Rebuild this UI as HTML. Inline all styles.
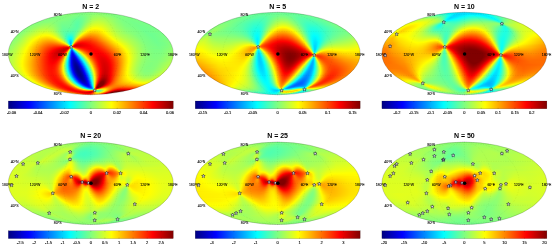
<!DOCTYPE html><html><head><meta charset="utf-8"><title>maps</title><style>
html,body{margin:0;padding:0;background:#fff}body{width:553px;height:244px;position:relative;overflow:hidden;font-family:"Liberation Sans", sans-serif}
.m{position:absolute;overflow:hidden}.m i{display:block;height:1px}
svg{position:absolute;left:0;top:0}
text{font-family:"Liberation Sans", sans-serif;fill:#000}
.t{font-size:7px;font-weight:bold;text-anchor:middle}.k{font-size:4px;text-anchor:middle}.g{font-size:3.5px;stroke:#000;stroke-width:0.07px}.k{stroke:#000;stroke-width:0.1px}
</style></head><body>
<div class="m" style="left:8px;top:12px;width:166px;height:83px;clip-path:ellipse(82.50px 41.25px at 82.80px 41.50px)">
<i style="background:linear-gradient(90deg,#82ff7d 68.8px,#81ff7e 76.8px,#8cff73 87.2px,#86ff79 96.8px)"></i>
<i style="background:linear-gradient(90deg,#86ff79 59.8px,#7eff81 74.8px,#8fff70 88.8px,#80ff7f 106.2px)"></i>
<i style="background:linear-gradient(90deg,#82ff7d 53.2px,#86ff79 61.8px,#7aff85 73.8px,#94ff6b 89.8px,#81ff7e 104.2px,#7dff82 112.2px)"></i>
<i style="background:linear-gradient(90deg,#81ff7e 48.2px,#85ff7a 61.2px,#76ff89 73.2px,#95ff6a 85.2px,#9aff65 90.2px,#80ff7f 107.2px,#7cff83 117.2px)"></i>
<i style="background:linear-gradient(90deg,#81ff7e 44.2px,#83ff7c 60.8px,#72ff8d 72.2px,#7bff84 76.8px,#9f6 85.2px,#a0ff5f 90.8px,#7fff80 108.8px,#7cff83 121.8px)"></i>
<i style="background:linear-gradient(90deg,#81ff7e 40.2px,#81ff7e 60.2px,#6eff91 71.8px,#78ff87 76.2px,#9eff61 85.2px,#a6ff59 90.8px,#a1ff5e 95.8px,#7eff81 110.8px,#7cff83 125.2px)"></i>
<i style="background:linear-gradient(90deg,#82ff7d 37.2px,#7fff80 60.2px,#69ff96 71.2px,#75ff8a 75.8px,#a2ff5d 84.8px,#adff52 90.8px,#a6ff59 96.2px,#7eff81 112.2px,#7bff84 128.8px)"></i>
<i style="background:linear-gradient(90deg,#81ff7e 34.2px,#86ff79 45.2px,#7dff82 60.2px,#68ff97 68.2px,#6f9 71.2px,#73ff8c 75.2px,#a8ff57 84.8px,#b3ff4c 90.8px,#acff53 96.2px,#7dff82 113.2px,#78ff87 120.2px,#7bff84 131.2px)"></i>
<i style="background:linear-gradient(90deg,#81ff7e 31.2px,#87ff78 46.2px,#79ff86 61.2px,#64ff9b 68.2px,#63ff9c 70.8px,#70ff8f 74.8px,#acff53 84.2px,#baff45 90.8px,#b2ff4d 96.2px,#7dff82 114.2px,#7f8 122.2px,#7bff84 134.2px)"></i>
<i style="background:linear-gradient(90deg,#81ff7e 28.8px,#8bff74 44.8px,#7bff84 54.2px,#76ff89 61.8px,#61ff9e 68.2px,#60ff9f 70.8px,#70ff8f 74.8px,#b4ff4b 84.2px,#beff41 87.2px,#c2ff3d 90.8px,#b8ff47 96.2px,#8cff73 108.8px,#7dff82 115.2px,#76ff89 123.8px,#7aff85 136.8px)"></i>
<i style="background:linear-gradient(90deg,#81ff7e 26.8px,#8fff70 43.2px,#78ff87 54.2px,#74ff8b 61.8px,#60ff9f 67.8px,#5dffa2 70.2px,#6eff91 74.2px,#b9ff46 83.8px,#c5ff3a 86.8px,#c9ff36 90.2px,#c0ff3f 95.8px,#8fff70 108.8px,#7dff82 115.8px,#75ff8a 125.8px,#7aff85 139.2px)"></i>
<i style="background:linear-gradient(90deg,#80ff7f 24.2px,#93ff6c 36.8px,#94ff6b 42.2px,#7f8 53.8px,#73ff8c 61.8px,#5effa1 67.8px,#5cffa3 70.2px,#70ff8f 74.2px,#a9ff56 80.2px,#bfff40 83.2px,#cf3 86.2px,#d1ff2e 89.8px,#c8ff37 95.2px,#92ff6d 108.8px,#7eff81 116.2px,#74ff8b 127.2px,#7aff85 141.2px)"></i>
<i style="background:linear-gradient(90deg,#80ff7f 22.2px,#97ff68 35.2px,#9aff65 41.2px,#91ff6e 45.8px,#74ff8b 53.8px,#71ff8e 61.8px,#5cffa3 67.8px,#5affa5 69.8px,#6fff90 73.8px,#adff52 79.8px,#c5ff3a 82.8px,#d6ff29 86.2px,#daff25 89.8px,#cfff30 95.2px,#97ff68 108.2px,#80ff7f 116.2px,#74ff8b 128.8px,#7aff85 143.2px)"></i>
<i style="background:linear-gradient(90deg,#81ff7e 20.8px,#9dff62 34.8px,#a0ff5f 40.8px,#96ff69 45.2px,#71ff8e 54.2px,#6fff90 61.8px,#5cffa3 67.2px,#5affa5 69.8px,#73ff8c 73.8px,#b1ff4e 79.2px,#cf3 82.2px,#deff21 85.8px,#e3ff1c 89.2px,#d8ff27 94.8px,#9aff65 108.2px,#7fff80 117.2px,#73ff8c 129.8px,#7f8 145.2px)"></i>
<i style="background:linear-gradient(90deg,#80ff7f 18.8px,#a3ff5c 33.8px,#a7ff58 39.8px,#9aff65 45.2px,#6fff90 54.2px,#6dff92 61.8px,#5affa5 69.2px,#62ff9d 71.2px,#73ff8c 73.2px,#b7ff48 78.8px,#d4ff2b 81.8px,#e8ff17 85.2px,#edff12 88.8px,#e3ff1c 93.8px,#9bff64 108.8px,#7fff80 118.2px,#72ff8d 132.2px,#7aff85 146.8px)"></i>
<i style="background:linear-gradient(90deg,#80ff7f 17.2px,#a8ff57 32.8px,#aeff51 39.2px,#a1ff5e 44.8px,#6cff93 54.8px,#6aff95 61.8px,#5affa5 68.8px,#62ff9d 70.8px,#74ff8b 72.8px,#c3ff3c 78.8px,#e1ff1e 81.8px,#f2ff0d 84.8px,#f8ff07 88.2px,#ebff14 93.8px,#a0ff5f 108.2px,#83ff7c 117.8px,#72ff8d 132.8px,#7f8 148.8px)"></i>
<i style="background:linear-gradient(90deg,#80ff7f 15.8px,#87ff78 19.8px,#afff50 32.2px,#b6ff49 38.8px,#a7ff58 44.8px,#6aff95 54.8px,#6f9 61.8px,#5affa5 68.2px,#63ff9c 70.2px,#75ff8a 72.2px,#cbff34 78.2px,#ef1 81.8px,#ff0 84.8px,#fffe00 90.2px,#efff10 94.8px,#a4ff5b 108.2px,#86ff79 117.2px,#71ff8e 133.8px,#7f8 150.2px)"></i>
<i style="background:linear-gradient(90deg,#80ff7f 14.2px,#89ff76 18.8px,#b8ff47 32.2px,#bfff40 38.8px,#adff52 44.8px,#76ff89 52.2px,#67ff98 55.2px,#5affa5 67.8px,#64ff9b 69.8px,#7f8 71.8px,#d4ff2b 77.8px,#fdff02 81.8px,#ffef00 86.8px,#fffd00 92.8px,#af5 107.8px,#8f7 117.8px,#71ff8e 135.2px,#78ff87 151.8px)"></i>
<i style="background:linear-gradient(90deg,#86ff79 12.8px,#80ff7f 13.2px,#84ff7b 15.8px,#bfff40 31.2px,#c8ff37 38.8px,#b5ff4a 44.8px,#78ff87 52.2px,#65ff9a 55.2px,#58ffa7 66.8px,#61ff9e 68.8px,#7bff84 71.2px,#d6ff29 76.8px,#fdff02 79.8px,#ffe800 83.2px,#ffe200 86.8px,#ffe800 90.2px,#fffe00 94.8px,#aeff51 107.8px,#8aff75 118.2px,#70ff8f 136.8px,#7aff85 152.8px)"></i>
<i style="background:linear-gradient(90deg,#86ff79 11.2px,#80ff7f 11.8px,#85ff7a 14.8px,#c8ff37 31.2px,#d3ff2c 38.8px,#caff35 42.2px,#baff45 45.2px,#7aff85 52.2px,#62ff9d 55.8px,#59ffa6 58.8px,#53ffac 65.2px,#5dffa2 67.8px,#7f8 70.2px,#d9ff26 75.8px,#feff01 78.2px,#ffdf00 81.8px,#ffd400 85.8px,#fd0 90.2px,#fffc00 95.8px,#b0ff4f 108.2px,#8cff73 118.8px,#70ff8f 137.2px,#78ff87 154.2px)"></i>
<i style="background:linear-gradient(90deg,#87ff78 10.2px,#81ff7e 10.8px,#8aff75 14.8px,#d5ff2a 32.2px,#deff21 38.8px,#d5ff2a 42.2px,#c4ff3b 45.2px,#79ff86 52.8px,#5effa1 56.2px,#50ffaf 60.2px,#4cffb3 64.2px,#57ffa8 66.8px,#73ff8c 69.2px,#feff01 76.8px,#ffd400 80.8px,#ffc500 85.2px,#ffd100 90.2px,#fffe00 97.2px,#b2ff4d 108.8px,#8dff72 119.8px,#70ff8f 138.2px,#79ff86 155.2px)"></i>
<i style="background:linear-gradient(90deg,#8f7 9.2px,#82ff7d 9.8px,#8bff74 13.8px,#e0ff1f 32.2px,#e9ff16 35.8px,#e9ff16 39.2px,#dfff20 42.8px,#cf3 45.8px,#afff50 48.8px,#79ff86 53.2px,#5affa5 56.8px,#47ffb8 60.2px,#42ffbd 63.2px,#4dffb2 65.8px,#6cff93 68.2px,#fdff02 75.2px,#ffdb00 77.8px,#ffc700 79.8px,#ffb900 82.2px,#ffb500 84.8px,#ffc500 90.2px,#fffd00 98.2px,#b3ff4c 109.8px,#9dff62 115.2px,#8aff75 122.8px,#6fff90 140.2px,#70ff8f 146.8px,#7cff83 156.2px)"></i>
<i style="background:linear-gradient(90deg,#8f7 8.2px,#83ff7c 9.2px,#8eff71 13.2px,#edff12 32.8px,#f5ff0a 36.2px,#f5ff0a 39.8px,#ecff13 42.8px,#d8ff27 45.8px,#baff45 48.8px,#7eff81 53.2px,#59ffa6 56.8px,#3effc1 60.2px,#36ffc9 62.8px,#3fffc0 64.8px,#59ffa6 66.8px,#80ff7f 68.8px,#efff10 73.2px,#fffa00 74.2px,#ffd800 76.2px,#ffba00 78.8px,#fa0 81.2px,#ffa400 84.2px,#fa0 87.2px,#ffb800 90.2px,#fffc00 99.2px,#cdff32 106.2px,#afff50 111.8px,#80ff7f 128.2px,#6eff91 142.8px,#7bff84 157.8px)"></i>
<i style="background:linear-gradient(90deg,#89ff76 7.2px,#83ff7c 7.8px,#85ff7a 9.2px,#93ff6c 13.2px,#faff05 33.2px,#fffb00 38.2px,#ff0 41.2px,#f1ff0e 44.2px,#df2 46.8px,#c1ff3e 49.2px,#80ff7f 53.8px,#48ffb7 58.2px,#30ffcf 60.8px,#29ffd6 62.8px,#31ffce 64.2px,#51ffae 66.2px,#81ff7e 68.2px,#cdff32 70.8px,#fffd00 72.8px,#fc0 75.2px,#ffac00 77.8px,#ff9a00 80.2px,#ff9300 83.2px,#ff9a00 86.8px,#ffab00 90.2px,#fffb00 100.2px,#ceff31 107.2px,#b3ff4c 112.2px,#80ff7f 129.8px,#6eff91 143.2px,#7dff82 157.8px,#79ff86 158.8px)"></i>
<i style="background:linear-gradient(90deg,#8aff75 6.2px,#83ff7c 6.8px,#85ff7a 8.2px,#98ff67 13.2px,#feff01 31.2px,#ffed00 38.2px,#fff000 41.2px,#fffd00 44.2px,#edff12 46.8px,#d0ff2f 49.2px,#29ffd6 60.2px,#1cffe3 61.8px,#1bffe4 62.8px,#27ffd8 64.2px,#46ffb9 65.8px,#81ff7e 67.8px,#caff35 69.8px,#f9ff06 71.2px,#fff700 71.8px,#ffbf00 74.2px,#ff9c00 76.8px,#ff8600 79.8px,#ff8100 82.8px,#f80 86.2px,#ff9e00 90.2px,#ff0 101.8px,#d2ff2d 107.8px,#b5ff4a 113.2px,#80ff7f 130.8px,#6fff90 144.2px,#7cff83 159.2px)"></i>
<i style="background:linear-gradient(90deg,#8aff75 5.2px,#84ff7b 5.8px,#87ff78 7.8px,#9bff64 12.8px,#feff01 29.2px,#ffe600 34.8px,#ffde00 38.8px,#ffe600 42.8px,#fffc00 46.2px,#ef1 48.2px,#c4ff3b 51.2px,#18ffe7 60.8px,#0dfff2 61.8px,#0bfff4 62.8px,#14ffeb 63.8px,#37ffc8 65.2px,#7fff80 67.2px,#c2ff3d 68.8px,#fcff03 70.2px,#ffbc00 72.8px,#ff9100 75.2px,#ff7600 78.2px,#ff6e00 81.8px,#ff7500 85.2px,#ff8a00 89.2px,#fcff03 103.2px,#d4ff2b 108.8px,#b7ff48 114.2px,#7fff80 132.2px,#6fff90 145.2px,#7dff82 160.2px)"></i>
<i style="background:linear-gradient(90deg,#8cff73 4.8px,#85ff7a 5.2px,#87ff78 6.8px,#9eff61 12.2px,#ff0 27.8px,#ffdb00 34.2px,#ffcf00 39.2px,#ffd900 43.8px,#fffc00 48.2px,#e8ff17 50.2px,#b5ff4a 53.2px,#0dfff2 60.8px,#00fdff 61.8px,#00feff 63.2px,#14ffeb 64.2px,#37ffc8 65.2px,#7bff84 66.8px,#cdff32 68.2px,#fcff03 69.2px,#ffca00 70.8px,#ffad00 71.8px,#ff7f00 74.2px,#ff6300 77.2px,#ff5a00 80.8px,#ff6300 84.8px,#ff7d00 89.2px,#feff01 104.2px,#d6ff29 109.8px,#baff45 115.2px,#7fff80 133.2px,#6fff90 145.8px,#7cff83 161.2px)"></i>
<i style="background:linear-gradient(90deg,#8cff73 3.8px,#86ff79 4.2px,#89ff76 6.2px,#a0ff5f 11.8px,#c3ff3c 17.8px,#ff0 26.2px,#ffce00 34.2px,#ffbf00 40.2px,#ffce00 45.2px,#ffe200 47.8px,#feff01 50.2px,#d6ff29 52.8px,#acff53 54.8px,#5cffa3 57.8px,#03fffc 60.8px,#00e9ff 62.2px,#00efff 63.2px,#00faff 63.8px,#0cfff3 64.2px,#2fd 64.8px,#75ff8a 66.2px,#f5ff0a 68.2px,#fe0 68.8px,#ffc100 69.8px,#ff9f00 70.8px,#ff8500 71.8px,#ff6a00 73.2px,#ff4f00 76.2px,#ff4700 79.8px,#ff4f00 83.8px,#ff6c00 88.8px,#fffe00 105.2px,#d9ff26 110.8px,#bdff42 116.2px,#7fff80 134.2px,#70ff8f 147.2px,#7fff80 161.8px)"></i>
<i style="background:linear-gradient(90deg,#8eff71 3.2px,#87ff78 3.8px,#8aff75 5.8px,#a3ff5c 11.2px,#fffe00 25.2px,#ffc100 34.2px,#ffb300 37.8px,#ffaf00 40.8px,#ffb400 43.8px,#ffc300 46.8px,#ffda00 49.2px,#fffc00 51.8px,#df2 53.8px,#adff52 55.8px,#5cffa3 58.2px,#00fcff 60.8px,#00e0ff 61.8px,#00d9ff 62.2px,#00e0ff 63.2px,#00f0ff 63.8px,#08fff7 64.2px,#25ffda 64.8px,#6bff94 65.8px,#e4ff1b 67.2px,#fff700 67.8px,#ffbc00 68.8px,#ff9000 69.8px,#ff7200 70.8px,#ff5c00 71.8px,#ff3f00 74.2px,#f30 78.2px,#ff3c00 82.8px,#ff5b00 88.2px,#ff0 106.8px,#dcff23 111.8px,#bdff42 117.8px,#7fff80 135.2px,#70ff8f 147.8px,#83ff7c 161.8px,#7fff80 162.8px)"></i>
<i style="background:linear-gradient(90deg,#95ff6a 2.2px,#8f7 2.8px,#89ff76 3.2px,#9bff64 8.8px,#c3ff3c 15.8px,#fdff02 23.8px,#ffb200 34.8px,#ffa300 38.2px,#ff9e00 41.8px,#ffa500 45.2px,#ffb700 48.2px,#ffd700 51.2px,#feff01 53.8px,#dcff23 55.2px,#aeff51 56.8px,#5effa1 58.8px,#00fcff 60.8px,#00d5ff 61.8px,#00caff 62.2px,#00c9ff 62.8px,#00d3ff 63.2px,#00e9ff 63.8px,#0afff5 64.2px,#32ffcd 64.8px,#f3ff0c 66.8px,#ffe000 67.2px,#ffbc00 67.8px,#ff8300 68.8px,#ff5d00 69.8px,#f40 70.8px,#ff3500 71.8px,#ff2700 73.2px,#ff1f00 76.8px,#ff2b00 82.2px,#ff4e00 88.2px,#feff01 108.2px,#dcff23 113.2px,#bdff42 119.2px,#7fff80 135.8px,#71ff8e 148.2px,#84ff7b 162.8px,#80ff7f 163.2px)"></i>
<i style="background:linear-gradient(90deg,#97ff68 1.8px,#8aff75 2.2px,#8bff74 3.2px,#9dff62 8.2px,#c5ff3a 15.2px,#fdff02 22.8px,#ffa300 35.2px,#ff9100 39.2px,#ff8c00 42.8px,#ff9300 46.2px,#ffa800 49.8px,#ffca00 52.8px,#fff900 55.2px,#eaff15 56.2px,#b2ff4d 57.8px,#65ff9a 59.2px,#09fff6 60.8px,#00eaff 61.2px,#00d0ff 61.8px,#00bfff 62.2px,#00bcff 62.8px,#00c9ff 63.2px,#00e8ff 63.8px,#16ffe9 64.2px,#8f7 65.2px,#caff35 65.8px,#fff800 66.2px,#ffc500 66.8px,#ff9a00 67.2px,#ff7800 67.8px,#ff5d00 68.2px,#ff3700 69.2px,#f20 70.2px,#ff1500 71.2px,#ff0b00 74.8px,#ff1a00 81.2px,#ff3e00 87.8px,#ff6a00 93.2px,#ffdc00 105.2px,#fdff02 109.8px,#d9ff26 115.2px,#b7ff48 121.8px,#7fff80 136.8px,#71ff8e 148.8px,#7f8 155.2px,#86ff79 163.2px,#82ff7d 163.8px)"></i>
<i style="background:linear-gradient(90deg,#98ff67 1.2px,#8cff73 1.8px,#8cff73 2.8px,#9fff60 7.8px,#c7ff38 14.8px,#fffe00 22.2px,#ff9700 35.2px,#ff8000 39.8px,#ff7900 43.8px,#ff8200 48.2px,#ff9f00 52.2px,#ffca00 55.2px,#feff01 57.2px,#b9ff46 58.8px,#52ffad 60.2px,#0ff 61.2px,#00d9ff 61.8px,#00bdff 62.2px,#00b5ff 62.8px,#00c7ff 63.2px,#00f3ff 63.8px,#36ffc9 64.2px,#80ff7f 64.8px,#d5ff2a 65.2px,#ffde00 65.8px,#ffa000 66.2px,#ff7100 66.8px,#ff4c00 67.2px,#ff3200 67.8px,#ff1000 68.8px,#f00 69.8px,#fb0000 70.2px,#f60000 72.8px,#ff0100 77.2px,#ff2900 86.2px,#ff5a00 92.8px,#fc0 104.8px,#fffe00 110.8px,#b5ff4a 123.2px,#7fff80 137.2px,#72ff8d 149.2px,#78ff87 155.8px,#8f7 163.8px,#83ff7c 164.2px)"></i>
<i style="background:linear-gradient(90deg,#9aff65 0.8px,#8dff72 1.2px,#8eff71 2.2px,#a1ff5e 7.2px,#c9ff36 14.2px,#feff01 21.2px,#ff8400 36.2px,#ff6d00 40.8px,#ff6400 45.2px,#ff6e00 50.2px,#ff8900 54.2px,#ffb000 56.8px,#fc0 57.8px,#fff600 58.8px,#ecff13 59.2px,#c9ff36 59.8px,#6cff93 60.8px,#02fffd 61.8px,#00d3ff 62.2px,#00c0ff 62.8px,#00d7ff 63.2px,#1bffe4 63.8px,#7f8 64.2px,#e6ff19 64.8px,#ffb900 65.2px,#ff7100 65.8px,#ff3e00 66.2px,#ff1b00 66.8px,#ff0500 67.2px,#f50000 67.8px,#e60000 68.8px,#e20000 70.2px,#ff0100 79.8px,#ff1c00 85.8px,#ff5200 93.2px,#ffcd00 106.2px,#ff0 112.2px,#d6ff29 118.2px,#b0ff4f 125.2px,#7fff80 138.2px,#73ff8c 149.8px,#79ff86 156.2px,#8aff75 164.2px,#85ff7a 164.8px)"></i>
<i style="background:linear-gradient(90deg,#95ff6a 0.8px,#8fff70 1.2px,#91ff6e 2.8px,#af5 8.2px,#ceff31 14.2px,#fffe00 20.8px,#ff9800 32.2px,#ff7200 37.2px,#ff5800 42.2px,#ff4d00 47.2px,#f50 53.2px,#ff6c00 56.8px,#ff7c00 57.8px,#ff9600 58.8px,#ffc200 59.8px,#ffe300 60.2px,#ef1 60.8px,#b1ff4e 61.2px,#28ffd7 62.2px,#02fffd 62.8px,#1bffe4 63.2px,#75ff8a 63.8px,#fcff03 64.2px,#ff8c00 64.8px,#ff3c00 65.2px,#ff0b00 65.8px,#ef0000 66.2px,#d90000 67.2px,#d50000 68.2px,#f00 81.2px,#ff1600 86.2px,#ff4b00 93.8px,#ffcf00 107.8px,#fdff02 113.8px,#afff50 126.2px,#7fff80 138.8px,#74ff8b 150.2px,#7aff85 156.8px,#8bff74 164.2px,#87ff78 165.2px)"></i>
<i style="background:linear-gradient(90deg,#9dff62 0.2px,#91ff6e 0.8px,#92ff6d 1.2px,#a4ff5b 6.2px,#c9ff36 12.8px,#fdff02 19.8px,#ff7e00 34.2px,#ff5300 40.2px,#ff3600 47.2px,#ff2a00 55.8px,#ff3400 58.8px,#ff4300 59.8px,#ff5100 60.2px,#ff6700 60.8px,#ff8b00 61.2px,#ffc700 61.8px,#e3ff1c 62.2px,#96ff69 62.8px,#90ff6f 63.2px,#e7ff18 63.8px,#ff9c00 64.2px,#ff3e00 64.8px,#ff0c00 65.2px,#f40000 65.8px,#e60000 66.8px,#e40000 67.8px,#f00 82.2px,#ff1300 87.2px,#ff4700 94.8px,#ffcd00 108.8px,#feff01 114.8px,#d4ff2b 120.8px,#aeff51 127.2px,#93ff6c 133.2px,#80ff7f 139.2px,#76ff89 151.2px,#8bff74 165.2px)"></i>
<i style="background:linear-gradient(90deg,#93ff6c 0.2px,#9f6 3.2px,#b5ff4a 8.8px,#feff01 19.2px,#ff7500 34.2px,#ff4d00 39.2px,#ff2b00 44.8px,#f00 54.8px,#e70000 59.2px,#ea0000 60.2px,#f40000 60.8px,#ff0f00 61.2px,#ff4800 61.8px,#ffaf00 62.2px,#ceff31 62.8px,#7cff83 63.2px,#8dff72 63.8px,#e3ff1c 64.2px,#ffc400 64.8px,#f80 65.2px,#ff6200 65.8px,#ff4a00 66.2px,#ff2f00 67.2px,#ff1b00 68.8px,#ff1000 70.2px,#f00 75.8px,#ff0100 83.8px,#ff1f00 90.8px,#ff5200 97.2px,#ffcb00 109.8px,#ff0 115.8px,#d3ff2c 121.8px,#afff50 127.8px,#93ff6c 133.8px,#80ff7f 139.8px,#7f8 151.2px,#7eff81 157.8px,#8fff70 164.8px,#8aff75 165.8px)"></i>
<i style="background:linear-gradient(90deg,#95ff6a 0.2px,#9bff64 2.8px,#b8ff47 8.8px,#ff0 18.8px,#ff4a00 38.2px,#f20 43.8px,#fd0000 49.8px,#c90000 58.2px,#c00 59.2px,#d40000 59.8px,#e40000 60.2px,#ff0500 60.8px,#ff3d00 61.2px,#ff9c00 61.8px,#daff25 62.2px,#4affb5 62.8px,#00ecff 63.2px,#00d9ff 63.8px,#08fff7 64.2px,#9dff62 65.2px,#e0ff1f 65.8px,#ffea00 66.2px,#ffc300 66.8px,#ffa400 67.2px,#ff7900 68.2px,#ff5100 69.8px,#ff3900 71.2px,#ff1f00 73.8px,#ff0d00 76.8px,#ff0100 80.2px,#f00 83.8px,#ff0f00 89.2px,#ff3100 94.8px,#feff01 116.8px,#d1ff2e 122.8px,#acff53 128.8px,#91ff6e 134.8px,#80ff7f 140.2px,#78ff87 146.2px,#78ff87 152.8px,#92ff6d 165.8px)"></i>
<i style="background:linear-gradient(90deg,#97ff68 0.2px,#a0ff5f 3.2px,#bcff43 8.8px,#ff0 18.2px,#ff4500 37.8px,#fe0000 46.8px,#cd0000 54.2px,#c30000 56.8px,#c00 58.2px,#e70000 59.2px,#ff0300 59.8px,#ff2c00 60.2px,#ff6900 60.8px,#ffbf00 61.2px,#cf3 61.8px,#4effb1 62.2px,#00deff 62.8px,#008eff 63.2px,#0073ff 63.8px,#0089ff 64.2px,#00bdff 64.8px,#00fdff 65.2px,#73ff8c 66.2px,#d5ff2a 67.2px,#fbff04 67.8px,#ffe400 68.2px,#ffb200 69.2px,#ff7f00 70.8px,#ff5c00 72.2px,#ff3b00 74.2px,#ff2000 76.8px,#ff0f00 79.2px,#ff0300 82.2px,#f00 85.2px,#ff0c00 90.2px,#ff2e00 95.8px,#ff5f00 101.2px,#fd0 113.8px,#fdff02 117.8px,#ceff31 123.8px,#acff53 129.2px,#92ff6d 134.8px,#80ff7f 140.8px,#7aff85 152.8px,#93ff6c 165.8px)"></i>
<i style="background:linear-gradient(90deg,#9f6 0.2px,#bdff42 8.2px,#ff0 17.8px,#ffc400 24.2px,#ff3900 38.2px,#fc0000 45.2px,#cf0000 51.8px,#c20000 55.2px,#c60000 56.2px,#d30000 57.2px,#e00 58.2px,#ff0700 58.8px,#ff2700 59.2px,#ff5300 59.8px,#ff8e00 60.2px,#ffdb00 60.8px,#c4ff3b 61.2px,#5dffa2 61.8px,#00faff 62.2px,#00a3ff 62.8px,#0063ff 63.2px,#0046ff 63.8px,#004aff 64.2px,#0069ff 64.8px,#01fffe 66.2px,#5effa1 67.2px,#aeff51 68.2px,#f0ff0f 69.2px,#fff300 69.8px,#ffb300 71.2px,#ff8400 72.8px,#ff6200 74.2px,#ff4000 76.2px,#f20 78.8px,#ff0f00 81.2px,#ff0400 83.8px,#f00 86.8px,#ff0c00 91.8px,#ff2f00 97.2px,#feff01 118.2px,#d2ff2d 123.8px,#aeff51 129.2px,#94ff6b 134.8px,#81ff7e 140.8px,#7aff85 146.8px,#7bff84 152.8px,#95ff6a 165.8px)"></i>
<i style="background:linear-gradient(90deg,#9cff63 0.2px,#c0ff3f 8.2px,#ff0 17.2px,#ffc500 23.8px,#ff3c00 37.2px,#f00 43.8px,#d20000 49.8px,#c30000 53.2px,#c70000 54.8px,#d00000 55.8px,#f30000 57.2px,#ff0900 57.8px,#ff4600 58.8px,#ff7200 59.2px,#ffa900 59.8px,#ffed00 60.2px,#c1ff3e 60.8px,#18ffe7 61.8px,#00c6ff 62.2px,#0080ff 62.8px,#004bff 63.2px,#002dff 63.8px,#0028ff 64.2px,#0037ff 64.8px,#05f 65.2px,#02fffd 67.2px,#50ffaf 68.2px,#b6ff49 69.8px,#ef1 70.8px,#fff800 71.2px,#fb0 72.8px,#ff8000 74.8px,#ff5600 76.8px,#ff3600 78.8px,#ff1b00 81.2px,#ff0900 83.8px,#f00 86.2px,#f00 89.8px,#f10 94.2px,#ff3600 99.2px,#ff0 118.8px,#d1ff2e 124.2px,#adff52 129.8px,#93ff6c 135.2px,#82ff7d 140.8px,#7bff84 146.8px,#7cff83 153.2px,#98ff67 165.8px)"></i>
<i style="background:linear-gradient(90deg,#9fff60 0.2px,#c0ff3f 7.8px,#feff01 16.8px,#ffc600 23.2px,#ff2700 38.8px,#fc0000 43.2px,#d50000 48.2px,#c60000 51.8px,#cf0000 54.2px,#d00 55.2px,#f60000 56.2px,#ff0900 56.8px,#ff1f00 57.2px,#ff5e00 58.2px,#f80 58.8px,#fb0 59.2px,#fff700 59.8px,#c1ff3e 60.2px,#2fffd0 61.2px,#00e7ff 61.8px,#00a3ff 62.2px,#0068ff 62.8px,#003aff 63.2px,#001dff 63.8px,#0012ff 64.2px,#0017ff 64.8px,#002aff 65.2px,#0046ff 65.8px,#04fffb 68.2px,#49ffb6 69.2px,#c0ff3f 71.2px,#f2ff0d 72.2px,#fff600 72.8px,#ffbd00 74.2px,#ff8200 76.2px,#ff5700 78.2px,#ff2f00 80.8px,#ff1500 83.2px,#ff0400 85.8px,#fe0000 91.8px,#f10 95.8px,#ff3900 100.8px,#ff0 119.2px,#d0ff2f 124.8px,#afff50 129.8px,#94ff6b 135.2px,#83ff7c 140.8px,#7cff83 146.8px,#7eff81 153.2px,#9bff64 165.8px)"></i>
<i style="background:linear-gradient(90deg,#a1ff5e 0.2px,#c1ff3e 7.2px,#fffc00 16.8px,#ffbe00 23.8px,#ff1d00 39.2px,#fb0000 42.8px,#d70000 47.2px,#ca0000 50.8px,#d40000 53.2px,#e10000 54.2px,#f80000 55.2px,#ff0800 55.8px,#ff1b00 56.2px,#ff4f00 57.2px,#ff9800 58.2px,#fffd00 59.2px,#04fffb 61.2px,#00c4ff 61.8px,#0056ff 62.8px,#002eff 63.2px,#0012ff 63.8px,#0003ff 64.2px,#0002ff 64.8px,#000bff 65.2px,#0039ff 66.2px,#00e4ff 68.8px,#06fff9 69.2px,#61ff9e 70.8px,#cdff32 72.8px,#fbff04 73.8px,#fe0 74.2px,#ffa800 76.2px,#ff7300 78.2px,#ff4a00 80.2px,#ff2500 82.8px,#ff1000 84.8px,#f00 87.2px,#f80000 90.2px,#f00 93.8px,#ff1200 97.2px,#ff3800 101.8px,#ff0 119.8px,#cfff30 125.2px,#adff52 130.2px,#95ff6a 135.2px,#84ff7b 140.8px,#7dff82 146.8px,#7fff80 153.2px,#9dff62 165.8px)"></i>
<i style="background:linear-gradient(90deg,#a4ff5b 0.2px,#c3ff3c 7.2px,#fffd00 16.2px,#fb0 23.8px,#ff1e00 38.8px,#fb0000 42.2px,#d90000 46.8px,#ce0000 50.2px,#d00 52.8px,#f80000 54.2px,#ff0700 54.8px,#ff2b00 55.8px,#ff5e00 56.8px,#ffa300 57.8px,#ff0 58.8px,#1cffe3 60.8px,#00e2ff 61.2px,#0076ff 62.2px,#0049ff 62.8px,#0024ff 63.2px,#0008ff 63.8px,#0000f7 64.2px,#0000f1 64.8px,#0002ff 65.8px,#0015ff 66.2px,#004aff 67.2px,#00eaff 69.8px,#0afff5 70.2px,#c5ff3a 73.8px,#f3ff0c 74.8px,#fff600 75.2px,#ffaf00 77.2px,#f70 79.2px,#ff4300 81.8px,#ff1f00 84.2px,#f00 87.8px,#f50000 91.2px,#fe0000 95.2px,#ff1400 98.8px,#ff3900 102.8px,#ffd600 116.2px,#fdff02 120.2px,#d0ff2f 125.2px,#aeff51 130.2px,#95ff6a 135.2px,#84ff7b 140.8px,#7eff81 146.2px,#80ff7f 152.8px,#9fff60 165.8px)"></i>
<i style="background:linear-gradient(90deg,#a6ff59 0.2px,#c6ff39 7.2px,#fffe00 15.8px,#ffb300 24.2px,#fd0000 41.8px,#dc0000 46.2px,#d30000 49.2px,#e10000 51.8px,#ff0500 53.8px,#ff3700 55.2px,#ff6900 56.2px,#fa0 57.2px,#fffe00 58.2px,#00fcff 60.8px,#0067ff 62.2px,#001bff 63.2px,#0001ff 63.8px,#00e 64.2px,#0000e5 64.8px,#0000e4 65.2px,#0000f8 66.2px,#000cff 66.8px,#005aff 68.2px,#00f1ff 70.8px,#0efff1 71.2px,#a9ff56 74.2px,#efff10 75.8px,#fffa00 76.2px,#ffb200 78.2px,#ff6d00 80.8px,#ff4300 82.8px,#ff1c00 85.2px,#f00 88.2px,#f20000 92.2px,#fe0000 96.8px,#ff1400 99.8px,#ff3b00 103.8px,#fffe00 120.2px,#d1ff2e 125.2px,#aeff51 130.2px,#95ff6a 135.2px,#85ff7a 140.8px,#7eff81 146.2px,#80ff7f 152.2px,#a1ff5e 165.8px)"></i>
<i style="background:linear-gradient(90deg,#a8ff57 0.2px,#c5ff3a 6.8px,#feff01 15.2px,#ffba00 23.2px,#ff1e00 38.2px,#fc0000 41.8px,#e20000 45.2px,#d90000 48.2px,#e40000 50.8px,#ff0300 52.8px,#ff2e00 54.2px,#ff5700 55.2px,#ffae00 56.8px,#fffc00 57.8px,#d6ff29 58.2px,#16ffe9 60.2px,#00e4ff 60.8px,#0086ff 61.8px,#0035ff 62.8px,#0015ff 63.2px,#0000fa 63.8px,#0000e7 64.2px,#0000d7 65.2px,#0000e2 66.2px,#0004ff 67.2px,#004dff 68.8px,#00f8ff 71.8px,#15ffea 72.2px,#c2ff3d 75.8px,#efff10 76.8px,#fffb00 77.2px,#ffb200 79.2px,#ff6b00 81.8px,#ff3700 84.2px,#ff1200 86.8px,#fe0000 88.8px,#f30000 90.8px,#e00 93.2px,#fd0000 97.8px,#ff1000 100.2px,#f30 103.8px,#ffd400 116.8px,#fdff02 120.8px,#ceff31 125.8px,#aeff51 130.2px,#95ff6a 135.2px,#85ff7a 140.8px,#7fff80 146.2px,#82ff7d 152.2px,#a3ff5c 165.8px)"></i>
<i style="background:linear-gradient(90deg,#af5 0.2px,#c4ff3b 6.2px,#fffd00 15.2px,#ffb800 23.2px,#ff1d00 38.2px,#fb0000 41.8px,#e40000 45.2px,#df0000 47.8px,#e70000 49.8px,#ff0100 51.8px,#ff2500 53.2px,#ff5d00 54.8px,#ffaf00 56.2px,#fff700 57.2px,#deff21 57.8px,#00feff 60.2px,#0052ff 62.2px,#000fff 63.2px,#0000f5 63.8px,#0000d4 64.8px,#00c 65.8px,#0000db 66.8px,#0000fb 67.8px,#01f 68.2px,#0042ff 69.2px,#02fffd 72.8px,#c6ff39 76.8px,#f2ff0d 77.8px,#fff700 78.2px,#ffaf00 80.2px,#ff6700 82.8px,#ff3200 85.2px,#ff0d00 87.8px,#fd0000 89.2px,#f00000 91.2px,#eb0000 93.8px,#ef0000 96.2px,#fd0000 98.8px,#ff1200 101.2px,#ff3700 104.8px,#ffcb00 116.2px,#feff01 120.8px,#ceff31 125.8px,#aeff51 130.2px,#95ff6a 135.2px,#85ff7a 140.8px,#80ff7f 146.2px,#83ff7c 151.8px,#a6ff59 165.8px)"></i>
<i style="background:linear-gradient(90deg,#acff53 0.2px,#c6ff39 6.2px,#ff0 14.8px,#fb0 22.8px,#ff2100 37.8px,#fc0000 41.8px,#ec0000 44.2px,#e50000 46.8px,#ea0000 48.8px,#f00 50.8px,#ff1e00 52.2px,#ff4d00 53.8px,#ff9200 55.2px,#fff100 56.8px,#e8ff17 57.2px,#18ffe7 59.8px,#00ecff 60.2px,#0071ff 61.8px,#0029ff 62.8px,#000bff 63.2px,#0000f1 63.8px,#0000cf 64.8px,#0000c2 65.8px,#0000ca 66.8px,#0000f4 68.2px,#0009ff 68.8px,#0051ff 70.2px,#00f1ff 73.2px,#0cfff3 73.8px,#e3ff1c 78.2px,#f8ff07 78.8px,#fff100 79.2px,#ffa900 81.2px,#ff6100 83.8px,#ff2b00 86.2px,#ff0700 88.8px,#fc0000 89.8px,#e00 91.8px,#e70000 94.2px,#ec0000 96.8px,#fd0000 99.8px,#ff3700 105.2px,#ffc300 115.8px,#ff0 120.8px,#ceff31 125.8px,#adff52 130.2px,#94ff6b 135.2px,#86ff79 140.2px,#80ff7f 145.8px,#83ff7c 151.2px,#a9ff56 165.8px)"></i>
<i style="background:linear-gradient(90deg,#aeff51 0.2px,#c5ff3a 5.8px,#fffd00 14.8px,#ffbd00 22.2px,#ff2500 37.2px,#fd0000 41.8px,#eb0000 46.2px,#f10000 48.2px,#fe0000 49.8px,#ff0600 50.2px,#ff2400 51.8px,#ff5100 53.2px,#ff9100 54.8px,#ffe900 56.2px,#f3ff0c 56.8px,#08fff7 59.8px,#00deff 60.2px,#0069ff 61.8px,#0026ff 62.8px,#0009ff 63.2px,#0000ef 63.8px,#0000ca 64.8px,#0000c0 65.2px,#0000b8 66.2px,#0000bc 66.8px,#0000ce 67.8px,#0002ff 69.2px,#0048ff 70.8px,#00fdff 74.2px,#18ffe7 74.8px,#bfff40 78.2px,#fffd00 79.8px,#ffb100 81.8px,#ff6500 84.2px,#ff2d00 86.8px,#ff0600 89.2px,#f00 89.8px,#eb0000 92.2px,#e40000 94.8px,#e90000 97.2px,#fc0000 100.2px,#ff0a00 101.8px,#ff3100 105.2px,#ffc100 115.8px,#ff0 120.8px,#d2ff2d 125.2px,#afff50 129.8px,#97ff68 134.2px,#87ff78 139.2px,#82ff7d 148.8px,#8eff71 155.8px,#af5 164.2px,#abff54 165.2px,#9fff60 165.8px)"></i>
<i style="background:linear-gradient(90deg,#bf4 0.2px,#b1ff4e 0.8px,#b9ff46 3.2px,#feff01 14.2px,#ffc100 21.8px,#ff2900 36.8px,#fe0000 41.8px,#f00000 45.8px,#fe0000 48.8px,#ff1300 50.2px,#ff3400 51.8px,#ff6400 53.2px,#ffa700 54.8px,#feff01 56.2px,#21ffde 59.2px,#00faff 59.8px,#0064ff 61.8px,#0023ff 62.8px,#0007ff 63.2px,#0000ed 63.8px,#0000c8 64.8px,#0000bc 65.2px,#0000b4 65.8px,#0000b1 66.8px,#0000c9 68.2px,#0000fb 69.8px,#0040ff 71.2px,#00f2ff 74.8px,#0cfff3 75.2px,#e2ff1d 79.8px,#f8ff07 80.2px,#fff100 80.8px,#ffa600 82.8px,#ff5b00 85.2px,#ff2d00 87.2px,#ff0400 89.8px,#e80000 92.8px,#e10000 95.2px,#e70000 97.8px,#fb0000 100.8px,#ff0500 101.8px,#ff2d00 105.2px,#ffc000 115.8px,#ff0 120.8px,#d1ff2e 125.2px,#aeff51 129.8px,#96ff69 134.2px,#87ff78 139.2px,#81ff7e 144.2px,#83ff7c 149.2px,#90ff6f 155.8px,#abff54 163.2px,#adff52 164.8px,#a7ff58 165.2px)"></i>
<i style="background:linear-gradient(90deg,#b8ff47 0.8px,#b4ff4b 1.2px,#beff41 4.2px,#ff0 14.2px,#ffb100 23.2px,#ff2000 37.8px,#fe0000 42.2px,#f50000 45.2px,#fe0000 47.8px,#ff2000 50.2px,#ff4300 51.8px,#ff7600 53.2px,#fb0 54.8px,#fff300 55.8px,#ebff14 56.2px,#16ffe9 59.2px,#00f0ff 59.8px,#0061ff 61.8px,#0023ff 62.8px,#0007ff 63.2px,#0000ed 63.8px,#0000b9 65.2px,#0000a8 66.8px,#0000b8 68.2px,#0000d2 69.2px,#0000f6 70.2px,#000bff 70.8px,#0038ff 71.8px,#02fffd 75.8px,#d9ff26 80.2px,#fff800 81.2px,#fa0 83.2px,#ff5c00 85.8px,#ff2c00 87.8px,#ff0200 90.2px,#e80000 92.8px,#df0000 95.2px,#e50000 98.2px,#fb0000 101.2px,#ff0600 102.2px,#ff2900 105.2px,#ffc600 116.2px,#ff0 120.8px,#d0ff2f 125.2px,#b0ff4f 129.2px,#97ff68 133.8px,#87ff78 138.8px,#83ff7c 148.2px,#91ff6e 155.2px,#aeff51 163.2px,#afff50 164.8px,#a3ff5c 165.2px)"></i>
<i style="background:linear-gradient(90deg,#bfff40 0.8px,#b5ff4a 1.2px,#bcff43 3.8px,#fffe00 14.2px,#ffb500 22.8px,#ff2500 37.2px,#ff0d00 40.2px,#fe0000 42.8px,#fa0000 44.8px,#f00 46.8px,#ff1200 48.8px,#ff2b00 50.2px,#ff5000 51.8px,#ff7200 52.8px,#ffb100 54.2px,#faff05 55.8px,#0efff1 59.2px,#00eaff 59.8px,#0060ff 61.8px,#0023ff 62.8px,#0008ff 63.2px,#00e 63.8px,#0000c7 64.8px,#0000ad 65.8px,#0000a1 67.2px,#0000b4 68.8px,#0000ce 69.8px,#0000f1 70.8px,#0006ff 71.2px,#0062ff 73.2px,#00f9ff 76.2px,#12ffed 76.8px,#fffe00 81.8px,#ffad00 83.8px,#ff5c00 86.2px,#ff2100 88.8px,#fe0000 90.8px,#e50000 93.2px,#d00 95.8px,#e40000 98.8px,#fc0000 101.8px,#ff2c00 105.8px,#ffc600 116.2px,#fdff02 120.8px,#ceff31 125.2px,#aeff51 129.2px,#95ff6a 133.8px,#86ff79 138.8px,#81ff7e 144.2px,#86ff79 149.8px,#b1ff4e 163.2px,#b1ff4e 164.2px,#a4ff5b 164.8px)"></i>
<i style="background:linear-gradient(90deg,#c2ff3d 1.2px,#b7ff48 1.8px,#bfff40 4.2px,#fffd00 14.2px,#ffb900 22.2px,#ff2100 37.8px,#ff0800 41.2px,#f00 43.8px,#ff0100 45.8px,#ff0a00 47.2px,#ff1a00 48.8px,#ff3500 50.2px,#ff5c00 51.8px,#ff7e00 52.8px,#ffbf00 54.2px,#fff300 55.2px,#edff12 55.8px,#09fff6 59.2px,#00e6ff 59.8px,#0061ff 61.8px,#0025ff 62.8px,#000aff 63.2px,#0000f1 63.8px,#0000c8 64.8px,#0000ac 65.8px,#00009d 66.8px,#00009b 67.8px,#0000a6 68.8px,#0000bc 69.8px,#0002ff 71.8px,#005cff 73.8px,#00f2ff 76.8px,#0cfff3 77.2px,#fdff02 82.2px,#ff9c00 84.8px,#ff5b00 86.8px,#ff2900 88.8px,#ff0300 90.8px,#e20000 93.8px,#da0000 96.2px,#e40000 99.2px,#fe0000 102.2px,#ff3100 106.2px,#ffd500 117.2px,#fcff03 120.8px,#cf3 125.2px,#adff52 129.2px,#94ff6b 133.8px,#86ff79 138.2px,#81ff7e 143.8px,#87ff78 149.2px,#b3ff4c 162.8px,#b3ff4c 163.8px,#a6ff59 164.2px)"></i>
<i style="background:linear-gradient(90deg,#c4ff3b 1.8px,#baff45 2.2px,#c1ff3e 4.8px,#fffd00 14.2px,#ffb900 22.2px,#f20 37.8px,#ff0a00 41.2px,#ff0300 44.2px,#ff1000 47.2px,#f20 48.8px,#ff3e00 50.2px,#f60 51.8px,#ff8900 52.8px,#ffc900 54.2px,#fffe00 55.2px,#c5ff3a 56.2px,#06fff9 59.2px,#00e4ff 59.8px,#0029ff 62.8px,#000eff 63.2px,#0000f5 63.8px,#0000cb 64.8px,#0000ad 65.8px,#00009b 66.8px,#000095 67.8px,#00009b 68.8px,#0000ad 69.8px,#0000c7 70.8px,#0000fd 72.2px,#0058ff 74.2px,#00edff 77.2px,#07fff8 77.8px,#fbff04 82.8px,#ffed00 83.2px,#ff9c00 85.2px,#ff5900 87.2px,#ff2500 89.2px,#f00 91.2px,#e30000 93.8px,#d90000 96.2px,#e10000 99.2px,#fb0000 102.2px,#ff0200 102.8px,#ff2900 105.8px,#ffba00 115.2px,#fffe00 120.2px,#cfff30 124.8px,#aeff51 128.8px,#94ff6b 133.2px,#86ff79 137.8px,#81ff7e 143.2px,#87ff78 148.8px,#b5ff4a 162.2px,#b5ff4a 163.2px,#a7ff58 163.8px)"></i>
<i style="background:linear-gradient(90deg,#c7ff38 2.2px,#bcff43 2.8px,#c3ff3c 5.2px,#fffe00 14.2px,#ffb900 22.2px,#ff2700 37.2px,#ff0f00 40.8px,#ff0600 43.8px,#f10 46.8px,#ff2100 48.2px,#ff3a00 49.8px,#ff5f00 51.2px,#ff7f00 52.2px,#ffa500 53.2px,#ffea00 54.8px,#f9ff06 55.2px,#06fff9 59.2px,#00e5ff 59.8px,#004aff 62.2px,#0014ff 63.2px,#0000fa 63.8px,#0000be 65.2px,#0000a3 66.2px,#000094 67.2px,#000090 68.2px,#000098 69.2px,#00a 70.2px,#0000c5 71.2px,#0000fa 72.8px,#0010ff 73.2px,#003dff 74.2px,#04fffb 78.2px,#fbff04 83.2px,#ffed00 83.8px,#ff9a00 85.8px,#ff5600 87.8px,#ff2d00 89.2px,#ff0400 91.2px,#df0000 94.2px,#d70000 96.8px,#e30000 99.8px,#f00 102.8px,#ff3600 106.8px,#ffc300 115.8px,#feff01 120.2px,#cdff32 124.8px,#acff53 128.8px,#93ff6c 133.2px,#85ff7a 137.8px,#81ff7e 142.8px,#87ff78 148.2px,#b7ff48 161.8px,#b8ff47 162.8px,#a8ff57 163.2px)"></i>
<i style="background:linear-gradient(90deg,#c4ff3b 3.2px,#bfff40 3.8px,#c8ff37 6.2px,#ff0 14.2px,#ffbe00 21.8px,#ff2c00 36.8px,#ff1000 40.8px,#ff0900 43.8px,#ff1500 46.8px,#ff2500 48.2px,#ff4000 49.8px,#ff6500 51.2px,#ff8400 52.2px,#ffbf00 53.8px,#ffef00 54.8px,#f5ff0a 55.2px,#08fff7 59.2px,#00e8ff 59.8px,#006eff 61.8px,#001bff 63.2px,#0002ff 63.8px,#0000ea 64.2px,#0000b3 65.8px,#00009b 66.8px,#00008e 67.8px,#00008c 68.8px,#000095 69.8px,#0000a8 70.8px,#0000c3 71.8px,#0000f8 73.2px,#000eff 73.8px,#003aff 74.8px,#01fffe 78.8px,#fcff03 83.8px,#ffeb00 84.2px,#ff9600 86.2px,#ff5100 88.2px,#ff1c00 90.2px,#fe0000 91.8px,#e00000 94.2px,#d60000 96.8px,#e10000 99.8px,#fe0000 102.8px,#ff2f00 106.2px,#fc0 116.2px,#fdff02 120.2px,#cbff34 124.8px,#abff54 128.8px,#94ff6b 132.8px,#85ff7a 137.2px,#80ff7f 142.2px,#87ff78 147.8px,#b9ff46 161.2px,#baff45 162.2px,#af5 162.8px)"></i>
<i style="background:linear-gradient(90deg,#c6ff39 3.8px,#c0ff3f 4.2px,#c9ff36 6.8px,#fffc00 14.8px,#fb0 22.2px,#ff2d00 36.8px,#ff1200 40.8px,#ff0b00 43.8px,#ff1800 46.8px,#ff2900 48.2px,#ff4300 49.8px,#ff6900 51.2px,#f80 52.2px,#ffc200 53.8px,#fff100 54.8px,#f4ff0b 55.2px,#0dfff2 59.2px,#0ef 59.8px,#0076ff 61.8px,#0023ff 63.2px,#000aff 63.8px,#0000f2 64.2px,#0000b9 65.8px,#00009e 66.8px,#00008e 67.8px,#008 68.8px,#00008d 69.8px,#0000a6 71.2px,#0000c1 72.2px,#0000f6 73.8px,#000cff 74.2px,#0038ff 75.2px,#01fffe 79.2px,#ff0 84.2px,#ffa500 86.2px,#ff5b00 88.2px,#ff2f00 89.8px,#ff0200 91.8px,#e00000 94.2px,#d50000 96.8px,#df0000 99.8px,#fd0000 102.8px,#ff2000 105.2px,#ffb800 114.8px,#fffd00 119.8px,#caff35 124.8px,#a9ff56 128.8px,#90ff6f 133.2px,#83ff7c 137.8px,#86ff79 146.2px,#98ff67 152.2px,#b9ff46 159.8px,#bf4 161.2px,#b3ff4c 161.8px)"></i>
<i style="background:linear-gradient(90deg,#caff35 4.8px,#c4ff3b 5.2px,#caff35 7.2px,#fffe00 14.8px,#ffc100 21.8px,#ff2e00 36.8px,#ff1600 40.2px,#ff0d00 43.2px,#ff1000 45.2px,#ff1a00 46.8px,#ff2b00 48.2px,#ff4600 49.8px,#ff8a00 52.2px,#ffc300 53.8px,#fff000 54.8px,#f5ff0a 55.2px,#13ffec 59.2px,#00f5ff 59.8px,#0048ff 62.8px,#0000fc 64.2px,#0000c0 65.8px,#0000a3 66.8px,#00008a 68.2px,#000086 69.2px,#00008b 70.2px,#0000a5 71.8px,#0000c0 72.8px,#0000f6 74.2px,#000bff 74.8px,#0038ff 75.8px,#01fffe 79.8px,#7fff80 82.2px,#ebff14 84.2px,#fffa00 84.8px,#ff9f00 86.8px,#ff6500 88.2px,#ff3600 89.8px,#ff0600 91.8px,#fb0000 92.2px,#e00000 94.2px,#d30000 96.8px,#de0000 99.8px,#fc0000 102.8px,#ff2800 105.8px,#ffc100 115.2px,#ff0 119.8px,#cdff32 124.2px,#acff53 128.2px,#94ff6b 132.2px,#85ff7a 136.8px,#81ff7e 141.8px,#8f7 146.8px,#bdff42 159.8px,#bdff42 160.8px,#acff53 161.2px)"></i>
<i style="background:linear-gradient(90deg,#cf3 5.2px,#c5ff3a 5.8px,#ceff31 8.2px,#fffd00 15.2px,#ffbe00 22.2px,#ff3400 36.2px,#ff1700 40.2px,#ff0e00 43.2px,#ff1c00 46.8px,#ff2d00 48.2px,#ff4600 49.8px,#ff8900 52.2px,#ffc100 53.8px,#ffed00 54.8px,#f9ff06 55.2px,#0ff 59.8px,#003aff 63.2px,#0008ff 64.2px,#0000f1 64.8px,#0000b9 66.2px,#00009e 67.2px,#000087 68.8px,#000084 69.8px,#00008a 70.8px,#0000a4 72.2px,#0000c0 73.2px,#0000f6 74.8px,#000bff 75.2px,#0038ff 76.2px,#03fffc 80.2px,#83ff7c 82.8px,#f2ff0d 84.8px,#fff300 85.2px,#ff9700 87.2px,#ff5d00 88.8px,#ff2000 90.8px,#fd0000 92.2px,#db0000 94.8px,#d20000 97.2px,#d00 99.8px,#fc0000 102.8px,#ff2100 105.2px,#ffbc00 114.8px,#fdff02 119.8px,#cf3 124.2px,#a8ff57 128.8px,#91ff6e 132.8px,#84ff7b 137.2px,#87ff78 145.2px,#9f6 150.8px,#bf4 157.8px,#bfff40 159.8px,#b6ff49 160.2px)"></i>
<i style="background:linear-gradient(90deg,#ceff31 6.2px,#c7ff38 6.8px,#ceff31 8.8px,#fffc00 15.8px,#ff3100 36.8px,#ff1600 40.8px,#ff0f00 43.8px,#ff1c00 46.8px,#ff2d00 48.2px,#ff4600 49.8px,#ff6900 51.2px,#ff9700 52.8px,#ffbd00 53.8px,#ff0 55.2px,#0bfff4 59.8px,#0ef 60.2px,#0062ff 62.8px,#0000fe 64.8px,#0000c3 66.2px,#0000a5 67.2px,#000089 68.8px,#000083 69.8px,#000085 70.8px,#009 72.2px,#0000c0 73.8px,#0000f6 75.2px,#000cff 75.8px,#0039ff 76.8px,#00ebff 80.2px,#07fff8 80.8px,#faff05 85.2px,#ffea00 85.8px,#ff8d00 87.8px,#ff5300 89.2px,#ff2400 90.8px,#f00 92.2px,#db0000 94.8px,#d00000 97.2px,#db0000 99.8px,#fc0000 102.8px,#ff1b00 104.8px,#ffb700 114.2px,#fcff03 119.8px,#cf3 124.2px,#abff54 128.2px,#91ff6e 132.8px,#85ff7a 136.8px,#87ff78 144.2px,#98ff67 149.8px,#beff41 157.2px,#c0ff3f 158.8px,#b7ff48 159.2px)"></i>
<i style="background:linear-gradient(90deg,#d1ff2e 7.2px,#caff35 7.8px,#d0ff2f 9.8px,#fffc00 16.2px,#f30 36.8px,#ff1700 40.8px,#ff1000 43.8px,#ff1c00 46.8px,#ff2b00 48.2px,#f40 49.8px,#ff6500 51.2px,#ff9200 52.8px,#fff600 55.2px,#efff10 55.8px,#d6ff29 56.2px,#00fdff 60.2px,#003fff 63.8px,#000eff 64.8px,#0000f7 65.2px,#0000bf 66.8px,#0000a2 67.8px,#008 69.2px,#000082 70.2px,#000085 71.2px,#00009a 72.8px,#0000c1 74.2px,#0000f7 75.8px,#000dff 76.2px,#003aff 77.2px,#00efff 80.8px,#0bfff4 81.2px,#76ff89 83.2px,#e9ff16 85.2px,#fffa00 85.8px,#ff9700 87.8px,#ff5a00 89.2px,#ff2800 90.8px,#ff0100 92.2px,#d90000 94.8px,#ce0000 97.2px,#da0000 99.8px,#fd0000 102.8px,#ff1c00 104.8px,#ffab00 113.2px,#fffd00 119.2px,#cf3 124.2px,#acff53 128.2px,#95ff6a 132.2px,#87ff78 136.2px,#84ff7b 140.8px,#8cff73 145.2px,#c2ff3d 157.2px,#c3ff3c 158.2px,#aeff51 158.8px)"></i>
<i style="background:linear-gradient(90deg,#d4ff2b 8.2px,#cf3 8.8px,#d2ff2d 10.8px,#fffc00 16.8px,#ff3500 36.8px,#ff1900 40.8px,#ff1000 43.8px,#ff1f00 47.2px,#ff3000 48.8px,#ff4a00 50.2px,#ff8b00 52.8px,#fbff04 55.8px,#0ffff0 60.2px,#00f3ff 60.8px,#0038ff 64.2px,#0009ff 65.2px,#0000f3 65.8px,#0000bc 67.2px,#0000a1 68.2px,#008 69.8px,#000082 70.8px,#000085 71.8px,#00009b 73.2px,#0000c2 74.8px,#0000f9 76.2px,#000fff 76.8px,#0056ff 78.2px,#00f5ff 81.2px,#12ffed 81.8px,#7eff81 83.8px,#f5ff0a 85.8px,#ffed00 86.2px,#ffa100 87.8px,#ff5f00 89.2px,#ff2a00 90.8px,#ff0100 92.2px,#d00 94.2px,#c00 96.8px,#d50000 99.2px,#fd0000 102.8px,#ffa600 112.8px,#fffd00 119.2px,#cdff32 124.2px,#aeff51 128.2px,#94ff6b 132.8px,#8f7 136.8px,#8cff73 143.8px,#9bff64 148.2px,#c3ff3c 155.8px,#c5ff3a 157.2px,#baff45 157.8px)"></i>
<i style="background:linear-gradient(90deg,#d7ff28 9.2px,#cdff32 9.8px,#d4ff2b 11.8px,#fffe00 17.2px,#ff3400 37.2px,#ff1800 41.2px,#f10 44.2px,#ff1d00 47.2px,#ff2c00 48.8px,#ff4500 50.2px,#f60 51.8px,#ff9200 53.2px,#fff400 55.8px,#f2ff0d 56.2px,#daff25 56.8px,#07fff8 60.8px,#00ebff 61.2px,#06f 63.8px,#001cff 65.2px,#0006ff 65.8px,#0000f0 66.2px,#00b 67.8px,#0000a0 68.8px,#008 70.2px,#000083 71.2px,#000087 72.2px,#00009c 73.8px,#0000c4 75.2px,#0000fc 76.8px,#0012ff 77.2px,#0059ff 78.8px,#00fcff 81.8px,#6dff92 83.8px,#e7ff18 85.8px,#fffa00 86.2px,#ffa900 87.8px,#ff6400 89.2px,#ff2b00 90.8px,#f00 92.2px,#da0000 94.2px,#c90000 96.8px,#d30000 99.2px,#fe0000 102.8px,#ffa100 112.2px,#fffd00 119.2px,#cfff30 124.2px,#adff52 128.8px,#97ff68 132.8px,#8bff74 136.8px,#8aff75 140.2px,#91ff6e 144.2px,#beff41 153.2px,#c6ff39 156.2px)"></i>
<i style="background:linear-gradient(90deg,#d9ff26 10.2px,#ceff31 10.8px,#d5ff2a 12.8px,#fffc00 18.2px,#ff3700 37.2px,#ff1a00 41.2px,#ff1000 44.2px,#ff1e00 47.8px,#ff2f00 49.2px,#ff4800 50.8px,#ff6a00 52.2px,#ff9700 53.8px,#fffb00 56.2px,#d3ff2c 57.2px,#03fffc 61.2px,#03f 65.2px,#0006ff 66.2px,#0000f0 66.8px,#0000bc 68.2px,#0000a2 69.2px,#00008a 70.8px,#000085 71.8px,#008 72.8px,#00009e 74.2px,#0000c7 75.8px,#00f 77.2px,#005eff 79.2px,#00e9ff 81.8px,#06fff9 82.2px,#79ff86 84.2px,#f8ff07 86.2px,#ffe900 86.8px,#ff9700 88.2px,#ff5200 89.8px,#ff1a00 91.2px,#fc0000 92.2px,#d50000 94.2px,#c40000 96.8px,#d00000 99.2px,#f70000 102.2px,#f00 102.8px,#ffa400 112.2px,#fffd00 119.2px,#b1ff4e 128.8px,#9bff64 132.8px,#90ff6f 136.2px,#8eff71 139.8px,#95ff6a 143.8px,#c4ff3b 153.2px,#c6ff39 154.8px,#bf4 155.2px)"></i>
<i style="background:linear-gradient(90deg,#daff25 11.2px,#cfff30 11.8px,#d6ff29 13.8px,#ff0 18.8px,#ff3700 37.8px,#ff1900 41.8px,#ff1000 44.8px,#ff1e00 48.2px,#ff3000 49.8px,#ff4900 51.2px,#ff6c00 52.8px,#ff9a00 54.2px,#fffd00 56.8px,#d0ff2f 57.8px,#02fffd 61.8px,#0034ff 65.8px,#0008ff 66.8px,#0000f2 67.2px,#0000be 68.8px,#0000a4 69.8px,#00008c 71.2px,#000087 72.2px,#00008b 73.2px,#0000a1 74.8px,#0000ca 76.2px,#0004ff 77.8px,#0065ff 79.8px,#00f3ff 82.2px,#1fe 82.8px,#89ff76 84.8px,#edff12 86.2px,#fff200 86.8px,#ff9c00 88.2px,#ff6900 89.2px,#ff2900 90.8px,#ff0700 91.8px,#f80000 92.2px,#cf0000 94.2px,#c40000 95.2px,#bf0000 96.8px,#cd0000 99.2px,#f80000 102.2px,#ff0100 102.8px,#ff7000 108.8px,#ffa800 112.2px,#ffdb00 116.2px,#feff01 119.8px,#b5ff4a 128.8px,#a0ff5f 132.8px,#96ff69 136.2px,#94ff6b 139.8px,#9bff64 143.2px,#c8ff37 152.8px,#c9ff36 153.8px,#bcff43 154.2px)"></i>
<i style="background:linear-gradient(90deg,#deff21 12.8px,#d1ff2e 13.2px,#d6ff29 14.8px,#ff0 19.8px,#ff3700 38.2px,#ff1800 42.2px,#ff0f00 45.2px,#ff1400 47.2px,#ff1e00 48.8px,#ff2f00 50.2px,#ff4900 51.8px,#ff6c00 53.2px,#ff9a00 54.8px,#fffd00 57.2px,#d1ff2e 58.2px,#04fffb 62.2px,#0038ff 66.2px,#000cff 67.2px,#0000f7 67.8px,#0000c3 69.2px,#0000a9 70.2px,#000090 71.8px,#00008b 72.8px,#00008e 73.8px,#0000a4 75.2px,#0000be 76.2px,#0000f2 77.8px,#0008ff 78.2px,#006cff 80.2px,#0ff 82.8px,#7bff84 84.8px,#e3ff1c 86.2px,#fffa00 86.8px,#ff9e00 88.2px,#ff6900 89.2px,#ff2500 90.8px,#ff0100 91.8px,#cf0000 93.8px,#c10000 94.8px,#b80000 96.2px,#c40000 98.8px,#f90000 102.2px,#ff0300 102.8px,#ff6b00 108.2px,#ffa400 111.8px,#ffd100 115.2px,#fffe00 119.8px,#b8ff47 129.2px,#9cff63 136.2px,#a0ff5f 142.2px,#c7ff38 150.2px,#cbff34 152.8px)"></i>
<i style="background:linear-gradient(90deg,#d2ff2d 14.2px,#deff21 17.2px,#ff0 20.8px,#ff3700 38.8px,#ff1800 42.8px,#ff0f00 45.8px,#ff1300 47.8px,#ff1d00 49.2px,#ff2e00 50.8px,#ff4700 52.2px,#ff6a00 53.8px,#ff9700 55.2px,#fffa00 57.8px,#d5ff2a 58.8px,#0afff5 62.8px,#00efff 63.2px,#0057ff 66.2px,#0000fe 68.2px,#0000c9 69.8px,#0000af 70.8px,#000096 72.2px,#000090 73.2px,#000093 74.2px,#0000a8 75.8px,#0000c1 76.8px,#0000f7 78.2px,#000eff 78.8px,#003eff 79.8px,#0091ff 81.2px,#00edff 82.8px,#0efff1 83.2px,#6fff90 84.8px,#fdff02 86.8px,#ffdf00 87.2px,#ff8200 88.8px,#ff4c00 89.8px,#ff0a00 91.2px,#f70000 91.8px,#da0000 92.8px,#c40000 93.8px,#b70000 94.8px,#b00000 96.2px,#c00000 98.8px,#fa0000 102.2px,#ff0500 102.8px,#ff7000 108.2px,#ffa000 111.2px,#ffd100 115.2px,#fffe00 120.2px,#c0ff3f 129.2px,#a5ff5a 135.8px,#a8ff57 141.8px,#cdff32 150.2px,#cdff32 151.2px,#bfff40 151.8px)"></i>
<i style="background:linear-gradient(90deg,#d4ff2b 15.8px,#e0ff1f 18.8px,#fffc00 22.2px,#ff3900 39.2px,#ff1800 43.2px,#ff0e00 46.8px,#ff1a00 49.8px,#ff2b00 51.2px,#f40 52.8px,#f60 54.2px,#ff9200 55.8px,#fff200 58.2px,#f5ff0a 58.8px,#13ffec 63.2px,#00f8ff 63.8px,#03f 67.8px,#0009ff 68.8px,#0000f4 69.2px,#0000c4 70.8px,#0000ac 71.8px,#000098 73.2px,#000095 74.2px,#00009c 75.2px,#0000ad 76.2px,#0000c6 77.2px,#0000fd 78.8px,#002cff 79.8px,#0062ff 80.8px,#00fdff 83.2px,#85ff7a 85.2px,#f8ff07 86.8px,#ffe200 87.2px,#ff6000 89.2px,#ff2b00 90.2px,#fe0000 91.2px,#db0000 92.2px,#c10000 93.2px,#b00000 94.2px,#a60000 95.8px,#ab0000 97.2px,#bc0000 98.8px,#fc0000 102.2px,#ff6400 107.2px,#ffa300 111.2px,#ffd000 115.2px,#fffd00 120.8px,#c6ff39 129.8px,#b0ff4f 135.2px,#b1ff4e 140.8px,#d0ff2f 148.8px,#d0ff2f 149.8px,#c1ff3e 150.2px)"></i>
<i style="background:linear-gradient(90deg,#d5ff2a 17.2px,#deff21 19.8px,#ff0 23.2px,#ff3700 40.2px,#ff1600 44.2px,#ff0d00 47.2px,#f10 49.2px,#ff1c00 50.8px,#ff2e00 52.2px,#ff4800 53.8px,#ff6c00 55.2px,#ff9a00 56.8px,#fffe00 59.2px,#07fff8 64.2px,#00ecff 64.8px,#006fff 67.2px,#002aff 68.8px,#0002ff 69.8px,#0000ef 70.2px,#0000c1 71.8px,#0000ac 72.8px,#0000a0 73.8px,#00009c 74.8px,#0000a2 75.8px,#0000b2 76.8px,#0000cb 77.8px,#0004ff 79.2px,#006cff 81.2px,#00edff 83.2px,#1fe 83.8px,#7bff84 85.2px,#f5ff0a 86.8px,#ffe200 87.2px,#ff5800 89.2px,#ff0600 90.8px,#ef0000 91.2px,#cb0000 92.2px,#b20000 93.2px,#a20000 94.2px,#9b0000 95.2px,#9c0000 96.2px,#a90000 97.8px,#c10000 99.2px,#f50000 101.8px,#ff0100 102.2px,#ff6900 107.2px,#ffa600 111.2px,#ffd300 115.8px,#fffd00 121.8px,#ceff31 130.2px,#bdff42 134.8px,#bdff42 139.8px,#d5ff2a 147.2px,#d4ff2b 148.2px,#c3ff3c 148.8px)"></i>
<i style="background:linear-gradient(90deg,#d5ff2a 18.8px,#e3ff1c 21.8px,#fffe00 24.8px,#ff3500 41.2px,#ff1400 45.2px,#ff0b00 48.2px,#ff1700 51.2px,#ff2800 52.8px,#ff4100 54.2px,#ff6300 55.8px,#ff8f00 57.2px,#ffef00 59.8px,#f9ff06 60.2px,#00feff 65.2px,#0052ff 68.8px,#0000fe 70.8px,#0000ce 72.2px,#0000b8 73.2px,#0000a9 74.2px,#0000a4 75.2px,#0000a9 76.2px,#0000b8 77.2px,#0000d1 78.2px,#0000f5 79.2px,#000bff 79.8px,#003eff 80.8px,#0098ff 82.2px,#02fffd 83.8px,#73ff8c 85.2px,#f4ff0b 86.8px,#ffe000 87.2px,#ff9100 88.2px,#ff4b00 89.2px,#ff0f00 90.2px,#f40000 90.8px,#c90000 91.8px,#a00 92.8px,#970000 93.8px,#8d0000 95.2px,#910000 96.2px,#a40000 97.8px,#fa0000 101.8px,#ff0700 102.2px,#ff6700 106.8px,#ffa200 110.8px,#fc0 115.2px,#fffd00 123.2px,#d9ff26 130.8px,#cbff34 135.2px,#caff35 138.2px,#d9ff26 143.8px,#d9ff26 146.8px)"></i>
<i style="background:linear-gradient(90deg,#d9ff26 20.8px,#e2ff1d 23.2px,#fffe00 26.2px,#ff3500 42.2px,#ff1300 46.2px,#ff0a00 49.2px,#ff1700 52.2px,#ff2700 53.8px,#ff4100 55.2px,#ff6400 56.8px,#ff9000 58.2px,#fff100 60.8px,#f6ff09 61.2px,#16ffe9 65.8px,#00fcff 66.2px,#003bff 70.2px,#00f 71.8px,#00e 72.2px,#0000bd 74.2px,#0000b1 75.2px,#0000ae 76.2px,#0000b7 77.2px,#0000ca 78.2px,#0000fc 79.8px,#002cff 80.8px,#06f 81.8px,#00f2ff 83.8px,#1affe5 84.2px,#6bff94 85.2px,#f5ff0a 86.8px,#ffdc00 87.2px,#ff8600 88.2px,#ff3a00 89.2px,#ff1900 89.8px,#f90000 90.2px,#c70000 91.2px,#a20000 92.2px,#8b0000 93.2px,#800000 94.8px,#840000 95.8px,#900 97.2px,#ff0300 101.8px,#ff5200 105.2px,#ff8500 108.2px,#ffad00 111.8px,#ffca00 115.8px,#fffe00 125.8px,#e6ff19 131.2px,#dcff23 134.8px,#e2ff1d 144.2px,#e0ff1f 144.8px,#cf3 145.2px)"></i>
<i style="background:linear-gradient(90deg,#d7ff28 22.2px,#e5ff1a 25.2px,#feff01 27.8px,#ff3600 43.2px,#ff1300 47.2px,#ff0900 50.2px,#ff1500 53.2px,#ff2500 54.8px,#ff3f00 56.2px,#ff7e00 58.8px,#ffb200 60.2px,#ffef00 61.8px,#f8ff07 62.2px,#0ff 67.2px,#0040ff 71.2px,#0006ff 72.8px,#0000f4 73.2px,#0000d9 74.2px,#0000c5 75.2px,#0000ba 76.8px,#0000c7 78.2px,#0005ff 80.2px,#0053ff 81.8px,#0096ff 82.8px,#00e3ff 83.8px,#0dfff2 84.2px,#91ff6e 85.8px,#f8ff07 86.8px,#ffd400 87.2px,#f70 88.2px,#ff2400 89.2px,#ff0100 89.8px,#e00000 90.2px,#c40000 90.8px,#900 91.8px,#800000 92.8px,#800000 95.8px,#9b0000 97.2px,#ff0400 101.2px,#ff4900 104.2px,#ff7500 106.8px,#f90 109.8px,#ffb400 113.2px,#fffe00 129.2px,#f1ff0e 134.2px,#f3ff0c 139.8px,#ebff14 143.2px)"></i>
<i style="background:linear-gradient(90deg,#d9ff26 24.2px,#e3ff1c 26.8px,#fffd00 29.8px,#ff3800 44.2px,#ff1300 48.2px,#ff0700 51.2px,#ff0b00 53.2px,#ff1600 54.8px,#ff2900 56.2px,#f40 57.8px,#f80 60.2px,#ffbe00 61.8px,#fffe00 63.2px,#09fff6 68.2px,#00efff 68.8px,#004aff 72.2px,#00f 74.2px,#0000d9 75.8px,#0000c8 77.2px,#0000d1 78.8px,#0000f8 80.2px,#000dff 80.8px,#0025ff 81.2px,#0060ff 82.2px,#00a8ff 83.2px,#00fcff 84.2px,#2bffd4 84.8px,#8cff73 85.8px,#fdff02 86.8px,#ff9400 87.8px,#ff3400 88.8px,#ff0900 89.2px,#e20000 89.8px,#a60000 90.8px,#800000 91.8px,#800000 95.2px,#800000 95.8px,#fc0000 100.2px,#ff0a00 100.8px,#f40 103.2px,#ff6e00 105.8px,#ff8c00 108.2px,#ffa200 111.2px,#ffed00 130.2px,#fffe00 139.8px,#f8ff07 141.2px)"></i>
<i style="background:linear-gradient(90deg,#dcff23 26.8px,#fffc00 31.8px,#ff3700 45.8px,#f10 49.8px,#ff0600 52.8px,#ff1200 55.8px,#ff2300 57.2px,#ff3d00 58.8px,#ff7d00 61.2px,#ffb100 62.8px,#ffef00 64.2px,#f8ff07 64.8px,#01fffe 69.8px,#0047ff 73.8px,#0002ff 75.8px,#0000f4 76.2px,#0000dc 77.8px,#0000da 78.8px,#0000e6 79.8px,#0002ff 80.8px,#002eff 81.8px,#004bff 82.2px,#0092ff 83.2px,#00e9ff 84.2px,#1bffe4 84.8px,#85ff7a 85.8px,#fffa00 86.8px,#ff8000 87.8px,#ff1500 88.8px,#e60000 89.2px,#9f0000 90.2px,#850000 90.8px,#800000 91.2px,#800000 94.8px,#830000 95.2px,#fd0000 99.2px,#ff0c00 99.8px,#ff3b00 101.8px,#ff5e00 103.8px,#f70 105.8px,#ff8b00 108.2px,#ff9c00 112.2px,#ffde00 135.2px,#fff300 139.2px)"></i>
<i style="background:linear-gradient(90deg,#deff21 28.8px,#e3ff1c 30.2px,#fffc00 33.8px,#ff3700 47.2px,#ff1000 51.2px,#ff0400 54.2px,#ff1000 57.2px,#f20 58.8px,#ff3c00 60.2px,#ff7d00 62.8px,#ffb200 64.2px,#fff000 65.8px,#f8ff07 66.2px,#03fffc 71.2px,#00eaff 71.8px,#0076ff 74.2px,#003aff 75.8px,#000cff 77.2px,#00f 77.8px,#0000f7 78.2px,#0000ef 79.8px,#0000fd 80.8px,#001fff 81.8px,#05f 82.8px,#0079ff 83.2px,#00d1ff 84.2px,#07fff8 84.8px,#7bff84 85.8px,#c4ff3b 86.2px,#fff100 86.8px,#ff6400 87.8px,#ff2500 88.2px,#ed0000 88.8px,#be0000 89.2px,#980000 89.8px,#800000 90.2px,#800000 93.8px,#860000 94.2px,#fd0000 97.8px,#ff0d00 98.2px,#f30 99.8px,#ff5800 101.8px,#ff7000 103.8px,#ff7d00 105.8px,#ff9700 119.2px,#ffb800 131.2px,#ffc100 133.2px,#ffdc00 136.8px)"></i>
<i style="background:linear-gradient(90deg,#e1ff1e 31.2px,#e6ff19 32.8px,#fffd00 35.8px,#ff3400 49.2px,#ff1000 52.8px,#ff0300 55.8px,#ff0d00 58.8px,#ff1e00 60.2px,#ff3700 61.8px,#ff5a00 63.2px,#ff8700 64.8px,#ffbd00 66.2px,#fffd00 67.8px,#eaff15 68.2px,#6fff90 70.8px,#1fe 72.8px,#00f8ff 73.2px,#0087ff 75.8px,#003cff 77.8px,#0016ff 79.2px,#000cff 80.8px,#001aff 81.8px,#0041ff 82.8px,#0084ff 83.8px,#00b2ff 84.2px,#00e8ff 84.8px,#27ffd8 85.2px,#6cff93 85.8px,#bfff40 86.2px,#ffe600 86.8px,#ff3f00 87.8px,#f80000 88.2px,#bf0000 88.8px,#930000 89.2px,#800000 89.8px,#800000 92.2px,#870000 92.8px,#f00 95.8px,#ff3000 97.2px,#ff5200 98.8px,#ff6900 100.2px,#ff7900 102.2px,#ff7e00 105.2px,#ff7300 114.2px,#ff7c00 120.8px,#ff9000 128.8px,#ffa800 132.2px,#ffbe00 134.2px)"></i>
<i style="background:linear-gradient(90deg,#e6ff19 34.2px,#fffa00 38.2px,#ffda00 40.8px,#f60 47.8px,#f30 51.2px,#ff0e00 54.8px,#ff0100 57.8px,#ff0d00 60.8px,#ff1e00 62.2px,#ff3800 63.8px,#ff5b00 65.2px,#f80 66.8px,#ffbe00 68.2px,#fffc00 69.8px,#03fffc 75.2px,#0071ff 78.8px,#0045ff 80.2px,#0034ff 81.2px,#0035ff 82.2px,#004eff 83.2px,#0068ff 83.8px,#008dff 84.2px,#00bfff 84.8px,#0ff 85.2px,#4fffb0 85.8px,#b2ff4d 86.2px,#ffda00 86.8px,#ff6d00 87.2px,#ff0f00 87.8px,#c70000 88.2px,#970000 88.8px,#800000 89.2px,#800000 90.2px,#8c0000 90.8px,#a10000 91.2px,#ec0000 92.8px,#ff0500 93.2px,#ff4300 94.8px,#ff6d00 96.2px,#ff8500 97.8px,#ff9000 99.2px,#ff8b00 102.2px,#ff5900 110.2px,#ff4f00 115.8px,#ff5900 122.8px,#ff6700 126.8px,#ff7600 128.8px,#ff9500 131.2px)"></i>
<i style="background:linear-gradient(90deg,#ecff13 37.2px,#ff0 40.2px,#fff600 41.2px,#ffcb00 44.2px,#ff6400 50.2px,#ff3000 53.8px,#ff0f00 56.8px,#f00 59.8px,#ff0400 61.8px,#ff0e00 63.2px,#ff2100 64.8px,#ff3d00 66.2px,#ff6100 67.8px,#ff8e00 69.2px,#fffe00 72.2px,#7aff85 75.2px,#02fffd 78.2px,#0098ff 81.2px,#007bff 82.8px,#007fff 83.8px,#008eff 84.2px,#00acff 84.8px,#00dfff 85.2px,#2effd1 85.8px,#9cff63 86.2px,#ffd700 86.8px,#ff5b00 87.2px,#ff0600 87.8px,#d90000 88.2px,#cf0000 88.8px,#db0000 89.2px,#f20000 89.8px,#ff1000 90.2px,#ff6500 91.8px,#ffa000 93.2px,#ffc000 94.8px,#ffca00 96.2px,#ffc600 97.8px,#ffb800 99.2px,#ff6200 105.2px,#ff4500 107.8px,#ff3100 110.2px,#ff2500 112.8px,#ff2100 117.2px,#ff2a00 121.8px,#ff3800 124.2px,#ff6800 128.8px)"></i>
<i style="background:linear-gradient(90deg,#ef1 40.2px,#ff0 42.8px,#fff000 44.2px,#ffbf00 47.8px,#ff3100 56.2px,#ff0f00 59.2px,#f00 61.8px,#f00 63.8px,#ff0800 65.2px,#ff2f00 68.2px,#ff4d00 69.8px,#ff8000 71.8px,#fdff02 75.8px,#84ff7b 79.2px,#69ff96 80.2px,#3effc1 82.2px,#31ffce 83.8px,#41ffbe 84.8px,#5affa5 85.2px,#86ff79 85.8px,#cfff30 86.2px,#ffe600 86.8px,#ffbc00 87.2px,#ffb600 87.8px,#ffc400 88.2px,#fff100 89.2px,#f8ff07 89.8px,#d1ff2e 91.2px,#c8ff37 92.8px,#d9ff26 94.8px,#feff01 96.8px,#ff7b00 102.2px,#ff4500 104.8px,#ff1b00 107.2px,#fd0000 109.8px,#ec0000 112.2px,#e50000 115.2px,#e00 119.2px,#fe0000 121.2px,#ff1b00 123.8px,#f30 125.2px)"></i>
<i style="background:linear-gradient(90deg,#f9ff06 44.2px,#fffa00 45.8px,#ffe300 48.2px,#ffc900 50.2px,#ff3200 59.2px,#ff0f00 62.2px,#f00 64.8px,#ff0100 67.2px,#ff1900 70.2px,#ff3d00 72.8px,#ff9600 77.8px,#ffad00 79.8px,#ffb000 81.2px,#ffa700 82.2px,#ff6d00 84.8px,#ff6a00 85.2px,#ff7800 85.8px,#ff9d00 86.2px,#ffdc00 86.8px,#d3ff2c 87.2px,#8cff73 87.8px,#62ff9d 88.2px,#4effb1 88.8px,#45ffba 89.8px,#58ffa7 91.2px,#79ff86 92.8px,#fbff04 96.8px,#fff200 97.2px,#ff5b00 101.8px,#ff2300 103.8px,#fe0000 105.2px,#d70000 107.2px,#bc0000 109.2px,#a50000 112.8px,#a70000 115.2px,#b60000 117.2px,#d60000 120.2px,#f20000 121.8px)"></i>
<i style="background:linear-gradient(90deg,#fffb00 48.2px,#fff300 49.8px,#ffd300 52.8px,#ffb000 55.2px,#ff5a00 60.2px,#ff2600 63.8px,#ff0c00 66.2px,#f00 68.2px,#f00 71.8px,#ff1800 77.8px,#ff1300 79.2px,#ff0500 80.8px,#d70000 83.8px,#da0000 84.2px,#e70000 84.8px,#ff0300 85.2px,#ff3200 85.8px,#ff7300 86.2px,#ffc100 86.8px,#f1ff0e 87.2px,#b2ff4d 87.8px,#86ff79 88.2px,#6eff91 88.8px,#5fffa0 89.8px,#6f9 90.8px,#87ff78 92.2px,#f3ff0c 95.2px,#fff700 95.8px,#ff5800 99.8px,#fe0000 102.2px,#b60000 104.8px,#8b0000 106.8px,#800000 107.8px,#800000 115.2px,#9f0000 117.2px)"></i>
<i style="background:linear-gradient(90deg,#ffe900 53.2px,#fd0 55.2px,#ffc500 56.8px,#fb0 58.2px,#ff9700 60.2px,#ff8700 61.8px,#ff6400 63.8px,#ff2d00 67.8px,#ff0b00 71.2px,#fd0000 73.2px,#d20000 81.8px,#df0000 83.2px,#fe0000 84.2px,#ff3800 85.2px,#ffd800 87.2px,#fff900 87.8px,#daff25 88.8px,#c9ff36 89.8px,#d4ff2b 91.2px,#f9ff06 92.8px,#fff400 93.2px,#ff9800 95.8px,#ff0600 99.2px,#f10000 99.8px,#800000 103.2px,#800000 112.2px)"></i>
<i style="background:linear-gradient(90deg,#ffc300 59.8px,#ffbe00 61.8px,#ff9e00 63.8px,#ff9b00 65.2px,#ff5b00 68.8px,#ff5100 70.8px,#ff0d00 76.2px,#fd0000 78.2px,#f80000 79.8px,#fc0000 81.2px,#ff0900 82.2px,#ff2d00 83.8px,#ffa300 86.8px,#ffc100 87.8px,#ffd100 88.8px,#ffd100 89.8px,#ffc500 90.8px,#ffae00 91.8px,#ff4800 94.8px,#f20 96.2px,#fa0000 97.2px,#a30000 99.2px,#800000 100.2px,#800000 106.2px)"></i>
<i style="background:linear-gradient(90deg,#ff8500 68.8px,#ff9500 70.8px,#ff3a00 76.2px,#ff2700 78.2px,#f20 79.8px,#ff2900 81.2px,#ff3500 82.2px,#ff9a00 86.8px,#ffa400 87.8px,#ffa300 88.8px,#ff9700 89.8px,#ff7400 91.2px,#ff4000 92.8px,#ff0300 94.2px,#e80000 95.2px,#e70000 96.2px,#df0000 96.8px)"></i>
</div>
<div class="m" style="left:195px;top:12px;width:166px;height:83px;clip-path:ellipse(82.50px 41.25px at 82.70px 41.50px)">
<i style="background:linear-gradient(90deg,#67ff98 68.8px,#6cff93 85.2px,#68ff97 96.8px)"></i>
<i style="background:linear-gradient(90deg,#6aff95 59.2px,#65ff9a 73.2px,#6eff91 85.8px,#68ff97 105.8px)"></i>
<i style="background:linear-gradient(90deg,#6cff93 53.2px,#62ff9d 70.2px,#72ff8d 85.2px,#6f9 99.2px,#6aff95 112.2px)"></i>
<i style="background:linear-gradient(90deg,#6eff91 48.2px,#5effa1 68.8px,#78ff87 85.8px,#63ff9c 101.8px,#6bff94 117.2px)"></i>
<i style="background:linear-gradient(90deg,#70ff8f 43.8px,#59ffa6 67.8px,#5effa1 72.8px,#7eff81 85.8px,#7bff84 90.2px,#5fffa0 104.2px,#6dff92 121.2px)"></i>
<i style="background:linear-gradient(90deg,#73ff8c 40.2px,#6eff91 49.2px,#5fa 66.2px,#5bffa4 71.8px,#7eff81 81.8px,#86ff79 86.2px,#82ff7d 90.8px,#63ff9c 100.8px,#5bffa4 105.8px,#5cffa3 110.8px,#70ff8f 125.2px)"></i>
<i style="background:linear-gradient(90deg,#75ff8a 36.8px,#71ff8e 46.2px,#50ffaf 65.8px,#58ffa7 71.2px,#84ff7b 81.8px,#8eff71 86.2px,#89ff76 91.2px,#60ff9f 102.2px,#56ffa9 107.8px,#59ffa6 113.2px,#71ff8e 128.2px)"></i>
<i style="background:linear-gradient(90deg,#78ff87 34.2px,#73ff8c 43.8px,#51ffae 59.2px,#4bffb4 64.8px,#5fa 70.8px,#8cff73 81.8px,#98ff67 86.8px,#91ff6e 91.8px,#5effa1 103.2px,#52ffad 108.8px,#5fa 115.2px,#74ff8b 131.2px)"></i>
<i style="background:linear-gradient(90deg,#7bff84 31.2px,#76ff89 41.2px,#4dffb2 58.8px,#46ffb9 64.2px,#52ffad 70.2px,#92ff6d 81.2px,#a2ff5d 86.8px,#9f6 92.2px,#5cffa3 104.2px,#4dffb2 110.2px,#50ffaf 116.8px,#76ff89 134.2px)"></i>
<i style="background:linear-gradient(90deg,#7dff82 28.8px,#79ff86 38.8px,#48ffb7 58.2px,#41ffbe 63.8px,#4effb1 69.8px,#9cff63 81.2px,#aeff51 86.8px,#a3ff5c 92.8px,#5bffa4 104.8px,#48ffb7 111.2px,#4cffb3 118.2px,#78ff87 136.8px)"></i>
<i style="background:linear-gradient(90deg,#7fff80 26.2px,#7cff83 36.2px,#43ffbc 58.2px,#3cffc3 63.2px,#3fffc0 66.2px,#4bffb4 69.2px,#a3ff5c 80.8px,#b2ff4d 83.8px,#baff45 86.8px,#b8ff47 89.8px,#afff50 92.8px,#58ffa7 105.8px,#42ffbd 112.2px,#48ffb7 119.8px,#7bff84 138.8px)"></i>
<i style="background:linear-gradient(90deg,#82ff7d 24.2px,#80ff7f 33.8px,#3effc1 58.2px,#37ffc8 63.2px,#3cffc3 66.2px,#4affb5 69.2px,#aeff51 80.8px,#bfff40 83.8px,#c7ff38 86.8px,#c6ff39 89.8px,#b9ff46 93.2px,#58ffa7 106.2px,#46ffb9 109.8px,#3effc1 112.8px,#43ffbc 120.2px,#7dff82 141.2px)"></i>
<i style="background:linear-gradient(90deg,#83ff7c 22.2px,#85ff7a 31.2px,#37ffc8 59.2px,#3fc 64.2px,#3affc5 66.8px,#4dffb2 69.8px,#a4ff5b 78.2px,#c1ff3e 81.8px,#d0ff2f 84.8px,#d6ff29 87.8px,#d1ff2e 90.8px,#c1ff3e 94.2px,#54ffab 107.2px,#40ffbf 110.8px,#38ffc7 113.8px,#3fffc0 121.2px,#7f8 139.2px,#7eff81 143.2px)"></i>
<i style="background:linear-gradient(90deg,#89ff76 20.2px,#8f7 29.2px,#57ffa8 47.8px,#32ffcd 59.2px,#2effd1 63.8px,#38ffc7 66.8px,#4affb5 69.2px,#af5 77.8px,#cbff34 81.2px,#dfff20 84.8px,#e5ff1a 88.2px,#dfff20 91.2px,#cf3 94.8px,#53ffac 107.8px,#3dffc2 111.2px,#3fc 114.2px,#38ffc7 121.2px,#78ff87 141.2px,#7eff81 144.8px)"></i>
<i style="background:linear-gradient(90deg,#86ff79 18.8px,#8dff72 26.8px,#56ffa9 47.8px,#2cffd3 59.8px,#29ffd6 63.8px,#32ffcd 66.2px,#4bffb4 69.2px,#b0ff4f 77.2px,#d5ff2a 80.8px,#ecff13 84.2px,#f5ff0a 87.8px,#ef1 91.2px,#dbff24 94.8px,#b7ff48 98.8px,#52ffad 108.2px,#39ffc6 111.8px,#2effd1 114.8px,#32ffcd 121.2px,#7f8 142.8px,#7fff80 146.8px)"></i>
<i style="background:linear-gradient(90deg,#8aff75 16.8px,#85ff7a 17.2px,#91ff6e 22.2px,#91ff6e 24.8px,#79ff86 32.2px,#5fa 47.8px,#28ffd7 59.8px,#24ffdb 63.2px,#2dffd2 65.8px,#41ffbe 68.2px,#beff41 77.2px,#edff12 81.8px,#ff0 84.8px,#fff900 87.8px,#fffe00 90.8px,#f2ff0d 93.8px,#d5ff2a 97.2px,#48ffb7 109.8px,#3fc 112.8px,#2affd5 115.2px,#27ffd8 118.2px,#2effd1 121.8px,#79ff86 144.8px,#7fff80 148.2px)"></i>
<i style="background:linear-gradient(90deg,#8aff75 15.2px,#85ff7a 15.8px,#95ff6a 20.8px,#94ff6b 23.2px,#7cff83 30.2px,#58ffa7 46.8px,#25ffda 59.2px,#20ffdf 63.2px,#2affd5 65.8px,#43ffbc 68.2px,#cf3 77.2px,#feff01 81.8px,#fe0 84.8px,#ffe800 87.8px,#ffed00 90.8px,#fffc00 93.8px,#f3ff0c 95.8px,#d4ff2b 98.8px,#4affb5 109.8px,#31ffce 112.8px,#24ffdb 115.8px,#27ffd8 121.2px,#59ffa6 135.8px,#7eff81 149.8px)"></i>
<i style="background:linear-gradient(90deg,#89ff76 13.8px,#83ff7c 14.8px,#97ff68 19.2px,#9f6 21.2px,#7eff81 28.2px,#59ffa6 46.8px,#21ffde 59.2px,#1affe5 62.8px,#24ffdb 65.2px,#3effc1 67.8px,#cdff32 76.2px,#fcff03 79.8px,#ffe100 83.8px,#ffd600 87.8px,#ffdf00 91.8px,#ff0 96.2px,#d1ff2e 100.2px,#49ffb6 110.2px,#2dffd2 113.2px,#1fffe0 116.2px,#21ffde 121.2px,#58ffa7 136.2px,#7dff82 151.2px)"></i>
<i style="background:linear-gradient(90deg,#7fff80 12.8px,#87ff78 15.2px,#9bff64 18.2px,#9cff63 19.8px,#81ff7e 26.2px,#5bffa4 46.8px,#47ffb8 51.8px,#1bffe4 59.8px,#16ffe9 62.8px,#2fd 65.2px,#39ffc6 67.2px,#59ffa6 69.2px,#d5ff2a 75.8px,#fffc00 78.8px,#ffd200 83.2px,#ffc400 87.8px,#ffd200 92.8px,#fffd00 97.8px,#d4ff2b 101.2px,#46ffb9 110.8px,#29ffd6 113.8px,#1affe5 116.8px,#1bffe4 121.2px,#59ffa6 136.8px,#7dff82 152.8px)"></i>
<i style="background:linear-gradient(90deg,#8aff75 11.2px,#7eff81 11.8px,#81ff7e 13.2px,#9dff62 17.2px,#9eff61 18.2px,#83ff7c 24.2px,#6f9 43.8px,#50ffaf 50.2px,#18ffe7 59.8px,#12ffed 62.8px,#1bffe4 64.8px,#3bffc4 67.2px,#cbff34 74.2px,#fffe00 77.2px,#fd0 79.8px,#ffc600 82.2px,#ffb800 84.8px,#ffb100 87.8px,#ffb500 90.2px,#ffc300 93.2px,#ffdb00 96.2px,#fffe00 99.2px,#d5ff2a 102.2px,#4fb 111.2px,#24ffdb 114.2px,#15ffea 117.2px,#19ffe6 122.2px,#49ffb6 132.8px,#5effa1 138.8px,#80ff7f 154.2px)"></i>
<i style="background:linear-gradient(90deg,#8eff71 10.2px,#7fff80 10.8px,#80ff7f 12.8px,#9eff61 16.8px,#84ff7b 22.2px,#67ff98 44.8px,#4fffb0 51.2px,#15ffea 59.8px,#0dfff2 62.2px,#19ffe6 64.8px,#35ffca 66.8px,#5effa1 68.8px,#d3ff2c 73.8px,#faff05 75.8px,#fffb00 76.2px,#ffd500 78.8px,#ffb600 81.8px,#ffa400 84.8px,#ff9f00 87.8px,#ffa400 90.8px,#ffb700 94.2px,#ffd300 97.2px,#fdff02 100.8px,#61ff9e 109.8px,#3bffc4 112.2px,#1cffe3 115.2px,#0efff1 118.2px,#16ffe9 122.8px,#46ffb9 132.2px,#5dffa2 138.2px,#70ff8f 145.8px,#7dff82 154.8px,#83ff7c 155.2px)"></i>
<i style="background:linear-gradient(90deg,#83ff7c 9.2px,#82ff7d 12.8px,#97ff68 16.2px,#85ff7a 20.2px,#6dff92 44.2px,#53ffac 51.2px,#12ffed 59.8px,#09fff6 62.8px,#12ffed 64.2px,#2effd1 66.2px,#5bffa4 68.2px,#dbff24 73.2px,#fcff03 74.8px,#fff800 75.2px,#ffc700 78.2px,#ffa600 81.2px,#ff9300 84.2px,#ff8c00 87.8px,#ff9300 91.2px,#ffa800 94.8px,#fc0 98.2px,#ff0 101.8px,#60ff9f 110.2px,#38ffc7 112.8px,#16ffe9 115.8px,#09fff6 119.2px,#1fe 122.8px,#4fb 131.8px,#5dffa2 137.8px,#71ff8e 145.2px,#81ff7e 155.8px,#8f7 156.2px)"></i>
<i style="background:linear-gradient(90deg,#9bff64 7.8px,#89ff76 8.2px,#87ff78 9.2px,#89ff76 11.8px,#96ff69 14.2px,#87ff78 18.2px,#7cff83 36.8px,#6dff92 46.2px,#53ffac 52.2px,#10ffef 59.8px,#05fffa 62.2px,#10ffef 64.2px,#27ffd8 65.8px,#57ffa8 67.8px,#e4ff1b 72.8px,#fcff03 73.8px,#fff700 74.2px,#ffc000 77.2px,#ff9600 80.8px,#ff7f00 84.2px,#ff7800 87.8px,#ff8200 91.8px,#f90 95.2px,#ffbf00 98.8px,#fffd00 102.8px,#d2ff2d 105.2px,#60ff9f 110.8px,#34ffcb 113.2px,#1fe 116.2px,#05fffa 118.8px,#0dfff2 122.8px,#4fb 131.8px,#5fffa0 137.8px,#74ff8b 145.2px,#85ff7a 155.8px,#8f7 156.8px,#8fff70 157.2px)"></i>
<i style="background:linear-gradient(90deg,#b2ff4d 6.8px,#93ff6c 7.2px,#90ff6f 8.2px,#92ff6d 10.2px,#a8ff57 13.8px,#91ff6e 16.2px,#8cff73 17.8px,#7eff81 39.8px,#70ff8f 47.8px,#52ffad 53.2px,#0afff5 60.2px,#01fffe 62.2px,#0efff1 64.2px,#2affd5 65.8px,#53ffac 67.2px,#e0ff1f 71.8px,#fbff04 72.8px,#fff600 73.2px,#ffb900 76.2px,#ff8b00 79.8px,#ff6e00 83.8px,#f60 87.8px,#ff6f00 91.8px,#ff8a00 95.8px,#ffb900 99.8px,#fffc00 103.8px,#d9ff26 105.8px,#5fffa0 111.2px,#30ffcf 113.8px,#0ffff0 116.2px,#0ff 118.8px,#08fff7 122.8px,#45ffba 131.8px,#62ff9d 137.8px,#7f8 144.8px,#89ff76 155.8px,#90ff6f 157.8px,#98ff67 158.2px)"></i>
<i style="background:linear-gradient(90deg,#adff52 6.2px,#9fff60 6.8px,#9bff64 8.2px,#b5ff4a 12.8px,#b1ff4e 13.8px,#98ff67 16.2px,#91ff6e 18.2px,#83ff7c 41.2px,#78ff87 47.8px,#5bffa4 53.2px,#42ffbd 55.8px,#04fffb 60.8px,#00fdff 62.8px,#0dfff2 64.2px,#2fffd0 65.8px,#daff25 70.8px,#f9ff06 71.8px,#fff700 72.2px,#ffd100 73.8px,#fa0 75.8px,#ff7a00 79.2px,#ff5d00 83.2px,#ff5300 87.8px,#ff5e00 92.2px,#ff8000 96.8px,#ffb400 100.8px,#fffd00 104.8px,#34ffcb 113.8px,#0efff1 116.2px,#00fdff 118.2px,#00faff 119.8px,#02fffd 122.2px,#48ffb7 131.8px,#6f9 137.8px,#7bff84 144.8px,#91ff6e 156.2px,#a1ff5e 159.2px)"></i>
<i style="background:linear-gradient(90deg,#b6ff49 5.2px,#af5 5.8px,#a8ff57 7.8px,#bdff42 12.2px,#9eff61 16.2px,#95ff6a 19.2px,#89ff76 42.8px,#7fff80 48.8px,#71ff8e 51.8px,#5cffa3 54.2px,#45ffba 56.2px,#03fffc 60.8px,#00f8ff 62.2px,#00fdff 63.2px,#0dfff2 64.2px,#26ffd9 65.2px,#5bffa4 66.8px,#d2ff2d 69.8px,#f5ff0a 70.8px,#fff900 71.2px,#ffcf00 72.8px,#ffac00 74.2px,#ff8900 76.2px,#ff6f00 78.2px,#ff4c00 82.8px,#ff4000 87.8px,#ff4e00 92.8px,#ff7200 97.2px,#ffaf00 101.8px,#fffe00 105.8px,#3affc5 113.8px,#15ffea 115.8px,#00fdff 117.8px,#00f5ff 120.2px,#01fffe 122.8px,#47ffb8 131.2px,#6bff94 137.8px,#7fff80 144.2px,#97ff68 156.2px,#af5 160.2px)"></i>
<i style="background:linear-gradient(90deg,#c7ff38 4.2px,#b3ff4c 4.8px,#b1ff4e 6.8px,#c3ff3c 11.2px,#a4ff5b 16.2px,#9aff65 20.2px,#91ff6e 44.2px,#8f7 49.2px,#7aff85 52.2px,#64ff9b 54.8px,#49ffb6 56.8px,#03fffc 60.8px,#00f5ff 62.2px,#00faff 63.2px,#03fffc 63.8px,#0efff1 64.2px,#2dffd2 65.2px,#c7ff38 68.8px,#fffc00 70.2px,#fc0 71.8px,#ffa700 73.2px,#ff8000 75.2px,#ff6500 77.2px,#ff3e00 81.8px,#ff2f00 87.2px,#ff3c00 92.8px,#ff6300 97.8px,#ffa200 102.2px,#fdff02 106.8px,#36ffc9 114.2px,#0ffff0 116.2px,#00fbff 117.8px,#00f1ff 120.2px,#01fffe 123.2px,#4cffb3 131.2px,#71ff8e 137.8px,#84ff7b 143.8px,#9fff60 156.8px,#b2ff4d 160.8px)"></i>
<i style="background:linear-gradient(90deg,#c6ff39 3.8px,#bdff42 4.2px,#baff45 5.8px,#c9ff36 10.8px,#a8ff57 16.8px,#9dff62 21.8px,#9aff65 45.2px,#92ff6d 50.2px,#82ff7d 53.2px,#67ff98 55.8px,#45ffba 57.8px,#05fffa 60.8px,#00f3ff 62.2px,#00f8ff 63.2px,#03fffc 63.8px,#23ffdc 64.8px,#fdff02 69.2px,#ffcb00 70.8px,#ffa100 72.2px,#ff7800 74.2px,#ff5a00 76.2px,#ff4000 78.8px,#ff2f00 81.2px,#f20 84.2px,#ff1d00 87.2px,#ff2a00 92.8px,#ff3d00 95.8px,#f50 98.2px,#ff9500 102.8px,#ffc700 105.2px,#fff700 107.2px,#faff05 107.8px,#ecff13 108.2px,#31ffce 114.8px,#08fff7 116.8px,#00f9ff 117.8px,#00edff 120.2px,#00fdff 123.2px,#51ffae 131.2px,#76ff89 137.2px,#8aff75 143.2px,#a7ff58 156.8px,#bcff43 161.8px)"></i>
<i style="background:linear-gradient(90deg,#d5ff2a 2.8px,#c4ff3b 3.2px,#ceff31 10.2px,#adff52 16.8px,#a2ff5d 22.2px,#9eff61 32.2px,#a5ff5a 46.8px,#9eff61 51.2px,#90ff6f 53.8px,#73ff8c 56.2px,#4bffb4 58.2px,#00feff 61.2px,#00f1ff 62.2px,#00f7ff 63.2px,#05fffa 63.8px,#2effd1 64.8px,#dbff24 67.8px,#f5ff0a 68.2px,#fff200 68.8px,#ffb800 70.2px,#ff8e00 71.8px,#f60 73.8px,#ff4a00 75.8px,#ff3100 78.2px,#ff1d00 81.2px,#f10 84.2px,#ff0d00 87.8px,#f10 90.8px,#ff1d00 93.8px,#f30 96.8px,#ff4c00 99.2px,#ff6e00 101.8px,#ff9100 103.8px,#ffc700 106.2px,#fffb00 108.2px,#e6ff19 109.2px,#2cffd3 115.2px,#01fffe 117.2px,#00f8ff 117.8px,#0ef 118.8px,#00e8ff 120.2px,#02fffd 123.8px,#54ffab 130.8px,#6bff94 133.8px,#7eff81 137.2px,#90ff6f 142.8px,#aeff51 156.8px,#c4ff3b 162.2px)"></i>
<i style="background:linear-gradient(90deg,#daff25 2.2px,#cdff32 2.8px,#d4ff2b 9.2px,#b1ff4e 17.2px,#a6ff59 23.8px,#a4ff5b 33.8px,#b3ff4c 48.2px,#adff52 52.2px,#a2ff5d 54.2px,#8bff74 56.2px,#62ff9d 58.2px,#05fffa 61.2px,#00f1ff 62.2px,#00f0ff 62.8px,#00f8ff 63.2px,#09fff6 63.8px,#21ffde 64.2px,#caff35 66.8px,#e9ff16 67.2px,#fff800 67.8px,#ffc900 68.8px,#ff9400 70.2px,#ff7000 71.8px,#ff4e00 73.8px,#ff3000 76.2px,#ff1c00 78.8px,#ff0900 82.2px,#f00 85.2px,#ff0500 92.2px,#ff1800 95.8px,#f30 98.8px,#ff5900 101.8px,#ff8300 104.2px,#fb0 106.8px,#feff01 109.2px,#34ffcb 115.2px,#01fffe 117.2px,#00f8ff 117.8px,#00ebff 118.8px,#00e4ff 120.2px,#00ebff 121.8px,#02fffd 123.8px,#57ffa8 130.2px,#71ff8e 133.2px,#85ff7a 136.8px,#98ff67 142.2px,#b5ff4a 156.8px,#cdff32 163.2px)"></i>
<i style="background:linear-gradient(90deg,#e0ff1f 1.8px,#d5ff2a 2.2px,#d9ff26 8.8px,#b7ff48 17.2px,#af5 24.8px,#acff53 35.2px,#c3ff3c 49.2px,#bfff40 53.2px,#b3ff4c 55.2px,#98ff67 57.2px,#81ff7e 58.2px,#62ff9d 59.2px,#0ff 61.8px,#00f3ff 62.2px,#00f1ff 62.8px,#00fbff 63.2px,#12ffed 63.8px,#32ffcd 64.2px,#b0ff4f 65.8px,#fbff04 66.8px,#ffc900 67.8px,#ff9e00 68.8px,#ff7100 70.2px,#ff5400 71.8px,#ff2300 75.8px,#fe0000 81.2px,#f20000 84.8px,#e00 88.2px,#f20000 91.2px,#ff0100 94.8px,#ff1600 97.8px,#ff3c00 101.2px,#ff6c00 104.2px,#ffae00 107.2px,#fff600 109.8px,#f7ff08 110.2px,#e6ff19 110.8px,#2effd1 115.8px,#03fffc 117.2px,#00f8ff 117.8px,#00e8ff 118.8px,#00e1ff 120.2px,#00e8ff 121.8px,#03fffc 123.8px,#42ffbd 127.8px,#61ff9e 130.2px,#7cff83 133.2px,#8eff71 136.2px,#a0ff5f 141.8px,#bdff42 156.8px,#d5ff2a 163.8px)"></i>
<i style="background:linear-gradient(90deg,#e6ff19 1.2px,#dcff23 1.8px,#deff21 8.2px,#bf4 17.8px,#afff50 26.2px,#b3ff4c 35.2px,#d5ff2a 50.2px,#d5ff2a 54.2px,#c9ff36 56.2px,#a8ff57 58.2px,#7f8 59.8px,#10ffef 61.8px,#00fcff 62.2px,#00f6ff 62.8px,#04fffb 63.2px,#23ffdc 63.8px,#eaff15 65.8px,#ffeb00 66.2px,#ffc900 66.8px,#ff9700 67.8px,#ff7500 68.8px,#ff5300 70.2px,#ff2600 73.8px,#fe0000 78.8px,#e80000 83.8px,#e00000 88.2px,#e70000 92.8px,#ff0400 97.8px,#ff2700 101.2px,#ff5d00 104.8px,#ffa000 107.8px,#fffd00 110.8px,#c8ff37 112.2px,#38ffc7 115.8px,#07fff8 117.2px,#00f9ff 117.8px,#00e7ff 118.8px,#0df 120.2px,#00e6ff 121.8px,#00fcff 123.2px,#4fb 127.2px,#68ff97 129.8px,#85ff7a 132.8px,#98ff67 135.8px,#af5 141.2px,#c3ff3c 156.2px,#dcff23 164.2px)"></i>
<i style="background:linear-gradient(90deg,#ebff14 0.8px,#e3ff1c 1.2px,#e2ff1d 2.2px,#e1ff1e 8.8px,#bdff42 19.2px,#b5ff4a 27.8px,#beff41 37.2px,#ef1 52.2px,#efff10 55.8px,#e0ff1f 57.8px,#c0ff3f 59.2px,#97ff68 60.2px,#15ffea 62.2px,#09fff6 62.8px,#19ffe6 63.2px,#48ffb7 63.8px,#caff35 64.8px,#fffb00 65.2px,#fc0 65.8px,#ffa900 66.2px,#ff8e00 66.8px,#ff7a00 67.2px,#ff5e00 68.2px,#ff4300 69.8px,#ff2b00 71.8px,#fd0000 77.2px,#de0000 83.2px,#d30000 89.2px,#de0000 94.2px,#ff0300 99.8px,#ff2d00 103.2px,#ff6200 106.2px,#ff9f00 108.8px,#fff200 111.2px,#f8ff07 111.8px,#31ffce 116.2px,#0cfff3 117.2px,#00fcff 117.8px,#00e5ff 118.8px,#00daff 120.2px,#00e5ff 121.8px,#0ff 123.2px,#48ffb7 126.8px,#70ff8f 129.2px,#90ff6f 132.2px,#a3ff5c 135.2px,#b4ff4b 140.2px,#caff35 155.2px,#e3ff1c 164.8px)"></i>
<i style="background:linear-gradient(90deg,#f0ff0f 0.2px,#e9ff16 0.8px,#e7ff18 8.2px,#c1ff3e 19.8px,#bf4 28.2px,#cbff34 39.2px,#ff0 51.2px,#ffed00 56.8px,#fff200 58.2px,#fffe00 59.2px,#e4ff1b 60.2px,#cdff32 60.8px,#acff53 61.2px,#56ffa9 62.2px,#40ffbf 62.8px,#54ffab 63.2px,#92ff6d 63.8px,#e0ff1f 64.2px,#ffd900 64.8px,#ffa800 65.2px,#ff8700 65.8px,#ff7100 66.2px,#ff5600 67.2px,#ff2f00 70.2px,#fd0000 76.2px,#d50000 83.2px,#c80000 89.8px,#d60000 95.8px,#f00 101.2px,#ff2500 104.2px,#ff5d00 107.2px,#ff9f00 109.8px,#fffb00 112.2px,#d5ff2a 113.2px,#28ffd7 116.8px,#01fffe 117.8px,#00f0ff 118.2px,#00dcff 119.2px,#00d6ff 120.2px,#00deff 121.2px,#00f9ff 122.8px,#05fffa 123.2px,#4cffb3 126.2px,#7aff85 128.8px,#9dff62 131.8px,#b0ff4f 134.8px,#c0ff3f 139.8px,#d0ff2f 154.2px,#e8ff17 164.8px)"></i>
<i style="background:linear-gradient(90deg,#f3ff0c 0.2px,#edff12 7.8px,#c7ff38 19.8px,#c0ff3f 27.8px,#d1ff2e 38.2px,#feff01 48.2px,#ffc800 56.8px,#ffc000 59.2px,#ffc700 60.2px,#ffd000 60.8px,#ffe300 61.2px,#fbff04 61.8px,#ceff31 62.2px,#acff53 62.8px,#b4ff4b 63.2px,#e9ff16 63.8px,#ffd000 64.2px,#ff9b00 64.8px,#ff7c00 65.2px,#ff5e00 66.2px,#ff3900 69.2px,#fe0000 75.8px,#ce0000 83.2px,#bd0000 90.2px,#c10000 93.8px,#c00 96.8px,#df0000 99.8px,#ff0200 103.2px,#ff2e00 106.2px,#ff6400 108.8px,#ff9f00 110.8px,#ffef00 112.8px,#f7ff08 113.2px,#1effe1 117.2px,#07fff8 117.8px,#00f3ff 118.2px,#00daff 119.2px,#00d4ff 120.2px,#0df 121.2px,#0ff 122.8px,#53ffac 125.8px,#86ff79 128.2px,#a7ff58 130.8px,#bdff42 133.8px,#cf3 138.8px,#d9ff26 153.8px,#f0ff0f 165.2px)"></i>
<i style="background:linear-gradient(90deg,#f6ff09 0.2px,#f3ff0c 6.8px,#cfff30 18.2px,#c6ff39 27.2px,#d5ff2a 37.2px,#feff01 46.2px,#ffd900 51.8px,#ff9b00 58.8px,#ff9400 60.2px,#f90 60.8px,#ffa800 61.2px,#ffc900 61.8px,#feff01 62.2px,#c3ff3c 62.8px,#a9ff56 63.2px,#c4ff3b 63.8px,#fbff04 64.2px,#ffd000 64.8px,#ffac00 65.2px,#ff8300 66.2px,#ff6a00 67.2px,#ff3000 71.2px,#ff0500 75.2px,#fb0000 76.2px,#da0000 80.2px,#c30000 84.2px,#b70000 87.8px,#b30000 91.2px,#b80000 94.8px,#c60000 98.2px,#df0000 101.8px,#f00 104.8px,#ff2700 107.2px,#ff5f00 109.8px,#ff9f00 111.8px,#fffb00 113.8px,#caff35 114.8px,#2cffd3 117.2px,#1fe 117.8px,#00f8ff 118.2px,#00d9ff 119.2px,#00d2ff 120.2px,#00dfff 121.2px,#00faff 122.2px,#0bfff4 122.8px,#6aff95 125.8px,#96ff69 127.8px,#b8ff47 130.2px,#ceff31 133.2px,#dbff24 137.8px,#e2ff1d 153.2px,#f6ff09 165.8px)"></i>
<i style="background:linear-gradient(90deg,#fcff03 0.2px,#f9ff06 6.2px,#d5ff2a 18.2px,#cf3 26.8px,#d9ff26 36.2px,#ff0 44.8px,#ffdc00 49.8px,#ff8f00 58.8px,#ff9300 59.8px,#ff9c00 60.2px,#ffaf00 60.8px,#ffd000 61.2px,#f7ff08 61.8px,#67ff98 62.8px,#41ffbe 63.2px,#4dffb2 63.8px,#7cff83 64.2px,#e8ff17 65.2px,#ffed00 65.8px,#ffce00 66.2px,#ffa000 67.2px,#ff6800 69.2px,#ff2c00 72.8px,#ff0100 76.2px,#fa0000 76.8px,#d60000 80.8px,#bc0000 84.8px,#ad0000 88.8px,#a90000 92.2px,#b10000 96.2px,#c10000 99.8px,#dc0000 103.2px,#fe0000 106.2px,#ff2900 108.8px,#ff5900 110.8px,#ffa000 112.8px,#ffec00 114.2px,#f3ff0c 114.8px,#40ffbf 117.2px,#01fffe 118.2px,#00e9ff 118.8px,#00d9ff 119.2px,#00d1ff 120.2px,#00d8ff 120.8px,#00f4ff 121.8px,#08fff7 122.2px,#68ff97 124.8px,#9fff60 126.8px,#c8ff37 129.2px,#e0ff1f 132.2px,#ebff14 136.8px,#ebff14 152.8px,#fdff02 165.8px)"></i>
<i style="background:linear-gradient(90deg,#fffc00 0.2px,#ff0 5.8px,#daff25 18.2px,#d1ff2e 26.2px,#df2 35.2px,#ff0 43.2px,#ffde00 48.2px,#ff9f00 55.8px,#ff9800 57.8px,#ffa700 59.2px,#ffb500 59.8px,#fc0 60.2px,#fe0 60.8px,#e0ff1f 61.2px,#5fffa0 62.2px,#25ffda 62.8px,#06fff9 63.2px,#09fff6 63.8px,#29ffd6 64.2px,#b7ff48 65.8px,#fffe00 66.8px,#ffb300 68.2px,#ff7400 70.2px,#ff3600 73.2px,#ff0300 76.8px,#d20000 81.2px,#b80000 84.8px,#a60000 88.8px,#a10000 92.8px,#a70000 96.8px,#b90000 100.8px,#d90000 104.8px,#fd0000 107.8px,#ff2b00 110.2px,#ff6300 112.2px,#ffa200 113.8px,#fffd00 115.2px,#dcff23 115.8px,#0dfff2 118.2px,#0ef 118.8px,#00daff 119.2px,#00d1ff 119.8px,#00d2ff 120.2px,#0df 120.8px,#05fffa 121.8px,#79ff86 124.2px,#b6ff49 126.2px,#daff25 128.2px,#f4ff0b 131.2px,#feff01 135.8px,#f5ff0a 151.2px,#fffc00 165.8px)"></i>
<i style="background:linear-gradient(90deg,#fff600 0.2px,#ff0 7.8px,#dfff20 18.2px,#d7ff28 25.8px,#e1ff1e 34.2px,#feff01 41.8px,#ffe500 46.2px,#ffac00 53.8px,#ffa200 56.2px,#ffa500 57.2px,#ffb100 58.2px,#ffce00 59.2px,#ffe500 59.8px,#f9ff06 60.2px,#d0ff2f 60.8px,#3fc 62.2px,#08fff7 62.8px,#0ef 63.2px,#00ecff 63.8px,#00feff 64.2px,#20ffdf 64.8px,#9f6 66.2px,#deff21 67.2px,#fbff04 67.8px,#ffe900 68.2px,#ffbd00 69.2px,#f90 70.2px,#ff6100 72.2px,#ff2e00 74.8px,#fe0000 77.8px,#d40000 81.2px,#b30000 85.2px,#a00000 89.2px,#900 93.2px,#9f0000 97.2px,#b30000 101.8px,#d10000 105.8px,#fb0000 109.2px,#ff0400 109.8px,#ff2100 111.2px,#ff5c00 113.2px,#ffa500 114.8px,#ffeb00 115.8px,#e8ff17 116.2px,#21ffde 118.2px,#00f8ff 118.8px,#00deff 119.2px,#00d3ff 119.8px,#00d7ff 120.2px,#03fffc 121.2px,#78ff87 123.2px,#b7ff48 124.8px,#dfff20 126.2px,#fdff02 128.2px,#fff100 130.8px,#ffeb00 133.8px,#fffe00 150.8px,#fff700 165.8px)"></i>
<i style="background:linear-gradient(90deg,#ffef00 0.2px,#ff0 9.2px,#e5ff1a 18.2px,#dcff23 25.8px,#e4ff1b 33.2px,#ff0 40.8px,#ffb500 52.2px,#ffab00 55.2px,#ffb400 56.8px,#ffc400 57.8px,#ffe200 58.8px,#fff900 59.2px,#e9ff16 59.8px,#c7ff38 60.2px,#1affe5 62.2px,#00f8ff 62.8px,#00e4ff 63.2px,#00dfff 63.8px,#00e9ff 64.2px,#0ff 64.8px,#a7ff58 67.2px,#fcff03 68.8px,#ffae00 70.8px,#ff6300 73.2px,#ff2300 76.2px,#ff0200 78.2px,#f90000 78.8px,#ce0000 82.2px,#ab0000 86.2px,#980000 90.2px,#920000 94.2px,#9a0000 98.8px,#b00000 103.2px,#d40000 107.8px,#ff0300 111.2px,#f20 112.8px,#ff5300 114.2px,#ff8700 115.2px,#ffd300 116.2px,#f9ff06 116.8px,#41ffbe 118.2px,#0bfff4 118.8px,#00e6ff 119.2px,#00dbff 119.8px,#00e6ff 120.2px,#03fffc 120.8px,#74ff8b 122.2px,#b1ff4e 123.2px,#ecff13 124.8px,#fffa00 125.8px,#ffdc00 128.2px,#ffd300 131.8px,#fff200 149.8px,#fff000 165.8px)"></i>
<i style="background:linear-gradient(90deg,#ffe900 0.2px,#ffef00 5.2px,#ff0 10.8px,#e9ff16 18.8px,#e1ff1e 25.8px,#e8ff17 32.8px,#fdff02 39.2px,#ffbe00 50.8px,#ffb400 53.8px,#ffb800 55.2px,#ffc200 56.2px,#ffd400 57.2px,#fff200 58.2px,#f7ff08 58.8px,#deff21 59.2px,#9fff60 60.2px,#0bfff4 62.2px,#00efff 62.8px,#00deff 63.2px,#00d8ff 63.8px,#0df 64.2px,#02fffd 65.2px,#b4ff4b 68.2px,#fffe00 69.8px,#ffae00 71.8px,#ff7000 73.8px,#ff2a00 76.8px,#fc0000 79.2px,#c00 82.8px,#a70000 86.8px,#920000 90.8px,#8c0000 94.8px,#940000 99.2px,#ad0000 104.2px,#d40000 109.2px,#ff0100 112.8px,#ff2300 114.2px,#ff4800 115.2px,#ff6200 115.8px,#ff8500 116.2px,#ffb200 116.8px,#ffed00 117.2px,#c9ff36 117.8px,#2fffd0 118.8px,#00fdff 119.2px,#00f2ff 119.8px,#0bfff4 120.2px,#9aff65 121.8px,#c1ff3e 122.2px,#faff05 123.2px,#fff100 123.8px,#ffd600 124.8px,#ffc700 125.8px,#fb0 127.2px,#ffb600 129.2px,#ffe600 148.8px,#ffea00 165.8px)"></i>
<i style="background:linear-gradient(90deg,#ffe400 0.2px,#ffeb00 5.8px,#fffe00 12.2px,#ecff13 19.8px,#e7ff18 25.8px,#ecff13 32.2px,#feff01 38.2px,#ffc400 49.8px,#ffbc00 52.8px,#ffc000 54.2px,#ffce00 55.8px,#ffe100 56.8px,#fffe00 57.8px,#bdff42 59.2px,#01fffe 62.2px,#00eaff 62.8px,#00dbff 63.2px,#00d4ff 63.8px,#00d6ff 64.2px,#00dfff 64.8px,#05fffa 65.8px,#c1ff3e 69.2px,#f1ff0e 70.2px,#fff700 70.8px,#fa0 72.8px,#ff6d00 74.8px,#ff3000 77.2px,#fe0000 79.8px,#cb0000 83.2px,#a40000 87.2px,#8d0000 91.2px,#870000 95.2px,#8f0000 99.8px,#a80000 104.8px,#d50000 110.8px,#fe0000 114.2px,#ff1500 115.2px,#ff3a00 116.2px,#ff5900 116.8px,#f80 117.2px,#fc0 117.8px,#d9ff26 118.2px,#7aff85 118.8px,#3cffc3 119.2px,#37ffc8 119.8px,#63ff9c 120.2px,#dbff24 121.2px,#fff800 121.8px,#ffd800 122.2px,#ffc200 122.8px,#ffa800 123.8px,#ff9700 125.2px,#ff9300 126.8px,#f90 129.8px,#ffc500 140.8px,#ffd800 147.8px,#ffe100 154.8px,#ffe300 165.8px)"></i>
<i style="background:linear-gradient(90deg,#ffdf00 0.2px,#ffe600 5.8px,#feff01 14.2px,#f0ff0f 20.2px,#ebff14 26.2px,#f0ff0f 31.8px,#ff0 37.2px,#ffc900 48.8px,#ffc300 51.8px,#ffc600 53.2px,#ffd300 54.8px,#fff900 56.8px,#f6ff09 57.2px,#baff45 58.8px,#13ffec 61.8px,#00faff 62.2px,#00d9ff 63.2px,#00d1ff 64.2px,#00d7ff 64.8px,#00f3ff 65.8px,#08fff7 66.2px,#b7ff48 69.8px,#fbff04 71.2px,#ffa400 73.8px,#ff5a00 76.2px,#ff1500 79.2px,#ff0200 80.2px,#f80000 80.8px,#c40000 84.2px,#a00000 87.8px,#890000 91.8px,#830000 95.8px,#8d0000 100.2px,#a40000 104.8px,#d50000 111.2px,#fe0000 115.2px,#ff1200 116.2px,#f20 116.8px,#ff3e00 117.2px,#ff6e00 117.8px,#fb0 118.2px,#e8ff17 118.8px,#b1ff4e 119.2px,#c0ff3f 119.8px,#feff01 120.2px,#ffc300 120.8px,#ff9a00 121.2px,#ff8200 121.8px,#ff6d00 122.8px,#ff6700 124.2px,#ff7100 127.2px,#ffae00 138.8px,#ffc700 145.8px,#ffd700 153.8px,#fd0 165.8px)"></i>
<i style="background:linear-gradient(90deg,#ffd900 0.2px,#ffe100 5.8px,#ff0 15.8px,#f0ff0f 26.2px,#feff01 35.8px,#ffcf00 47.8px,#ffc900 50.8px,#ffd600 53.8px,#fdff02 56.2px,#dfff20 57.2px,#b9ff46 58.2px,#0bfff4 61.8px,#00f5ff 62.2px,#00d8ff 63.2px,#00cfff 64.2px,#00daff 65.2px,#00f7ff 66.2px,#0bfff4 66.8px,#f1ff0e 71.8px,#fff800 72.2px,#ff9d00 74.8px,#ff5300 77.2px,#ff1800 79.8px,#ff0400 80.8px,#f90000 81.2px,#c30000 84.8px,#9e0000 88.2px,#800 91.8px,#810000 95.8px,#890000 99.8px,#a00000 104.2px,#cd0000 109.8px,#ff0300 114.2px,#ff2100 115.8px,#ff4500 116.8px,#f60 117.2px,#f90 117.8px,#ffe000 118.2px,#dcff23 118.8px,#cf3 119.2px,#fffe00 119.8px,#ffad00 120.2px,#ff7000 120.8px,#ff4f00 121.2px,#ff4100 121.8px,#ff3b00 122.8px,#ff8f00 135.8px,#ffb600 144.2px,#fc0 152.8px,#ffd700 165.8px)"></i>
<i style="background:linear-gradient(90deg,#ffd200 0.2px,#ffdc00 5.8px,#ff0 17.8px,#f5ff0a 26.2px,#feff01 34.2px,#ffd400 46.8px,#ffcf00 50.2px,#ffda00 52.8px,#fffc00 55.2px,#eaff15 56.2px,#b9ff46 57.8px,#06fff9 61.8px,#00f2ff 62.2px,#00d7ff 63.2px,#00cdff 64.2px,#00d4ff 65.2px,#00fbff 66.8px,#23ffdc 67.8px,#ff0 72.8px,#ffa400 75.2px,#f60 77.2px,#ff2600 79.8px,#fb0000 81.8px,#c80000 84.8px,#a00000 88.2px,#800 91.8px,#800000 95.8px,#800 99.8px,#a30000 104.2px,#cf0000 108.8px,#ff0200 112.2px,#f20 113.8px,#ff5400 115.2px,#ff8e00 116.2px,#ffba00 116.8px,#fff300 117.2px,#c4ff3b 117.8px,#7bff84 118.2px,#4effb1 118.8px,#5cffa3 119.2px,#a6ff59 119.8px,#fff900 120.2px,#ffa900 120.8px,#ff7400 121.2px,#f50 121.8px,#f40 122.2px,#ff3b00 122.8px,#ff3500 123.8px,#ff3c00 125.8px,#ff8900 137.2px,#ffac00 144.8px,#ffc300 153.2px,#ffd100 165.8px)"></i>
<i style="background:linear-gradient(90deg,#ffcd00 0.2px,#ff0 20.2px,#f9ff06 26.8px,#ff0 33.2px,#ffd400 48.8px,#fd0 51.8px,#fff900 54.2px,#f2ff0d 55.2px,#caff35 56.8px,#95ff6a 58.2px,#02fffd 61.8px,#00f0ff 62.2px,#00d0ff 63.8px,#0cf 64.8px,#00d8ff 65.8px,#0ff 67.2px,#39ffc6 68.8px,#f9ff06 73.2px,#fff200 73.8px,#ffa900 75.8px,#ff5c00 78.2px,#ff1d00 80.8px,#fc0000 82.2px,#c80000 85.2px,#9e0000 88.8px,#890000 91.8px,#800000 95.2px,#800 99.2px,#a10000 103.2px,#cb0000 107.2px,#fa0000 110.2px,#ff0400 110.8px,#ff1b00 111.8px,#ff4800 113.2px,#ff8c00 114.8px,#ffd300 115.8px,#fbff04 116.2px,#c3ff3c 116.8px,#41ffbe 117.8px,#0bfff4 118.2px,#00f5ff 118.8px,#0efff1 119.2px,#50ffaf 119.8px,#f6ff09 120.8px,#ffc700 121.2px,#ff9700 121.8px,#ff7600 122.2px,#ff5f00 122.8px,#ff5000 123.2px,#ff4100 124.2px,#ff3c00 125.8px,#ff4500 128.2px,#ff8a00 139.8px,#ffa600 146.2px,#fb0 153.8px,#fc0 165.8px)"></i>
<i style="background:linear-gradient(90deg,#ffc800 0.2px,#ff0 23.8px,#fffc00 32.8px,#ffdc00 44.8px,#ffd800 48.2px,#ffe300 51.2px,#fffe00 53.8px,#e3ff1c 55.2px,#bf4 56.8px,#87ff78 58.2px,#0ff 61.8px,#00d8ff 63.2px,#00cbff 64.8px,#00dbff 66.2px,#04fffb 67.8px,#3bffc4 69.2px,#f5ff0a 73.8px,#fff600 74.2px,#ff9d00 76.8px,#ff5f00 78.8px,#ff1e00 81.2px,#fc0000 82.8px,#c70000 85.8px,#a10000 88.8px,#8b0000 91.8px,#810000 95.2px,#890000 98.8px,#a00000 102.2px,#c70000 105.8px,#ff0300 109.2px,#ff2800 110.8px,#ff5900 112.2px,#ff9f00 113.8px,#ffe000 114.8px,#f6ff09 115.2px,#95ff6a 116.2px,#27ffd8 117.2px,#00f7ff 117.8px,#00d9ff 118.2px,#00d5ff 118.8px,#00f0ff 119.2px,#26ffd9 119.8px,#ef1 121.2px,#ffdb00 121.8px,#ffb200 122.2px,#ff9200 122.8px,#ff6800 123.8px,#ff4b00 125.2px,#ff4200 127.2px,#ff4a00 130.2px,#ff8400 140.8px,#ffa100 147.8px,#ffb300 154.2px,#ffc800 165.8px)"></i>
<i style="background:linear-gradient(90deg,#ffc300 0.2px,#ffc500 3.2px,#ffed00 16.8px,#fffb00 23.8px,#fffa00 32.2px,#ffdc00 46.8px,#ffe500 50.2px,#fffb00 52.8px,#ebff14 54.2px,#bcff43 56.2px,#8dff72 57.8px,#00fdff 61.8px,#00d9ff 63.2px,#00cbff 64.8px,#00d6ff 66.2px,#00f8ff 67.8px,#08fff7 68.2px,#51ffae 70.2px,#f2ff0d 74.2px,#fff900 74.8px,#ff9f00 77.2px,#ff5300 79.8px,#ff1f00 81.8px,#fc0000 83.2px,#c60000 86.2px,#a00000 89.2px,#8b0000 92.2px,#840000 95.2px,#8b0000 98.2px,#a40000 101.8px,#c80000 104.8px,#fe0000 107.8px,#ff3200 109.8px,#ff6500 111.2px,#fa0 112.8px,#ffe600 113.8px,#f5ff0a 114.2px,#a4ff5b 115.2px,#19ffe6 116.8px,#00efff 117.2px,#00d1ff 117.8px,#00c4ff 118.2px,#00c9ff 118.8px,#00e4ff 119.2px,#10ffef 119.8px,#b8ff47 121.2px,#ebff14 121.8px,#ffe800 122.2px,#ffa600 123.2px,#ff8f00 123.8px,#ff6e00 124.8px,#ff5300 126.2px,#ff4700 128.8px,#ff4f00 132.2px,#ff9d00 149.2px,#ffc200 165.8px)"></i>
<i style="background:linear-gradient(90deg,#ffc400 0.2px,#ffbd00 0.8px,#ffbe00 2.8px,#ffeb00 17.8px,#fff800 25.8px,#fff600 32.8px,#ffe000 46.8px,#ffe900 49.8px,#ff0 52.2px,#e0ff1f 54.2px,#b1ff4e 56.2px,#00fdff 61.8px,#00daff 63.2px,#00cbff 64.8px,#00d3ff 66.2px,#00fdff 68.2px,#40ffbf 70.2px,#f1ff0e 74.8px,#fffa00 75.2px,#ffa100 77.8px,#ff6200 79.8px,#ff1f00 82.2px,#fc0000 83.8px,#cd0000 86.2px,#a50000 89.2px,#910000 91.8px,#800 94.8px,#8f0000 97.8px,#a50000 100.8px,#ca0000 103.8px,#f80000 106.2px,#ff0400 106.8px,#ff1d00 107.8px,#ff5a00 109.8px,#ff9800 111.2px,#ffe700 112.8px,#f7ff08 113.2px,#b0ff4f 114.2px,#10ffef 116.2px,#00ebff 116.8px,#00cfff 117.2px,#00beff 117.8px,#00baff 118.2px,#00c5ff 118.8px,#04fffb 119.8px,#c1ff3e 121.8px,#ebff14 122.2px,#fe0 122.8px,#ffcf00 123.2px,#ff9e00 124.2px,#ff7000 125.8px,#ff5400 127.8px,#ff4b00 129.8px,#ff5300 134.2px,#f90 150.8px,#ffbd00 165.2px)"></i>
<i style="background:linear-gradient(90deg,#ffc500 0.2px,#ffb900 0.8px,#ffb900 2.8px,#ffe500 17.2px,#fff400 24.8px,#fff400 32.2px,#ffe200 45.2px,#ffea00 48.8px,#fffc00 51.2px,#e8ff17 53.2px,#b4ff4b 55.8px,#00fdff 61.8px,#00d4ff 63.8px,#00cbff 65.2px,#00d6ff 66.8px,#02fffd 68.8px,#43ffbc 70.8px,#f0ff0f 75.2px,#fffb00 75.8px,#ffa200 78.2px,#ff6200 80.2px,#ff1e00 82.8px,#fb0000 84.2px,#c00 86.8px,#a00 89.2px,#950000 91.8px,#8d0000 94.8px,#960000 97.8px,#ab0000 100.2px,#c00 102.8px,#fb0000 105.2px,#ff2100 106.8px,#ff5f00 108.8px,#ff9b00 110.2px,#ffe600 111.8px,#fbff04 112.2px,#bf4 113.2px,#08fff7 115.8px,#00e8ff 116.2px,#00bcff 117.2px,#00b4ff 117.8px,#00b7ff 118.2px,#00c4ff 118.8px,#00dcff 119.2px,#00fdff 119.8px,#caff35 122.2px,#edff12 122.8px,#fff100 123.2px,#ffa800 124.8px,#f80 125.8px,#ff7100 126.8px,#ff5700 128.8px,#ff4c00 131.2px,#ff5200 135.2px,#ff9100 150.8px,#ffb700 164.8px)"></i>
<i style="background:linear-gradient(90deg,#ffc200 0.8px,#ffb400 1.2px,#ffb400 3.2px,#ffe200 17.8px,#fff100 26.2px,#ffe600 45.8px,#ffed00 48.2px,#ff0 50.8px,#dfff20 53.2px,#b8ff47 55.2px,#84ff7b 57.2px,#00fdff 61.8px,#00d6ff 63.8px,#00cbff 65.2px,#00d3ff 66.8px,#00f9ff 68.8px,#07fff8 69.2px,#47ffb8 71.2px,#f1ff0e 75.8px,#fffa00 76.2px,#ffa100 78.8px,#ff6100 80.8px,#ff1d00 83.2px,#ff0500 84.2px,#f90000 84.8px,#cb0000 87.2px,#b00000 89.2px,#9b0000 91.8px,#930000 94.2px,#900 96.8px,#ac0000 99.2px,#cd0000 101.8px,#fd0000 104.2px,#ff2300 105.8px,#ff6200 107.8px,#ffb300 109.8px,#ff0 111.2px,#a5ff5a 112.8px,#02fffd 115.2px,#00e5ff 115.8px,#00bcff 116.8px,#00b2ff 117.2px,#00afff 117.8px,#00b6ff 118.2px,#00c5ff 118.8px,#00f9ff 119.8px,#1dffe2 120.2px,#d2ff2d 122.8px,#f1ff0e 123.2px,#fff100 123.8px,#ffaf00 125.2px,#ff9000 126.2px,#ff7900 127.2px,#ff5d00 129.2px,#ff4d00 132.2px,#ff5300 137.2px,#ff8e00 152.2px,#ffb300 164.8px)"></i>
<i style="background:linear-gradient(90deg,#ffbe00 1.2px,#ffaf00 1.8px,#ffb000 3.8px,#ffd900 16.2px,#ffea00 23.2px,#fff000 30.8px,#ffe700 44.2px,#fe0 47.2px,#feff01 50.2px,#e0ff1f 52.8px,#b0ff4f 55.2px,#00feff 61.8px,#00d8ff 63.8px,#0cf 65.8px,#00d7ff 67.2px,#00feff 69.2px,#4bffb4 71.8px,#f3ff0c 76.2px,#fff900 76.8px,#ff8f00 79.8px,#ff4300 82.2px,#ff0400 84.8px,#f80000 85.2px,#ca0000 87.8px,#b10000 89.8px,#a10000 91.8px,#9a0000 94.2px,#a20000 96.8px,#b30000 98.8px,#d60000 101.2px,#fe0000 103.2px,#ff2500 104.8px,#ff6300 106.8px,#ffb200 108.8px,#fffa00 110.2px,#ceff31 111.2px,#19ffe6 114.2px,#00fcff 114.8px,#00cdff 115.8px,#00bcff 116.2px,#00acff 117.2px,#00b7ff 118.2px,#00c7ff 118.8px,#00f8ff 119.8px,#18ffe7 120.2px,#9eff61 122.2px,#dbff24 123.2px,#f6ff09 123.8px,#ffef00 124.2px,#ffc400 125.2px,#ffa300 126.2px,#ff7500 128.2px,#ff5800 130.8px,#ff4d00 133.2px,#ff5200 138.8px,#ff8d00 153.8px,#ffae00 164.2px)"></i>
<i style="background:linear-gradient(90deg,#ffba00 1.8px,#ffab00 2.2px,#fa0 3.8px,#ffe600 23.2px,#ffed00 30.8px,#ffe900 43.8px,#fff000 46.8px,#fffe00 49.2px,#e7ff18 51.8px,#bfff40 54.2px,#87ff78 56.8px,#01fffe 61.8px,#00f5ff 62.2px,#00d5ff 64.2px,#00cdff 65.8px,#00dbff 67.8px,#04fffb 69.8px,#4fffb0 72.2px,#f5ff0a 76.8px,#fff600 77.2px,#ff8d00 80.2px,#ff4100 82.8px,#ff0200 85.2px,#f60000 85.8px,#ca0000 88.2px,#b20000 90.2px,#a50000 92.2px,#a20000 94.2px,#a90000 96.2px,#b00 98.2px,#d70000 100.2px,#f00 102.2px,#f30 104.2px,#ff6300 105.8px,#ffaf00 107.8px,#fff400 109.2px,#f1ff0e 109.8px,#12ffed 113.8px,#00f7ff 114.2px,#0bf 115.8px,#0af 116.8px,#00a9ff 117.2px,#00b9ff 118.2px,#00caff 118.8px,#00f8ff 119.8px,#15ffea 120.2px,#aeff51 122.8px,#fdff02 124.2px,#ffb300 126.2px,#ff9700 127.2px,#ff7800 128.8px,#ff5900 131.2px,#ff4b00 134.2px,#ff5200 140.2px,#ff8f00 155.8px,#ffa800 163.8px)"></i>
<i style="background:linear-gradient(90deg,#ffb700 2.2px,#ffa600 2.8px,#ffa600 4.2px,#ffe200 23.2px,#ffeb00 30.2px,#ffeb00 43.2px,#fff200 46.2px,#ff0 48.8px,#e2ff1d 51.8px,#baff45 54.2px,#83ff7c 56.8px,#0ffff0 61.2px,#03fffc 61.8px,#00f8ff 62.2px,#00d8ff 64.2px,#00cfff 66.2px,#00d9ff 67.8px,#00fcff 69.8px,#16ffe9 70.8px,#43ffbc 72.2px,#f9ff06 77.2px,#fff300 77.8px,#ff5b00 82.2px,#f00 85.8px,#d90000 87.8px,#be0000 89.8px,#ae0000 91.8px,#a00 93.8px,#b10000 95.8px,#c30000 97.8px,#e10000 99.8px,#f00 101.2px,#f30 103.2px,#ff6100 104.8px,#ffac00 106.8px,#fe0 108.2px,#f8ff07 108.8px,#0bfff4 113.2px,#00f2ff 113.8px,#0bf 115.2px,#00a8ff 116.2px,#00a6ff 116.8px,#00a9ff 117.2px,#00bdff 118.2px,#00faff 119.8px,#15ffea 120.2px,#bdff42 123.2px,#ef1 124.2px,#fffa00 124.8px,#ffb200 126.8px,#ff7900 129.2px,#ff5900 131.8px,#ff4900 134.8px,#ff4700 137.8px,#ff4f00 141.2px,#f90 159.2px,#ffa400 163.2px)"></i>
<i style="background:linear-gradient(90deg,#ffb300 2.8px,#ffa200 3.2px,#ffa200 5.2px,#ffdf00 23.2px,#ffe900 30.2px,#ffec00 42.8px,#ff0 48.2px,#e3ff1c 51.2px,#b5ff4a 54.2px,#80ff7f 56.8px,#1fe 61.2px,#00fbff 62.2px,#00dbff 64.2px,#00d0ff 66.2px,#0df 68.2px,#02fffd 70.2px,#59ffa6 73.2px,#fdff02 77.8px,#ff5700 82.8px,#ff2000 84.8px,#fd0000 86.2px,#d90000 88.2px,#c50000 89.8px,#b60000 91.8px,#b30000 93.2px,#b60000 94.8px,#c60000 96.8px,#e20000 98.8px,#f00 100.2px,#ff3200 102.2px,#ff7100 104.2px,#ffa900 105.8px,#ff0 107.8px,#05fffa 112.8px,#0ef 113.2px,#00c8ff 114.2px,#00aeff 115.2px,#00a4ff 116.2px,#00a5ff 116.8px,#0af 117.2px,#00c1ff 118.2px,#00fcff 119.8px,#cf3 123.8px,#f9ff06 124.8px,#fff100 125.2px,#ffae00 127.2px,#f70 129.8px,#ff5300 132.8px,#ff4500 135.8px,#f40 138.8px,#ff4d00 142.2px,#ff9400 158.8px,#ff9f00 162.2px)"></i>
<i style="background:linear-gradient(90deg,#ffa700 3.8px,#ff9e00 4.2px,#ff9f00 6.2px,#ffca00 17.2px,#ffdf00 24.8px,#ffed00 42.2px,#feff01 47.8px,#e5ff1a 50.8px,#bf4 53.8px,#8aff75 56.2px,#00feff 62.2px,#00dfff 64.2px,#00d2ff 66.2px,#00dcff 68.2px,#00fcff 70.2px,#14ffeb 71.2px,#4effb1 73.2px,#fffc00 78.2px,#ffa300 80.8px,#ff5300 83.2px,#ff1d00 85.2px,#fb0000 86.8px,#d90000 88.8px,#c80000 90.2px,#bc0000 93.2px,#cf0000 96.2px,#f00 99.2px,#ff2300 100.8px,#ff5d00 102.8px,#ffa500 104.8px,#fff900 106.8px,#efff10 107.2px,#00feff 112.2px,#00d6ff 113.2px,#00b8ff 114.2px,#00a6ff 115.2px,#00a2ff 116.2px,#00b7ff 117.8px,#00d6ff 118.8px,#01fffe 119.8px,#c5ff3a 123.8px,#f0ff0f 124.8px,#fffa00 125.2px,#ffa900 127.8px,#ff7400 130.2px,#ff5000 133.2px,#ff4200 136.2px,#ff4100 139.2px,#ff4a00 142.8px,#ff9100 158.2px,#ff9a00 161.8px)"></i>
<i style="background:linear-gradient(90deg,#ffad00 4.2px,#ff9a00 4.8px,#ff9c00 6.8px,#ffd900 23.8px,#fe0 41.8px,#feff01 47.2px,#e1ff1e 50.8px,#b8ff47 53.8px,#89ff76 56.2px,#0dfff2 61.8px,#00f9ff 62.8px,#0df 64.8px,#00d4ff 66.8px,#00e0ff 68.8px,#02fffd 70.8px,#28ffd7 72.2px,#5fa 73.8px,#f5ff0a 78.2px,#fff700 78.8px,#ff9d00 81.2px,#ff4e00 83.8px,#ff0f00 86.2px,#f90000 87.2px,#d00000 90.2px,#c60000 92.8px,#d30000 95.2px,#f00 98.2px,#f20 99.8px,#ff5a00 101.8px,#ffa000 103.8px,#fff200 105.8px,#f6ff09 106.2px,#23ffdc 110.8px,#0dfff2 111.2px,#00f7ff 111.8px,#00d2ff 112.8px,#00b6ff 113.8px,#00a4ff 114.8px,#009fff 115.8px,#00a7ff 116.8px,#00bcff 117.8px,#05fffa 119.8px,#af5 123.2px,#feff01 125.2px,#ffae00 127.8px,#f70 130.2px,#ff5000 133.2px,#ff3f00 136.2px,#ff3d00 139.2px,#ff4500 142.8px,#ff8d00 157.8px,#ff9500 160.8px)"></i>
<i style="background:linear-gradient(90deg,#ffa100 5.2px,#ff9700 5.8px,#f90 7.8px,#ffd600 23.8px,#ffef00 41.8px,#feff01 46.8px,#e4ff1b 50.2px,#b6ff49 53.8px,#8f7 56.2px,#1bffe4 61.2px,#00fdff 62.8px,#00e1ff 64.8px,#00d6ff 66.8px,#00dfff 68.8px,#00fdff 70.8px,#20ffdf 72.2px,#4bffb4 73.8px,#fbff04 78.8px,#ff8700 82.2px,#ff4a00 84.2px,#ff0c00 86.8px,#f80000 87.8px,#d90000 90.2px,#d10000 92.8px,#dc0000 94.8px,#f00 97.2px,#ff2d00 99.2px,#ff6700 101.2px,#ff9c00 102.8px,#fdff02 105.2px,#1affe5 110.2px,#05fffa 110.8px,#00f1ff 111.2px,#00b4ff 113.2px,#00a3ff 114.2px,#009dff 115.2px,#00a3ff 116.2px,#00b5ff 117.2px,#00d0ff 118.2px,#00f5ff 119.2px,#0afff5 119.8px,#e7ff18 124.8px,#fbff04 125.2px,#fff100 125.8px,#ffa400 128.2px,#ff7000 130.8px,#ff4b00 133.8px,#ff3b00 136.8px,#ff3900 139.8px,#ff4100 142.8px,#ff8900 156.8px,#ff9100 160.2px)"></i>
<i style="background:linear-gradient(90deg,#ff9f00 6.2px,#ff9500 6.8px,#ff9600 8.2px,#ffd300 23.8px,#ffef00 41.2px,#ff0 46.2px,#e6ff19 49.8px,#bcff43 53.2px,#89ff76 56.2px,#0cfff3 62.2px,#00faff 63.2px,#00e1ff 65.2px,#00d8ff 67.2px,#00e4ff 69.2px,#04fffb 71.2px,#27ffd8 72.8px,#52ffad 74.2px,#fffc00 79.2px,#ff9100 82.2px,#ff4500 84.8px,#ff0a00 87.2px,#f80000 88.2px,#e10000 90.2px,#db0000 92.2px,#e50000 94.2px,#ff0100 96.2px,#ff2b00 98.2px,#ff6400 100.2px,#fa0 102.2px,#fffb00 104.2px,#ef1 104.8px,#26ffd9 109.2px,#00fdff 110.2px,#00caff 111.8px,#00b1ff 112.8px,#00a0ff 113.8px,#009aff 114.8px,#009fff 115.8px,#00afff 116.8px,#00c8ff 117.8px,#00fbff 119.2px,#10ffef 119.8px,#e7ff18 124.8px,#faff05 125.2px,#fff200 125.8px,#ffa500 128.2px,#ff6f00 130.8px,#ff4800 133.8px,#ff3700 136.8px,#ff3600 139.8px,#ff3e00 142.8px,#ff8400 155.8px,#ff8d00 159.2px)"></i>
<i style="background:linear-gradient(90deg,#ffa600 6.8px,#ff9100 7.2px,#ff9200 8.8px,#ffd100 24.2px,#fff100 41.2px,#ff0 45.8px,#e4ff1b 49.8px,#bf4 53.2px,#8aff75 56.2px,#1fe 62.2px,#0ff 63.2px,#00f7ff 63.8px,#00e1ff 65.8px,#00dbff 67.8px,#00e3ff 69.2px,#0ff 71.2px,#21ffde 72.8px,#59ffa6 74.8px,#f8ff07 79.2px,#fff400 79.8px,#ff8a00 82.8px,#ff3f00 85.2px,#ff1200 87.2px,#ff0100 88.2px,#f90000 88.8px,#ea0000 90.2px,#e60000 91.8px,#eb0000 93.2px,#fa0000 94.8px,#ff0b00 95.8px,#ff2a00 97.2px,#ff6100 99.2px,#ffa500 101.2px,#fff400 103.2px,#f4ff0b 103.8px,#1cffe3 108.8px,#08fff7 109.2px,#00f4ff 109.8px,#00c5ff 111.2px,#00adff 112.2px,#009eff 113.2px,#0098ff 114.2px,#009cff 115.2px,#00b4ff 116.8px,#04fffb 119.2px,#e9ff16 124.8px,#fbff04 125.2px,#fff100 125.8px,#ffa400 128.2px,#ff6d00 130.8px,#ff4900 133.2px,#ff3500 136.2px,#ff3100 138.8px,#ff3800 141.8px,#ff8300 155.2px,#ff8900 158.2px)"></i>
<i style="background:linear-gradient(90deg,#f90 7.8px,#ff8e00 8.2px,#ff9000 9.8px,#ffd000 24.8px,#fdff02 45.8px,#e3ff1c 49.8px,#bf4 53.2px,#8bff74 56.2px,#20ffdf 61.8px,#00fdff 63.8px,#00e6ff 65.8px,#00deff 67.8px,#00e4ff 69.2px,#00fcff 71.2px,#06fff9 71.8px,#27ffd8 73.2px,#60ff9f 75.2px,#fffe00 79.8px,#ff9300 82.8px,#ff4700 85.2px,#f10 87.8px,#fc0000 89.2px,#f10000 91.8px,#fe0000 93.8px,#ff1500 95.2px,#ff3500 96.8px,#ff6e00 98.8px,#faff05 102.8px,#4effb1 106.8px,#00fdff 108.8px,#0cf 110.2px,#00b3ff 111.2px,#009bff 112.8px,#0095ff 113.8px,#09f 114.8px,#00afff 116.2px,#00c7ff 117.2px,#00f8ff 118.8px,#20ffdf 119.8px,#b2ff4d 123.2px,#fffe00 125.2px,#ffa000 128.2px,#ff6800 130.8px,#ff4500 133.2px,#ff3100 136.2px,#ff2e00 138.8px,#ff3600 141.8px,#ff8100 154.2px,#f80 156.8px,#ff8500 157.2px)"></i>
<i style="background:linear-gradient(90deg,#ff8d00 9.2px,#ff9400 12.2px,#ffb800 19.2px,#ffd100 25.8px,#fcff03 45.8px,#e1ff1e 49.8px,#bf4 53.2px,#84ff7b 56.8px,#14ffeb 62.8px,#00fcff 64.2px,#00e7ff 66.2px,#00e1ff 68.2px,#00e8ff 69.8px,#03fffc 71.8px,#2fd 73.2px,#58ffa7 75.2px,#f6ff09 79.8px,#fff600 80.2px,#ff8b00 83.2px,#ff4200 85.8px,#f10 88.2px,#fe0000 90.2px,#ff0400 92.8px,#ff1700 94.2px,#ff3400 95.8px,#ff5b00 97.2px,#ff8b00 98.8px,#fffe00 101.8px,#2cffd3 106.8px,#06fff9 107.8px,#00f3ff 108.2px,#00c5ff 109.8px,#00adff 110.8px,#0097ff 112.2px,#0092ff 113.2px,#0096ff 114.2px,#0af 115.8px,#00cfff 117.2px,#02fffd 118.8px,#e1ff1e 124.2px,#f4ff0b 124.8px,#fff800 125.2px,#ffa700 127.8px,#ff6b00 130.2px,#f40 132.8px,#ff2e00 135.8px,#ff2b00 138.2px,#ff3100 140.8px,#ff7f00 153.2px,#ff8600 155.8px,#ff8200 156.2px)"></i>
<i style="background:linear-gradient(90deg,#ff9800 10.2px,#ff8e00 10.8px,#ff9000 12.2px,#ffd000 26.2px,#fffd00 44.2px,#faff05 45.8px,#e1ff1e 49.8px,#b5ff4a 53.8px,#87ff78 56.8px,#1affe5 62.8px,#00fcff 64.8px,#00e9ff 66.8px,#00e4ff 68.2px,#00e9ff 69.8px,#0ff 71.8px,#1dffe2 73.2px,#51ffae 75.2px,#91ff6e 77.2px,#ff0 80.2px,#ff8300 83.8px,#ff3e00 86.2px,#ff1300 88.8px,#ff0800 90.8px,#ff1300 92.8px,#ff3f00 95.2px,#f80 97.8px,#fff900 100.8px,#f0ff0f 101.2px,#32ffcd 105.8px,#0cfff3 106.8px,#00f9ff 107.2px,#00caff 108.8px,#00a7ff 110.2px,#0093ff 111.8px,#008fff 112.8px,#0093ff 113.8px,#00a6ff 115.2px,#00caff 116.8px,#00faff 118.2px,#20ffdf 119.2px,#feff01 124.8px,#ffac00 127.2px,#ff6c00 129.8px,#ff4300 132.2px,#ff2b00 135.2px,#ff2800 137.8px,#ff2f00 140.2px,#ff7e00 152.2px,#ff8500 154.8px,#ff7f00 155.2px)"></i>
<i style="background:linear-gradient(90deg,#ff9700 11.2px,#ff8c00 11.8px,#ff8f00 13.2px,#ffd100 27.2px,#ff0 44.2px,#f9ff06 45.8px,#e0ff1f 49.8px,#b6ff49 53.8px,#82ff7d 57.2px,#19ffe6 63.2px,#00fcff 65.2px,#00ebff 67.2px,#00e7ff 68.8px,#00edff 70.2px,#00fdff 71.8px,#06fff9 72.2px,#23ffdc 73.8px,#58ffa7 75.8px,#9aff65 77.8px,#f6ff09 80.2px,#fff500 80.8px,#ff8b00 83.8px,#ff4500 86.2px,#ff2100 88.2px,#ff1400 90.2px,#ff1e00 92.2px,#ff2c00 93.2px,#ff4b00 94.8px,#ff9500 97.2px,#fff500 99.8px,#f4ff0b 100.2px,#4bffb4 104.2px,#00feff 106.2px,#00ceff 107.8px,#00a9ff 109.2px,#0092ff 110.8px,#008bff 112.2px,#008fff 113.2px,#00a3ff 114.8px,#00c5ff 116.2px,#00f3ff 117.8px,#06fff9 118.2px,#f8ff07 124.2px,#fff300 124.8px,#ff9f00 127.2px,#ff6100 129.8px,#ff3a00 132.2px,#ff2800 134.8px,#ff2500 136.8px,#ff2c00 139.2px,#ff7c00 150.8px,#ff8500 153.8px,#ff7e00 154.2px)"></i>
<i style="background:linear-gradient(90deg,#ff8c00 12.8px,#ff9200 15.2px,#ffbc00 22.8px,#ffd400 28.8px,#fffe00 43.8px,#f5ff0a 46.2px,#dbff24 50.2px,#b2ff4d 54.2px,#86ff79 57.2px,#18ffe7 63.8px,#00fdff 65.8px,#00ebff 68.8px,#0ef 70.2px,#00fcff 71.8px,#0cfff3 72.8px,#2affd5 74.2px,#60ff9f 76.2px,#fffe00 80.8px,#ff9200 83.8px,#ff5800 85.8px,#ff3000 87.8px,#ff1f00 89.8px,#ff2900 91.8px,#ff4a00 93.8px,#ff8200 95.8px,#fff200 98.8px,#f7ff08 99.2px,#26ffd9 104.2px,#01fffe 105.2px,#00efff 105.8px,#00c2ff 107.2px,#00a1ff 108.8px,#008cff 110.2px,#0087ff 111.8px,#0090ff 113.2px,#00a9ff 114.8px,#00cfff 116.2px,#01fffe 117.8px,#f4ff0b 123.8px,#fff600 124.2px,#ff9f00 126.8px,#ff5e00 129.2px,#ff3c00 131.2px,#ff2700 133.8px,#ff2300 135.8px,#ff2900 138.2px,#ff7a00 149.2px,#ff8400 152.2px,#ff7b00 152.8px)"></i>
<i style="background:linear-gradient(90deg,#ff9800 13.8px,#ff8d00 14.2px,#ff8f00 15.2px,#ffbf00 24.2px,#ffd600 29.8px,#fffe00 43.2px,#f4ff0b 46.2px,#dbff24 50.2px,#b3ff4c 54.2px,#83ff7c 57.8px,#1fffe0 63.8px,#00feff 66.2px,#0ef 69.2px,#02fffd 72.2px,#1fe 73.2px,#30ffcf 74.8px,#59ffa6 76.2px,#9aff65 78.2px,#f7ff08 80.8px,#fff400 81.2px,#f90 83.8px,#ff5e00 85.8px,#ff3800 87.8px,#ff2b00 89.8px,#f30 91.2px,#ff5600 93.2px,#ff9000 95.2px,#ffef00 97.8px,#faff05 98.2px,#27ffd8 103.2px,#02fffd 104.2px,#00f0ff 104.8px,#00b6ff 106.8px,#0097ff 108.2px,#0086ff 109.8px,#0082ff 111.2px,#008dff 112.8px,#00a6ff 114.2px,#00cbff 115.8px,#00fcff 117.2px,#36ffc9 118.8px,#f4ff0b 123.2px,#fff600 123.8px,#ff9b00 126.2px,#ff5900 128.8px,#ff3700 130.8px,#ff2300 133.2px,#ff2100 135.2px,#ff2b00 137.8px,#f70 147.2px,#ff8500 151.2px)"></i>
<i style="background:linear-gradient(90deg,#ff9a00 15.2px,#ff8f00 15.8px,#ff9400 17.2px,#ffc400 25.8px,#ffe200 33.2px,#fffe00 42.8px,#f0ff0f 46.8px,#d7ff28 50.8px,#b0ff4f 54.8px,#87ff78 57.8px,#19ffe6 64.8px,#00fcff 67.2px,#00f1ff 69.8px,#01fffe 72.2px,#16ffe9 73.8px,#36ffc9 75.2px,#60ff9f 76.8px,#fffc00 81.2px,#ffa000 83.8px,#ff6500 85.8px,#ff4000 87.8px,#ff3700 89.2px,#ff3e00 90.8px,#ff6300 92.8px,#ff9f00 94.8px,#fbff04 97.2px,#25ffda 102.2px,#0ff 103.2px,#0ef 103.8px,#00b4ff 105.8px,#0095ff 107.2px,#0082ff 108.8px,#007cff 110.2px,#0084ff 111.8px,#09f 113.2px,#00baff 114.8px,#00f9ff 116.8px,#0cfff3 117.2px,#3fc 118.2px,#f8ff07 122.8px,#fff100 123.2px,#ff9400 125.8px,#ff5c00 127.8px,#ff3700 129.8px,#f20 132.2px,#ff2000 134.2px,#ff2800 136.2px,#ff7800 145.8px,#ff8600 149.8px)"></i>
<i style="background:linear-gradient(90deg,#ff9c00 16.8px,#ff9200 17.2px,#ff9700 18.8px,#ffcb00 27.8px,#ffe900 35.2px,#feff01 42.8px,#ecff13 47.2px,#d3ff2c 51.2px,#acff53 55.2px,#85ff7a 58.2px,#21ffde 64.8px,#00feff 67.8px,#00f5ff 70.2px,#0ff 72.2px,#1bffe4 74.2px,#58ffa7 76.8px,#9aff65 78.8px,#f9ff06 81.2px,#fff100 81.8px,#ffa700 83.8px,#ff6b00 85.8px,#ff4e00 87.2px,#ff4300 88.8px,#ff4a00 90.2px,#ff6f00 92.2px,#ff9e00 93.8px,#fbff04 96.2px,#4affb5 100.2px,#0efff1 101.8px,#00fbff 102.2px,#00bcff 104.2px,#09f 105.8px,#007dff 107.8px,#0076ff 109.2px,#007bff 110.8px,#0096ff 112.8px,#00b8ff 114.2px,#00f7ff 116.2px,#0bfff4 116.8px,#3fc 117.8px,#fffe00 122.2px,#f90 124.8px,#ff5d00 126.8px,#ff3600 128.8px,#ff2100 131.2px,#ff2800 134.8px,#ff7b00 144.2px,#ff8600 146.2px,#f80 148.2px)"></i>
<i style="background:linear-gradient(90deg,#ff9600 18.8px,#ffce00 28.8px,#ffe800 34.8px,#ff0 41.8px,#e8ff17 47.8px,#cfff30 51.8px,#afff50 55.2px,#83ff7c 58.8px,#1bffe4 65.8px,#00fdff 68.8px,#00f8ff 70.8px,#00feff 72.2px,#09fff6 73.2px,#20ffdf 74.8px,#42ffbd 76.2px,#6eff91 77.8px,#f0ff0f 81.2px,#fffa00 81.8px,#ff9d00 84.2px,#ff7200 85.8px,#ff5600 87.2px,#ff4f00 88.8px,#ff5c00 90.2px,#ff7d00 91.8px,#ffaf00 93.2px,#faff05 95.2px,#2effd1 99.8px,#07fff8 100.8px,#00f3ff 101.2px,#00b5ff 103.2px,#008aff 105.2px,#0073ff 107.2px,#006fff 108.8px,#007cff 110.8px,#0093ff 112.2px,#00b6ff 113.8px,#00f7ff 115.8px,#0bfff4 116.2px,#35ffca 117.2px,#f6ff09 121.2px,#fff100 121.8px,#ff8900 124.2px,#ff5b00 125.8px,#f30 127.8px,#ff2000 130.2px,#ff2300 132.2px,#ff3000 134.2px,#ff8100 142.8px,#ff8c00 146.8px)"></i>
<i style="background:linear-gradient(90deg,#ffa700 20.2px,#ff9e00 20.8px,#ffa200 21.8px,#ffd900 31.2px,#fffe00 40.8px,#e1ff1e 48.8px,#cbff34 52.2px,#abff54 55.8px,#81ff7e 59.2px,#1dffe2 66.2px,#08fff7 68.2px,#00fdff 69.8px,#02fffd 72.8px,#24ffdb 75.2px,#64ff9b 77.8px,#97ff68 79.2px,#faff05 81.8px,#fff000 82.2px,#ffa400 84.2px,#ff7800 85.8px,#ff5f00 87.2px,#ff5a00 88.2px,#ff6100 89.2px,#ff7d00 90.8px,#ffaf00 92.2px,#fe0 93.8px,#f8ff07 94.2px,#50ffaf 97.8px,#10ffef 99.2px,#00fbff 99.8px,#00b9ff 101.8px,#008aff 103.8px,#0070ff 105.8px,#0068ff 107.8px,#0073ff 109.8px,#0091ff 111.8px,#00c4ff 113.8px,#00f8ff 115.2px,#0efff1 115.8px,#3bffc4 116.8px,#efff10 120.2px,#fff500 120.8px,#f90 122.8px,#ff5600 124.8px,#ff2f00 126.8px,#f20 128.8px,#ff2300 130.2px,#ff3000 132.2px,#ff8900 141.2px,#ff8f00 144.8px)"></i>
<i style="background:linear-gradient(90deg,#ffa300 22.2px,#ffde00 32.2px,#ff0 40.2px,#dcff23 49.2px,#c7ff38 52.8px,#a8ff57 56.2px,#80ff7f 59.8px,#19ffe6 67.2px,#06fff9 69.2px,#00feff 70.8px,#01fffe 72.8px,#09fff6 73.8px,#31ffce 76.2px,#79ff86 78.8px,#efff10 81.8px,#fffa00 82.2px,#ffbe00 83.8px,#ff8c00 85.2px,#ff6d00 86.8px,#ff6700 87.8px,#ff6c00 88.8px,#ff8c00 90.2px,#ffae00 91.2px,#fff000 92.8px,#f5ff0a 93.2px,#5cffa3 96.2px,#16ffe9 97.8px,#01fffe 98.2px,#00edff 98.8px,#00acff 100.8px,#0080ff 102.8px,#0068ff 104.8px,#0062ff 106.8px,#0071ff 109.2px,#0090ff 111.2px,#00c4ff 113.2px,#00fcff 114.8px,#45ffba 116.2px,#efff10 119.2px,#fff300 119.8px,#ff9100 121.8px,#ff5b00 123.2px,#ff4200 124.2px,#ff3100 125.2px,#ff2400 127.2px,#ff3200 130.2px,#ff8d00 138.8px,#ff9700 140.8px,#ff9800 143.2px)"></i>
<i style="background:linear-gradient(90deg,#ffad00 24.2px,#ffe100 32.8px,#fffe00 39.2px,#d2ff2d 50.8px,#a0ff5f 57.2px,#78ff87 60.8px,#1bffe4 67.8px,#09fff6 69.8px,#0ff 71.8px,#0afff5 74.2px,#1effe1 75.8px,#32ffcd 76.8px,#4cffb3 77.8px,#7cff83 79.2px,#f8ff07 82.2px,#fff000 82.8px,#ffb400 84.2px,#ff9300 85.2px,#ff7c00 86.2px,#ff7300 87.2px,#ff7800 88.2px,#ff8c00 89.2px,#ffae00 90.2px,#fff300 91.8px,#f0ff0f 92.2px,#6f9 94.8px,#1bffe4 96.2px,#04fffb 96.8px,#0ef 97.2px,#00a9ff 99.2px,#007dff 101.2px,#0065ff 103.2px,#005fff 105.8px,#006cff 108.2px,#0086ff 110.2px,#00b6ff 112.2px,#05fffa 114.2px,#57ffa8 115.8px,#f6ff09 118.2px,#ffea00 118.8px,#ff9800 120.2px,#ff5d00 121.8px,#ff3a00 123.2px,#ff2900 125.2px,#ff2d00 126.8px,#ff3900 128.2px,#ff9300 136.2px,#ffa100 138.8px,#ffa100 141.2px)"></i>
<i style="background:linear-gradient(90deg,#ffb900 26.2px,#ffe500 33.2px,#fffe00 38.2px,#caff35 51.8px,#b3ff4c 55.2px,#94ff6b 58.8px,#13ffec 69.2px,#04fffb 71.2px,#01fffe 72.8px,#0efff1 75.2px,#26ffd9 76.8px,#3dffc2 77.8px,#7dff82 79.8px,#ff0 82.8px,#ffbd00 84.2px,#ff9b00 85.2px,#ff8500 86.2px,#ff8000 87.2px,#ff8400 87.8px,#ff9b00 88.8px,#ffc200 89.8px,#fff600 90.8px,#ebff14 91.2px,#71ff8e 93.2px,#1dffe2 94.8px,#05fffa 95.2px,#00edff 95.8px,#00b3ff 97.2px,#0080ff 99.2px,#0067ff 101.2px,#005fff 103.8px,#006eff 107.2px,#008aff 109.8px,#009dff 110.8px,#00b9ff 111.8px,#00f7ff 113.2px,#14ffeb 113.8px,#32ffcd 114.2px,#e5ff1a 116.8px,#fff600 117.2px,#ff9a00 118.8px,#ff5c00 120.2px,#ff3b00 121.8px,#ff3100 123.2px,#ff4000 125.8px,#ff8a00 131.8px,#ffa300 134.2px,#ffab00 135.8px,#ffac00 138.8px)"></i>
<i style="background:linear-gradient(90deg,#ffca00 28.8px,#fffe00 37.2px,#beff41 53.2px,#8cff73 59.8px,#15ffea 69.8px,#0ff 73.2px,#0bfff4 75.8px,#21ffde 77.2px,#38ffc7 78.2px,#79ff86 80.2px,#ecff13 82.8px,#fff900 83.2px,#ffca00 84.2px,#ffa400 85.2px,#ff8f00 86.2px,#ff8c00 86.8px,#ff9000 87.2px,#ffab00 88.2px,#ffc000 88.8px,#fff900 89.8px,#e4ff1b 90.2px,#5bffa4 92.2px,#1effe1 93.2px,#02fffd 93.8px,#00e8ff 94.2px,#00abff 95.8px,#0084ff 97.2px,#006aff 99.2px,#0065ff 101.2px,#0076ff 105.2px,#0092ff 109.2px,#00afff 110.8px,#00d5ff 111.8px,#00efff 112.2px,#0ffff0 112.8px,#3fc 113.2px,#dbff24 115.2px,#fffa00 115.8px,#ffb300 116.8px,#ff9500 117.2px,#ff6900 118.2px,#ff4e00 119.2px,#ff3f00 120.8px,#ff4100 121.8px,#ff4e00 123.2px,#ff9600 128.8px,#ffb400 131.8px,#ffbc00 133.8px,#ffb900 136.8px)"></i>
<i style="background:linear-gradient(90deg,#fd0 31.2px,#ff0 36.2px,#afff50 55.2px,#7fff80 61.2px,#12ffed 70.8px,#00feff 73.8px,#05fffa 76.2px,#19ffe6 77.8px,#2dffd2 78.8px,#4affb5 79.8px,#6fff90 80.8px,#9bff64 81.8px,#ebff14 83.2px,#fff800 83.8px,#ffb100 85.2px,#ff9b00 86.2px,#ff9d00 86.8px,#ffa800 87.2px,#ffbc00 87.8px,#fffa00 88.8px,#df2 89.2px,#3fffc0 91.2px,#00fcff 92.2px,#00c8ff 93.2px,#0094ff 94.8px,#0079ff 96.2px,#0070ff 97.8px,#0076ff 99.8px,#00a1ff 105.2px,#0af 109.2px,#00bdff 110.2px,#00d2ff 110.8px,#00efff 111.2px,#17ffe8 111.8px,#daff25 113.8px,#fff600 114.2px,#ffab00 115.2px,#ff7900 116.2px,#ff5f00 117.2px,#ff5700 118.2px,#ff6200 120.2px,#ffa600 125.2px,#ffc500 128.2px,#ffd100 131.2px,#ffcb00 134.2px)"></i>
<i style="background:linear-gradient(90deg,#fff500 34.2px,#fdff02 35.8px,#dfff20 40.8px,#b7ff48 52.2px,#9bff64 57.8px,#7f8 62.2px,#18ffe7 70.8px,#00feff 73.8px,#00f8ff 75.8px,#00feff 77.2px,#12ffed 78.8px,#27ffd8 79.8px,#45ffba 80.8px,#6dff92 81.8px,#a0ff5f 82.8px,#fdff02 84.2px,#ffc700 85.2px,#ffb400 85.8px,#ffae00 86.2px,#ffb700 86.8px,#ffd100 87.2px,#fff800 87.8px,#d7ff28 88.2px,#4fb 89.8px,#1bffe4 90.2px,#00f6ff 90.8px,#00bfff 91.8px,#009cff 92.8px,#08f 93.8px,#0080ff 95.2px,#008eff 97.2px,#00d5ff 102.2px,#00ebff 104.2px,#00f0ff 106.8px,#00daff 108.8px,#00daff 109.2px,#00e6ff 109.8px,#02fffd 110.2px,#2effd1 110.8px,#d6ff29 112.2px,#fff800 112.8px,#ffd100 113.2px,#ffb300 113.8px,#ff9e00 114.2px,#ff9000 114.8px,#ff8500 115.8px,#ff8d00 117.2px,#ffca00 122.2px,#ffe400 125.2px,#ffeb00 128.2px,#ffe300 131.2px)"></i>
<i style="background:linear-gradient(90deg,#f0ff0f 36.8px,#cf3 42.2px,#a7ff58 53.8px,#8aff75 59.8px,#60ff9f 64.8px,#0ff 73.8px,#00efff 76.8px,#00f9ff 79.2px,#0ff 79.8px,#12ffed 80.8px,#3fffc0 82.2px,#6eff91 83.2px,#8cff73 83.8px,#f6ff09 85.2px,#ffec00 85.8px,#ffe300 86.2px,#fff700 86.8px,#d8ff27 87.2px,#5effa1 88.2px,#28ffd7 88.8px,#00fcff 89.2px,#00dbff 89.8px,#00b4ff 90.8px,#00a9ff 91.2px,#00a1ff 92.2px,#00a5ff 93.2px,#00b8ff 94.8px,#00feff 98.2px,#5cffa3 102.8px,#73ff8c 104.2px,#81ff7e 105.8px,#7fff80 106.8px,#76ff89 107.2px,#65ff9a 107.8px,#35ffca 108.8px,#2fffd0 109.2px,#40ffbf 109.8px,#62ff9d 110.2px,#bcff43 111.2px,#e2ff1d 111.8px,#fdff02 112.2px,#ffe800 113.2px,#ffe300 114.2px,#ff0 118.8px,#edff12 123.8px,#ff0 128.2px)"></i>
<i style="background:linear-gradient(90deg,#cfff30 40.2px,#aeff51 45.2px,#94ff6b 55.8px,#7aff85 61.2px,#53ffac 66.2px,#00feff 74.2px,#00e6ff 77.2px,#00dfff 79.8px,#00e5ff 81.2px,#00f9ff 82.8px,#06fff9 83.2px,#2cffd3 84.2px,#49ffb6 84.8px,#96ff69 85.8px,#afff50 86.2px,#af5 86.8px,#8aff75 87.2px,#36ffc9 88.2px,#19ffe6 88.8px,#08fff7 89.2px,#00feff 89.8px,#0ff 91.2px,#15ffea 92.8px,#32ffcd 94.2px,#e1ff1e 101.8px,#fffd00 103.8px,#ff0 105.2px,#e6ff19 106.2px,#b2ff4d 107.2px,#3fffc0 108.8px,#2fffd0 109.2px,#37ffc8 109.8px,#85ff7a 111.8px,#9fff60 113.2px,#b0ff4f 115.8px,#c4ff3b 121.8px,#daff25 125.2px)"></i>
<i style="background:linear-gradient(90deg,#abff54 43.8px,#9eff61 45.2px,#8bff74 49.8px,#7dff82 57.8px,#6aff95 62.8px,#46ffb9 67.8px,#00feff 74.8px,#00d9ff 78.8px,#00cbff 81.2px,#00cbff 82.2px,#00d3ff 83.2px,#0ef 84.2px,#0afff5 84.8px,#34ffcb 85.2px,#a1ff5e 86.2px,#c8ff37 86.8px,#d6ff29 87.2px,#d2ff2d 87.8px,#b3ff4c 89.2px,#acff53 90.8px,#c2ff3d 93.2px,#fbff04 96.8px,#ffd600 99.8px,#ffcf00 101.2px,#ffde00 102.8px,#fff900 103.8px,#f1ff0e 104.2px,#d9ff26 104.8px,#60ff9f 106.8px,#2bffd4 107.8px,#19ffe6 108.2px,#0ffff0 108.8px,#0ffff0 109.2px,#18ffe7 109.8px,#48ffb7 111.8px,#68ff97 113.8px,#adff52 121.2px)"></i>
<i style="background:linear-gradient(90deg,#83ff7c 48.2px,#6dff92 52.8px,#62ff9d 60.2px,#54ffab 64.8px,#38ffc7 69.2px,#00fdff 75.8px,#00e3ff 78.8px,#00daff 80.8px,#00e2ff 82.2px,#00f6ff 83.2px,#08fff7 83.8px,#21ffde 84.2px,#41ffbe 84.8px,#6aff95 85.2px,#c9ff36 86.2px,#f0ff0f 86.8px,#fff300 87.2px,#ffe400 87.8px,#ffde00 88.2px,#fd0 91.8px,#ffce00 96.2px,#ffd800 98.2px,#ffe700 99.2px,#fffe00 100.2px,#cf3 101.8px,#35ffca 105.2px,#19ffe6 106.2px,#0dfff2 107.2px,#12ffed 108.8px,#43ffbc 112.2px,#79ff86 117.2px)"></i>
<i style="background:linear-gradient(90deg,#5cffa3 53.2px,#51ffae 55.2px,#45ffba 63.8px,#3affc5 67.8px,#01fffe 76.8px,#00f5ff 79.2px,#00fcff 81.2px,#0bfff4 82.2px,#37ffc8 83.8px,#65ff9a 84.8px,#cfff30 86.8px,#e2ff1d 87.2px,#fdff02 88.2px,#fff300 89.2px,#ffeb00 90.8px,#fff100 92.8px,#fffe00 94.2px,#ecff13 95.8px,#d8ff27 96.8px,#39ffc6 102.2px,#15ffea 104.2px,#0dfff2 105.2px,#10ffef 106.8px,#1dffe2 108.8px,#41ffbe 112.2px)"></i>
<i style="background:linear-gradient(90deg,#3bffc4 59.2px,#30ffcf 61.2px,#34ffcb 63.2px,#2cffd3 65.2px,#2bffd4 68.8px,#0afff5 77.2px,#09fff6 79.8px,#13ffec 81.2px,#2affd5 82.8px,#9fff60 87.2px,#aeff51 88.2px,#b5ff4a 89.8px,#afff50 91.2px,#9eff61 92.8px,#6cff93 96.2px,#38ffc7 98.8px,#23ffdc 100.2px,#10ffef 102.8px,#10ffef 105.8px)"></i>
<i style="background:linear-gradient(90deg,#23ffdc 68.8px,#1affe5 70.8px,#1fe 79.8px,#25ffda 82.2px,#63ff9c 86.2px,#70ff8f 88.2px,#67ff98 90.2px,#38ffc7 94.2px,#2cffd3 96.8px)"></i>
</div>
<div class="m" style="left:381px;top:12px;width:166px;height:83px;clip-path:ellipse(82.50px 41.25px at 83.40px 41.50px)">
<i style="background:linear-gradient(90deg,#04fffb 69.2px,#00dcff 80.8px,#00ebff 97.2px)"></i>
<i style="background:linear-gradient(90deg,#2affd5 60.2px,#0ff 70.2px,#00e3ff 75.8px,#00dbff 79.8px,#00e9ff 97.2px,#00feff 103.8px,#0cfff3 106.8px)"></i>
<i style="background:linear-gradient(90deg,#48ffb7 53.8px,#28ffd7 64.2px,#0ff 69.8px,#00e2ff 73.8px,#00daff 77.2px,#00f1ff 88.8px,#00edff 100.8px,#0ff 105.8px,#2cffd3 112.8px)"></i>
<i style="background:linear-gradient(90deg,#63ff9c 48.8px,#48ffb7 61.2px,#3fc 64.2px,#01fffe 68.8px,#00faff 69.2px,#00e0ff 72.2px,#00d9ff 75.2px,#0ff 87.8px,#04fffb 91.8px,#0ff 95.8px,#00f0ff 103.2px,#0ff 107.8px,#4cffb3 117.8px)"></i>
<i style="background:linear-gradient(90deg,#7dff82 44.8px,#73ff8c 48.8px,#71ff8e 55.8px,#65ff9a 59.2px,#48ffb7 62.8px,#01fffe 67.8px,#00f9ff 68.2px,#00e0ff 70.8px,#00daff 73.2px,#01fffe 83.2px,#14ffeb 88.8px,#19ffe6 93.2px,#12ffed 97.8px,#01fffe 102.2px,#00f4ff 106.8px,#0ff 109.8px,#4affb5 117.8px,#6bff94 122.2px)"></i>
<i style="background:linear-gradient(90deg,#95ff6a 40.8px,#8cff73 44.8px,#91ff6e 52.8px,#83ff7c 57.2px,#71ff8e 59.8px,#5bffa4 61.8px,#3cffc3 63.8px,#02fffd 66.8px,#00f8ff 67.2px,#00e2ff 69.2px,#00dcff 71.2px,#01fffe 79.8px,#24ffdb 87.8px,#2effd1 94.2px,#25ffda 100.2px,#00feff 107.2px,#00f8ff 109.8px,#01fffe 111.8px,#57ffa8 119.8px,#84ff7b 125.8px)"></i>
<i style="background:linear-gradient(90deg,#abff54 37.8px,#a2ff5d 42.2px,#adff52 50.2px,#9f6 56.2px,#87ff78 58.8px,#69ff96 61.2px,#43ffbc 63.2px,#05fffa 65.8px,#00faff 66.2px,#00e5ff 67.8px,#00e0ff 69.2px,#0ff 76.2px,#36ffc9 87.8px,#4fb 95.8px,#3affc5 102.2px,#2affd5 105.2px,#01fffe 110.8px,#01fffe 113.2px,#14ffeb 115.2px,#61ff9e 121.2px,#9dff62 129.2px)"></i>
<i style="background:linear-gradient(90deg,#bcff43 34.8px,#b7ff48 38.8px,#c3ff3c 44.8px,#c4ff3b 48.2px,#baff45 52.2px,#a9ff56 55.8px,#92ff6d 58.8px,#72ff8d 61.2px,#4effb1 62.8px,#0ff 65.2px,#0ef 66.2px,#00e8ff 67.2px,#0ff 72.2px,#49ffb6 87.8px,#5fa 92.2px,#59ffa6 96.8px,#5fa 101.8px,#49ffb6 105.8px,#34ffcb 108.8px,#0bfff4 112.8px,#04fffb 114.8px,#10ffef 116.2px,#4fffb0 120.2px,#6dff92 122.8px,#8eff71 126.8px,#b0ff4f 132.2px)"></i>
<i style="background:linear-gradient(90deg,#cbff34 31.8px,#c6ff39 35.2px,#d6ff29 41.8px,#d7ff28 45.8px,#cf3 50.2px,#b3ff4c 55.2px,#95ff6a 59.2px,#7aff85 61.2px,#5fffa0 62.2px,#0efff1 64.2px,#02fffd 64.8px,#00faff 65.2px,#0ff 67.2px,#0efff1 69.8px,#23ffdc 76.2px,#5fffa0 88.8px,#6cff93 96.8px,#68ff97 103.8px,#5cffa3 108.2px,#45ffba 111.2px,#1fe 115.2px,#0dfff2 116.8px,#1effe1 118.2px,#61ff9e 121.8px,#78ff87 123.8px,#98ff67 127.8px,#bfff40 134.8px)"></i>
<i style="background:linear-gradient(90deg,#d6ff29 29.2px,#d4ff2b 33.2px,#e4ff1b 38.2px,#e8ff17 41.8px,#e0ff1f 46.2px,#ceff31 50.8px,#af5 56.2px,#86ff79 60.2px,#6bff94 61.8px,#27ffd8 63.8px,#1effe1 64.8px,#29ffd6 67.8px,#2effd1 74.8px,#70ff8f 88.2px,#7bff84 92.8px,#7eff81 97.2px,#7f8 107.2px,#6dff92 111.2px,#5dffa2 113.2px,#24ffdb 116.8px,#19ffe6 118.2px,#24ffdb 119.2px,#6aff95 122.2px,#83ff7c 124.2px,#9fff60 128.2px,#cf3 137.2px)"></i>
<i style="background:linear-gradient(90deg,#e0ff1f 27.2px,#deff21 30.2px,#f1ff0e 35.8px,#f5ff0a 38.8px,#f1ff0e 42.2px,#e3ff1c 46.2px,#c6ff39 51.2px,#a4ff5b 55.2px,#87ff78 57.8px,#4affb5 61.2px,#41ffbe 62.2px,#51ffae 64.8px,#3bffc4 70.2px,#3bffc4 74.2px,#83ff7c 88.2px,#8eff71 92.2px,#91ff6e 96.8px,#7fff80 113.8px,#6fff90 115.8px,#32ffcd 119.2px,#3bffc4 120.2px,#68ff97 121.8px,#7dff82 122.8px,#93ff6c 124.8px,#d5ff2a 139.8px)"></i>
<i style="background:linear-gradient(90deg,#e6ff19 25.2px,#eaff15 28.8px,#ff0 34.2px,#ff0 38.2px,#e5ff1a 45.2px,#c6ff39 49.8px,#9eff61 53.8px,#71ff8e 56.8px,#25ffda 60.2px,#1dffe2 61.2px,#24ffdb 61.8px,#54ffab 63.2px,#63ff9c 64.2px,#47ffb8 70.2px,#46ffb9 73.8px,#56ffa9 77.2px,#91ff6e 86.8px,#a3ff5c 92.8px,#8dff72 115.8px,#81ff7e 117.8px,#5dffa2 119.8px,#59ffa6 120.8px,#90ff6f 123.2px,#9fff60 124.8px,#dcff23 141.8px)"></i>
<i style="background:linear-gradient(90deg,#fbff04 22.8px,#ebff14 23.2px,#eaff15 24.2px,#fffe00 29.8px,#fff400 33.8px,#fffe00 38.8px,#e7ff18 43.8px,#c6ff39 48.2px,#a0ff5f 51.8px,#68ff97 55.2px,#1fffe0 58.8px,#1fe 60.2px,#1dffe2 61.2px,#52ffad 63.2px,#5effa1 64.2px,#5fffa0 65.8px,#4dffb2 70.2px,#4fffb0 73.2px,#5effa1 76.2px,#a3ff5c 86.2px,#b7ff48 92.8px,#b4ff4b 97.8px,#98ff67 108.2px,#89ff76 117.2px,#7eff81 118.8px,#4affb5 121.2px,#4affb5 121.8px,#53ffac 122.2px,#8dff72 124.2px,#a8ff57 126.2px,#b4ff4b 128.8px,#e1ff1e 143.8px)"></i>
<i style="background:linear-gradient(90deg,#ef1 21.2px,#f4ff0b 24.2px,#ff0 26.2px,#ffef00 29.2px,#ffec00 31.8px,#ff0 38.2px,#f2ff0d 40.8px,#d3ff2c 45.2px,#af5 49.2px,#78ff87 52.8px,#25ffda 57.2px,#18ffe7 58.2px,#13ffec 59.2px,#1bffe4 60.2px,#49ffb6 62.8px,#58ffa7 64.2px,#51ffae 70.2px,#56ffa9 72.8px,#67ff98 75.8px,#b5ff4a 85.8px,#c5ff3a 89.2px,#cbff34 92.8px,#c1ff3e 99.2px,#7dff82 116.8px,#65ff9a 119.2px,#35ffca 121.2px,#28ffd7 122.2px,#37ffc8 123.2px,#76ff89 125.2px,#8fff70 126.2px,#a0ff5f 127.2px,#afff50 128.8px,#bdff42 131.8px,#e5ff1a 145.8px)"></i>
<i style="background:linear-gradient(90deg,#fdff02 19.2px,#f0ff0f 19.8px,#fffe00 23.8px,#ffeb00 26.8px,#ffe500 29.2px,#ffeb00 32.8px,#ff0 37.2px,#f7ff08 38.8px,#d8ff27 43.2px,#b1ff4e 47.2px,#8aff75 50.2px,#2affd5 56.2px,#1bffe4 58.2px,#23ffdc 59.8px,#4fb 62.2px,#51ffae 63.8px,#53ffac 69.8px,#5bffa4 72.2px,#70ff8f 75.2px,#c4ff3b 84.8px,#d8ff27 88.8px,#dfff20 92.8px,#dbff24 96.2px,#cdff32 100.2px,#7f8 115.8px,#5dffa2 118.8px,#20ffdf 122.2px,#1cffe3 123.2px,#29ffd6 124.2px,#8f7 127.8px,#a2ff5d 129.2px,#b1ff4e 130.8px,#c5ff3a 134.8px,#e6ff19 147.2px)"></i>
<i style="background:linear-gradient(90deg,#ef1 17.8px,#fffe00 21.8px,#ffe600 24.8px,#ffdf00 27.2px,#ffe500 30.2px,#fdff02 36.2px,#e1ff1e 40.8px,#beff41 44.8px,#96ff69 48.2px,#39ffc6 54.8px,#2affd5 56.2px,#25ffda 57.8px,#2cffd3 59.2px,#4cffb3 63.2px,#52ffad 68.8px,#5effa1 71.8px,#7f8 74.8px,#c2ff3d 81.8px,#e3ff1c 86.2px,#f3ff0c 90.8px,#f1ff0e 95.2px,#d2ff2d 102.2px,#72ff8d 115.2px,#52ffad 118.8px,#1dffe2 122.8px,#18ffe7 123.8px,#27ffd8 125.2px,#90ff6f 129.8px,#b5ff4a 132.8px,#cbff34 137.2px,#e5ff1a 149.2px)"></i>
<i style="background:linear-gradient(90deg,#edff12 16.2px,#fdff02 19.8px,#ffe100 23.2px,#ffda00 25.2px,#ffe100 28.2px,#feff01 34.8px,#c6ff39 42.8px,#9dff62 46.8px,#4fb 53.8px,#34ffcb 55.8px,#31ffce 57.2px,#4affb5 62.8px,#4fffb0 67.8px,#5dffa2 70.8px,#79ff86 73.8px,#d2ff2d 81.2px,#fcff03 86.8px,#fff500 92.2px,#feff01 97.2px,#d0ff2f 104.2px,#59ffa6 117.2px,#24ffdb 122.2px,#19ffe6 124.2px,#1dffe2 125.2px,#2affd5 126.2px,#75ff8a 129.8px,#9f6 131.8px,#baff45 134.8px,#cfff30 139.2px,#e8ff17 150.8px)"></i>
<i style="background:linear-gradient(90deg,#fbff04 14.8px,#edff12 15.2px,#fffd00 18.8px,#ffdc00 21.8px,#ffd700 23.8px,#ff0 33.2px,#e1ff1e 38.2px,#c2ff3d 42.2px,#4cffb3 53.2px,#3dffc2 56.8px,#49ffb6 61.8px,#4bffb4 66.8px,#59ffa6 69.8px,#7eff81 73.2px,#d7ff28 79.8px,#ff0 83.8px,#ffe700 87.8px,#ffe000 91.8px,#ffe600 95.8px,#fffe00 100.2px,#d8ff27 104.8px,#7bff84 113.2px,#35ffca 120.2px,#20ffdf 122.8px,#1affe5 124.2px,#1fffe0 125.8px,#29ffd6 126.8px,#96ff69 132.8px,#bcff43 136.2px,#d4ff2b 141.2px,#ebff14 152.2px)"></i>
<i style="background:linear-gradient(90deg,#fcff03 13.2px,#ecff13 13.8px,#f1ff0e 15.8px,#fdff02 17.2px,#ffda00 20.2px,#ffd400 21.8px,#fffe00 31.8px,#c8ff37 40.8px,#6cff93 50.2px,#5fa 53.2px,#4bffb4 56.2px,#48ffb7 65.2px,#4effb1 67.8px,#62ff9d 70.2px,#83ff7c 72.8px,#d9ff26 78.2px,#feff01 81.2px,#ffd800 86.2px,#ffca00 91.2px,#ffd700 96.8px,#fffe00 102.2px,#daff25 105.8px,#52ffad 116.8px,#29ffd6 121.2px,#1cffe3 124.2px,#1fffe0 125.8px,#2bffd4 127.2px,#97ff68 133.8px,#c1ff3e 137.8px,#d9ff26 143.2px,#e9ff16 153.2px)"></i>
<i style="background:linear-gradient(90deg,#edff12 12.2px,#efff10 14.8px,#fbff04 16.2px,#ffdb00 18.8px,#ffd400 20.2px,#feff01 30.8px,#ceff31 39.2px,#65ff9a 52.2px,#46ffb9 65.2px,#4effb1 67.8px,#68ff97 70.2px,#fdff02 79.2px,#ffd900 82.8px,#ffc600 85.2px,#ffb900 88.2px,#ffb400 91.2px,#ffb800 94.2px,#ffc800 97.8px,#ffdf00 100.8px,#fffe00 103.8px,#4effb1 116.8px,#2affd5 120.8px,#1dffe2 124.2px,#2fd 126.2px,#2fffd0 127.8px,#9aff65 134.8px,#c3ff3c 138.8px,#dbff24 143.8px,#ecff13 154.2px,#f4ff0b 154.8px)"></i>
<i style="background:linear-gradient(90deg,#fff800 10.8px,#f2ff0d 11.2px,#f0ff0f 13.2px,#f3ff0c 14.8px,#feff01 15.8px,#ffdb00 17.8px,#ffd700 18.8px,#ff0 29.2px,#d4ff2b 37.8px,#78ff87 50.8px,#4fb 65.2px,#4bffb4 67.2px,#68ff97 69.8px,#feff01 77.8px,#ffd100 81.2px,#ffb500 84.2px,#ffa500 87.2px,#ff9e00 90.8px,#ffa300 94.2px,#ffb400 97.8px,#ffd100 101.2px,#fffb00 104.8px,#ef1 106.2px,#7bff84 113.2px,#4bffb4 116.8px,#2affd5 120.2px,#1dffe2 123.8px,#24ffdb 126.2px,#35ffca 128.2px,#a0ff5f 135.8px,#caff35 140.2px,#e2ff1d 145.8px,#f3ff0c 155.8px)"></i>
<i style="background:linear-gradient(90deg,#fe0 9.8px,#fcff03 10.2px,#f7ff08 12.8px,#fffe00 15.2px,#ffe700 16.8px,#ffe300 17.8px,#fdff02 28.8px,#dbff24 36.2px,#8eff71 48.8px,#70ff8f 57.2px,#48ffb7 63.2px,#43ffbc 65.2px,#4dffb2 67.2px,#68ff97 69.2px,#e8ff17 75.2px,#fbff04 76.2px,#fff900 76.8px,#ffca00 79.8px,#ffa500 83.2px,#ff9000 86.8px,#f80 90.8px,#ff9000 94.8px,#ffa400 98.2px,#ffca00 102.2px,#fffa00 105.8px,#f4ff0b 106.8px,#7eff81 113.2px,#48ffb7 116.8px,#26ffd9 120.2px,#1cffe3 123.2px,#2fd 125.8px,#36ffc9 128.2px,#a8ff57 136.8px,#d0ff2f 141.2px,#e6ff19 146.2px,#fbff04 156.8px,#fffa00 157.2px)"></i>
<i style="background:linear-gradient(90deg,#ffe400 8.8px,#fff400 9.2px,#fff900 10.8px,#ffec00 14.2px,#fff400 16.2px,#fff600 22.8px,#ff0 27.2px,#faff05 28.8px,#e2ff1d 34.8px,#a0ff5f 47.2px,#83ff7c 56.2px,#73ff8c 58.8px,#48ffb7 63.2px,#42ffbd 64.8px,#4affb5 66.8px,#67ff98 68.8px,#fffe00 75.2px,#ffbf00 78.8px,#ff9600 82.2px,#ff7b00 86.2px,#ff7300 90.2px,#ff7b00 94.8px,#ff9300 98.8px,#ffbd00 102.8px,#fffb00 106.8px,#e7ff18 108.2px,#78ff87 113.8px,#47ffb8 116.8px,#27ffd8 119.8px,#1bffe4 122.8px,#21ffde 125.2px,#3fc 127.8px,#abff54 137.2px,#d3ff2c 141.8px,#ecff13 147.2px,#ff0 156.2px,#fff800 157.8px,#fff000 158.2px)"></i>
<i style="background:linear-gradient(90deg,#ffd900 7.8px,#ffe700 8.2px,#ffeb00 10.2px,#ffd300 13.8px,#ffd500 14.2px,#fe0 15.8px,#fff800 16.8px,#fff700 22.2px,#ff0 26.8px,#f8ff07 29.2px,#b2ff4d 45.2px,#97ff68 55.8px,#84ff7b 58.2px,#49ffb6 63.2px,#41ffbe 64.8px,#47ffb8 66.2px,#6f9 68.2px,#eaff15 73.2px,#fffb00 74.2px,#ffb400 77.8px,#ff8600 81.2px,#f60 85.8px,#ff5d00 90.2px,#ff6900 95.2px,#f80 99.8px,#ffb800 103.8px,#fffe00 107.8px,#7cff83 113.8px,#46ffb9 116.8px,#24ffdb 119.8px,#1affe5 122.8px,#2fd 125.2px,#36ffc9 127.8px,#abff54 137.2px,#daff25 142.8px,#f0ff0f 147.2px,#fffe00 153.2px,#fff600 156.8px,#ffe600 159.2px)"></i>
<i style="background:linear-gradient(90deg,#ffd000 6.8px,#ffdb00 7.2px,#ffde00 8.8px,#ffc700 13.2px,#ffea00 15.8px,#fff200 16.8px,#ff0 26.8px,#c1ff3e 43.8px,#b0ff4f 54.2px,#9f6 57.8px,#4fffb0 62.8px,#41ffbe 64.8px,#49ffb6 66.2px,#64ff9b 67.8px,#8cff73 69.2px,#f7ff08 72.8px,#fff900 73.2px,#fa0 76.8px,#ff7800 80.2px,#ff5400 84.8px,#ff4800 89.8px,#ff5200 94.8px,#ff7400 99.8px,#ffad00 104.2px,#fff800 108.2px,#fbff04 108.8px,#82ff7d 113.8px,#46ffb9 116.8px,#25ffda 119.2px,#18ffe7 122.2px,#1dffe2 124.2px,#30ffcf 126.8px,#adff52 137.2px,#e0ff1f 143.2px,#fffe00 150.8px,#ffec00 157.2px,#ffe100 159.8px,#ffda00 160.2px)"></i>
<i style="background:linear-gradient(90deg,#ffc700 5.8px,#ffd200 6.2px,#ffd300 7.8px,#ffbf00 12.2px,#ffeb00 16.8px,#ff0 27.2px,#cdff32 42.8px,#c4ff3b 54.2px,#baff45 56.2px,#abff54 57.8px,#94ff6b 59.2px,#52ffad 62.8px,#45ffba 63.8px,#40ffbf 64.8px,#46ffb9 65.8px,#62ff9d 67.2px,#7eff81 68.2px,#f6ff09 71.8px,#fff900 72.2px,#ffce00 73.8px,#ffa000 75.8px,#ff7d00 77.8px,#ff6300 79.8px,#ff4c00 82.2px,#ff3d00 84.8px,#f30 90.2px,#ff4300 95.8px,#ff6a00 100.8px,#fa0 105.2px,#ff0 109.2px,#7dff82 114.2px,#46ffb9 116.8px,#23ffdc 119.2px,#16ffe9 121.8px,#1bffe4 123.8px,#29ffd6 125.8px,#b1ff4e 137.2px,#e6ff19 143.8px,#fffe00 149.2px,#ffe500 157.2px,#ffd300 160.8px)"></i>
<i style="background:linear-gradient(90deg,#ffbf00 5.2px,#ffc800 5.8px,#ffca00 6.8px,#fb0 10.2px,#fb0 11.8px,#ffe300 16.8px,#ff0 27.8px,#d8ff27 41.8px,#daff25 54.2px,#cfff30 56.2px,#bfff40 57.8px,#a5ff5a 59.2px,#5fa 62.8px,#45ffba 63.8px,#41ffbe 64.8px,#4affb5 65.8px,#5fffa0 66.8px,#7fff80 67.8px,#f2ff0d 70.8px,#fffa00 71.2px,#ffca00 72.8px,#ff9700 74.8px,#ff7100 76.8px,#ff4f00 79.2px,#ff3800 81.8px,#ff2900 84.2px,#ff1f00 90.2px,#ff3200 96.2px,#ff5c00 101.2px,#ff7d00 103.8px,#ff9f00 105.8px,#fffa00 109.8px,#f7ff08 110.2px,#7f8 114.8px,#3effc1 117.2px,#21ffde 119.2px,#14ffeb 121.8px,#18ffe7 123.2px,#27ffd8 125.2px,#b2ff4d 136.8px,#eaff15 143.8px,#ff0 147.8px,#ffca00 161.8px)"></i>
<i style="background:linear-gradient(90deg,#ffb200 4.2px,#ffbf00 4.8px,#ffc100 5.8px,#ffb800 11.2px,#ffdf00 17.2px,#ff0 28.8px,#e1ff1e 41.8px,#f0ff0f 52.2px,#efff10 54.8px,#e2ff1d 56.8px,#ceff31 58.2px,#adff52 59.8px,#59ffa6 62.8px,#42ffbd 64.2px,#47ffb8 65.2px,#5cffa3 66.2px,#7fff80 67.2px,#edff12 69.8px,#fffd00 70.2px,#ffb600 72.2px,#ff8200 74.2px,#ff6400 75.8px,#ff4600 77.8px,#ff2c00 80.2px,#ff1800 83.2px,#ff0e00 86.2px,#ff0b00 89.8px,#ff1c00 95.8px,#ff3000 98.8px,#ff4800 101.2px,#ff6900 103.8px,#ff8a00 105.8px,#ffb400 107.8px,#fff500 110.2px,#fbff04 110.8px,#7fff80 114.8px,#40ffbf 117.2px,#1fffe0 119.2px,#12ffed 121.8px,#18ffe7 123.2px,#2affd5 125.2px,#93ff6c 133.2px,#baff45 136.8px,#f0ff0f 143.8px,#ff0 146.8px,#ffc200 162.2px)"></i>
<i style="background:linear-gradient(90deg,#ffb100 3.8px,#ffb900 5.2px,#ffb500 10.8px,#fd0 18.2px,#fffe00 29.8px,#ebff14 41.2px,#f0ff0f 45.2px,#ff0 50.2px,#fff700 53.8px,#fffe00 56.2px,#f0ff0f 57.8px,#d2ff2d 59.2px,#b6ff49 60.2px,#5effa1 62.8px,#47ffb8 63.8px,#43ffbc 64.2px,#4cffb3 65.2px,#6aff95 66.2px,#fcff03 69.2px,#ffb100 71.2px,#f70 73.2px,#ff4600 75.8px,#ff2600 78.2px,#f10 80.8px,#ff0100 83.8px,#f70000 88.8px,#f00 93.8px,#ff2000 99.2px,#ff5400 103.8px,#ff7500 105.8px,#ff9f00 107.8px,#ff0 111.2px,#7aff85 115.2px,#42ffbd 117.2px,#1dffe2 119.2px,#10ffef 121.2px,#14ffeb 122.8px,#27ffd8 124.8px,#90ff6f 132.2px,#b9ff46 135.8px,#d9ff26 139.2px,#f3ff0c 143.2px,#fffe00 145.8px,#ffb900 163.2px)"></i>
<i style="background:linear-gradient(90deg,#ffab00 3.2px,#ffb200 4.2px,#ffb400 11.2px,#ffdc00 19.2px,#ff0 31.8px,#f4ff0b 39.2px,#feff01 45.8px,#ffdf00 54.8px,#ffe600 56.8px,#fff900 58.2px,#fcff03 58.8px,#e2ff1d 59.8px,#beff41 60.8px,#67ff98 62.8px,#4affb5 63.8px,#45ffba 64.2px,#49ffb6 64.8px,#67ff98 65.8px,#7fff80 66.2px,#f4ff0b 68.2px,#ffef00 68.8px,#ffbf00 69.8px,#ff9800 70.8px,#ff5e00 72.8px,#ff3000 75.2px,#ff0d00 78.2px,#fd0000 80.2px,#eb0000 84.2px,#e50000 88.2px,#ea0000 92.8px,#fe0000 97.2px,#ff2000 101.2px,#ff5700 105.2px,#ffa100 108.8px,#fffb00 111.8px,#73ff8c 115.8px,#39ffc6 117.8px,#16ffe9 119.8px,#0efff1 121.2px,#14ffeb 122.8px,#24ffdb 124.2px,#8f7 130.8px,#b5ff4a 134.2px,#d6ff29 137.8px,#f5ff0a 142.2px,#fffe00 144.2px,#ffb200 163.8px)"></i>
<i style="background:linear-gradient(90deg,#ffa500 2.8px,#ffab00 4.2px,#ffb100 11.8px,#ffdc00 20.2px,#ff0 34.2px,#fffc00 43.2px,#fc0 53.2px,#ffc600 55.8px,#ffd100 57.8px,#ffe000 58.8px,#fff900 59.8px,#f4ff0b 60.2px,#dfff20 60.8px,#5dffa2 63.2px,#4effb1 63.8px,#4affb5 64.2px,#52ffad 64.8px,#65ff9a 65.2px,#80ff7f 65.8px,#e8ff17 67.2px,#fff500 67.8px,#ffa400 69.2px,#ff7c00 70.2px,#ff5d00 71.2px,#ff2900 73.8px,#ff0300 76.8px,#df0000 82.2px,#d40000 88.2px,#de0000 94.2px,#fe0000 99.8px,#ff2400 103.2px,#ff5c00 106.8px,#ffa500 109.8px,#fff700 112.2px,#f4ff0b 112.8px,#7eff81 115.8px,#3cffc3 117.8px,#15ffea 119.8px,#0cfff3 121.2px,#10ffef 122.2px,#20ffdf 123.8px,#8eff71 130.2px,#b7ff48 133.2px,#daff25 136.8px,#f8ff07 141.2px,#fffe00 142.8px,#ffab00 164.2px)"></i>
<i style="background:linear-gradient(90deg,#ff9b00 1.8px,#ffa200 2.2px,#ffab00 11.8px,#ffce00 17.8px,#ffe400 24.2px,#fffb00 36.8px,#ffed00 44.2px,#ffb200 54.2px,#ffac00 56.8px,#ffb400 58.2px,#ffc200 59.2px,#ffde00 60.2px,#fff300 60.8px,#f1ff0e 61.2px,#6aff95 63.2px,#56ffa9 63.8px,#54ffab 64.2px,#63ff9c 64.8px,#81ff7e 65.2px,#ff0 66.8px,#ffd900 67.2px,#ff9c00 68.2px,#ff5d00 69.8px,#ff2b00 71.8px,#fe0000 74.8px,#e40000 77.8px,#d30000 80.8px,#c80000 84.2px,#c40000 88.2px,#d20000 95.2px,#e50000 98.8px,#fe0000 101.8px,#ff2400 104.8px,#ff5a00 107.8px,#ff9b00 110.2px,#fff200 112.8px,#f7ff08 113.2px,#7f8 116.2px,#32ffcd 118.2px,#14ffeb 119.8px,#0bfff4 121.2px,#10ffef 122.2px,#24ffdb 123.8px,#8cff73 129.2px,#baff45 132.2px,#dfff20 135.8px,#faff05 139.8px,#fffe00 140.8px,#ffa400 164.8px)"></i>
<i style="background:linear-gradient(90deg,#f90 1.8px,#ffa800 8.8px,#ffa500 11.2px,#ffc500 16.8px,#ffd800 21.8px,#ffed00 30.2px,#fff400 36.8px,#ffef00 40.8px,#ffe100 44.8px,#ff9800 55.2px,#ff8f00 57.8px,#ff9700 59.2px,#fa0 60.2px,#ffd300 61.2px,#fff300 61.8px,#e1ff1e 62.2px,#84ff7b 63.2px,#6aff95 63.8px,#6bff94 64.2px,#89ff76 64.8px,#efff10 65.8px,#fd0 66.2px,#ff9000 67.2px,#ff5d00 68.2px,#ff2e00 69.8px,#ff0200 72.2px,#df0000 75.8px,#ca0000 79.2px,#b00 83.2px,#b50000 87.8px,#ba0000 92.2px,#c70000 96.2px,#db0000 99.8px,#fb0000 103.2px,#ff1e00 105.8px,#ff5800 108.8px,#ffa000 111.2px,#fbff04 113.8px,#6fff90 116.8px,#36ffc9 118.2px,#13ffec 119.8px,#0afff5 121.2px,#1fffe0 123.2px,#8aff75 128.2px,#beff41 131.2px,#e1ff1e 134.2px,#feff01 138.2px,#ffa900 160.8px,#ff9f00 165.2px)"></i>
<i style="background:linear-gradient(90deg,#ff9300 1.2px,#ffa100 10.8px,#ffc400 17.2px,#ffde00 25.2px,#ffeb00 32.2px,#ffed00 37.2px,#ffe600 41.2px,#ffd500 45.2px,#ffba00 49.2px,#ff7a00 56.8px,#ff7000 59.2px,#ff7600 60.2px,#ff8e00 61.2px,#ffa700 61.8px,#ffce00 62.2px,#fbff04 62.8px,#c2ff3d 63.2px,#a0ff5f 63.8px,#af5 64.2px,#dcff23 64.8px,#ffe300 65.2px,#fa0 65.8px,#ff7e00 66.2px,#ff5e00 66.8px,#ff4600 67.2px,#ff1a00 68.8px,#ff0100 70.2px,#dc0000 73.8px,#c00000 78.2px,#af0000 82.8px,#a80000 87.8px,#ad0000 92.8px,#bd0000 97.2px,#d60000 101.2px,#fa0000 104.8px,#ff0100 105.2px,#ff2000 107.2px,#ff5700 109.8px,#ffa800 112.2px,#ff0 114.2px,#7eff81 116.8px,#3cffc3 118.2px,#12ffed 119.8px,#08fff7 120.8px,#0cfff3 121.8px,#1bffe4 122.8px,#93ff6c 127.8px,#c3ff3c 130.2px,#e4ff1b 132.8px,#feff01 135.8px,#ffe500 141.2px,#ffa100 161.2px,#ff9600 165.2px,#f90 165.8px)"></i>
<i style="background:linear-gradient(90deg,#ff8d00 0.8px,#ff9300 7.2px,#ffc000 17.2px,#ffd900 25.2px,#ffe500 31.8px,#ffe700 37.2px,#fd0 41.8px,#ffc700 46.2px,#ffa400 50.8px,#ff5d00 58.2px,#ff5200 60.8px,#ff6200 61.8px,#ff7c00 62.2px,#ffab00 62.8px,#ffe500 63.2px,#f9ff06 63.8px,#fe0 64.2px,#ff7500 65.2px,#ff4a00 65.8px,#ff3000 66.2px,#ff1f00 66.8px,#ff0200 68.2px,#d80000 72.2px,#b60000 77.8px,#a20000 83.2px,#9c0000 88.2px,#a10000 93.2px,#b40000 98.2px,#d20000 102.8px,#fa0000 106.2px,#ff0200 106.8px,#ff1b00 108.2px,#ff5700 110.8px,#ff9c00 112.8px,#fffb00 114.8px,#e8ff17 115.2px,#75ff8a 117.2px,#4fb 118.2px,#1fffe0 119.2px,#12ffed 119.8px,#07fff8 120.8px,#0dfff2 121.8px,#20ffdf 122.8px,#91ff6e 126.8px,#bfff40 128.8px,#e1ff1e 130.8px,#fdff02 133.2px,#ffe000 139.2px,#ff8f00 165.8px)"></i>
<i style="background:linear-gradient(90deg,#ff8900 0.2px,#ff8a00 6.8px,#ffa400 10.2px,#ffd400 25.2px,#ffe000 31.8px,#ffe100 37.2px,#ffd700 41.8px,#ffc000 46.2px,#ff9e00 50.8px,#ff5900 58.2px,#ff4f00 60.2px,#ff5700 61.2px,#ff6500 61.8px,#ff8300 62.2px,#ffec00 63.2px,#f9ff06 63.8px,#ffe400 64.2px,#ff6500 65.2px,#ff3d00 65.8px,#ff2500 66.2px,#ff1500 66.8px,#ff0100 67.8px,#d50000 71.8px,#b00000 77.2px,#900 83.2px,#910000 88.8px,#980000 94.2px,#ae0000 99.8px,#cf0000 104.2px,#fa0000 107.8px,#ff0400 108.2px,#ff2100 109.8px,#ff5600 111.8px,#ffa500 113.8px,#fff500 115.2px,#ebff14 115.8px,#6aff95 117.8px,#36ffc9 118.8px,#13ffec 119.8px,#07fff8 120.8px,#09fff6 121.2px,#1bffe4 122.2px,#9cff63 126.2px,#c4ff3b 127.8px,#e3ff1c 129.2px,#ff0 131.2px,#ffe800 133.8px,#ffd700 137.2px,#ffb800 150.8px,#ff8a00 165.8px)"></i>
<i style="background:linear-gradient(90deg,#ff8500 0.2px,#ff8500 6.2px,#ffa300 10.2px,#ffc200 20.2px,#ffd900 29.8px,#fd0 36.2px,#ffd500 40.8px,#ffc500 44.8px,#ffab00 48.8px,#ff6f00 56.2px,#f60 58.8px,#ff6b00 59.8px,#ff7f00 60.8px,#ff9400 61.2px,#ffb400 61.8px,#ffe200 62.2px,#e3ff1c 62.8px,#b0ff4f 63.2px,#a1ff5e 63.8px,#c2ff3d 64.2px,#fffc00 64.8px,#ffb900 65.2px,#ff8300 65.8px,#ff5b00 66.2px,#ff2a00 67.2px,#ff0200 68.8px,#d20000 72.2px,#a90000 77.8px,#910000 83.2px,#800 89.2px,#900000 95.2px,#a70000 100.8px,#cd0000 105.8px,#fc0000 109.2px,#ff1c00 110.8px,#ff5600 112.8px,#ff9600 114.2px,#fe0 115.8px,#ef1 116.2px,#5dffa2 118.2px,#27ffd8 119.2px,#0afff5 120.2px,#07fff8 120.8px,#0bfff4 121.2px,#25ffda 122.2px,#9aff65 125.2px,#caff35 126.8px,#fffe00 129.2px,#fd0 132.2px,#ffcb00 135.8px,#ffb200 150.2px,#ff8500 165.8px)"></i>
<i style="background:linear-gradient(90deg,#ff7e00 0.2px,#ff8100 5.8px,#ffa000 10.2px,#ffc500 22.8px,#ffd400 29.8px,#ffd900 35.2px,#ffd500 39.2px,#ffc800 43.2px,#ff8400 54.2px,#ff7c00 57.2px,#ff8600 58.8px,#ff9a00 59.8px,#ffc300 60.8px,#ffe300 61.2px,#f2ff0d 61.8px,#93ff6c 62.8px,#72ff8d 63.2px,#6cff93 63.8px,#85ff7a 64.2px,#b7ff48 64.8px,#f2ff0d 65.2px,#ffd400 65.8px,#ffa500 66.2px,#ff5f00 67.2px,#ff4600 67.8px,#ff2100 68.8px,#ff0700 69.8px,#fb0000 70.2px,#c90000 73.8px,#a10000 78.8px,#800 84.2px,#800000 90.2px,#890000 96.2px,#a30000 102.2px,#c00 107.2px,#f00 110.8px,#ff2300 112.2px,#ff5600 113.8px,#ffa100 115.2px,#ffe500 116.2px,#f2ff0d 116.8px,#73ff8c 118.2px,#2effd1 119.2px,#17ffe8 119.8px,#0bfff4 120.2px,#09fff6 120.8px,#20ffdf 121.8px,#af5 124.8px,#d1ff2e 125.8px,#fbff04 127.2px,#fff800 127.8px,#ffd300 130.2px,#ffbe00 133.8px,#ffab00 149.8px,#ff8000 165.8px)"></i>
<i style="background:linear-gradient(90deg,#ff7b00 0.2px,#ff7e00 5.2px,#ff9e00 10.8px,#ffbe00 21.8px,#ffd500 34.2px,#ffca00 42.2px,#ff9500 52.8px,#ff8f00 55.8px,#ff9600 57.2px,#ffa300 58.2px,#ffbc00 59.2px,#ffe500 60.2px,#fcff03 60.8px,#6dff92 62.8px,#5affa5 63.2px,#58ffa7 63.8px,#6bff94 64.2px,#8eff71 64.8px,#ecff13 65.8px,#ffe400 66.2px,#ff9700 67.2px,#ff5f00 68.2px,#ff2500 69.8px,#fe0000 71.2px,#d30000 73.8px,#ad0000 77.2px,#910000 81.2px,#800000 85.8px,#800000 95.8px,#910000 100.8px,#bc0000 107.2px,#d70000 109.8px,#f80000 111.8px,#ff0300 112.2px,#ff1d00 113.2px,#ff5600 114.8px,#ff8e00 115.8px,#ffd900 116.8px,#f8ff07 117.2px,#63ff9c 118.8px,#3bffc4 119.2px,#1dffe2 119.8px,#0efff1 120.2px,#0efff1 120.8px,#1bffe4 121.2px,#32ffcd 121.8px,#c1ff3e 124.2px,#fdff02 125.8px,#ffdb00 127.2px,#ffc400 128.8px,#ffac00 132.2px,#ffa400 149.2px,#ff7c00 165.8px)"></i>
<i style="background:linear-gradient(90deg,#f70 0.2px,#ff7c00 5.2px,#ff9a00 10.8px,#ffb500 20.2px,#ffd100 33.8px,#ffcb00 41.2px,#ffa200 51.8px,#ffa000 54.8px,#ffa800 56.2px,#ffbd00 57.8px,#ffd700 58.8px,#fffe00 59.8px,#cbff34 60.8px,#71ff8e 62.2px,#5bffa4 62.8px,#4fffb0 63.2px,#50ffaf 63.8px,#5effa1 64.2px,#78ff87 64.8px,#ebff14 66.2px,#ffec00 66.8px,#ffa800 67.8px,#ff5b00 69.2px,#ff2600 70.8px,#f00 72.2px,#d20000 74.8px,#ae0000 77.8px,#910000 81.2px,#800000 84.8px,#800000 98.2px,#800 100.8px,#a00000 105.2px,#b00 108.8px,#d70000 111.2px,#fa0000 113.2px,#ff1600 114.2px,#ff3c00 115.2px,#f50 115.8px,#ff9a00 116.8px,#ffc800 117.2px,#fffe00 117.8px,#86ff79 118.8px,#50ffaf 119.2px,#28ffd7 119.8px,#16ffe9 120.2px,#1affe5 120.8px,#31ffce 121.2px,#c2ff3d 123.2px,#e1ff1e 123.8px,#faff05 124.2px,#fe0 124.8px,#ffce00 125.8px,#ffb000 127.2px,#ffa000 128.8px,#ff9600 130.8px,#ff9d00 148.8px,#ff7800 165.8px)"></i>
<i style="background:linear-gradient(90deg,#ff7300 0.2px,#ff7b00 5.2px,#ffa000 13.8px,#ffcd00 33.2px,#fc0 40.2px,#ffaf00 50.2px,#ffad00 53.2px,#ffb300 54.8px,#ffc200 56.2px,#ffde00 57.8px,#fffc00 58.8px,#d9ff26 59.8px,#61ff9e 62.2px,#4affb5 63.2px,#4cffb3 63.8px,#57ffa8 64.2px,#6bff94 64.8px,#85ff7a 65.2px,#ebff14 66.8px,#fff100 67.2px,#f90 68.8px,#ff5600 70.2px,#ff2500 71.8px,#fe0000 73.2px,#d00000 75.8px,#af0000 78.2px,#900000 81.8px,#800000 84.8px,#810000 100.8px,#9b0000 105.8px,#b00 110.2px,#d60000 112.8px,#fc0000 114.8px,#ff1e00 115.8px,#ff5300 116.8px,#ff7b00 117.2px,#ffaf00 117.8px,#fff100 118.2px,#c2ff3d 118.8px,#7f8 119.2px,#41ffbe 119.8px,#2bffd4 120.2px,#38ffc7 120.8px,#5fffa0 121.2px,#c1ff3e 122.2px,#ecff13 122.8px,#fff000 123.2px,#ffbf00 124.2px,#ffa200 125.2px,#ff8a00 126.8px,#ff7e00 128.8px,#ff7d00 131.8px,#ff9200 141.8px,#ff9600 147.8px,#ff8f00 153.8px,#ff7400 165.8px)"></i>
<i style="background:linear-gradient(90deg,#ff7100 0.2px,#ff7300 3.2px,#ff9a00 13.2px,#ffca00 32.8px,#ffcd00 39.2px,#ffba00 49.2px,#ffba00 52.2px,#ffcd00 55.2px,#ffe500 56.8px,#fffd00 57.8px,#cfff30 59.2px,#67ff98 61.8px,#4dffb2 62.8px,#48ffb7 63.2px,#4affb5 63.8px,#63ff9c 64.8px,#91ff6e 65.8px,#ecff13 67.2px,#fff400 67.8px,#ffa300 69.2px,#ff6300 70.8px,#f20 72.8px,#fc0000 74.2px,#d50000 76.2px,#b20000 78.8px,#970000 81.2px,#810000 84.2px,#800000 101.2px,#9b0000 106.8px,#c20000 112.2px,#de0000 114.8px,#fe0000 116.2px,#ff1200 116.8px,#ff2c00 117.2px,#ff5300 117.8px,#ff8c00 118.2px,#ffdb00 118.8px,#c8ff37 119.2px,#7fff80 119.8px,#69ff96 120.2px,#86ff79 120.8px,#fcff03 121.8px,#ffd100 122.2px,#ffae00 122.8px,#ff8400 123.8px,#ff6900 125.2px,#ff6000 126.8px,#ff6300 130.2px,#ff8700 141.2px,#ff8f00 146.8px,#ff8b00 153.2px,#ff7100 165.8px)"></i>
<i style="background:linear-gradient(90deg,#ff6f00 0.2px,#ff7100 3.2px,#ff9600 13.2px,#ffc800 33.2px,#ffcd00 39.2px,#ffc500 51.2px,#ffd700 54.2px,#fffe00 56.8px,#d8ff27 58.2px,#5effa1 61.8px,#4affb5 62.8px,#47ffb8 63.2px,#50ffaf 64.2px,#6eff91 65.2px,#9cff63 66.2px,#edff12 67.8px,#fff600 68.2px,#ff9500 70.2px,#ff5a00 71.8px,#ff1d00 73.8px,#ff0500 74.8px,#f80000 75.2px,#d20000 77.2px,#ae0000 79.8px,#800000 84.8px,#800000 101.8px,#960000 106.2px,#c60000 113.2px,#de0000 115.8px,#fb0000 117.2px,#ff1200 117.8px,#ff3700 118.2px,#ff7600 118.8px,#ffc700 119.2px,#f6ff09 119.8px,#ef1 120.2px,#ffe400 120.8px,#ffa800 121.2px,#ff7a00 121.8px,#ff5d00 122.2px,#ff4300 123.2px,#ff3c00 124.2px,#ff4100 127.2px,#ff7600 138.8px,#ff8600 145.2px,#ff8600 152.2px,#ff6f00 165.8px)"></i>
<i style="background:linear-gradient(90deg,#ff6d00 0.2px,#ff7500 5.8px,#ff9200 13.2px,#ffc600 33.2px,#ffce00 38.8px,#ffcf00 50.2px,#ffdf00 53.2px,#feff01 55.8px,#d0ff2f 57.8px,#64ff9b 61.2px,#4fffb0 62.2px,#46ffb9 63.2px,#4fffb0 64.2px,#67ff98 65.2px,#8dff72 66.2px,#efff10 68.2px,#fff700 68.8px,#ff9c00 70.8px,#ff6300 72.2px,#f30 73.8px,#f00 75.8px,#d70000 77.8px,#b10000 80.2px,#940000 82.8px,#800000 85.2px,#800000 102.2px,#be0000 111.2px,#db0000 114.2px,#fa0000 116.2px,#ff0700 116.8px,#ff1800 117.2px,#ff3200 117.8px,#ff5a00 118.2px,#ffda00 119.2px,#fffd00 119.8px,#ffe300 120.2px,#ff6100 121.2px,#ff3900 121.8px,#ff2600 122.2px,#ff1b00 123.2px,#ff2000 125.2px,#ff6200 136.2px,#ff7c00 143.8px,#ff8100 151.8px,#ff6e00 165.8px)"></i>
<i style="background:linear-gradient(90deg,#ff6c00 0.2px,#ff7400 6.2px,#ff8e00 13.2px,#ffc700 34.2px,#ffd800 49.2px,#ffe300 51.8px,#fffb00 54.2px,#f4ff0b 55.2px,#d6ff29 56.8px,#5effa1 61.2px,#4dffb2 62.2px,#46ffb9 63.2px,#4dffb2 64.2px,#71ff8e 65.8px,#96ff69 66.8px,#f0ff0f 68.8px,#fff700 69.2px,#ffa100 71.2px,#ff5900 73.2px,#ff1f00 75.2px,#fa0000 76.8px,#b30000 80.8px,#950000 83.2px,#800000 85.8px,#800000 101.8px,#940000 105.2px,#b70000 109.2px,#da0000 112.2px,#fd0000 114.2px,#ff2800 115.8px,#ff5700 116.8px,#ff7b00 117.2px,#fa0 117.8px,#ffe900 118.2px,#cdff32 118.8px,#90ff6f 119.2px,#80ff7f 119.8px,#aeff51 120.2px,#fffd00 120.8px,#ffab00 121.2px,#ff6f00 121.8px,#ff4a00 122.2px,#ff3400 122.8px,#ff2700 123.2px,#ff1e00 124.2px,#ff2300 126.8px,#ff6200 137.8px,#ff7800 144.8px,#ff7c00 151.8px,#ff6c00 165.8px)"></i>
<i style="background:linear-gradient(90deg,#ff6c00 0.2px,#ff7400 6.8px,#ffcb00 35.8px,#ffde00 47.8px,#ffea00 50.8px,#ff0 53.2px,#d0ff2f 56.2px,#5affa5 61.2px,#4cffb3 62.2px,#47ffb8 63.2px,#4dffb2 64.2px,#6bff94 65.8px,#9eff61 67.2px,#f2ff0d 69.2px,#fff600 69.8px,#ffa500 71.8px,#ff5f00 73.8px,#ff3200 75.2px,#f00 77.2px,#d70000 79.2px,#af0000 81.8px,#800000 86.2px,#810000 101.8px,#b50000 107.8px,#d50000 110.2px,#f90000 112.2px,#ff0500 112.8px,#ff2000 113.8px,#ff5900 115.2px,#ff9500 116.2px,#ffbe00 116.8px,#ffef00 117.2px,#d5ff2a 117.8px,#5bffa4 118.8px,#36ffc9 119.2px,#35ffca 119.8px,#5effa1 120.2px,#a3ff5c 120.8px,#f0ff0f 121.2px,#ffca00 121.8px,#ff9600 122.2px,#ff7100 122.8px,#ff5800 123.2px,#ff3a00 124.2px,#ff2b00 125.8px,#ff2c00 128.2px,#ff6000 138.8px,#ff7400 145.8px,#f70 152.2px,#ff6c00 165.8px)"></i>
<i style="background:linear-gradient(90deg,#ff7200 0.2px,#ff6c00 1.8px,#ff7500 7.8px,#ff9f00 22.8px,#ffcd00 36.2px,#ffe500 47.2px,#fffe00 51.8px,#f0ff0f 53.2px,#d4ff2b 55.2px,#58ffa7 61.2px,#47ffb8 63.2px,#53ffac 64.8px,#73ff8c 66.2px,#a5ff5a 67.8px,#f4ff0b 69.8px,#fff500 70.2px,#ff9600 72.8px,#ff5400 74.8px,#ff1000 77.2px,#f90000 78.2px,#b10000 82.2px,#800000 86.8px,#800000 100.8px,#b20000 106.2px,#d50000 108.8px,#fa0000 110.8px,#ff0600 111.2px,#ff2100 112.2px,#f50 113.8px,#ffa300 115.2px,#fe0 116.2px,#e2ff1d 116.8px,#4bffb4 118.2px,#25ffda 118.8px,#13ffec 119.2px,#1bffe4 119.8px,#3cffc3 120.2px,#70ff8f 120.8px,#ebff14 121.8px,#ffde00 122.2px,#ffb300 122.8px,#ff9200 123.2px,#ff6400 124.2px,#ff4300 125.8px,#ff3600 127.8px,#ff3800 130.2px,#ff6100 140.2px,#ff7000 146.2px,#ff7300 152.2px,#ff6b00 165.8px)"></i>
<i style="background:linear-gradient(90deg,#ff7100 0.2px,#ff6c00 0.8px,#ff7200 6.8px,#ff9700 21.2px,#ffce00 36.2px,#ffed00 46.8px,#ff0 50.2px,#d6ff29 54.2px,#b5ff4a 56.2px,#5dffa2 60.8px,#4bffb4 62.2px,#48ffb7 63.2px,#52ffad 64.8px,#6eff91 66.2px,#9aff65 67.8px,#f6ff09 70.2px,#fff400 70.8px,#f90 73.2px,#ff5800 75.2px,#ff2100 77.2px,#fc0000 78.8px,#d40000 80.8px,#ac0000 83.2px,#8e0000 85.8px,#800000 87.8px,#820000 100.2px,#b40000 105.2px,#d10000 107.2px,#f70000 109.2px,#ff0400 109.8px,#ff1d00 110.8px,#ff6100 112.8px,#ffab00 114.2px,#ffeb00 115.2px,#edff12 115.8px,#6bff94 117.2px,#2fd 118.2px,#0bfff4 118.8px,#05fffa 119.2px,#10ffef 119.8px,#2dffd2 120.2px,#56ffa9 120.8px,#e9ff16 122.2px,#ffeb00 122.8px,#ffa900 123.8px,#ff9100 124.2px,#ff6e00 125.2px,#ff5100 126.8px,#ff4200 128.8px,#ff4300 132.2px,#ff6200 141.8px,#ff6e00 147.8px,#ff6b00 165.8px)"></i>
<i style="background:linear-gradient(90deg,#ff7100 0.8px,#ff6c00 1.2px,#ff7200 7.2px,#ff9400 21.8px,#feff01 48.8px,#d7ff28 53.2px,#b3ff4c 55.8px,#5bffa4 60.8px,#4cffb3 62.2px,#48ffb7 63.2px,#51ffae 64.8px,#75ff8a 66.8px,#a0ff5f 68.2px,#f9ff06 70.8px,#fff300 71.2px,#ff9b00 73.8px,#ff5c00 75.8px,#ff0100 79.2px,#ce0000 81.8px,#ae0000 83.8px,#900000 86.2px,#800000 88.2px,#820000 99.2px,#980000 101.8px,#b60000 104.2px,#d50000 106.2px,#fd0000 108.2px,#ff3400 110.2px,#ff6800 111.8px,#ffae00 113.2px,#ffe700 114.2px,#f6ff09 114.8px,#61ff9e 116.8px,#21ffde 117.8px,#0bfff4 118.2px,#00feff 118.8px,#00feff 119.2px,#0cfff3 119.8px,#25ffda 120.2px,#6dff92 121.2px,#e8ff17 122.8px,#fff300 123.2px,#ffd400 123.8px,#ffa400 124.8px,#ff7500 126.2px,#ff5600 128.2px,#ff4b00 130.2px,#ff4b00 133.8px,#ff6b00 148.2px,#ff6b00 165.8px)"></i>
<i style="background:linear-gradient(90deg,#ff6e00 1.2px,#ff7200 8.2px,#ff9200 22.2px,#fffe00 46.8px,#ef1 49.8px,#d2ff2d 52.8px,#b1ff4e 55.2px,#60ff9f 60.2px,#50ffaf 61.8px,#49ffb6 63.2px,#51ffae 64.8px,#70ff8f 66.8px,#a6ff59 68.8px,#fbff04 71.2px,#ff5e00 76.2px,#ff0300 79.8px,#c70000 82.8px,#a90000 84.8px,#8d0000 87.2px,#800000 89.2px,#830000 98.2px,#b00000 102.8px,#cf0000 104.8px,#f60000 106.8px,#ff0300 107.2px,#ff0f00 107.8px,#ff5a00 110.2px,#ffae00 112.2px,#feff01 113.8px,#3cffc3 116.8px,#0cfff3 117.8px,#00fcff 118.2px,#00f7ff 118.8px,#00fbff 119.2px,#0afff5 119.8px,#20ffdf 120.2px,#5dffa2 121.2px,#e9ff16 123.2px,#fff800 123.8px,#ffb200 125.2px,#ff8500 126.8px,#ff6400 128.8px,#ff5300 131.2px,#ff5100 135.2px,#ff6900 149.2px,#ff6d00 165.8px)"></i>
<i style="background:linear-gradient(90deg,#ff6e00 1.8px,#ff7300 9.2px,#ff9100 22.8px,#ff0 45.2px,#ebff14 48.8px,#d3ff2c 51.8px,#afff50 54.8px,#5fffa0 60.2px,#50ffaf 61.8px,#4affb5 63.2px,#5fa 65.2px,#7f8 67.2px,#acff53 69.2px,#fdff02 71.8px,#ff5200 77.2px,#f10 79.8px,#fa0000 80.8px,#c90000 83.2px,#a50000 85.8px,#8b0000 88.2px,#800000 90.2px,#800000 96.2px,#8b0000 98.2px,#b80000 102.2px,#f90000 105.8px,#ff0500 106.2px,#ff1f00 107.2px,#ff5c00 109.2px,#ffad00 111.2px,#fff800 112.8px,#eaff15 113.2px,#39ffc6 116.2px,#0dfff2 117.2px,#00fdff 117.8px,#00f4ff 118.8px,#00fbff 119.2px,#09fff6 119.8px,#36ffc9 120.8px,#ceff31 123.2px,#fffa00 124.2px,#ffbc00 125.8px,#ff8700 127.8px,#ff6a00 129.8px,#ff5a00 132.2px,#f50 136.2px,#ff6800 149.2px,#ff6d00 165.2px)"></i>
<i style="background:linear-gradient(90deg,#ff7100 1.8px,#ff6d00 2.2px,#ff7300 9.2px,#ff8d00 22.8px,#ffa300 27.8px,#fffe00 43.8px,#e9ff16 47.8px,#ceff31 51.2px,#aeff51 54.2px,#5effa1 60.2px,#50ffaf 61.8px,#4bffb4 63.2px,#5fa 65.2px,#72ff8d 67.2px,#a3ff5c 69.2px,#ff0 72.2px,#ff6200 77.2px,#ff1f00 79.8px,#fb0000 81.2px,#cb0000 83.8px,#a10000 86.8px,#8a0000 89.2px,#800000 91.8px,#800000 94.8px,#960000 98.2px,#c10000 101.8px,#fa0000 104.8px,#ff2000 106.2px,#ff5d00 108.2px,#fa0 110.2px,#fff100 111.8px,#f4ff0b 112.2px,#36ffc9 115.8px,#0efff1 116.8px,#00feff 117.2px,#00f1ff 118.2px,#00fbff 119.2px,#0afff5 119.8px,#32ffcd 120.8px,#d4ff2b 123.8px,#fffb00 124.8px,#ffc300 126.2px,#ff9200 128.2px,#ff6f00 130.8px,#ff5f00 133.2px,#ff5900 137.8px,#ff6700 150.2px,#ff6c00 164.8px)"></i>
<i style="background:linear-gradient(90deg,#ff7000 2.8px,#ff7b00 15.2px,#ff8c00 23.2px,#ffa300 28.2px,#ff0 42.8px,#caff35 50.8px,#adff52 53.8px,#5dffa2 60.2px,#4cffb3 63.2px,#54ffab 65.2px,#6fff90 67.2px,#9aff65 69.2px,#f2ff0d 72.2px,#fffc00 72.8px,#ff6200 77.8px,#ff2000 80.2px,#fd0000 81.8px,#c50000 84.8px,#a30000 87.2px,#8e0000 89.8px,#850000 92.8px,#8d0000 95.8px,#a10000 98.2px,#ca0000 101.2px,#fb0000 103.8px,#ff2100 105.2px,#ff5d00 107.2px,#ffa700 109.2px,#ffe900 110.8px,#fdff02 111.2px,#4affb5 114.8px,#1fffe0 115.8px,#0ff 116.8px,#00efff 117.8px,#00efff 118.2px,#00fcff 119.2px,#0bfff4 119.8px,#30ffcf 120.8px,#d9ff26 124.2px,#fffb00 125.2px,#fb0 127.2px,#ff9100 129.2px,#ff7200 131.8px,#ff6300 134.2px,#ff5c00 139.2px,#ff6d00 164.2px)"></i>
<i style="background:linear-gradient(90deg,#ff7100 3.2px,#ff7c00 17.2px,#ff8a00 23.8px,#ffa400 28.8px,#feff01 41.8px,#c7ff38 50.2px,#a6ff59 53.8px,#5dffa2 60.2px,#4dffb2 63.2px,#58ffa7 65.8px,#74ff8b 67.8px,#a0ff5f 69.8px,#f5ff0a 72.8px,#fffa00 73.2px,#ff6300 78.2px,#fe0000 82.2px,#c60000 85.2px,#a60000 87.8px,#920000 90.2px,#8c0000 92.8px,#940000 95.2px,#a80000 97.8px,#ca0000 100.2px,#fb0000 102.8px,#ff2100 104.2px,#ff5c00 106.2px,#ffa300 108.2px,#fff900 110.2px,#ef1 110.8px,#73ff8c 113.2px,#31ffce 114.8px,#0ff 116.2px,#00f5ff 116.8px,#00edff 117.8px,#0ef 118.2px,#00feff 119.2px,#0cfff3 119.8px,#43ffbc 121.2px,#dfff20 124.8px,#fffa00 125.8px,#ffbf00 127.8px,#ff9700 129.8px,#ff7800 132.2px,#f60 135.2px,#ff5e00 140.8px,#ff6e00 163.8px)"></i>
<i style="background:linear-gradient(90deg,#ff7200 3.8px,#ff7d00 18.8px,#ff8900 24.2px,#ffa500 29.2px,#fffe00 40.8px,#c0ff3f 50.2px,#61ff9e 59.8px,#4fffb0 63.2px,#58ffa7 65.8px,#79ff86 68.2px,#a4ff5b 70.2px,#f7ff08 73.2px,#fff800 73.8px,#f50 79.2px,#f00 82.8px,#d00000 85.2px,#ae0000 87.8px,#9a0000 90.2px,#950000 92.2px,#9b0000 94.8px,#b00000 97.2px,#d30000 99.8px,#fa0000 101.8px,#ff2000 103.2px,#ff5a00 105.2px,#ff9f00 107.2px,#fff100 109.2px,#f7ff08 109.8px,#82ff7d 112.2px,#2effd1 114.2px,#0ff 115.8px,#00f5ff 116.2px,#00ebff 117.8px,#01fffe 119.2px,#41ffbe 121.2px,#e5ff1a 125.2px,#f6ff09 125.8px,#fff700 126.2px,#ffc100 128.2px,#ff9300 130.8px,#ff7800 133.2px,#ff6700 136.2px,#ff6000 141.8px,#ff7000 159.8px,#ff6f00 163.2px)"></i>
<i style="background:linear-gradient(90deg,#ff7500 4.2px,#ff7d00 19.8px,#f80 24.8px,#ffa600 29.8px,#feff01 40.2px,#b1ff4e 51.2px,#5effa1 60.2px,#50ffaf 63.8px,#5cffa3 66.2px,#7eff81 68.8px,#b5ff4a 71.2px,#faff05 73.8px,#fff500 74.2px,#f50 79.8px,#ff0100 83.2px,#d10000 85.8px,#b70000 87.8px,#a20000 90.2px,#9d0000 92.2px,#a30000 94.2px,#b70000 96.8px,#d30000 98.8px,#fa0000 100.8px,#ff1200 101.8px,#ff5700 104.2px,#ff9b00 106.2px,#ff0 108.8px,#79ff86 111.8px,#3dffc2 113.2px,#0ff 115.2px,#00f5ff 115.8px,#00e9ff 117.2px,#00f0ff 118.2px,#03fffc 119.2px,#41ffbe 121.2px,#ebff14 125.8px,#fbff04 126.2px,#fff400 126.8px,#ffc100 128.8px,#ff9600 131.2px,#ff7b00 133.8px,#ff6900 136.8px,#ff6200 142.8px,#ff7300 159.2px,#ff7100 162.2px)"></i>
<i style="background:linear-gradient(90deg,#ff7600 5.2px,#ff7d00 20.8px,#ff8700 25.2px,#ffa300 29.8px,#fffc00 39.2px,#abff54 51.2px,#5effa1 60.2px,#51ffae 63.8px,#5bffa4 66.2px,#7aff85 68.8px,#adff52 71.2px,#fdff02 74.2px,#ff5400 80.2px,#ff0100 83.8px,#db0000 85.8px,#bf0000 87.8px,#ae0000 89.8px,#a70000 91.8px,#ab0000 93.8px,#ba0000 95.8px,#d40000 97.8px,#f90000 99.8px,#ff1000 100.8px,#ff5400 103.2px,#ff9700 105.2px,#fff700 107.8px,#f2ff0d 108.2px,#4bffb4 112.2px,#19ffe6 113.8px,#00feff 114.8px,#0ef 115.8px,#00e7ff 116.8px,#00ebff 117.8px,#06fff9 119.2px,#30ffcf 120.8px,#c0ff3f 124.8px,#fffe00 126.8px,#ffcb00 128.8px,#ff9e00 131.2px,#ff7c00 134.2px,#ff6b00 137.2px,#ff6300 142.8px,#ff7600 158.2px,#ff7300 161.8px)"></i>
<i style="background:linear-gradient(90deg,#ff7900 5.8px,#ff7f00 11.8px,#ff7e00 21.8px,#ff8700 25.8px,#ffa500 30.2px,#feff01 39.2px,#62ff9d 59.8px,#52ffad 63.8px,#5bffa4 66.2px,#76ff89 68.8px,#a5ff5a 71.2px,#f2ff0d 74.2px,#fffe00 74.8px,#ff5400 80.8px,#ff0100 84.2px,#d00 86.2px,#c30000 88.2px,#b40000 90.2px,#b10000 91.8px,#b40000 93.2px,#c20000 95.2px,#d50000 96.8px,#f80000 98.8px,#ff0f00 99.8px,#ff5100 102.2px,#ff9200 104.2px,#fff000 106.8px,#faff05 107.2px,#7dff82 110.2px,#34ffcb 112.2px,#16ffe9 113.2px,#00fdff 114.2px,#00e8ff 115.8px,#00e6ff 116.8px,#00edff 117.8px,#00fdff 118.8px,#09fff6 119.2px,#42ffbd 121.2px,#dbff24 125.8px,#f9ff06 126.8px,#fff700 127.2px,#ffc800 129.2px,#ff9d00 131.8px,#ff8100 134.2px,#ff6e00 137.2px,#f60 142.8px,#ff7a00 157.8px,#ff7600 160.8px)"></i>
<i style="background:linear-gradient(90deg,#ff7c00 6.8px,#ff8400 12.8px,#ff7f00 22.8px,#ff8600 26.2px,#ffa600 30.8px,#ff0 38.8px,#d3ff2c 43.8px,#6f9 59.2px,#53ffac 63.8px,#5effa1 66.8px,#7aff85 69.2px,#a9ff56 71.8px,#f5ff0a 74.8px,#fffc00 75.2px,#ff5200 81.2px,#ff0200 84.8px,#c00 88.2px,#b00 91.2px,#c60000 94.2px,#d70000 95.8px,#f80000 97.8px,#ff0300 98.2px,#ff0d00 98.8px,#ff4e00 101.2px,#ff9f00 103.8px,#fffd00 106.2px,#75ff8a 109.8px,#3fffc0 111.2px,#13ffec 112.8px,#00fbff 113.8px,#00e7ff 115.2px,#00e4ff 116.2px,#00e9ff 117.2px,#01fffe 118.8px,#34ffcb 120.8px,#c7ff38 125.2px,#fffd00 127.2px,#ffcd00 129.2px,#ffa200 131.8px,#ff8500 134.2px,#ff7100 137.2px,#ff6800 142.2px,#ff7e00 156.8px,#ff7d00 159.8px,#ff7600 160.2px)"></i>
<i style="background:linear-gradient(90deg,#ff8000 7.8px,#ff8900 12.8px,#ff8100 23.2px,#ff8600 26.8px,#ffa200 30.8px,#fffd00 38.2px,#bfff40 45.8px,#64ff9b 59.8px,#5fa 63.8px,#5dffa2 66.8px,#76ff89 69.2px,#adff52 72.2px,#f7ff08 75.2px,#fff900 75.8px,#f40 82.2px,#ff0200 85.2px,#d50000 88.2px,#c50000 91.2px,#cf0000 93.8px,#f80000 96.8px,#ff0200 97.2px,#ff0c00 97.8px,#ff4b00 100.2px,#ff9a00 102.8px,#fff600 105.2px,#f4ff0b 105.8px,#7eff81 108.8px,#39ffc6 110.8px,#04fffb 112.8px,#00f9ff 113.2px,#00e5ff 114.8px,#00e1ff 115.8px,#00ebff 117.2px,#04fffb 118.8px,#37ffc8 120.8px,#c5ff3a 125.2px,#feff01 127.2px,#ffc700 129.8px,#ff9e00 132.2px,#ff8300 134.8px,#ff7400 137.2px,#ff6b00 142.2px,#ff8300 155.8px,#ff8200 158.8px,#ff7d00 159.2px)"></i>
<i style="background:linear-gradient(90deg,#ff8500 8.8px,#ff9000 14.2px,#ff8300 24.2px,#f80 27.8px,#ffa800 31.8px,#ff0 38.2px,#d4ff2b 42.2px,#b5ff4a 46.2px,#65ff9a 59.8px,#56ffa9 64.2px,#60ff9f 67.2px,#7aff85 69.8px,#b0ff4f 72.8px,#faff05 75.8px,#fff600 76.2px,#ff4f00 82.2px,#ff0200 85.8px,#de0000 88.2px,#d00000 90.8px,#d90000 93.2px,#f80000 95.8px,#ff0c00 96.8px,#ff4800 99.2px,#ff9600 101.8px,#fff000 104.2px,#fbff04 104.8px,#87ff78 107.8px,#3fc 110.2px,#0ff 112.2px,#00f6ff 112.8px,#00e3ff 114.2px,#00dfff 115.2px,#00e7ff 116.8px,#00fdff 118.2px,#08fff7 118.8px,#3bffc4 120.8px,#fdff02 127.2px,#ffc900 129.8px,#ffa000 132.2px,#ff8500 134.8px,#ff7600 137.2px,#ff7000 142.8px,#ff8a00 155.2px,#ff8700 157.8px,#ff8100 158.2px)"></i>
<i style="background:linear-gradient(90deg,#ff8b00 9.8px,#ff9500 12.2px,#ff9700 15.8px,#ff8600 25.2px,#f80 28.2px,#ffa300 31.8px,#fffa00 37.8px,#fdff02 38.2px,#ceff31 42.2px,#b0ff4f 46.2px,#63ff9c 60.2px,#58ffa7 64.2px,#5fffa0 67.2px,#7dff82 70.2px,#b3ff4c 73.2px,#fdff02 76.2px,#ff4e00 82.8px,#ff0300 86.2px,#e30000 88.8px,#db0000 90.8px,#e20000 92.8px,#f90000 94.8px,#ff0200 95.2px,#ff1500 96.2px,#ff5300 98.8px,#ffa300 101.2px,#fffd00 103.8px,#7cff83 107.2px,#4affb5 108.8px,#12ffed 110.8px,#00fbff 111.8px,#00e5ff 113.2px,#0df 114.8px,#00e3ff 116.2px,#02fffd 118.2px,#3fffc0 120.8px,#fdff02 127.2px,#ffc900 129.8px,#ffa700 131.8px,#ff8a00 134.2px,#ff7a00 136.8px,#ff7400 142.2px,#ff9000 153.8px,#ff8e00 156.8px,#ff8600 157.2px)"></i>
<i style="background:linear-gradient(90deg,#ff9100 10.8px,#ff9d00 13.8px,#ffa000 17.2px,#ff8900 26.8px,#ff8b00 29.2px,#ff9400 30.8px,#ffa900 32.8px,#fffb00 37.8px,#c9ff36 42.2px,#af5 46.2px,#65ff9a 60.2px,#59ffa6 64.8px,#62ff9d 67.8px,#7fff80 70.8px,#b6ff49 73.8px,#ff0 76.8px,#ff4c00 83.2px,#ff1f00 85.2px,#ff0500 86.8px,#fd0000 87.2px,#ed0000 88.8px,#e60000 90.2px,#e90000 91.8px,#fc0000 93.8px,#ff1500 95.2px,#ff5100 97.8px,#ff9e00 100.2px,#fff900 102.8px,#f3ff0c 103.2px,#82ff7d 106.2px,#41ffbe 108.2px,#0cfff3 110.2px,#01fffe 110.8px,#00f6ff 111.2px,#00deff 113.2px,#00dbff 114.8px,#00e5ff 116.2px,#00fcff 117.8px,#07fff8 118.2px,#45ffba 120.8px,#caff35 125.2px,#fffe00 127.2px,#ffc700 129.8px,#ffa600 131.8px,#ff8b00 134.2px,#ff7c00 136.8px,#ff7800 140.8px,#ff9700 152.2px,#ff9400 155.8px)"></i>
<i style="background:linear-gradient(90deg,#ff9d00 12.2px,#ffa900 15.8px,#fa0 19.2px,#ff8e00 27.8px,#ff8e00 30.2px,#ff9700 31.8px,#ffa900 33.2px,#fffa00 37.8px,#fbff04 38.2px,#c9ff36 41.8px,#a7ff58 45.8px,#6f9 60.2px,#5affa5 64.8px,#61ff9e 67.8px,#7bff84 70.8px,#adff52 73.8px,#f5ff0a 76.8px,#fffc00 77.2px,#ff4a00 83.8px,#ff0e00 86.8px,#ff0100 87.8px,#f10000 90.2px,#f00 92.8px,#ff1f00 94.8px,#ff4e00 96.8px,#ff9b00 99.2px,#fff400 101.8px,#f7ff08 102.2px,#87ff78 105.2px,#46ffb9 107.2px,#10ffef 109.2px,#00faff 110.2px,#00deff 112.2px,#00d7ff 113.8px,#00e2ff 115.8px,#01fffe 117.8px,#3dffc2 120.2px,#deff21 125.8px,#f9ff06 126.8px,#fff900 127.2px,#fc0 129.2px,#fa0 131.2px,#ff9300 133.2px,#ff8200 135.8px,#ff7f00 140.8px,#ffa000 151.2px,#ff9d00 154.2px,#ff9200 154.8px)"></i>
<i style="background:linear-gradient(90deg,#ffa000 13.2px,#ffa900 13.8px,#ffb200 16.2px,#ffb600 20.2px,#ffae00 23.8px,#ff9300 29.2px,#ff9200 31.2px,#ffa700 33.8px,#fff700 37.8px,#fdff02 38.2px,#c4ff3b 41.8px,#a1ff5e 45.8px,#64ff9b 61.2px,#5cffa3 65.2px,#63ff9c 68.2px,#7dff82 71.2px,#afff50 74.2px,#f7ff08 77.2px,#fffa00 77.8px,#ff6e00 82.8px,#ff2800 85.8px,#ff0600 88.2px,#fe0000 90.8px,#ff1000 92.8px,#ff4000 95.2px,#ff8700 97.8px,#fff100 100.8px,#faff05 101.2px,#59ffa6 105.8px,#1fffe0 107.8px,#00fcff 109.2px,#00deff 111.2px,#00d4ff 113.2px,#00deff 115.2px,#00fcff 117.2px,#07fff8 117.8px,#4fb 120.2px,#fffe00 126.8px,#ffd000 128.8px,#ffad00 130.8px,#ff9600 132.8px,#ff8600 135.2px,#ff8500 139.8px,#ffa900 149.8px,#ffa500 153.2px)"></i>
<i style="background:linear-gradient(90deg,#fa0 14.8px,#ffb400 15.2px,#ffbf00 17.8px,#ffc300 22.2px,#ffb900 25.8px,#f90 30.8px,#ff9800 32.8px,#ff9f00 33.8px,#ffb600 35.2px,#fffd00 38.2px,#bfff40 41.8px,#9bff64 45.8px,#64ff9b 61.8px,#5dffa2 65.8px,#64ff9b 68.8px,#7eff81 71.8px,#b1ff4e 74.8px,#f9ff06 77.8px,#fff800 78.2px,#ff7900 82.8px,#ff3c00 85.2px,#ff1400 87.8px,#ff0a00 89.8px,#ff1400 91.8px,#ff3f00 94.2px,#ff8500 96.8px,#ffef00 99.8px,#fdff02 100.2px,#8dff72 103.2px,#5bffa4 104.8px,#21ffde 106.8px,#00feff 108.2px,#00d8ff 110.8px,#00d0ff 112.8px,#00daff 114.8px,#02fffd 117.2px,#4cffb3 120.2px,#feff01 126.2px,#ffd100 128.2px,#ffaf00 130.2px,#ff9800 132.2px,#ff8c00 134.2px,#ff8c00 138.8px,#ffb500 148.8px,#ffb100 151.8px,#ffa100 152.2px)"></i>
<i style="background:linear-gradient(90deg,#ffbe00 16.2px,#ffd100 20.8px,#ffd100 24.8px,#ffc800 27.2px,#ffa200 32.2px,#ff9e00 33.8px,#ffa400 34.8px,#ffb200 35.8px,#fff300 38.2px,#fcff03 38.8px,#d6ff29 40.2px,#bf4 41.8px,#a8ff57 43.2px,#98ff67 45.2px,#8aff75 48.8px,#5effa1 66.2px,#6f9 69.2px,#7fff80 72.2px,#b2ff4d 75.2px,#faff05 78.2px,#fff600 78.8px,#ff7600 83.2px,#ff4500 85.2px,#ff1e00 87.8px,#ff1600 89.8px,#ff2500 91.8px,#ff4b00 93.8px,#ff9300 96.2px,#feff01 99.2px,#8dff72 102.2px,#5bffa4 103.8px,#21ffde 105.8px,#00feff 107.2px,#00d7ff 109.8px,#00cbff 111.8px,#00d7ff 114.2px,#00fdff 116.8px,#14ffeb 117.8px,#49ffb6 119.8px,#feff01 125.8px,#ffd100 127.8px,#ffb600 129.2px,#ff9e00 131.2px,#ff9200 133.2px,#ff9400 137.8px,#ffc100 147.2px,#ffbc00 150.2px,#ffab00 150.8px)"></i>
<i style="background:linear-gradient(90deg,#fc0 17.8px,#ffe100 22.2px,#ffe300 26.8px,#ffd500 29.8px,#ffae00 33.8px,#ffa800 35.2px,#ffb800 36.8px,#fff400 38.8px,#f9ff06 39.2px,#cf3 40.8px,#b6ff49 41.8px,#a1ff5e 43.2px,#92ff6d 45.2px,#5fffa0 66.8px,#67ff98 69.8px,#80ff7f 72.8px,#b2ff4d 75.8px,#fbff04 78.8px,#ff8100 83.2px,#ff4f00 85.2px,#ff2d00 87.2px,#f20 89.2px,#ff3000 91.2px,#ff5700 93.2px,#ff9200 95.2px,#feff01 98.2px,#8bff74 101.2px,#59ffa6 102.8px,#1fffe0 104.8px,#00fcff 106.2px,#00d5ff 108.8px,#00c6ff 111.2px,#00d3ff 113.8px,#00f9ff 116.2px,#05fffa 116.8px,#46ffb9 119.2px,#d6ff29 123.8px,#fffc00 125.2px,#ffcd00 127.2px,#ffb400 128.8px,#ffa300 130.2px,#ff9700 132.2px,#ff9c00 136.2px,#ffcd00 145.8px,#ffc900 148.8px,#ffb500 149.2px)"></i>
<i style="background:linear-gradient(90deg,#ffcd00 19.2px,#fd0 19.8px,#fe0 22.8px,#fff900 28.2px,#ffea00 31.8px,#fb0 35.8px,#ffb700 36.8px,#ffc100 37.8px,#fff000 39.2px,#f9ff06 39.8px,#c0ff3f 41.2px,#a8ff57 42.2px,#8eff71 44.8px,#61ff9e 67.2px,#67ff98 70.2px,#7fff80 73.2px,#b1ff4e 76.2px,#fbff04 79.2px,#ff7f00 83.8px,#ff5900 85.2px,#ff3700 87.2px,#ff2e00 88.8px,#ff3500 90.2px,#ff5700 92.2px,#ff9100 94.2px,#fe0 96.8px,#fcff03 97.2px,#87ff78 100.2px,#45ffba 102.2px,#0ffff0 104.2px,#00f8ff 105.2px,#00deff 106.8px,#0cf 108.2px,#00c1ff 110.8px,#00cfff 113.2px,#02fffd 116.2px,#46ffb9 118.8px,#ecff13 123.8px,#fbff04 124.2px,#fff500 124.8px,#ffd100 126.2px,#ffb700 127.8px,#ffa700 129.2px,#ff9e00 131.2px,#ffa500 134.8px,#ffdb00 143.8px,#ffdc00 145.2px,#ffd500 147.2px)"></i>
<i style="background:linear-gradient(90deg,#ffeb00 21.2px,#ff0 24.2px,#edff12 30.2px,#f0ff0f 32.2px,#feff01 34.2px,#ffd800 37.2px,#ffd100 38.2px,#ffde00 39.2px,#fe0 39.8px,#faff05 40.2px,#c8ff37 41.2px,#a3ff5c 42.2px,#93ff6c 43.2px,#8cff73 44.2px,#7dff82 56.2px,#62ff9d 68.2px,#69ff96 71.2px,#84ff7b 74.2px,#afff50 76.8px,#fbff04 79.8px,#ff6400 85.2px,#ff4100 87.2px,#ff3a00 88.8px,#ff4600 90.2px,#ff6400 91.8px,#ffa200 93.8px,#fff000 95.8px,#f9ff06 96.2px,#80ff7f 99.2px,#4effb1 100.8px,#2fd 102.2px,#00fdff 103.8px,#00cdff 106.8px,#00bcff 109.8px,#00bfff 111.2px,#00cbff 112.8px,#00e0ff 114.2px,#0ff 115.8px,#48ffb7 118.2px,#e8ff17 122.8px,#f8ff07 123.2px,#fff700 123.8px,#ffd300 125.2px,#ffb900 126.8px,#ffab00 128.2px,#ffa500 129.8px,#ffaf00 133.2px,#ffe900 141.8px,#ffe500 145.8px)"></i>
<i style="background:linear-gradient(90deg,#ffec00 22.8px,#feff01 23.2px,#df2 28.8px,#d1ff2e 33.2px,#d6ff29 35.8px,#f7ff08 38.8px,#fbff04 39.8px,#f3ff0c 40.2px,#e4ff1b 40.8px,#a7ff58 42.2px,#98ff67 43.2px,#92ff6d 44.2px,#81ff7e 56.8px,#62ff9d 68.8px,#68ff97 71.8px,#81ff7e 74.8px,#acff53 77.2px,#f9ff06 80.2px,#fff600 80.8px,#ff9700 83.8px,#ff6e00 85.2px,#ff5200 86.8px,#ff4700 88.2px,#ff5200 89.8px,#ff7100 91.2px,#ffa200 92.8px,#fff400 94.8px,#f4ff0b 95.2px,#8bff74 97.8px,#4fb 99.8px,#01fffe 102.2px,#00f5ff 102.8px,#00c8ff 105.8px,#00bcff 107.2px,#00b7ff 109.2px,#00c7ff 112.2px,#0df 113.8px,#00feff 115.2px,#3cffc3 117.2px,#e9ff16 121.8px,#f9ff06 122.2px,#fff600 122.8px,#ffdc00 123.8px,#ffc000 125.2px,#ffb200 126.8px,#ffad00 128.2px,#ffb800 131.2px,#fff600 139.2px,#fffb00 141.2px,#fff500 143.8px)"></i>
<i style="background:linear-gradient(90deg,#edff12 25.2px,#caff35 30.2px,#b3ff4c 35.2px,#afff50 37.8px,#b4ff4b 41.8px,#c5ff3a 43.2px,#c4ff3b 43.8px,#a6ff59 46.8px,#9aff65 49.2px,#63ff9c 70.2px,#6cff93 73.2px,#84ff7b 75.8px,#b2ff4d 78.2px,#f6ff09 80.8px,#fff800 81.2px,#ff7a00 85.2px,#ff5d00 86.8px,#f50 87.8px,#ff5800 88.8px,#ff7200 90.2px,#ffa300 91.8px,#fff900 93.8px,#edff12 94.2px,#93ff6c 96.2px,#59ffa6 97.8px,#28ffd7 99.2px,#02fffd 100.8px,#00dbff 102.8px,#00c8ff 104.2px,#00b9ff 106.2px,#00b4ff 108.2px,#00b8ff 110.2px,#00c4ff 111.8px,#00daff 113.2px,#0ff 114.8px,#32ffcd 116.2px,#c8ff37 119.8px,#fffe00 121.2px,#ffe200 122.2px,#ffc600 123.8px,#ffbc00 124.8px,#ffb700 126.2px,#ffc400 129.2px,#fffd00 135.8px,#f1ff0e 138.8px,#f8ff07 141.8px)"></i>
<i style="background:linear-gradient(90deg,#d8ff27 27.2px,#a6ff59 34.8px,#91ff6e 40.2px,#98ff67 41.2px,#a4ff5b 41.8px,#ebff14 43.8px,#f5ff0a 44.8px,#edff12 45.8px,#bcff43 49.2px,#a6ff59 52.2px,#69ff96 67.8px,#63ff9c 71.8px,#6bff94 74.2px,#85ff7a 76.8px,#b6ff49 79.2px,#fffd00 81.8px,#ff8700 85.2px,#ff6800 86.8px,#ff6200 87.8px,#ff6b00 88.8px,#ff8100 89.8px,#ffa400 90.8px,#ffe800 92.2px,#fdff02 92.8px,#9aff65 94.8px,#5bffa4 96.2px,#28ffd7 97.8px,#0ff 99.2px,#00e2ff 100.8px,#00c9ff 102.8px,#0bf 104.8px,#00b4ff 107.2px,#00b5ff 109.2px,#00c2ff 111.2px,#00d9ff 112.8px,#00f3ff 113.8px,#04fffb 114.2px,#2cffd3 115.2px,#beff41 118.2px,#fcff03 119.8px,#ffd100 121.8px,#ffc600 122.8px,#ffc100 124.2px,#ffcf00 126.8px,#ff0 131.8px,#e1ff1e 135.8px,#deff21 137.8px,#e5ff1a 139.8px)"></i>
<i style="background:linear-gradient(90deg,#c5ff3a 29.2px,#95ff6a 36.8px,#8cff73 40.8px,#9eff61 42.2px,#faff05 45.2px,#fff700 46.8px,#fffe00 47.8px,#c5ff3a 52.2px,#af5 55.8px,#6cff93 68.2px,#62ff9d 73.2px,#6cff93 75.8px,#83ff7c 77.8px,#abff54 79.8px,#f8ff07 82.2px,#fff300 82.8px,#ffa800 84.8px,#ff8900 85.8px,#ff7100 87.2px,#ff7800 88.2px,#ff9100 89.2px,#fb0 90.2px,#ffef00 91.2px,#f3ff0c 91.8px,#87ff78 93.8px,#47ffb8 95.2px,#16ffe9 96.8px,#00fcff 97.8px,#00dbff 99.8px,#00c9ff 101.8px,#00baff 108.2px,#00bcff 109.8px,#00c7ff 111.2px,#00dbff 112.2px,#00fcff 113.2px,#2cffd3 114.2px,#d4ff2b 117.2px,#fdff02 118.2px,#ffdc00 119.8px,#ffd100 120.8px,#ffcf00 121.8px,#ffd900 123.8px,#fcff03 127.8px,#d1ff2e 132.8px,#cbff34 134.8px,#d0ff2f 137.2px)"></i>
<i style="background:linear-gradient(90deg,#b0ff4f 31.8px,#8dff72 37.8px,#89ff76 41.2px,#9cff63 43.2px,#fbff04 47.2px,#fff700 48.8px,#fffe00 50.2px,#c4ff3b 55.8px,#a5ff5a 59.8px,#6bff94 69.8px,#5fffa0 74.8px,#6cff93 77.2px,#86ff79 79.2px,#b6ff49 81.2px,#feff01 83.2px,#ff9b00 85.8px,#ff8400 86.8px,#ff8200 87.2px,#ff8600 87.8px,#ffa400 88.8px,#fff800 90.2px,#e6ff19 90.8px,#89ff76 92.2px,#57ffa8 93.2px,#2fffd0 94.2px,#04fffb 95.8px,#00e3ff 97.8px,#00d6ff 99.8px,#00d2ff 105.8px,#00c6ff 109.8px,#0cf 110.8px,#00d6ff 111.2px,#00fcff 112.2px,#19ffe6 112.8px,#bdff42 115.2px,#ef1 116.2px,#ff0 116.8px,#ffea00 117.8px,#ffe200 119.2px,#ffea00 120.8px,#ff0 122.8px,#d4ff2b 126.8px,#bdff42 129.8px,#b8ff47 131.2px,#bcff43 134.8px)"></i>
<i style="background:linear-gradient(90deg,#9aff65 34.8px,#84ff7b 39.2px,#85ff7a 42.8px,#a1ff5e 45.2px,#f0ff0f 49.2px,#fbff04 50.2px,#feff01 51.8px,#f2ff0d 53.8px,#b1ff4e 60.8px,#7fff80 67.8px,#60ff9f 73.2px,#5cffa3 76.8px,#67ff98 78.8px,#84ff7b 80.8px,#bdff42 82.8px,#fdff02 84.2px,#ffb800 85.8px,#f90 86.8px,#ff9800 87.2px,#ffa400 87.8px,#ffbc00 88.2px,#fd0 88.8px,#fbff04 89.2px,#8bff74 90.8px,#52ffad 91.8px,#29ffd6 92.8px,#02fffd 94.2px,#00efff 95.8px,#00e9ff 97.2px,#01fffe 103.8px,#00fcff 107.2px,#00deff 109.8px,#00dfff 110.2px,#00ecff 110.8px,#07fff8 111.2px,#9cff63 113.2px,#baff45 113.8px,#e4ff1b 114.8px,#f6ff09 115.8px,#f9ff06 116.8px,#f4ff0b 117.8px,#bdff42 123.2px,#a6ff59 126.8px,#a1ff5e 129.2px,#af5 132.2px)"></i>
<i style="background:linear-gradient(90deg,#86ff79 37.8px,#79ff86 41.8px,#80ff7f 44.8px,#95ff6a 46.8px,#e5ff1a 51.8px,#f1ff0e 54.2px,#e3ff1c 57.2px,#9bff64 65.8px,#67ff98 72.8px,#56ffa9 76.2px,#5fa 78.8px,#61ff9e 80.8px,#83ff7c 82.8px,#b7ff48 84.2px,#eaff15 85.2px,#fff600 85.8px,#ffda00 86.2px,#ffc700 86.8px,#ffc700 87.2px,#ffe000 87.8px,#f3ff0c 88.2px,#95ff6a 89.2px,#70ff8f 89.8px,#3bffc4 90.8px,#2affd5 91.2px,#14ffeb 92.2px,#07fff8 94.2px,#12ffed 96.8px,#52ffad 103.8px,#5dffa2 106.2px,#53ffac 107.8px,#48ffb7 108.2px,#0bfff4 109.8px,#0afff5 110.2px,#1fffe0 110.8px,#65ff9a 111.8px,#9aff65 112.8px,#a8ff57 113.2px,#b3ff4c 114.2px,#b1ff4e 115.8px,#96ff69 120.2px,#8aff75 123.2px,#91ff6e 129.2px)"></i>
<i style="background:linear-gradient(90deg,#75ff8a 40.8px,#6fff90 44.2px,#7f8 46.8px,#8f7 48.8px,#d2ff2d 54.2px,#df2 55.8px,#e0ff1f 57.8px,#ceff31 61.2px,#58ffa7 76.2px,#4affb5 79.2px,#49ffb6 81.8px,#54ffab 83.2px,#71ff8e 84.8px,#84ff7b 85.2px,#a0ff5f 85.8px,#e4ff1b 86.8px,#f0ff0f 87.2px,#dcff23 87.8px,#8bff74 88.8px,#6dff92 89.2px,#4dffb2 90.2px,#42ffbd 91.2px,#43ffbc 92.8px,#51ffae 94.8px,#a7ff58 102.2px,#b8ff47 104.8px,#b3ff4c 105.8px,#a1ff5e 106.8px,#7bff84 107.8px,#23ffdc 109.2px,#0dfff2 109.8px,#08fff7 110.2px,#46ffb9 112.2px,#59ffa6 113.8px,#63ff9c 116.2px,#6eff91 122.8px,#7bff84 125.8px)"></i>
<i style="background:linear-gradient(90deg,#67ff98 44.8px,#68ff97 48.2px,#72ff8d 50.2px,#beff41 57.2px,#c9ff36 59.2px,#cbff34 61.2px,#b5ff4a 65.8px,#4dffb2 79.2px,#41ffbe 81.8px,#41ffbe 83.2px,#4affb5 84.2px,#64ff9b 85.2px,#7eff81 85.8px,#cfff30 86.8px,#ef1 87.2px,#f6ff09 87.8px,#c0ff3f 89.8px,#b2ff4d 90.8px,#adff52 91.8px,#b3ff4c 94.2px,#df2 100.2px,#df2 101.8px,#d6ff29 102.8px,#c6ff39 103.8px,#af5 104.8px,#17ffe8 108.2px,#07fff8 108.8px,#00fcff 109.2px,#00f9ff 109.8px,#04fffb 110.8px,#25ffda 112.8px,#3dffc2 115.2px,#61ff9e 122.2px)"></i>
<i style="background:linear-gradient(90deg,#5bffa4 48.8px,#5bffa4 50.2px,#67ff98 53.2px,#a8ff57 60.8px,#b3ff4c 64.2px,#a5ff5a 68.8px,#5cffa3 79.2px,#56ffa9 82.2px,#64ff9b 83.8px,#7dff82 84.8px,#af5 85.8px,#fdff02 87.2px,#ffec00 88.2px,#fffd00 90.8px,#edff12 96.8px,#d8ff27 99.2px,#beff41 100.8px,#a4ff5b 101.8px,#23ffdc 105.8px,#0dfff2 106.8px,#02fffd 107.8px,#02fffd 109.2px,#2dffd2 113.8px,#45ffba 117.8px)"></i>
<i style="background:linear-gradient(90deg,#5fa 53.8px,#58ffa7 55.8px,#64ff9b 57.2px,#68ff97 58.8px,#7aff85 60.8px,#92ff6d 64.8px,#98ff67 68.2px,#91ff6e 71.8px,#6dff92 79.2px,#6eff91 81.8px,#7bff84 83.2px,#8cff73 84.2px,#d3ff2c 86.8px,#e9ff16 87.8px,#f4ff0b 88.8px,#f6ff09 89.8px,#e2ff1d 93.2px,#beff41 96.2px,#a2ff5d 97.8px,#31ffce 102.8px,#15ffea 104.8px,#0bfff4 106.8px,#29ffd6 112.8px)"></i>
<i style="background:linear-gradient(90deg,#5dffa2 60.2px,#5cffa3 62.2px,#6eff91 64.2px,#6eff91 66.2px,#7fff80 69.8px,#76ff89 81.2px,#81ff7e 83.2px,#b0ff4f 87.2px,#b7ff48 89.2px,#a1ff5e 92.2px,#6dff92 96.2px,#3fffc0 99.2px,#20ffdf 102.2px,#18ffe7 106.8px)"></i>
<i style="background:linear-gradient(90deg,#6cff93 69.2px,#63ff9c 71.2px,#72ff8d 75.8px,#76ff89 81.8px,#8bff74 86.2px,#8cff73 87.8px,#82ff7d 89.8px,#3dffc2 97.2px)"></i>
</div>
<div class="m" style="left:8px;top:142px;width:166px;height:83px;clip-path:ellipse(82.50px 41.25px at 82.80px 41.30px)">
<i style="background:linear-gradient(90deg,#97ff68 66.2px,#7cff83 83.8px,#8cff73 99.2px)"></i>
<i style="background:linear-gradient(90deg,#9eff61 58.2px,#94ff6b 69.8px,#7bff84 79.2px,#75ff8a 83.8px,#96ff69 107.2px)"></i>
<i style="background:linear-gradient(90deg,#a2ff5d 52.2px,#9dff62 66.2px,#75ff8a 77.8px,#6eff91 83.2px,#74ff8b 90.2px,#9dff62 113.2px)"></i>
<i style="background:linear-gradient(90deg,#a7ff58 47.2px,#a4ff5b 64.2px,#9aff65 67.8px,#70ff8f 76.2px,#6f9 82.8px,#6dff92 89.2px,#a4ff5b 118.2px)"></i>
<i style="background:linear-gradient(90deg,#af5 43.2px,#acff53 62.8px,#9fff60 66.2px,#6eff91 74.2px,#5fffa0 81.8px,#65ff9a 87.8px,#9fff60 115.2px,#a9ff56 122.2px)"></i>
<i style="background:linear-gradient(90deg,#aeff51 39.8px,#b3ff4c 61.8px,#a7ff58 64.8px,#7cff83 69.8px,#6aff95 72.8px,#5effa1 76.2px,#59ffa6 80.8px,#5fffa0 86.8px,#7eff81 99.8px,#8bff74 108.8px,#a3ff5c 117.8px,#adff52 125.8px)"></i>
<i style="background:linear-gradient(90deg,#b0ff4f 36.2px,#afff50 43.8px,#bcff43 56.8px,#baff45 61.2px,#aeff51 63.8px,#7cff83 68.2px,#6f9 71.2px,#58ffa7 75.2px,#53ffac 79.8px,#5cffa3 87.2px,#84ff7b 102.8px,#8fff70 111.8px,#a8ff57 119.8px,#b0ff4f 129.2px)"></i>
<i style="background:linear-gradient(90deg,#b3ff4c 33.8px,#b1ff4e 42.8px,#c1ff3e 55.8px,#c0ff3f 61.2px,#b7ff48 62.8px,#83ff7c 66.2px,#67ff98 69.2px,#54ffab 73.8px,#4effb1 79.2px,#5affa5 87.8px,#8bff74 104.8px,#91ff6e 113.8px,#abff54 120.8px,#b3ff4c 132.2px)"></i>
<i style="background:linear-gradient(90deg,#b5ff4a 30.8px,#b3ff4c 41.2px,#c3ff3c 53.8px,#c2ff3d 61.2px,#bf4 62.2px,#80ff7f 65.2px,#68ff97 67.8px,#51ffae 72.8px,#4affb5 78.2px,#57ffa8 87.8px,#93ff6c 107.2px,#96ff69 115.8px,#b0ff4f 121.8px,#b5ff4a 134.8px)"></i>
<i style="background:linear-gradient(90deg,#b6ff49 28.2px,#b4ff4b 40.2px,#c5ff3a 52.8px,#b8ff47 61.8px,#b4ff4b 62.2px,#81ff7e 64.8px,#61ff9e 68.2px,#4dffb2 72.2px,#46ffb9 77.8px,#57ffa8 88.2px,#9dff62 109.8px,#9aff65 117.2px,#b2ff4d 121.2px,#b6ff49 123.8px,#b7ff48 137.2px)"></i>
<i style="background:linear-gradient(90deg,#b8ff47 26.2px,#b5ff4a 38.8px,#c6ff39 51.2px,#beff41 55.2px,#a4ff5b 60.2px,#b7ff48 62.2px,#b3ff4c 62.8px,#76ff89 66.2px,#5bffa4 68.8px,#49ffb6 72.2px,#4fb 76.8px,#49ffb6 82.2px,#56ffa9 88.2px,#a8ff57 112.2px,#a4ff5b 118.8px,#b5ff4a 121.2px,#bf4 123.8px,#b8ff47 139.2px)"></i>
<i style="background:linear-gradient(90deg,#b9ff46 23.8px,#b5ff4a 37.2px,#c7ff38 49.2px,#bdff42 53.2px,#9dff62 59.2px,#a5ff5a 60.2px,#c4ff3b 62.2px,#baff45 63.2px,#70ff8f 66.8px,#57ffa8 68.8px,#48ffb7 71.8px,#43ffbc 76.2px,#48ffb7 81.8px,#58ffa7 88.8px,#b3ff4c 114.8px,#b0ff4f 119.8px,#beff41 125.8px,#baff45 141.8px)"></i>
<i style="background:linear-gradient(90deg,#bf4 22.2px,#b5ff4a 36.2px,#c8ff37 47.2px,#bdff42 51.8px,#9cff63 57.8px,#a0ff5f 58.8px,#c7ff38 61.2px,#cbff34 62.2px,#beff41 63.2px,#74ff8b 66.2px,#57ffa8 68.2px,#48ffb7 71.2px,#43ffbc 76.2px,#49ffb6 82.2px,#5affa5 89.2px,#b9ff46 116.2px,#baff45 118.8px,#acff53 121.8px,#bf4 125.2px,#bfff40 127.8px,#bf4 143.8px)"></i>
<i style="background:linear-gradient(90deg,#bcff43 20.2px,#b4ff4b 35.2px,#c7ff38 42.2px,#c9ff36 45.8px,#bfff40 49.8px,#9eff61 56.8px,#a6ff59 58.2px,#cf3 60.8px,#d1ff2e 61.8px,#c7ff38 62.8px,#75ff8a 65.8px,#5cffa3 67.2px,#4bffb4 70.2px,#4fb 75.8px,#49ffb6 81.2px,#5cffa3 89.2px,#baff45 116.2px,#b9ff46 119.2px,#a6ff59 122.8px,#baff45 126.8px,#c0ff3f 129.8px,#bcff43 145.2px)"></i>
<i style="background:linear-gradient(90deg,#c0ff3f 18.2px,#b3ff4c 33.8px,#c8ff37 40.8px,#caff35 43.8px,#c1ff3e 47.8px,#9eff61 55.8px,#a8ff57 57.8px,#d2ff2d 60.8px,#d5ff2a 61.8px,#c3ff3c 62.8px,#72ff8d 65.2px,#5cffa3 66.8px,#4effb1 69.8px,#47ffb8 75.8px,#4dffb2 81.2px,#61ff9e 89.8px,#b9ff46 116.2px,#b9ff46 119.2px,#a6ff59 123.8px,#c0ff3f 131.8px,#bdff42 147.2px)"></i>
<i style="background:linear-gradient(90deg,#c1ff3e 16.8px,#bfff40 25.8px,#b3ff4c 32.8px,#c9ff36 39.2px,#cbff34 42.2px,#c2ff3d 46.2px,#a2ff5d 53.2px,#9eff61 55.2px,#af5 57.8px,#d7ff28 61.2px,#d4ff2b 61.8px,#c9ff36 62.2px,#7bff84 64.2px,#62ff9d 65.8px,#53ffac 69.8px,#4bffb4 75.8px,#50ffaf 80.8px,#67ff98 90.2px,#95ff6a 106.2px,#b9ff46 116.2px,#b9ff46 119.8px,#a8ff57 124.8px,#c1ff3e 133.8px,#beff41 148.8px)"></i>
<i style="background:linear-gradient(90deg,#c2ff3d 15.2px,#c1ff3e 24.8px,#b2ff4d 31.8px,#c9ff36 37.2px,#cf3 40.8px,#c1ff3e 45.2px,#a1ff5e 52.8px,#9dff62 55.2px,#a8ff57 58.2px,#caff35 61.2px,#c7ff38 61.8px,#b9ff46 62.2px,#7eff81 63.8px,#6fff90 64.8px,#56ffa9 71.8px,#4fffb0 76.2px,#56ffa9 81.2px,#89ff76 99.2px,#97ff68 106.8px,#baff45 116.8px,#b9ff46 120.2px,#abff54 125.8px,#c2ff3d 135.2px,#bfff40 150.2px)"></i>
<i style="background:linear-gradient(90deg,#c3ff3c 13.8px,#bfff40 16.2px,#c4ff3b 23.8px,#b1ff4e 31.2px,#caff35 35.8px,#cdff32 38.8px,#c1ff3e 43.8px,#9fff60 52.2px,#9f6 55.8px,#9cff63 59.8px,#b5ff4a 61.8px,#b3ff4c 62.2px,#8cff73 64.2px,#78ff87 66.8px,#5dffa2 71.8px,#5fa 76.2px,#5bffa4 80.8px,#90ff6f 99.8px,#9aff65 107.8px,#bf4 117.2px,#bf4 120.2px,#aeff51 126.8px,#c3ff3c 136.8px,#c3ff3c 151.8px)"></i>
<i style="background:linear-gradient(90deg,#c5ff3a 12.2px,#c0ff3f 15.2px,#c7ff38 22.8px,#b1ff4e 30.2px,#b4ff4b 31.2px,#cbff34 34.2px,#cdff32 37.2px,#89ff76 59.2px,#90ff6f 60.2px,#9cff63 60.8px,#c1ff3e 61.8px,#cf3 62.2px,#cdff32 62.8px,#9f6 65.8px,#78ff87 68.8px,#63ff9c 72.2px,#5bffa4 76.2px,#60ff9f 79.8px,#9aff65 100.2px,#9dff62 108.8px,#bcff43 117.8px,#b2ff4d 127.8px,#c4ff3b 138.2px,#c5ff3a 153.2px)"></i>
<i style="background:linear-gradient(90deg,#c7ff38 11.2px,#c1ff3e 14.8px,#caff35 18.8px,#c9ff36 21.8px,#c1ff3e 26.8px,#b4ff4b 29.8px,#cf3 33.2px,#cdff32 35.8px,#bfff40 41.8px,#8f7 58.2px,#96ff69 59.8px,#d8ff27 61.8px,#e1ff1e 62.2px,#e2ff1d 62.8px,#9eff61 66.8px,#7fff80 69.2px,#68ff97 72.8px,#61ff9e 76.2px,#68ff97 79.8px,#84ff7b 87.2px,#90ff6f 94.2px,#a4ff5b 100.2px,#9dff62 108.8px,#beff41 118.2px,#b6ff49 128.8px,#c5ff3a 139.2px,#c7ff38 154.2px)"></i>
<i style="background:linear-gradient(90deg,#c6ff39 10.2px,#c3ff3c 14.8px,#cf3 18.2px,#c9ff36 24.8px,#c4ff3b 27.8px,#b9ff46 29.8px,#caff35 32.2px,#caff35 34.2px,#bdff42 40.8px,#8eff71 56.8px,#9aff65 58.8px,#aeff51 59.8px,#e4ff1b 61.8px,#ebff14 62.8px,#e0ff1f 63.8px,#9cff63 67.8px,#84ff7b 69.8px,#6fff90 72.8px,#68ff97 76.2px,#70ff8f 79.8px,#93ff6c 87.2px,#9bff64 94.8px,#b1ff4e 100.8px,#9eff61 109.2px,#c1ff3e 119.2px,#baff45 129.8px,#c6ff39 140.2px,#c9ff36 155.8px)"></i>
<i style="background:linear-gradient(90deg,#cf3 8.8px,#c6ff39 14.2px,#cdff32 26.8px,#caff35 27.8px,#b9ff46 29.8px,#c2ff3d 32.2px,#c0ff3f 36.8px,#95ff6a 55.8px,#9bff64 57.2px,#a6ff59 58.2px,#e6ff19 61.2px,#efff10 62.8px,#e7ff18 63.8px,#a6ff59 67.8px,#8f7 70.2px,#76ff89 72.8px,#6fff90 75.8px,#7f8 79.2px,#a6ff59 87.8px,#a8ff57 95.2px,#c1ff3e 101.2px,#beff41 103.2px,#a4ff5b 107.8px,#a0ff5f 109.8px,#bdff42 116.8px,#c4ff3b 119.8px,#beff41 130.8px,#c8ff37 141.2px,#cbff34 156.8px)"></i>
<i style="background:linear-gradient(90deg,#ceff31 7.8px,#c9ff36 15.8px,#cfff30 25.8px,#c9ff36 27.2px,#b1ff4e 29.8px,#bf4 33.2px,#bf4 36.8px,#9cff63 54.2px,#acff53 57.2px,#e8ff17 60.8px,#f4ff0b 62.2px,#ebff14 63.8px,#adff52 67.8px,#8fff70 70.2px,#7dff82 72.8px,#76ff89 75.8px,#80ff7f 79.2px,#baff45 87.8px,#beff41 90.2px,#b6ff49 95.8px,#d3ff2c 101.8px,#ceff31 103.8px,#a9ff56 108.2px,#a1ff5e 110.2px,#bfff40 116.8px,#c7ff38 120.2px,#c2ff3d 131.8px,#cdff32 157.8px)"></i>
<i style="background:linear-gradient(90deg,#d0ff2f 6.8px,#d0ff2f 12.8px,#c9ff36 15.8px,#d0ff2f 24.2px,#c9ff36 26.2px,#afff50 29.2px,#b7ff48 36.8px,#a2ff5d 52.2px,#a6ff59 54.2px,#b2ff4d 56.2px,#f2ff0d 60.8px,#f9ff06 62.2px,#efff10 63.8px,#b3ff4c 67.8px,#95ff6a 70.2px,#84ff7b 72.8px,#7dff82 75.2px,#8bff74 79.2px,#c0ff3f 85.2px,#d0ff2f 87.8px,#d5ff2a 90.8px,#c5ff3a 96.2px,#e9ff16 101.8px,#e1ff1e 104.2px,#adff52 108.8px,#a3ff5c 110.8px,#c2ff3d 116.8px,#caff35 120.2px,#c6ff39 132.8px,#d0ff2f 158.8px)"></i>
<i style="background:linear-gradient(90deg,#d3ff2c 5.8px,#d2ff2d 11.8px,#cbff34 15.2px,#cfff30 23.2px,#c8ff37 25.2px,#aeff51 29.2px,#b5ff4a 36.8px,#a6ff59 50.2px,#acff53 53.2px,#b8ff47 55.2px,#f7ff08 60.2px,#ff0 61.8px,#f2ff0d 63.8px,#b8ff47 67.8px,#9cff63 70.2px,#8bff74 72.8px,#84ff7b 75.2px,#89ff76 77.2px,#95ff6a 79.2px,#daff25 85.8px,#ecff13 88.2px,#efff10 91.2px,#d7ff28 95.2px,#d5ff2a 96.8px,#fffe00 101.2px,#fbff04 104.2px,#e9ff16 105.8px,#b2ff4d 109.2px,#a4ff5b 111.2px,#c6ff39 116.8px,#ceff31 120.2px,#caff35 134.2px,#d2ff2d 159.8px)"></i>
<i style="background:linear-gradient(90deg,#d4ff2b 5.2px,#ceff31 22.2px,#aeff51 29.2px,#b3ff4c 36.2px,#a9ff56 48.2px,#afff50 51.2px,#bf4 53.8px,#cdff32 55.8px,#feff01 59.8px,#fff900 61.2px,#fffe00 62.8px,#a7ff58 69.8px,#92ff6d 72.8px,#8cff73 75.2px,#91ff6e 77.2px,#a0ff5f 79.2px,#f3ff0c 85.8px,#fffc00 87.2px,#fe0 90.2px,#fffd00 93.2px,#e5ff1a 96.8px,#eaff15 97.8px,#fffe00 99.2px,#ffe200 101.2px,#ffdc00 102.8px,#ffe400 104.2px,#feff01 106.2px,#b7ff48 109.8px,#af5 110.8px,#a6ff59 111.8px,#c8ff37 116.2px,#d1ff2e 119.8px,#d3ff2c 160.2px)"></i>
<i style="background:linear-gradient(90deg,#d5ff2a 4.2px,#ceff31 21.2px,#afff50 28.8px,#b2ff4d 36.2px,#acff53 46.8px,#b2ff4d 49.8px,#c1ff3e 52.8px,#fffc00 58.8px,#fff000 61.2px,#ff0 63.2px,#ceff31 66.8px,#b4ff4b 69.2px,#9aff65 72.8px,#94ff6b 75.2px,#9aff65 77.2px,#acff53 79.2px,#feff01 84.8px,#ffd500 88.2px,#fc0 90.8px,#ffda00 93.2px,#fffd00 95.8px,#f6ff09 97.2px,#fffe00 98.2px,#ffc800 100.8px,#ffbc00 101.8px,#ffb900 102.8px,#ffbd00 103.8px,#ffcd00 105.2px,#feff01 107.8px,#bcff43 110.2px,#a9ff56 111.8px,#adff52 112.8px,#cf3 115.8px,#d5ff2a 118.8px,#d5ff2a 161.2px)"></i>
<i style="background:linear-gradient(90deg,#d6ff29 3.8px,#ceff31 20.2px,#b0ff4f 28.8px,#aeff51 45.2px,#b3ff4c 48.2px,#c2ff3d 51.2px,#d7ff28 53.8px,#fffd00 57.2px,#ffe500 60.2px,#ffe900 61.8px,#fffb00 63.2px,#d9ff26 66.2px,#c6ff39 68.2px,#a4ff5b 72.8px,#9cff63 75.2px,#a0ff5f 76.8px,#b1ff4e 78.8px,#ceff31 80.8px,#fbff04 83.2px,#ffb900 87.8px,#ffa600 90.8px,#ffb100 93.2px,#ffc700 94.8px,#ffef00 96.8px,#fff300 97.8px,#ffe000 98.8px,#ffa500 100.8px,#ff9700 101.8px,#ff9400 102.8px,#ff9d00 104.2px,#ffb100 105.8px,#ffcf00 107.2px,#fff900 108.8px,#f4ff0b 109.2px,#b7ff48 111.2px,#aeff51 112.2px,#d2ff2d 115.2px,#dbff24 117.2px,#d3ff2c 150.2px,#d6ff29 161.8px)"></i>
<i style="background:linear-gradient(90deg,#d7ff28 2.8px,#ceff31 19.2px,#b2ff4d 28.8px,#afff50 43.8px,#b4ff4b 46.8px,#c2ff3d 49.8px,#dbff24 52.8px,#ff0 55.8px,#ffe100 58.2px,#ffd700 60.2px,#ffe000 61.8px,#fffe00 63.8px,#dfff20 66.2px,#acff53 73.2px,#a5ff5a 75.2px,#a9ff56 76.8px,#bcff43 78.8px,#fcff03 82.2px,#ff9f00 87.2px,#ff8700 89.2px,#ff7d00 91.2px,#ff8000 92.8px,#ff8f00 94.2px,#ffa200 95.2px,#ffd800 97.2px,#fd0 97.8px,#ffd800 98.2px,#ffc800 98.8px,#ff9b00 99.8px,#ff7c00 100.8px,#ff6e00 102.2px,#ff7a00 104.2px,#ff9600 106.2px,#ffc200 108.2px,#fff500 109.8px,#f4ff0b 110.2px,#cbff34 111.2px,#b5ff4a 112.2px,#b7ff48 112.8px,#dbff24 114.8px,#e4ff1b 116.2px,#deff21 121.2px,#d6ff29 145.8px,#d8ff27 162.8px)"></i>
<i style="background:linear-gradient(90deg,#d8ff27 2.2px,#cfff30 18.2px,#b4ff4b 28.2px,#b1ff4e 42.8px,#b6ff49 45.8px,#c4ff3b 48.8px,#d8ff27 51.2px,#fbff04 54.2px,#ffd000 58.2px,#ffc700 59.8px,#ffcd00 61.2px,#fff900 63.8px,#fcff03 64.2px,#edff12 65.8px,#deff21 69.2px,#b8ff47 73.2px,#afff50 75.2px,#b3ff4c 76.8px,#c1ff3e 78.2px,#d8ff27 79.8px,#f7ff08 81.2px,#fffb00 81.8px,#ffb000 84.8px,#ff8600 86.8px,#ff5c00 89.8px,#ff5100 92.2px,#ff5a00 94.2px,#ff7400 95.8px,#ffb500 97.8px,#ffb600 98.2px,#ffa500 98.8px,#ff6e00 99.8px,#ff5b00 100.2px,#ff5100 100.8px,#ff4b00 101.8px,#ff6300 104.8px,#ff9000 107.8px,#ffb500 109.2px,#fff200 110.8px,#f1ff0e 111.2px,#d9ff26 111.8px,#caff35 112.2px,#c8ff37 112.8px,#e9ff16 114.2px,#f3ff0c 115.8px,#e0ff1f 121.8px,#e3ff1c 129.2px,#d7ff28 148.2px,#d9ff26 163.2px)"></i>
<i style="background:linear-gradient(90deg,#d9ff26 1.8px,#d1ff2e 16.8px,#b6ff49 28.2px,#b2ff4d 42.2px,#b8ff47 45.2px,#c4ff3b 47.8px,#d9ff26 50.2px,#fdff02 53.2px,#ffc200 57.8px,#ffb400 59.8px,#ffbd00 61.2px,#fff300 63.8px,#feff01 64.8px,#fbff04 68.8px,#c7ff38 73.2px,#baff45 75.2px,#c7ff38 77.8px,#dcff23 79.2px,#fcff03 80.8px,#ff8700 85.2px,#ff5200 87.8px,#ff3200 90.2px,#ff2500 93.2px,#ff2a00 94.8px,#ff3400 95.8px,#ff4900 96.8px,#ff6f00 97.8px,#ff7a00 98.2px,#ff7400 98.8px,#ff4700 99.8px,#ff3900 100.2px,#f30 100.8px,#ff3800 102.2px,#ff4f00 104.8px,#ff6f00 107.2px,#ff9200 109.2px,#ffac00 110.2px,#ffbf00 110.8px,#fff300 111.8px,#f6ff09 112.2px,#ef1 112.8px,#fffe00 113.8px,#fff400 114.8px,#fffe00 116.2px,#e8ff17 119.2px,#e2ff1d 121.8px,#e8ff17 129.8px,#daff25 148.2px,#daff25 163.8px)"></i>
<i style="background:linear-gradient(90deg,#daff25 1.2px,#d2ff2d 15.2px,#b8ff47 28.2px,#b4ff4b 41.8px,#baff45 44.8px,#c8ff37 47.2px,#deff21 49.8px,#fdff02 52.2px,#ffaf00 57.8px,#ff9e00 59.8px,#ffa700 61.2px,#ffdf00 63.2px,#fff000 64.2px,#fd0 67.8px,#ffe600 69.2px,#fffb00 70.8px,#d1ff2e 73.8px,#c6ff39 75.8px,#d3ff2c 77.8px,#ff0 80.2px,#ff6800 85.2px,#ff3800 87.2px,#ff1300 89.8px,#f00 92.8px,#f00 95.2px,#ff1000 96.8px,#ff1f00 97.2px,#ff5400 98.2px,#ff6500 98.8px,#ff6200 99.2px,#ff3b00 100.8px,#ff3600 101.8px,#ff4000 103.8px,#ff5f00 106.8px,#ff7c00 108.8px,#ff9a00 110.2px,#ffbe00 111.2px,#fe0 112.2px,#fff900 112.8px,#ffe500 114.2px,#ffe500 114.8px,#fcff03 117.2px,#e9ff16 119.2px,#e2ff1d 121.2px,#ecff13 130.2px,#dcff23 148.8px,#dbff24 164.2px)"></i>
<i style="background:linear-gradient(90deg,#dbff24 0.8px,#d7ff28 11.2px,#bf4 27.8px,#b6ff49 41.2px,#c7ff38 46.2px,#dcff23 48.8px,#fbff04 51.2px,#fff400 52.2px,#ff9500 58.2px,#ff8400 60.2px,#ff8b00 61.2px,#ff9600 61.8px,#ffcf00 63.2px,#ffda00 63.8px,#ffda00 64.2px,#ffb800 66.2px,#ffb100 67.8px,#ffc600 69.8px,#fffe00 72.2px,#dcff23 74.2px,#d4ff2b 75.8px,#dcff23 77.2px,#f8ff07 79.2px,#fffb00 79.8px,#ffe100 80.8px,#ff6800 84.2px,#ff3a00 85.8px,#ff1700 87.2px,#fd0000 88.8px,#e90000 90.8px,#e00000 93.2px,#e70000 95.2px,#ff0400 96.8px,#ff1a00 97.2px,#ff7e00 98.8px,#f80 99.2px,#ff8100 99.8px,#f50 101.2px,#ff4900 102.2px,#ff4a00 104.2px,#ff5b00 106.2px,#ff7800 108.2px,#f90 109.8px,#ffbc00 110.8px,#fff000 111.8px,#f5ff0a 112.2px,#e9ff16 112.8px,#ef1 113.2px,#fcff03 113.8px,#ffef00 114.8px,#fe0 115.2px,#fcff03 117.2px,#e8ff17 119.2px,#e1ff1e 121.2px,#f1ff0e 130.2px,#df2 149.2px,#dcff23 164.8px)"></i>
<i style="background:linear-gradient(90deg,#dbff24 0.2px,#d7ff28 10.8px,#beff41 27.2px,#b8ff47 40.8px,#bcff43 43.2px,#c8ff37 45.8px,#dfff20 48.2px,#fffe00 50.8px,#ff8200 58.2px,#ff6f00 59.8px,#ff6900 60.8px,#ff7300 61.8px,#ffb000 63.2px,#ffb500 63.8px,#ff8400 65.8px,#ff7b00 66.8px,#ff7d00 67.8px,#ff9b00 69.8px,#fffd00 73.2px,#e8ff17 74.8px,#e5ff1a 75.8px,#ef1 77.2px,#ff0 78.8px,#ffec00 79.8px,#ffd100 80.8px,#ff2800 85.2px,#f00 86.8px,#f50000 87.2px,#d40000 89.8px,#cb0000 92.2px,#d80000 94.8px,#f90000 96.2px,#ff0e00 96.8px,#f80 98.8px,#ff9700 99.2px,#ff9800 99.8px,#ff6b00 101.8px,#ff5d00 102.8px,#ff5900 104.2px,#ff6700 106.2px,#ff7d00 107.8px,#ff9f00 109.2px,#ffc200 110.2px,#fff000 111.2px,#f4ff0b 111.8px,#dfff20 112.2px,#d5ff2a 112.8px,#d7ff28 113.2px,#faff05 114.8px,#fffe00 115.2px,#fffe00 116.2px,#e3ff1c 119.2px,#deff21 120.8px,#f1ff0e 126.8px,#f5ff0a 130.2px,#dfff20 149.8px,#df2 165.2px)"></i>
<i style="background:linear-gradient(90deg,#df2 0.2px,#d3ff2c 14.2px,#c1ff3e 26.8px,#baff45 40.8px,#c9ff36 45.2px,#dbff24 47.2px,#fbff04 49.8px,#fff400 50.8px,#ff8300 57.2px,#ff5e00 59.8px,#f50 60.8px,#ff5900 61.8px,#ff8300 63.2px,#ff7c00 63.8px,#ff5700 64.8px,#ff4c00 65.2px,#ff4300 66.2px,#ff4a00 67.8px,#ff6100 69.2px,#ff8a00 70.8px,#ffe500 73.2px,#fffd00 74.2px,#f9ff06 75.2px,#fdff02 76.2px,#ffeb00 78.8px,#ffd000 80.2px,#ffae00 81.2px,#ff2a00 84.2px,#ff0600 85.2px,#f70000 85.8px,#df0000 86.8px,#c70000 88.2px,#b00 89.8px,#b80000 91.2px,#bd0000 92.8px,#cd0000 94.2px,#e10000 95.2px,#ff0300 96.2px,#ff3400 97.2px,#ff6d00 98.2px,#ff9400 99.2px,#ff9a00 100.2px,#ff7000 103.2px,#ff6c00 104.2px,#ff7200 105.8px,#ff8500 107.2px,#ffa500 108.8px,#ffc400 109.8px,#ff0 111.2px,#dbff24 112.2px,#d1ff2e 113.2px,#f4ff0b 115.8px,#f2ff0d 116.8px,#df2 119.2px,#d8ff27 120.8px,#f4ff0b 126.8px,#faff05 130.2px,#e1ff1e 149.8px,#deff21 165.8px)"></i>
<i style="background:linear-gradient(90deg,#deff21 0.2px,#bcff43 40.8px,#c1ff3e 43.2px,#cdff32 45.2px,#fdff02 49.2px,#ff8000 56.8px,#ff5d00 59.2px,#ff5600 60.8px,#ff6500 61.8px,#ff8100 62.8px,#ff7e00 63.2px,#ff3400 64.8px,#ff1f00 65.8px,#ff1a00 66.8px,#ff2300 68.2px,#ff3e00 69.8px,#ff7000 71.2px,#ffdc00 73.8px,#ffe800 74.2px,#ffed00 75.2px,#ffd900 77.2px,#ffd000 79.2px,#ffbf00 80.2px,#ff9b00 81.2px,#ff0700 84.2px,#f30000 84.8px,#d50000 85.8px,#b80000 87.2px,#a00 88.8px,#a70000 90.2px,#ac0000 91.8px,#b00 93.2px,#d80000 94.8px,#f70000 95.8px,#ff0b00 96.2px,#ff7e00 98.8px,#ff9600 99.8px,#f90 100.8px,#ff8000 103.8px,#ff8400 105.8px,#ff9700 107.2px,#fa0 108.2px,#fff500 110.8px,#f8ff07 111.2px,#df2 112.2px,#d4ff2b 113.2px,#ecff13 116.2px,#d5ff2a 119.2px,#d1ff2e 120.8px,#f6ff09 126.2px,#feff01 130.2px,#e3ff1c 149.8px,#deff21 165.8px)"></i>
<i style="background:linear-gradient(90deg,#dfff20 0.2px,#beff41 40.8px,#cdff32 44.8px,#fdff02 48.8px,#ff7f00 56.2px,#ff6100 58.8px,#ff5e00 59.8px,#ff6700 60.8px,#ff9200 62.2px,#ff9a00 62.8px,#ff9200 63.2px,#ff3d00 64.8px,#ff1800 65.8px,#ff0600 66.8px,#ff0100 67.8px,#ff0b00 69.2px,#ff2d00 70.8px,#ff5700 71.8px,#ffc200 73.8px,#ffd000 74.2px,#ffd300 74.8px,#fa0 77.2px,#ffb600 79.2px,#ffae00 80.2px,#f80 81.2px,#f10 83.2px,#f70000 83.8px,#cf0000 84.8px,#ab0000 86.2px,#9a0000 87.8px,#960000 89.2px,#9f0000 91.2px,#b10000 92.8px,#cf0000 94.2px,#fd0000 95.8px,#ff6500 98.2px,#ff9000 99.8px,#ff9a00 100.8px,#ff8f00 104.2px,#ff9a00 106.2px,#ffba00 108.2px,#fffa00 110.8px,#f7ff08 111.2px,#df2 112.8px,#dbff24 113.8px,#e8ff17 116.2px,#c9ff36 120.2px,#d1ff2e 121.8px,#f3ff0c 125.2px,#fffe00 127.8px,#ff0 134.2px,#e3ff1c 151.8px,#dfff20 165.8px)"></i>
<i style="background:linear-gradient(90deg,#dfff20 0.2px,#c0ff3f 40.8px,#c4ff3b 42.8px,#d1ff2e 44.8px,#fdff02 48.2px,#ff8600 55.2px,#ff6700 57.8px,#ff6200 58.8px,#f60 59.8px,#ff7500 60.8px,#ff9b00 62.2px,#ff9f00 62.8px,#ff9800 63.2px,#ff8500 63.8px,#f20 65.8px,#ff0400 66.8px,#f90000 67.2px,#ed0000 68.2px,#eb0000 69.2px,#fd0000 70.8px,#f20 71.8px,#ff3d00 72.2px,#ffa100 73.8px,#ffb100 74.2px,#ffaf00 74.8px,#ff7600 76.2px,#ff6a00 76.8px,#f60 77.2px,#ff7500 78.2px,#ff9d00 79.8px,#ff9c00 80.2px,#ff8d00 80.8px,#ff7200 81.2px,#ff0600 82.8px,#ce0000 83.8px,#ab0000 84.8px,#900000 86.2px,#870000 87.8px,#8c0000 89.8px,#a10000 91.8px,#c70000 93.8px,#f20000 95.2px,#ff0400 95.8px,#ff6200 98.2px,#ff8a00 99.8px,#ff9b00 101.2px,#ff9d00 104.2px,#ffa900 106.2px,#ffc600 108.2px,#fffc00 110.8px,#f8ff07 111.2px,#e8ff17 112.2px,#e2ff1d 113.2px,#e9ff16 115.8px,#e6ff19 116.8px,#c6ff39 119.2px,#c2ff3d 120.2px,#c8ff37 121.2px,#f3ff0c 124.8px,#fffd00 126.8px,#fff700 130.2px,#ff0 135.8px,#e6ff19 150.8px,#dfff20 165.8px)"></i>
<i style="background:linear-gradient(90deg,#e0ff1f 0.2px,#cf3 32.8px,#c2ff3d 40.8px,#cfff30 44.2px,#fbff04 47.8px,#ff8f00 54.2px,#ff6a00 57.2px,#ff6800 59.2px,#ff7400 60.2px,#f90 62.2px,#ff9400 63.2px,#ff7300 64.2px,#ff1c00 66.2px,#fc0000 67.2px,#de0000 68.8px,#d30000 70.2px,#dc0000 71.2px,#e90000 71.8px,#fe0000 72.2px,#ff1e00 72.8px,#ff6d00 73.8px,#ff7f00 74.2px,#ff7300 74.8px,#ff3200 75.8px,#ff1a00 76.2px,#ff0e00 76.8px,#ff0d00 77.2px,#ff1600 77.8px,#ff2800 78.2px,#ff7800 79.8px,#ff8200 80.2px,#ff7500 80.8px,#ff5300 81.2px,#fa0000 82.2px,#d50000 82.8px,#a30000 83.8px,#890000 84.8px,#800000 85.8px,#800000 88.8px,#920000 90.8px,#c00000 93.2px,#f80000 95.2px,#ff0900 95.8px,#ff6e00 98.8px,#ff8f00 100.2px,#ff9e00 101.8px,#ffb500 106.2px,#ffd000 108.2px,#fffd00 110.8px,#faff05 111.2px,#e9ff16 113.2px,#ef1 116.2px,#e4ff1b 117.2px,#c0ff3f 119.2px,#bf4 120.2px,#c4ff3b 121.2px,#f3ff0c 124.2px,#fffd00 125.8px,#fff200 129.8px,#feff01 137.8px,#e7ff18 151.2px,#e0ff1f 165.8px)"></i>
<i style="background:linear-gradient(90deg,#e0ff1f 0.2px,#d3ff2c 19.2px,#d1ff2e 32.8px,#c4ff3b 41.2px,#d1ff2e 44.2px,#f9ff06 47.2px,#fffc00 47.8px,#ff8f00 53.8px,#ff6b00 56.8px,#ff6800 58.8px,#ff9200 62.2px,#ff8d00 63.2px,#ff7500 64.2px,#ff0600 67.2px,#f60000 67.8px,#cb0000 69.8px,#bc0000 71.2px,#c60000 72.2px,#da0000 72.8px,#fc0000 73.2px,#ff2300 73.8px,#ff3400 74.2px,#ff1f00 74.8px,#f50000 75.2px,#d20000 75.8px,#bd0000 76.2px,#b50000 76.8px,#be0000 77.8px,#cf0000 78.2px,#ea0000 78.8px,#f10 79.2px,#ff3800 79.8px,#ff4f00 80.2px,#ff4500 80.8px,#ff1d00 81.2px,#e90000 81.8px,#bd0000 82.2px,#9d0000 82.8px,#890000 83.2px,#800000 83.8px,#800000 88.8px,#860000 89.8px,#a50000 91.8px,#c60000 93.2px,#fe0000 95.2px,#ff5e00 98.2px,#ff8c00 100.2px,#ff9f00 101.8px,#ffbf00 106.2px,#fffd00 110.8px,#fbff04 111.2px,#f0ff0f 113.2px,#f6ff09 115.8px,#f3ff0c 116.8px,#b7ff48 119.8px,#bcff43 120.8px,#ef1 123.2px,#fffe00 124.8px,#fff100 126.8px,#fe0 129.2px,#ff0 138.8px,#e8ff17 151.8px,#e0ff1f 165.8px)"></i>
<i style="background:linear-gradient(90deg,#e0ff1f 0.2px,#d6ff29 16.8px,#d5ff2a 32.8px,#c5ff3a 41.2px,#d3ff2c 44.2px,#ff0 47.2px,#ff9800 52.8px,#ff6c00 56.2px,#ff6800 58.8px,#ff8700 61.8px,#ff8600 63.2px,#f60 64.8px,#ff0500 67.8px,#f50000 68.2px,#c90000 70.2px,#b00 71.8px,#c00000 72.2px,#d00000 72.8px,#ef0000 73.2px,#ff1400 73.8px,#ff2300 74.2px,#ff0c00 74.8px,#df0000 75.2px,#b90000 75.8px,#a20000 76.2px,#950000 76.8px,#8f0000 77.8px,#940000 78.2px,#a40000 78.8px,#c00000 79.2px,#e50000 79.8px,#ff0100 80.2px,#f90000 80.8px,#a90000 81.8px,#890000 82.2px,#800000 82.8px,#800000 88.8px,#920000 90.2px,#ad0000 91.8px,#f60000 94.8px,#ff0600 95.2px,#ff6b00 98.8px,#ff9300 100.8px,#fcff03 111.2px,#f4ff0b 113.2px,#fdff02 116.8px,#ef1 117.8px,#beff41 119.2px,#b6ff49 119.8px,#b8ff47 120.2px,#e7ff18 122.2px,#fffe00 123.8px,#ffef00 125.8px,#ffea00 128.8px,#ff0 139.8px,#e8ff17 152.2px,#e1ff1e 165.8px)"></i>
<i style="background:linear-gradient(90deg,#e0ff1f 0.2px,#d7ff28 16.2px,#daff25 33.2px,#c7ff38 41.8px,#d5ff2a 44.2px,#fbff04 46.8px,#f90 52.2px,#ff6d00 55.8px,#f60 58.2px,#ff8200 62.2px,#ff7900 63.8px,#ff6700 64.8px,#ff1500 67.8px,#fc0000 68.8px,#e90000 69.8px,#de0000 70.8px,#e30000 71.8px,#f00000 72.2px,#ff0b00 72.8px,#ff5300 73.8px,#ff6100 74.2px,#ff4f00 74.8px,#fd0000 75.8px,#dc0000 76.2px,#c40000 76.8px,#ad0000 77.8px,#ac0000 78.2px,#b60000 78.8px,#ce0000 79.2px,#f00000 79.8px,#ff0a00 80.2px,#ff0500 80.8px,#e00000 81.2px,#b50000 81.8px,#950000 82.2px,#830000 82.8px,#800000 87.8px,#8d0000 89.2px,#ad0000 91.2px,#fe0000 94.8px,#ff6000 98.2px,#ff9300 100.8px,#ffad00 102.8px,#feff01 110.8px,#f4ff0b 112.8px,#fff900 116.8px,#fdff02 117.8px,#c9ff36 119.2px,#c1ff3e 119.8px,#c7ff38 120.2px,#f1ff0e 121.8px,#fffb00 122.8px,#ffeb00 124.8px,#ffe500 127.8px,#ff0 140.2px,#e9ff16 152.8px,#e1ff1e 165.8px)"></i>
<i style="background:linear-gradient(90deg,#e0ff1f 0.2px,#d8ff27 16.8px,#dfff20 33.2px,#c9ff36 41.8px,#d7ff28 44.2px,#fffe00 46.8px,#ffa300 51.2px,#ff7800 54.2px,#ff6800 56.2px,#ff6400 57.8px,#ff7900 61.8px,#ff7800 63.2px,#ff6700 64.8px,#ff1400 68.8px,#ff0500 70.2px,#ff0c00 71.2px,#ff1800 71.8px,#ff2b00 72.2px,#ff8300 73.8px,#ff9000 74.2px,#ff8900 74.8px,#ff1b00 76.8px,#ff0c00 77.2px,#ff0500 77.8px,#ff0800 78.2px,#ff1800 78.8px,#ff5300 79.8px,#ff6700 80.2px,#ff5e00 80.8px,#ff3900 81.2px,#ff0a00 81.8px,#de0000 82.2px,#bf0000 82.8px,#9c0000 83.8px,#890000 85.2px,#890000 86.8px,#920000 88.2px,#a00 90.2px,#cd0000 92.2px,#fb0000 94.2px,#ff6e00 98.8px,#ff9500 100.8px,#ffb600 103.2px,#ff0 110.2px,#f1ff0e 113.2px,#fffe00 117.2px,#fdff02 117.8px,#dbff24 119.2px,#df2 119.8px,#fffb00 121.2px,#ffe700 123.2px,#ffe100 126.2px,#ff0 141.2px,#e9ff16 153.2px,#e1ff1e 165.8px)"></i>
<i style="background:linear-gradient(90deg,#e0ff1f 0.2px,#d9ff26 16.8px,#e4ff1b 33.8px,#e0ff1f 36.8px,#caff35 42.2px,#d8ff27 44.2px,#fbff04 46.2px,#ffa400 50.8px,#ff7400 54.2px,#f60 56.2px,#ff6300 57.8px,#ff7400 61.8px,#ff7300 63.2px,#ff6700 64.8px,#ff3200 68.2px,#ff2600 69.8px,#ff2c00 70.8px,#f40 71.8px,#ff9c00 73.8px,#ffa800 74.2px,#ffa900 74.8px,#ff9f00 75.2px,#ff6c00 76.8px,#ff6000 77.8px,#f60 78.2px,#ff9b00 79.8px,#ffa300 80.2px,#ff9700 80.8px,#ff7900 81.2px,#ff0400 82.8px,#e70000 83.2px,#d20000 83.8px,#b60000 84.8px,#a90000 85.8px,#a40000 87.2px,#ab0000 88.8px,#b00 90.2px,#fb0000 93.8px,#ff7200 98.8px,#ff9800 100.8px,#ffc600 104.2px,#fdff02 109.8px,#ebff14 112.8px,#e6ff19 116.8px,#cdff32 118.8px,#d1ff2e 119.2px,#faff05 120.2px,#fff300 120.8px,#ffe200 122.2px,#ffde00 125.2px,#ff0 141.8px,#e9ff16 153.8px,#e1ff1e 165.8px)"></i>
<i style="background:linear-gradient(90deg,#e0ff1f 0.2px,#dbff24 17.2px,#eaff15 34.8px,#e3ff1c 37.8px,#cf3 42.2px,#d8ff27 44.2px,#fffe00 46.2px,#ffa600 50.2px,#ff8700 52.2px,#ff7100 54.2px,#ff6200 57.8px,#ff7000 63.2px,#ff6800 64.8px,#ff4500 68.2px,#ff4100 69.2px,#ff4600 70.2px,#ff5800 71.2px,#ffad00 73.8px,#ffb800 74.2px,#ffbc00 75.2px,#ffa700 76.8px,#ffa300 77.8px,#ffc200 79.8px,#ffc000 80.2px,#ffb400 80.8px,#ff9d00 81.2px,#ff3c00 82.8px,#ff0700 83.8px,#f30000 84.2px,#d70000 85.2px,#c80000 86.2px,#c00000 88.2px,#d50000 90.8px,#fe0000 93.2px,#ff6d00 98.2px,#ff9c00 100.8px,#ffc600 103.8px,#fffe00 108.8px,#e7ff18 111.8px,#d1ff2e 115.8px,#acff53 118.2px,#acff53 118.8px,#b8ff47 119.2px,#ff0 120.8px,#fff200 121.2px,#ffe400 122.2px,#ffde00 124.8px,#ff0 142.2px,#e9ff16 153.8px,#e1ff1e 165.8px)"></i>
<i style="background:linear-gradient(90deg,#e0ff1f 0.2px,#dcff23 17.8px,#f0ff0f 35.2px,#e9ff16 38.2px,#cdff32 42.8px,#d8ff27 44.2px,#f8ff07 45.8px,#fff900 46.2px,#ffc600 48.2px,#ff9e00 50.2px,#ff8200 52.2px,#ff6e00 54.2px,#ff6200 57.8px,#ff6e00 63.2px,#ff5600 68.8px,#ff5a00 69.8px,#ff6700 70.8px,#ff7f00 71.8px,#ffba00 73.8px,#fc0 74.8px,#ffcd00 77.2px,#ffd900 79.8px,#ffd300 80.2px,#ffb500 81.2px,#ff4d00 83.2px,#ff2000 84.2px,#ff0100 85.2px,#f40000 85.8px,#e00000 87.2px,#dc0000 88.8px,#e40000 90.2px,#fd0000 92.2px,#ff1800 93.8px,#ff7d00 98.8px,#ffa900 101.2px,#ffd900 104.8px,#fdff02 108.2px,#c5ff3a 114.8px,#9f6 118.2px,#9eff61 118.8px,#abff54 119.2px,#eaff15 120.8px,#faff05 121.2px,#fff800 121.8px,#ffe700 123.2px,#ffe100 126.2px,#ff0 142.2px,#e9ff16 154.2px,#e0ff1f 165.8px)"></i>
<i style="background:linear-gradient(90deg,#dfff20 0.2px,#deff21 18.2px,#f7ff08 36.2px,#f0ff0f 38.8px,#d2ff2d 42.2px,#cfff30 43.2px,#d9ff26 44.2px,#fdff02 45.8px,#ffbd00 48.2px,#ff9000 50.8px,#ff7100 53.8px,#ff6300 57.2px,#ff6d00 62.8px,#ff6400 67.8px,#ff6900 69.2px,#ff8600 71.2px,#ffc500 73.8px,#ffd700 74.8px,#ffe300 76.2px,#ffeb00 79.2px,#ffe200 80.2px,#ffc700 81.2px,#ff5b00 83.8px,#ff2700 85.2px,#ff0700 86.8px,#fb0000 87.8px,#f70000 89.2px,#fe0000 90.8px,#ff1000 92.2px,#ff2f00 94.2px,#ffa700 100.8px,#fffe00 107.2px,#91ff6e 117.8px,#9aff65 118.8px,#eaff15 121.2px,#fffe00 122.2px,#ffeb00 124.2px,#ffe600 127.2px,#feff01 142.8px,#e8ff17 154.8px,#e0ff1f 165.8px)"></i>
<i style="background:linear-gradient(90deg,#dfff20 0.2px,#dfff20 18.8px,#ff0 37.2px,#f6ff09 39.8px,#d1ff2e 43.2px,#d9ff26 44.2px,#f3ff0c 45.2px,#fffa00 45.8px,#ffcb00 47.2px,#ffb300 48.2px,#ff8b00 50.8px,#ff6e00 54.2px,#ff6500 57.8px,#ff7400 68.8px,#ff8c00 70.8px,#ffce00 73.8px,#ffe700 75.2px,#fff400 76.8px,#fffa00 78.8px,#ffed00 80.2px,#ffd600 81.2px,#ff5700 84.8px,#ff3000 86.2px,#ff1900 87.8px,#f10 89.2px,#ff1900 91.2px,#ff2f00 93.2px,#ffb600 101.2px,#feff01 106.8px,#9f6 115.8px,#8dff72 117.2px,#9f6 118.8px,#e9ff16 121.8px,#fffd00 123.2px,#ffef00 125.2px,#ffea00 128.2px,#ff0 142.8px,#e7ff18 154.8px,#e1ff1e 165.8px)"></i>
<i style="background:linear-gradient(90deg,#df2 0.2px,#dfff20 17.8px,#eaff15 25.8px,#ff0 33.8px,#fff700 37.8px,#fffd00 40.2px,#f8ff07 41.2px,#d9ff26 43.2px,#d6ff29 43.8px,#daff25 44.2px,#f9ff06 45.2px,#fff100 45.8px,#ffbe00 47.2px,#ffa900 48.2px,#ff9300 49.8px,#ff7300 53.8px,#ff6800 57.8px,#ff7d00 68.2px,#f90 70.8px,#ffde00 74.2px,#fff400 75.8px,#fffe00 76.8px,#fdff02 79.2px,#fff600 80.2px,#ffe200 81.2px,#ff7400 84.8px,#ff4e00 86.2px,#ff3500 87.8px,#ff2900 89.8px,#ff3100 91.8px,#ff4600 93.8px,#ffc500 101.8px,#fcff03 106.2px,#9f6 114.8px,#8aff75 116.8px,#8dff72 117.8px,#9f6 118.8px,#e8ff17 122.2px,#fffe00 124.2px,#fff200 126.8px,#ffef00 129.8px,#ff0 142.2px,#e7ff18 154.8px,#e0ff1f 165.2px)"></i>
<i style="background:linear-gradient(90deg,#deff21 0.8px,#e0ff1f 18.8px,#fffe00 33.2px,#ffec00 39.8px,#fff200 41.2px,#fffe00 42.2px,#e3ff1c 43.8px,#e3ff1c 44.2px,#ef1 44.8px,#fffa00 45.2px,#ffce00 46.2px,#ffbe00 46.8px,#ff9b00 48.8px,#ff7900 53.2px,#ff6c00 58.2px,#f70 64.8px,#ff8300 67.8px,#ff9d00 70.2px,#fffa00 75.8px,#f3ff0c 78.2px,#fffe00 80.2px,#ffe200 81.8px,#ff8000 85.2px,#ff5f00 86.8px,#ff4a00 88.2px,#ff4000 90.2px,#ff4800 92.2px,#ff5c00 94.2px,#ffdc00 102.8px,#fffe00 105.2px,#faff05 105.8px,#9bff64 113.8px,#8eff71 115.2px,#8f7 116.8px,#9aff65 118.8px,#e7ff18 122.8px,#ff0 125.2px,#fff500 128.2px,#fff300 132.2px,#ff0 142.2px,#e6ff19 154.8px,#e0ff1f 165.2px)"></i>
<i style="background:linear-gradient(90deg,#df2 1.2px,#e1ff1e 18.8px,#ecff13 25.8px,#feff01 32.2px,#ffdf00 41.2px,#ffe300 42.2px,#fcff03 44.2px,#fffc00 44.8px,#ffc100 46.2px,#ffb400 46.8px,#ffa100 48.2px,#ff7e00 53.8px,#ff7200 58.8px,#ff7a00 63.8px,#f80 67.2px,#ffa600 70.2px,#fffe00 75.8px,#ef1 78.2px,#f4ff0b 79.8px,#ff0 80.8px,#ffe200 82.2px,#ff9600 85.2px,#f70 86.8px,#ff5d00 88.8px,#f50 90.8px,#ff5e00 92.8px,#ff7200 94.8px,#feff01 104.8px,#9eff61 112.8px,#8cff73 114.8px,#87ff78 116.2px,#94ff6b 118.2px,#e5ff1a 123.2px,#ff0 126.8px,#fff500 134.2px,#ff0 141.8px,#e5ff1a 154.8px,#e0ff1f 164.8px)"></i>
<i style="background:linear-gradient(90deg,#dcff23 1.2px,#e0ff1f 18.2px,#ecff13 25.8px,#ff0 32.2px,#ffd200 42.2px,#ffd700 43.2px,#fff300 44.8px,#fe0 45.2px,#ffcf00 46.2px,#ffb900 47.2px,#ffa400 49.2px,#ff8500 54.2px,#ff7a00 59.2px,#ff8200 64.2px,#ff9300 67.8px,#ffae00 70.2px,#fff400 74.8px,#fcff03 75.8px,#efff10 77.2px,#ebff14 78.8px,#efff10 79.8px,#ff0 81.2px,#ff8500 87.2px,#ff7200 88.8px,#ff6900 90.8px,#ff6f00 92.8px,#ff8000 94.8px,#fcff03 104.2px,#a1ff5e 111.8px,#8cff73 114.2px,#87ff78 115.8px,#96ff69 118.2px,#d2ff2d 122.2px,#e8ff17 124.2px,#ff0 128.8px,#fff700 135.2px,#ff0 141.2px,#e4ff1b 154.2px,#dfff20 164.2px)"></i>
<i style="background:linear-gradient(90deg,#dcff23 2.2px,#e0ff1f 18.2px,#ecff13 25.8px,#ff0 32.2px,#ffd500 42.2px,#ffdc00 43.2px,#fff700 44.2px,#f7ff08 44.8px,#f0ff0f 45.2px,#f5ff0a 45.8px,#fffb00 46.2px,#fd0 47.2px,#ffc700 48.2px,#ffa900 50.8px,#ff8c00 55.2px,#ff8200 60.2px,#ff8900 64.2px,#ff9b00 67.8px,#ffb500 70.2px,#fffe00 75.2px,#ecff13 77.2px,#e7ff18 78.8px,#ef1 80.2px,#ff0 81.8px,#ff9200 87.8px,#ff8200 89.2px,#ff7b00 91.2px,#ff8200 93.2px,#ff9400 95.2px,#fffd00 103.2px,#a0ff5f 111.2px,#8fff70 113.2px,#87ff78 115.2px,#92ff6d 117.8px,#ceff31 122.2px,#e6ff19 124.8px,#ff0 130.8px,#fff900 135.8px,#ff0 140.8px,#e3ff1c 154.2px,#dfff20 163.8px)"></i>
<i style="background:linear-gradient(90deg,#dbff24 2.8px,#dfff20 18.2px,#ff0 32.8px,#ffe000 41.2px,#ffe600 42.8px,#fff800 43.8px,#f7ff08 44.2px,#dcff23 45.2px,#daff25 45.8px,#e0ff1f 46.2px,#faff05 47.2px,#fc0 49.8px,#ffab00 52.8px,#ff9300 56.8px,#ff8b00 60.8px,#ff9200 64.8px,#ffa300 67.8px,#fb0 70.2px,#feff01 75.2px,#eaff15 77.2px,#e5ff1a 78.8px,#e9ff16 80.2px,#feff01 82.2px,#ffba00 86.2px,#ff9e00 88.2px,#ff8f00 90.2px,#ff8e00 92.2px,#ffa600 95.8px,#feff01 102.8px,#a4ff5b 110.2px,#8fff70 112.8px,#87ff78 114.8px,#95ff6a 117.8px,#caff35 122.2px,#e1ff1e 124.8px,#feff01 131.8px,#fffa00 135.8px,#ff0 139.8px,#e1ff1e 153.8px,#deff21 163.2px)"></i>
<i style="background:linear-gradient(90deg,#daff25 3.2px,#deff21 18.2px,#ff0 33.2px,#ffea00 40.8px,#ffef00 42.2px,#fffb00 43.2px,#f9ff06 43.8px,#d7ff28 45.2px,#d1ff2e 46.2px,#dfff20 47.2px,#f6ff09 48.2px,#fffc00 48.8px,#ffd000 51.2px,#ffb100 54.2px,#ff9c00 57.8px,#ff9500 61.8px,#ff9c00 65.2px,#ffae00 68.2px,#fcff03 75.2px,#e9ff16 77.2px,#e2ff1d 79.2px,#e8ff17 80.8px,#fdff02 82.8px,#ffaf00 88.2px,#ffa000 90.2px,#ff9d00 91.8px,#ffa400 93.8px,#ffb400 95.8px,#fffc00 101.8px,#a3ff5c 109.8px,#8fff70 112.2px,#8f7 114.2px,#93ff6c 117.2px,#cf3 122.8px,#dfff20 125.2px,#ff0 132.8px,#ff0 138.2px,#e1ff1e 152.8px,#dcff23 162.2px)"></i>
<i style="background:linear-gradient(90deg,#d9ff26 3.8px,#daff25 15.8px,#e8ff17 24.8px,#feff01 34.2px,#fff300 39.8px,#fffb00 42.2px,#f8ff07 43.2px,#d6ff29 45.2px,#cf3 46.2px,#d7ff28 47.8px,#fdff02 49.8px,#ffd300 52.8px,#ffba00 55.2px,#ffa600 58.8px,#ffa000 62.2px,#ffa500 65.2px,#ffb500 68.2px,#ffcd00 70.8px,#fffe00 74.8px,#e7ff18 77.2px,#e0ff1f 79.2px,#e7ff18 81.2px,#fbff04 83.2px,#ffbe00 88.2px,#ffaf00 90.2px,#ffac00 91.8px,#ffbc00 95.2px,#feff01 101.2px,#a2ff5d 109.2px,#90ff6f 111.8px,#89ff76 114.2px,#95ff6a 117.2px,#d7ff28 124.8px,#ff0 133.8px,#feff01 137.8px,#deff21 153.2px,#dbff24 161.8px)"></i>
<i style="background:linear-gradient(90deg,#d8ff27 4.8px,#daff25 16.8px,#ff0 36.2px,#fffe00 41.2px,#f6ff09 42.8px,#cfff30 45.8px,#c9ff36 46.8px,#d1ff2e 48.2px,#f8ff07 50.8px,#fffd00 51.2px,#ffdb00 53.8px,#ffc000 56.8px,#ffb000 59.8px,#fa0 62.8px,#ffaf00 65.8px,#ffbc00 68.2px,#feff01 74.8px,#e6ff19 77.2px,#df2 79.8px,#e5ff1a 81.8px,#fffe00 84.2px,#ffc800 88.8px,#ffba00 91.8px,#ffc900 95.2px,#fffe00 100.2px,#a2ff5d 108.8px,#90ff6f 111.2px,#8aff75 113.8px,#94ff6b 116.8px,#d0ff2f 124.2px,#fdff02 133.2px,#fbff04 137.2px,#dcff23 152.8px,#d9ff26 160.8px)"></i>
<i style="background:linear-gradient(90deg,#d7ff28 5.2px,#d8ff27 16.8px,#fcff03 39.2px,#f2ff0d 42.2px,#ceff31 45.8px,#c6ff39 47.2px,#d2ff2d 49.2px,#fcff03 52.2px,#ffc900 57.8px,#fb0 60.2px,#ffb500 63.2px,#ffb800 65.8px,#ffc300 68.2px,#fcff03 74.8px,#e5ff1a 77.2px,#dbff24 79.8px,#e4ff1b 82.2px,#fdff02 84.8px,#ffd500 88.8px,#ffc800 91.8px,#ffd200 94.8px,#fffd00 99.2px,#a5ff5a 107.8px,#91ff6e 110.8px,#8bff74 113.2px,#94ff6b 116.2px,#c7ff38 123.2px,#faff05 132.8px,#f9ff06 136.2px,#d9ff26 152.2px,#d8ff27 160.2px)"></i>
<i style="background:linear-gradient(90deg,#d5ff2a 6.2px,#d5ff2a 16.2px,#f5ff0a 38.8px,#ebff14 42.2px,#caff35 46.2px,#c4ff3b 47.8px,#cdff32 49.8px,#feff01 53.8px,#ffce00 59.2px,#ffc000 64.2px,#ffce00 68.8px,#ff0 74.2px,#e0ff1f 77.8px,#d9ff26 80.2px,#e2ff1d 82.8px,#ff0 85.8px,#fd0 89.2px,#ffd400 91.8px,#ffde00 94.8px,#fffd00 98.2px,#a5ff5a 107.2px,#92ff6d 110.2px,#8cff73 112.8px,#96ff69 116.2px,#c0ff3f 122.2px,#f8ff07 132.2px,#d7ff28 151.2px,#d7ff28 159.2px)"></i>
<i style="background:linear-gradient(90deg,#d3ff2c 7.2px,#d2ff2d 15.8px,#eaff15 30.8px,#efff10 38.2px,#e8ff17 41.8px,#c6ff39 46.8px,#c1ff3e 48.2px,#cdff32 50.8px,#feff01 55.2px,#ffd700 60.2px,#ffca00 64.8px,#ffd500 68.8px,#fffc00 73.8px,#dfff20 77.8px,#d6ff29 80.2px,#df2 82.8px,#fffd00 86.8px,#ffe800 89.2px,#ffe000 91.8px,#ffe700 94.2px,#fffe00 97.2px,#a4ff5b 106.8px,#92ff6d 109.8px,#8dff72 112.2px,#9f6 116.2px,#c0ff3f 122.2px,#d3ff2c 126.8px,#ef1 129.8px,#f3ff0c 131.2px,#d4ff2b 151.2px,#d5ff2a 158.2px)"></i>
<i style="background:linear-gradient(90deg,#d1ff2e 8.2px,#cfff30 16.2px,#e6ff19 30.2px,#e9ff16 37.8px,#e2ff1d 41.8px,#c3ff3c 47.2px,#bfff40 49.2px,#cf3 51.8px,#feff01 56.8px,#ffdf00 61.2px,#ffd500 65.2px,#ffde00 69.2px,#ff0 73.8px,#deff21 77.8px,#d4ff2b 80.8px,#dbff24 83.2px,#fffd00 87.8px,#fff000 89.8px,#ffec00 91.8px,#fffd00 95.8px,#a3ff5c 106.2px,#93ff6c 109.2px,#8eff71 111.8px,#97ff68 115.2px,#c0ff3f 122.2px,#cfff30 126.2px,#e7ff18 128.8px,#ef1 130.2px,#d1ff2e 150.8px,#d3ff2c 157.2px)"></i>
<i style="background:linear-gradient(90deg,#cfff30 9.2px,#cf3 16.8px,#e3ff1c 30.2px,#e5ff1a 36.2px,#deff21 41.2px,#c0ff3f 47.8px,#bdff42 49.8px,#c8ff37 52.2px,#fffd00 58.8px,#ffe600 62.8px,#ffdf00 66.2px,#ffe800 69.8px,#fffe00 73.2px,#daff25 78.2px,#d1ff2e 81.2px,#d9ff26 83.8px,#ff0 88.8px,#fff600 91.2px,#ff0 94.2px,#a5ff5a 105.2px,#95ff6a 108.2px,#8fff70 111.2px,#9f6 115.2px,#c5ff3a 122.8px,#d3ff2c 126.8px,#e5ff1a 129.2px,#e4ff1b 135.2px,#cdff32 151.2px,#d1ff2e 156.2px)"></i>
<i style="background:linear-gradient(90deg,#cdff32 10.2px,#caff35 17.8px,#e0ff1f 30.2px,#e1ff1e 34.8px,#d8ff27 41.2px,#beff41 47.8px,#bf4 50.2px,#c7ff38 53.2px,#fffd00 60.8px,#fe0 63.8px,#ffe900 66.8px,#ffef00 69.8px,#fffe00 72.8px,#d9ff26 78.2px,#cfff30 81.2px,#d4ff2b 83.8px,#f9ff06 89.2px,#fdff02 91.8px,#ef1 95.2px,#a0ff5f 105.2px,#93ff6c 108.2px,#90ff6f 110.8px,#9cff63 115.2px,#d2ff2d 124.8px,#dcff23 130.2px,#df2 135.8px,#c9ff36 150.8px,#ceff31 155.2px)"></i>
<i style="background:linear-gradient(90deg,#cbff34 11.8px,#c6ff39 18.8px,#dcff23 30.2px,#deff21 34.2px,#d4ff2b 40.8px,#bf4 48.2px,#b8ff47 50.8px,#c5ff3a 54.2px,#fdff02 62.2px,#fff300 67.2px,#fffe00 71.8px,#d5ff2a 78.8px,#cdff32 81.8px,#d2ff2d 84.2px,#f0ff0f 89.2px,#f1ff0e 92.2px,#e2ff1d 95.2px,#9fff60 104.8px,#90ff6f 110.2px,#9eff61 115.2px,#d3ff2c 124.2px,#cbff34 127.2px,#d5ff2a 130.8px,#d7ff28 134.2px,#c7ff38 148.8px,#c8ff37 153.8px)"></i>
<i style="background:linear-gradient(90deg,#c8ff37 12.8px,#c2ff3d 15.8px,#c3ff3c 20.2px,#dbff24 34.2px,#b6ff49 51.2px,#c1ff3e 54.8px,#fbff04 64.2px,#ff0 70.2px,#d1ff2e 79.2px,#caff35 81.8px,#ceff31 84.2px,#e8ff17 89.2px,#e8ff17 91.8px,#daff25 94.8px,#9fff60 103.8px,#90ff6f 109.2px,#9bff64 114.2px,#cfff30 123.8px,#c6ff39 126.8px,#d2ff2d 133.2px,#c3ff3c 148.2px,#c4ff3b 152.2px,#c9ff36 152.8px)"></i>
<i style="background:linear-gradient(90deg,#c5ff3a 14.2px,#beff41 16.8px,#bfff40 21.8px,#d7ff28 34.2px,#b5ff4a 49.2px,#b4ff4b 52.2px,#bfff40 55.8px,#f0ff0f 64.2px,#f9ff06 69.2px,#f0ff0f 72.8px,#c8ff37 81.8px,#caff35 84.2px,#dfff20 88.8px,#deff21 91.2px,#9dff62 103.2px,#90ff6f 108.8px,#9bff64 113.8px,#c8ff37 122.8px,#c3ff3c 126.2px,#cf3 134.2px,#bfff40 147.8px,#c1ff3e 150.8px,#c6ff39 151.2px)"></i>
<i style="background:linear-gradient(90deg,#c2ff3d 15.8px,#baff45 18.2px,#bf4 23.2px,#d4ff2b 35.2px,#b5ff4a 48.2px,#b1ff4e 52.8px,#bf4 56.2px,#e9ff16 65.2px,#f0ff0f 69.8px,#e9ff16 73.2px,#c4ff3b 82.2px,#c6ff39 84.2px,#d6ff29 88.2px,#d6ff29 90.2px,#9aff65 102.8px,#90ff6f 108.2px,#98ff67 112.8px,#c3ff3c 122.2px,#c7ff38 133.2px,#bf4 146.2px,#bdff42 149.2px,#c3ff3c 149.8px)"></i>
<i style="background:linear-gradient(90deg,#beff41 17.2px,#b9ff46 17.8px,#b6ff49 19.8px,#b7ff48 25.2px,#cfff30 36.2px,#bf4 42.8px,#afff50 53.2px,#b9ff46 57.2px,#e0ff1f 65.8px,#e7ff18 70.2px,#e0ff1f 73.8px,#c1ff3e 82.2px,#ceff31 87.2px,#cdff32 89.2px,#9f6 101.8px,#8fff70 107.8px,#96ff69 112.2px,#beff41 121.8px,#c2ff3d 131.8px,#b6ff49 144.8px,#b9ff46 147.8px,#bfff40 148.2px)"></i>
<i style="background:linear-gradient(90deg,#b5ff4a 19.2px,#b3ff4c 28.2px,#caff35 37.2px,#b5ff4a 42.8px,#acff53 53.8px,#b5ff4a 57.8px,#d8ff27 66.2px,#deff21 70.8px,#d8ff27 74.2px,#bf4 82.2px,#c6ff39 87.8px,#98ff67 100.8px,#8eff71 107.2px,#95ff6a 112.2px,#b4ff4b 119.2px,#bf4 122.2px,#beff41 130.2px,#b2ff4d 142.8px,#b5ff4a 146.2px,#bcff43 146.8px)"></i>
<i style="background:linear-gradient(90deg,#b0ff4f 20.8px,#adff52 30.2px,#c2ff3d 38.8px,#b0ff4f 42.8px,#af5 54.2px,#b1ff4e 58.2px,#d0ff2f 66.8px,#d6ff29 70.8px,#cfff30 74.8px,#b3ff4c 82.2px,#b2ff4d 84.2px,#beff41 86.8px,#abff54 90.2px,#8dff72 105.8px,#92ff6d 111.8px,#b2ff4d 119.2px,#baff45 123.2px,#baff45 128.8px,#adff52 140.2px,#b1ff4e 144.8px)"></i>
<i style="background:linear-gradient(90deg,#abff54 22.8px,#a7ff58 32.2px,#b6ff49 39.8px,#abff54 43.8px,#a8ff57 55.2px,#cdff32 70.8px,#c6ff39 75.2px,#a4ff5b 83.2px,#a4ff5b 84.8px,#b1ff4e 86.8px,#9fff60 89.8px,#8bff74 105.8px,#91ff6e 112.2px,#b1ff4e 119.2px,#b9ff46 122.2px,#a9ff56 137.8px,#acff53 142.8px)"></i>
<i style="background:linear-gradient(90deg,#a6ff59 24.8px,#a1ff5e 35.2px,#b0ff4f 42.8px,#a7ff58 56.2px,#c5ff3a 70.8px,#beff41 75.2px,#96ff69 83.8px,#98ff67 84.8px,#afff50 86.8px,#afff50 87.2px,#9dff62 89.2px,#98ff67 90.8px,#89ff76 106.8px,#8eff71 112.2px,#afff50 118.2px,#b7ff48 121.2px,#a5ff5a 134.8px,#a7ff58 140.8px)"></i>
<i style="background:linear-gradient(90deg,#a1ff5e 27.2px,#9dff62 38.8px,#b4ff4b 44.2px,#a8ff57 50.8px,#a6ff59 57.2px,#bdff42 70.8px,#b6ff49 75.2px,#8eff71 83.2px,#96ff69 84.8px,#aeff51 86.2px,#b4ff4b 87.2px,#9dff62 89.8px,#94ff6b 91.8px,#86ff79 108.8px,#8bff74 112.2px,#adff52 117.2px,#b5ff4a 119.8px,#a0ff5f 132.2px,#a2ff5d 138.8px)"></i>
<i style="background:linear-gradient(90deg,#9cff63 29.2px,#9f6 39.2px,#b3ff4c 45.8px,#a5ff5a 57.2px,#b6ff49 71.2px,#adff52 75.8px,#8aff75 82.8px,#92ff6d 84.2px,#afff50 86.2px,#b4ff4b 87.2px,#93ff6c 91.8px,#8fff70 100.8px,#82ff7d 109.8px,#87ff78 111.8px,#af5 115.8px,#b2ff4d 117.8px,#9bff64 129.2px,#9dff62 136.2px)"></i>
<i style="background:linear-gradient(90deg,#97ff68 31.8px,#95ff6a 40.2px,#b0ff4f 48.2px,#a5ff5a 58.8px,#afff50 71.2px,#a7ff58 75.8px,#86ff79 82.2px,#8dff72 83.8px,#adff52 86.2px,#b2ff4d 87.2px,#91ff6e 91.8px,#92ff6d 101.2px,#7eff81 109.2px,#82ff7d 110.8px,#a7ff58 114.2px,#adff52 115.8px,#97ff68 125.8px,#98ff67 133.8px)"></i>
<i style="background:linear-gradient(90deg,#92ff6d 34.8px,#92ff6d 41.8px,#acff53 50.8px,#a4ff5b 60.8px,#af5 71.2px,#a2ff5d 75.8px,#85ff7a 82.2px,#8bff74 83.8px,#adff52 86.8px,#91ff6e 90.8px,#98ff67 100.8px,#8fff70 105.2px,#7eff81 109.2px,#82ff7d 110.2px,#9cff63 112.2px,#a4ff5b 113.8px,#91ff6e 122.8px,#92ff6d 130.8px)"></i>
<i style="background:linear-gradient(90deg,#8eff71 37.8px,#8fff70 43.8px,#a8ff57 54.2px,#a3ff5c 73.2px,#85ff7a 82.2px,#8cff73 84.2px,#a6ff59 86.8px,#91ff6e 90.2px,#a0ff5f 97.2px,#9dff62 104.2px,#97ff68 106.8px,#81ff7e 109.8px,#91ff6e 111.8px,#93ff6c 112.8px,#89ff76 120.2px,#8dff72 127.8px)"></i>
<i style="background:linear-gradient(90deg,#8aff75 41.2px,#8cff73 46.2px,#a0ff5f 54.2px,#a3ff5c 58.2px,#9fff60 73.8px,#87ff78 83.2px,#8cff73 84.8px,#a0ff5f 86.8px,#96ff69 89.2px,#a6ff59 95.2px,#abff54 100.8px,#a3ff5c 105.2px,#7aff85 109.8px,#8f7 124.8px)"></i>
<i style="background:linear-gradient(90deg,#87ff78 44.8px,#9eff61 62.2px,#9cff63 73.8px,#8dff72 83.2px,#a2ff5d 87.2px,#aeff51 97.8px,#a3ff5c 102.8px,#76ff89 108.8px,#83ff7c 120.8px)"></i>
<i style="background:linear-gradient(90deg,#85ff7a 49.2px,#9f6 65.8px,#91ff6e 82.8px,#a3ff5c 87.8px,#af5 94.2px,#a0ff5f 99.2px,#7f8 106.8px,#7eff81 116.2px)"></i>
<i style="background:linear-gradient(90deg,#84ff7b 54.2px,#93ff6c 69.8px,#91ff6e 82.2px,#9fff60 91.2px,#9f6 95.2px,#79ff86 104.2px,#7aff85 111.2px)"></i>
<i style="background:linear-gradient(90deg,#86ff79 61.2px,#92ff6d 89.2px,#79ff86 104.8px)"></i>
<i style="background:linear-gradient(90deg,#8aff75 71.8px,#8cff73 86.2px,#86ff79 93.8px)"></i>
</div>
<div class="m" style="left:195px;top:142px;width:166px;height:83px;clip-path:ellipse(82.50px 41.25px at 82.70px 41.30px)">
<i style="background:linear-gradient(90deg,#8eff71 66.2px,#75ff8a 83.2px,#82ff7d 99.2px)"></i>
<i style="background:linear-gradient(90deg,#96ff69 58.2px,#91ff6e 66.8px,#70ff8f 83.2px,#75ff8a 91.8px,#8bff74 107.2px)"></i>
<i style="background:linear-gradient(90deg,#9bff64 52.2px,#96ff69 65.8px,#72ff8d 76.8px,#6aff95 82.8px,#76ff89 95.8px,#92ff6d 113.2px)"></i>
<i style="background:linear-gradient(90deg,#9fff60 47.2px,#9fff60 63.8px,#94ff6b 67.2px,#6fff90 75.2px,#64ff9b 81.8px,#7bff84 102.2px,#9f6 118.2px)"></i>
<i style="background:linear-gradient(90deg,#a3ff5c 43.2px,#a7ff58 62.2px,#9bff64 65.8px,#6cff93 73.8px,#5fffa0 80.8px,#7eff81 106.2px,#9eff61 122.2px)"></i>
<i style="background:linear-gradient(90deg,#a6ff59 39.8px,#b2ff4d 56.8px,#afff50 61.2px,#a3ff5c 64.2px,#6bff94 71.8px,#60ff9f 75.2px,#5bffa4 79.8px,#80ff7f 109.2px,#97ff68 118.2px,#a2ff5d 125.8px)"></i>
<i style="background:linear-gradient(90deg,#a9ff56 36.2px,#b8ff47 55.8px,#b6ff49 60.8px,#abff54 63.2px,#80ff7f 67.2px,#6aff95 70.2px,#5cffa3 74.2px,#57ffa8 78.8px,#5dffa2 85.2px,#7bff84 102.2px,#81ff7e 111.2px,#9f6 119.8px,#a6ff59 129.2px)"></i>
<i style="background:linear-gradient(90deg,#acff53 33.2px,#bdff42 55.2px,#bf4 60.8px,#afff50 62.8px,#83ff7c 65.8px,#6dff92 68.2px,#5affa5 72.8px,#54ffab 77.8px,#5bffa4 84.8px,#81ff7e 104.8px,#84ff7b 113.8px,#9dff62 121.2px,#a8ff57 131.8px)"></i>
<i style="background:linear-gradient(90deg,#adff52 30.8px,#c0ff3f 53.8px,#beff41 60.8px,#b3ff4c 62.2px,#7dff82 65.2px,#6dff92 67.2px,#59ffa6 71.8px,#52ffad 77.2px,#5affa5 84.8px,#87ff78 106.8px,#8f7 115.8px,#a3ff5c 123.2px,#abff54 134.8px)"></i>
<i style="background:linear-gradient(90deg,#aeff51 28.2px,#c1ff3e 52.2px,#b4ff4b 61.2px,#aeff51 62.2px,#8fff70 63.8px,#81ff7e 64.8px,#6f9 68.2px,#5fa 72.2px,#51ffae 76.8px,#5affa5 84.8px,#8fff70 109.2px,#8dff72 117.2px,#a6ff59 123.2px,#aeff51 137.2px)"></i>
<i style="background:linear-gradient(90deg,#b2ff4d 26.2px,#b4ff4b 39.8px,#c0ff3f 51.2px,#b9ff46 55.2px,#a2ff5d 60.2px,#b2ff4d 62.2px,#7aff85 66.2px,#62ff9d 68.8px,#5fa 71.8px,#50ffaf 75.8px,#5affa5 84.2px,#98ff67 112.2px,#95ff6a 118.8px,#abff54 123.2px,#b2ff4d 139.2px)"></i>
<i style="background:linear-gradient(90deg,#b8ff47 23.8px,#b3ff4c 28.2px,#b3ff4c 37.8px,#c1ff3e 49.2px,#b8ff47 53.2px,#9bff64 59.2px,#beff41 62.2px,#b5ff4a 63.2px,#7cff83 66.2px,#65ff9a 68.2px,#5fa 71.2px,#51ffae 75.2px,#5bffa4 83.8px,#a2ff5d 115.2px,#9eff61 119.8px,#b0ff4f 125.2px,#b7ff48 141.8px)"></i>
<i style="background:linear-gradient(90deg,#beff41 21.8px,#b2ff4d 35.8px,#c1ff3e 47.8px,#b7ff48 51.8px,#9bff64 57.8px,#a4ff5b 59.2px,#c1ff3e 61.2px,#c5ff3a 62.2px,#b9ff46 63.2px,#79ff86 66.2px,#6f9 67.8px,#58ffa7 70.2px,#53ffac 74.8px,#5cffa3 82.8px,#a5ff5a 116.2px,#a5ff5a 118.8px,#9cff63 121.2px,#aeff51 124.8px,#b4ff4b 127.2px,#bcff43 143.2px)"></i>
<i style="background:linear-gradient(90deg,#c3ff3c 20.2px,#b1ff4e 34.2px,#c1ff3e 45.8px,#baff45 49.2px,#9dff62 56.8px,#a5ff5a 58.2px,#c6ff39 60.8px,#cbff34 61.8px,#c0ff3f 62.8px,#84ff7b 65.2px,#6f9 67.2px,#5affa5 69.8px,#5fa 74.8px,#5cffa3 81.2px,#a4ff5b 115.8px,#a4ff5b 118.8px,#98ff67 122.2px,#b6ff49 128.8px,#c1ff3e 145.2px)"></i>
<i style="background:linear-gradient(90deg,#c6ff39 18.2px,#c3ff3c 23.8px,#b0ff4f 33.2px,#c1ff3e 40.8px,#c2ff3d 44.2px,#9eff61 55.8px,#a8ff57 57.8px,#c8ff37 60.2px,#d0ff2f 61.2px,#c7ff38 62.2px,#83ff7c 64.8px,#6bff94 66.2px,#5fffa0 68.8px,#59ffa6 74.8px,#5effa1 79.8px,#85ff7a 97.2px,#a3ff5c 115.8px,#a3ff5c 118.8px,#98ff67 123.2px,#b9ff46 130.8px,#c0ff3f 143.2px,#c8ff37 147.2px)"></i>
<i style="background:linear-gradient(90deg,#c9ff36 16.8px,#c6ff39 22.8px,#b0ff4f 32.8px,#c2ff3d 39.2px,#c3ff3c 42.8px,#9eff61 54.8px,#a7ff58 57.2px,#d1ff2e 61.2px,#c2ff3d 62.2px,#80ff7f 64.2px,#71ff8e 65.2px,#67ff98 67.8px,#5effa1 75.2px,#64ff9b 80.2px,#8eff71 99.2px,#93ff6c 107.2px,#a3ff5c 117.2px,#9aff65 124.2px,#bdff42 132.8px,#cf3 148.8px)"></i>
<i style="background:linear-gradient(90deg,#cf3 15.2px,#c9ff36 21.8px,#b0ff4f 31.8px,#c4ff3b 37.8px,#c5ff3a 40.8px,#9eff61 54.2px,#a8ff57 57.8px,#c8ff37 61.2px,#c3ff3c 61.8px,#84ff7b 63.8px,#7aff85 64.8px,#64ff9b 75.2px,#69ff96 79.8px,#95ff6a 98.8px,#96ff69 108.2px,#a3ff5c 117.8px,#9dff62 124.8px,#c0ff3f 134.2px,#cfff30 150.2px)"></i>
<i style="background:linear-gradient(90deg,#d1ff2e 13.8px,#cf3 21.2px,#b1ff4e 31.2px,#c4ff3b 35.8px,#c6ff39 39.2px,#9cff63 54.8px,#a1ff5e 59.8px,#b8ff47 61.8px,#b5ff4a 62.2px,#9aff65 63.8px,#85ff7a 66.8px,#71ff8e 71.2px,#6aff95 75.8px,#9eff61 98.8px,#98ff67 108.2px,#a3ff5c 117.8px,#a0ff5f 125.2px,#c3ff3c 135.8px,#d2ff2d 151.8px)"></i>
<i style="background:linear-gradient(90deg,#d4ff2b 12.2px,#cfff30 14.8px,#d0ff2f 20.2px,#b2ff4d 30.2px,#c7ff38 34.8px,#c7ff38 37.8px,#9fff60 51.8px,#90ff6f 59.2px,#97ff68 60.2px,#c4ff3b 61.8px,#cdff32 62.2px,#cf3 62.8px,#a2ff5d 65.8px,#87ff78 68.8px,#76ff89 72.2px,#71ff8e 75.8px,#7f8 79.8px,#94ff6b 88.2px,#a8ff57 99.2px,#a8ff57 102.2px,#9aff65 109.2px,#a3ff5c 117.8px,#a3ff5c 125.2px,#c7ff38 137.2px,#d0ff2f 152.2px,#d5ff2a 153.2px)"></i>
<i style="background:linear-gradient(90deg,#d8ff27 11.2px,#d1ff2e 14.2px,#d4ff2b 19.2px,#c3ff3c 26.8px,#b6ff49 29.8px,#c9ff36 33.2px,#c8ff37 36.2px,#8fff70 58.2px,#9cff63 59.8px,#d7ff28 61.8px,#e0ff1f 62.8px,#a8ff57 66.8px,#8fff70 69.2px,#7eff81 72.2px,#78ff87 75.8px,#7fff80 79.8px,#a0ff5f 87.8px,#b5ff4a 99.8px,#b4ff4b 102.2px,#9fff60 108.2px,#9dff62 111.2px,#a7ff58 126.2px,#cbff34 138.2px,#d3ff2c 152.8px,#d9ff26 154.2px)"></i>
<i style="background:linear-gradient(90deg,#dcff23 9.8px,#d3ff2c 13.8px,#d6ff29 18.2px,#c7ff38 27.2px,#bf4 29.8px,#c8ff37 32.2px,#c6ff39 35.2px,#94ff6b 56.8px,#9fff60 58.8px,#e2ff1d 61.8px,#e8ff17 62.8px,#dfff20 63.8px,#a8ff57 67.8px,#95ff6a 69.8px,#84ff7b 72.8px,#7fff80 75.8px,#87ff78 79.2px,#afff50 87.8px,#b6ff49 95.2px,#c3ff3c 100.2px,#c1ff3e 102.8px,#a3ff5c 108.8px,#9fff60 111.8px,#abff54 126.8px,#d0ff2f 140.2px,#d8ff27 155.2px)"></i>
<i style="background:linear-gradient(90deg,#dfff20 8.8px,#d9ff26 11.2px,#ceff31 26.8px,#bcff43 29.8px,#c3ff3c 32.2px,#c0ff3f 36.8px,#9bff64 55.2px,#a5ff5a 57.8px,#b2ff4d 58.8px,#e4ff1b 61.2px,#ecff13 62.8px,#e0ff1f 64.2px,#b1ff4e 67.8px,#9dff62 69.8px,#8dff72 72.2px,#87ff78 75.2px,#90ff6f 79.2px,#c2ff3d 88.2px,#c4ff3b 95.8px,#d4ff2b 100.8px,#d0ff2f 103.2px,#a9ff56 108.8px,#a1ff5e 111.8px,#aeff51 126.2px,#d3ff2c 140.8px,#daff25 154.8px,#e0ff1f 156.8px)"></i>
<i style="background:linear-gradient(90deg,#e3ff1c 7.8px,#d2ff2d 25.8px,#b7ff48 29.8px,#beff41 35.8px,#a1ff5e 53.8px,#acff53 56.8px,#bdff42 58.2px,#e6ff19 60.8px,#f0ff0f 61.8px,#f1ff0e 62.8px,#e5ff1a 64.2px,#b9ff46 67.8px,#a1ff5e 70.2px,#93ff6c 72.8px,#8eff71 75.2px,#9aff65 79.2px,#caff35 85.8px,#d6ff29 88.2px,#daff25 90.8px,#d2ff2d 95.8px,#e8ff17 101.2px,#e1ff1e 103.8px,#aeff51 109.2px,#a4ff5b 112.2px,#b0ff4f 125.8px,#d7ff28 141.2px,#df2 155.2px,#e4ff1b 157.8px)"></i>
<i style="background:linear-gradient(90deg,#e7ff18 6.8px,#e3ff1c 12.8px,#d8ff27 16.2px,#d4ff2b 24.2px,#cfff30 25.8px,#b5ff4a 29.2px,#bf4 35.8px,#a7ff58 51.2px,#b3ff4c 55.8px,#c1ff3e 57.2px,#f0ff0f 60.8px,#f6ff09 62.2px,#efff10 63.8px,#bfff40 67.8px,#a8ff57 70.2px,#9bff64 72.8px,#96ff69 75.2px,#a5ff5a 79.2px,#df2 85.8px,#edff12 88.2px,#f1ff0e 90.8px,#e1ff1e 96.2px,#ff0 101.8px,#f6ff09 104.2px,#b2ff4d 109.8px,#a7ff58 112.2px,#b1ff4e 124.8px,#daff25 141.2px,#e2ff1d 156.2px,#e8ff17 158.8px)"></i>
<i style="background:linear-gradient(90deg,#eaff15 5.8px,#d6ff29 23.2px,#b5ff4a 29.2px,#b9ff46 35.8px,#abff54 49.2px,#afff50 52.2px,#baff45 54.8px,#f5ff0a 60.2px,#fcff03 62.2px,#f3ff0c 63.8px,#b3ff4c 69.8px,#a4ff5b 72.2px,#9eff61 74.8px,#a1ff5e 76.8px,#afff50 79.2px,#fffe00 87.2px,#fff300 90.2px,#feff01 93.8px,#f2ff0d 96.2px,#fffe00 98.8px,#ffea00 100.8px,#ffe400 102.2px,#ffe900 103.8px,#fffe00 105.8px,#bdff42 109.8px,#b2ff4d 110.8px,#acff53 112.2px,#b4ff4b 124.2px,#deff21 141.2px,#e6ff19 157.2px,#e8ff17 159.2px,#ef1 159.8px)"></i>
<i style="background:linear-gradient(90deg,#edff12 5.2px,#d8ff27 21.8px,#b7ff48 28.8px,#b9ff46 35.8px,#aeff51 47.2px,#bf4 52.8px,#cf3 55.2px,#fdff02 59.8px,#fffa00 61.2px,#ff0 62.8px,#bfff40 69.2px,#adff52 72.2px,#a6ff59 74.8px,#af5 76.8px,#b6ff49 78.8px,#feff01 84.8px,#fffa00 85.2px,#fd0 88.2px,#ffd500 90.8px,#ffdc00 92.8px,#fffa00 96.2px,#fffa00 97.2px,#fff200 98.2px,#ffcf00 100.8px,#ffc500 102.8px,#ffd200 104.8px,#fffb00 107.2px,#bcff43 110.8px,#b1ff4e 112.8px,#b9ff46 116.2px,#b6ff49 124.2px,#e1ff1e 141.2px,#ef1 160.2px)"></i>
<i style="background:linear-gradient(90deg,#f0ff0f 4.2px,#daff25 20.8px,#b9ff46 28.8px,#b1ff4e 45.8px,#b6ff49 49.2px,#c3ff3c 52.2px,#fffd00 58.8px,#fff200 61.2px,#fffe00 63.2px,#cbff34 68.8px,#b6ff49 72.2px,#afff50 74.8px,#b3ff4c 76.8px,#c1ff3e 78.8px,#feff01 83.2px,#ffc900 87.2px,#ffb400 90.2px,#ffba00 92.8px,#ffe400 96.2px,#ffe900 97.2px,#ffe000 98.2px,#fa0 101.2px,#ffa300 102.8px,#fa0 104.2px,#ffbd00 105.8px,#fdff02 108.8px,#c9ff36 110.8px,#baff45 111.8px,#b7ff48 112.8px,#c2ff3d 116.2px,#b9ff46 123.8px,#daff25 134.8px,#e5ff1a 141.2px,#f1ff0e 161.2px)"></i>
<i style="background:linear-gradient(90deg,#f3ff0c 3.8px,#dcff23 19.8px,#bf4 28.2px,#b3ff4c 43.8px,#b8ff47 47.8px,#c5ff3a 50.8px,#d7ff28 53.2px,#fffd00 57.2px,#ffea00 59.2px,#ffe700 60.8px,#fe0 62.2px,#ff0 63.8px,#e1ff1e 66.8px,#c3ff3c 71.8px,#baff45 73.8px,#b8ff47 75.8px,#cf3 78.8px,#f7ff08 81.8px,#fffe00 82.2px,#ffb200 86.8px,#ff9400 89.8px,#ff8f00 91.8px,#ff9700 93.2px,#ffab00 94.8px,#ffd000 96.8px,#ffd400 97.8px,#ffc200 98.8px,#ff8d00 100.8px,#ff8000 101.8px,#ff7d00 102.8px,#ff8500 104.2px,#ffa000 106.2px,#ffc100 107.8px,#ff0 109.8px,#cfff30 111.2px,#c0ff3f 112.2px,#ceff31 115.8px,#bf4 122.8px,#e7ff18 138.8px,#f4ff0b 161.8px)"></i>
<i style="background:linear-gradient(90deg,#f6ff09 2.8px,#e0ff1f 18.2px,#bdff42 28.2px,#b6ff49 42.8px,#baff45 46.2px,#c5ff3a 49.2px,#dbff24 52.2px,#fffd00 55.8px,#ffe200 58.2px,#ffd900 60.2px,#ffe100 61.8px,#feff01 64.2px,#f0ff0f 65.8px,#c6ff39 73.2px,#c2ff3d 75.8px,#d2ff2d 78.2px,#ff0 81.2px,#ff9c00 86.2px,#ff7f00 88.2px,#ff7000 89.8px,#ff6800 91.8px,#ff7000 93.8px,#ff7d00 94.8px,#ffb900 97.2px,#ffbd00 97.8px,#ffb800 98.2px,#ff8000 99.8px,#ff6400 100.8px,#ff5800 102.2px,#ff6700 104.8px,#ff8e00 107.2px,#ffb400 108.8px,#fbff04 110.8px,#d6ff29 111.8px,#cdff32 112.2px,#cbff34 112.8px,#deff21 114.8px,#dfff20 115.8px,#c5ff3a 120.2px,#beff41 122.8px,#c3ff3c 125.8px,#e1ff1e 133.2px,#ebff14 138.2px,#f3ff0c 160.2px,#f9ff06 162.8px)"></i>
<i style="background:linear-gradient(90deg,#f8ff07 2.2px,#e4ff1b 16.8px,#c0ff3f 27.8px,#b8ff47 41.8px,#bf4 45.2px,#c7ff38 48.2px,#df2 51.2px,#feff01 54.2px,#ffd600 57.8px,#ffc900 59.8px,#ffcf00 61.2px,#ff0 64.8px,#f2ff0d 69.2px,#d3ff2c 73.2px,#cf3 75.2px,#d8ff27 77.8px,#fbff04 80.2px,#ffef00 81.2px,#ff7f00 86.2px,#ff5e00 88.2px,#ff4c00 89.8px,#ff3e00 92.2px,#f40 94.2px,#ff5b00 95.8px,#ff9700 97.8px,#ff9600 98.2px,#ff8500 98.8px,#ff5400 99.8px,#ff4300 100.2px,#ff3a00 100.8px,#ff3400 101.8px,#ff4900 104.8px,#ff7400 107.8px,#ff8a00 108.8px,#ffa900 109.8px,#fff000 111.2px,#f5ff0a 111.8px,#e4ff1b 112.2px,#e0ff1f 112.8px,#f5ff0a 114.2px,#f7ff08 115.2px,#cbff34 120.2px,#c0ff3f 123.2px,#c6ff39 125.8px,#e5ff1a 132.8px,#f0ff0f 137.2px,#f6ff09 161.2px,#fbff04 163.2px)"></i>
<i style="background:linear-gradient(90deg,#faff05 1.8px,#ebff14 13.8px,#c3ff3c 27.8px,#baff45 41.2px,#bdff42 44.2px,#c8ff37 47.2px,#dfff20 50.2px,#fffe00 53.2px,#ffc400 57.8px,#ffb700 59.8px,#ffbf00 61.2px,#ffed00 63.8px,#fff500 64.8px,#fff000 68.2px,#fffd00 70.2px,#df2 73.8px,#d7ff28 75.2px,#dfff20 77.2px,#fffe00 79.8px,#ffde00 81.2px,#ff6c00 85.8px,#f40 87.8px,#ff2000 90.8px,#ff1400 93.8px,#ff1a00 95.2px,#ff2700 96.2px,#f50 97.8px,#ff5d00 98.2px,#ff5400 98.8px,#ff2b00 99.8px,#ff1b00 100.8px,#f20 102.8px,#ff3e00 105.8px,#ff6100 108.2px,#ff8000 109.8px,#ffa200 110.8px,#ffec00 112.2px,#fff400 112.8px,#ffe500 114.2px,#ffe600 114.8px,#feff01 116.8px,#d1ff2e 120.2px,#c3ff3c 123.2px,#c9ff36 125.8px,#eaff15 132.2px,#f5ff0a 136.8px,#feff01 163.8px)"></i>
<i style="background:linear-gradient(90deg,#fcff03 1.2px,#f0ff0f 12.2px,#c6ff39 27.2px,#bf4 40.2px,#beff41 43.2px,#c9ff36 46.2px,#daff25 48.8px,#faff05 51.8px,#fffe00 52.2px,#ffb200 57.8px,#ffa200 59.8px,#ffab00 61.2px,#ffdb00 63.2px,#ffe700 64.2px,#ffd300 66.8px,#ffd100 68.2px,#ffdc00 69.8px,#ff0 72.2px,#ecff13 73.8px,#e3ff1c 75.2px,#e7ff18 76.8px,#fdff02 78.8px,#ffd900 80.8px,#ff6800 84.8px,#ff3700 86.8px,#ff1400 88.8px,#fd0000 90.8px,#e00 94.2px,#f10000 95.8px,#fd0000 96.8px,#ff0e00 97.2px,#ff3b00 98.2px,#ff4600 98.8px,#ff4000 99.2px,#ff2400 100.2px,#ff1900 101.2px,#ff1b00 102.8px,#ff2900 104.8px,#ff4c00 107.8px,#ff6f00 109.8px,#ff8c00 110.8px,#ffcf00 112.2px,#ffd800 112.8px,#fc0 113.8px,#ffcd00 114.8px,#fcff03 117.8px,#d1ff2e 120.8px,#c5ff3a 123.8px,#efff10 131.8px,#fbff04 136.2px,#fffe00 164.2px)"></i>
<i style="background:linear-gradient(90deg,#feff01 0.8px,#f3ff0c 11.2px,#c9ff36 27.2px,#beff41 40.2px,#cbff34 45.8px,#df2 48.2px,#ff0 51.2px,#ffa000 57.8px,#ff8a00 60.2px,#ff9100 61.2px,#ff9c00 61.8px,#fc0 63.2px,#ffd300 63.8px,#ffd100 64.2px,#ffaf00 66.2px,#ffa800 67.8px,#ffba00 69.8px,#fffb00 73.2px,#f2ff0d 75.2px,#ff0 77.8px,#ffea00 79.2px,#ffd500 80.2px,#ffac00 81.8px,#ff3c00 85.2px,#ff0d00 87.2px,#fb0000 88.2px,#df0000 90.8px,#d40000 93.2px,#d80000 95.2px,#e60000 96.2px,#f40000 96.8px,#ff0b00 97.2px,#ff4a00 98.2px,#ff6100 98.8px,#ff6400 99.2px,#ff3a00 100.8px,#ff2900 101.8px,#ff2300 103.2px,#ff2e00 105.2px,#f40 107.2px,#ff6a00 109.2px,#ff9c00 110.8px,#ffe500 112.2px,#ffec00 112.8px,#ffce00 114.2px,#ffcb00 114.8px,#ffd400 115.8px,#fbff04 118.2px,#d1ff2e 121.2px,#c6ff39 123.8px,#ceff31 125.8px,#f1ff0e 130.8px,#ff0 134.2px,#fffa00 140.2px,#fffc00 164.8px)"></i>
<i style="background:linear-gradient(90deg,#fffe00 0.2px,#f6ff09 10.2px,#cf3 27.2px,#c0ff3f 39.8px,#c3ff3c 42.8px,#cdff32 45.2px,#e0ff1f 47.8px,#fcff03 50.2px,#ffe600 52.2px,#ff8900 58.2px,#ff7100 60.8px,#ff7c00 61.8px,#ffae00 63.2px,#ffb000 63.8px,#ff8b00 65.2px,#ff7c00 66.2px,#ff7900 67.2px,#ff7e00 68.2px,#ff9e00 70.2px,#fff000 73.8px,#fffa00 74.8px,#fffc00 75.8px,#fe0 77.8px,#ffd100 79.8px,#ffa900 81.2px,#ff1e00 85.2px,#ff0400 86.2px,#f80000 86.8px,#d00 88.2px,#cd0000 89.8px,#c00000 92.8px,#c60000 94.2px,#d20000 95.2px,#ea0000 96.2px,#fd0000 96.8px,#ff5400 98.2px,#ff6a00 98.8px,#ff7300 99.2px,#ff7000 99.8px,#ff4100 101.8px,#ff3500 102.8px,#ff3100 104.2px,#ff3a00 105.8px,#f50 107.8px,#ff7800 109.2px,#ff9b00 110.2px,#ffe200 111.8px,#fff500 112.2px,#fffc00 112.8px,#fff700 113.2px,#ffd800 114.8px,#ffd500 115.2px,#ffdb00 116.2px,#fffd00 118.2px,#d3ff2c 121.2px,#c7ff38 123.8px,#cdff32 125.2px,#f2ff0d 129.8px,#fffe00 132.2px,#fff300 138.8px,#fffd00 162.2px,#fffa00 165.2px)"></i>
<i style="background:linear-gradient(90deg,#fffb00 0.2px,#fdff02 6.8px,#d2ff2d 25.8px,#c2ff3d 39.8px,#ceff31 44.8px,#e1ff1e 47.2px,#feff01 49.8px,#ff6800 59.8px,#ff5f00 61.2px,#ff8000 63.2px,#ff5100 65.2px,#ff4900 66.8px,#ff5200 68.2px,#ff6100 69.2px,#ff8400 70.8px,#ffd100 73.2px,#ffe400 74.2px,#ffe900 75.2px,#ffcf00 78.8px,#ffb500 80.2px,#ff9600 81.2px,#ff1f00 84.2px,#fd0000 85.2px,#d90000 86.8px,#c20000 88.2px,#b50000 89.8px,#b00000 91.8px,#c00000 94.2px,#d30000 95.2px,#f10000 96.2px,#ff0700 96.8px,#ff5200 98.2px,#ff6500 98.8px,#ff7000 99.2px,#ff7300 99.8px,#ff4300 103.2px,#ff4000 104.2px,#ff4600 105.8px,#ff5800 107.2px,#ff7900 108.8px,#ff9800 109.8px,#ffe600 111.8px,#fffb00 112.8px,#fffa00 113.2px,#ffe300 114.8px,#fd0 115.8px,#ffe300 116.8px,#faff05 118.8px,#d6ff29 121.2px,#c9ff36 123.8px,#cfff30 125.2px,#f6ff09 129.2px,#fffd00 130.8px,#fff100 133.8px,#ffec00 137.8px,#fff900 165.2px)"></i>
<i style="background:linear-gradient(90deg,#fff900 0.2px,#ff0 6.8px,#d6ff29 25.2px,#c4ff3b 40.2px,#d1ff2e 44.8px,#ff0 49.2px,#ff8900 56.8px,#ff6900 59.2px,#ff6300 60.8px,#ff8100 62.8px,#ff7900 63.2px,#ff3a00 64.8px,#ff2800 65.8px,#ff2400 66.8px,#ff2b00 68.2px,#ff4200 69.8px,#ff6c00 71.2px,#ffb800 73.2px,#ffd000 74.2px,#ffd300 74.8px,#ffbe00 77.2px,#ffb500 79.2px,#ffa500 80.2px,#ff8300 81.2px,#ff2700 83.2px,#fd0000 84.2px,#d00 85.2px,#bc0000 86.8px,#a90000 88.2px,#a00000 90.2px,#a60000 92.2px,#b60000 93.8px,#d60000 95.2px,#f70000 96.2px,#ff0c00 96.8px,#ff5d00 98.8px,#ff6f00 99.8px,#ff6d00 100.8px,#ff5700 102.8px,#ff4f00 104.2px,#ff5400 105.8px,#ff5f00 106.8px,#ff8600 108.8px,#ffe300 111.8px,#fff400 112.8px,#fff300 113.8px,#ffe100 115.8px,#ffe500 116.8px,#fffa00 118.2px,#fcff03 118.8px,#d4ff2b 121.8px,#caff35 123.8px,#d1ff2e 125.2px,#ff0 129.2px,#ffec00 132.2px,#ffe500 136.2px,#fff500 155.8px,#fff700 165.8px)"></i>
<i style="background:linear-gradient(90deg,#fff700 0.2px,#ff0 7.2px,#dbff24 24.8px,#c6ff39 40.2px,#caff35 42.8px,#d4ff2b 44.8px,#fffe00 48.8px,#ff9100 55.8px,#ff6f00 58.8px,#ff6e00 60.2px,#ff7e00 61.2px,#ff9600 62.2px,#ff9800 62.8px,#ff8c00 63.2px,#ff3e00 64.8px,#ff2c00 65.2px,#ff1600 66.2px,#ff0c00 67.8px,#ff1300 69.2px,#ff2400 70.2px,#ff4200 71.2px,#ffaf00 73.8px,#ffb900 74.2px,#ffb900 74.8px,#ff9e00 76.2px,#ff9200 77.2px,#ff9d00 79.2px,#ff9400 80.2px,#ff6f00 81.2px,#ff0500 83.2px,#e00 83.8px,#ca0000 84.8px,#a80000 86.2px,#970000 87.8px,#910000 89.8px,#9b0000 91.8px,#ad0000 93.2px,#c00 94.8px,#fa0000 96.2px,#ff0e00 96.8px,#ff4600 98.2px,#ff6800 99.8px,#ff6d00 100.8px,#ff5e00 104.2px,#ff6300 105.8px,#ff7400 107.2px,#ff8600 108.2px,#ffd200 111.2px,#ffe600 112.2px,#fe0 113.2px,#ffe300 116.2px,#fcff03 118.8px,#dcff23 121.2px,#cdff32 123.8px,#d5ff2a 125.2px,#feff01 128.2px,#ffe600 131.2px,#ffde00 135.2px,#fff100 154.2px,#fff600 165.8px)"></i>
<i style="background:linear-gradient(90deg,#fff600 0.2px,#feff01 7.8px,#c8ff37 40.2px,#d4ff2b 44.2px,#ff0 48.2px,#ff9a00 54.8px,#f70 57.8px,#ff7500 59.8px,#ff9d00 62.2px,#ff9d00 62.8px,#ff9200 63.2px,#ff2500 65.8px,#ff0c00 66.8px,#fc0000 67.8px,#f50000 69.2px,#fd0000 70.2px,#ff0700 70.8px,#ff2600 71.8px,#ff9200 73.8px,#ff9c00 74.2px,#ff9600 74.8px,#ff6200 76.2px,#f50 77.2px,#ff6400 78.2px,#ff7d00 79.2px,#ff8400 79.8px,#ff8100 80.2px,#ff7200 80.8px,#ff5900 81.2px,#ff1800 82.2px,#f80000 82.8px,#c80000 83.8px,#9d0000 85.2px,#890000 86.8px,#830000 88.2px,#8c0000 90.8px,#a40000 92.8px,#c20000 94.2px,#fd0000 96.2px,#ff4e00 98.8px,#ff6800 100.2px,#ff6d00 101.2px,#ff6900 104.2px,#ff6f00 105.8px,#ff8700 107.8px,#ffcf00 111.2px,#ffde00 112.2px,#ffe500 113.2px,#ffe000 116.2px,#fcff03 118.8px,#e4ff1b 120.8px,#d1ff2e 124.2px,#daff25 125.2px,#fcff03 127.2px,#fffa00 127.8px,#fd0 130.8px,#ffd500 134.2px,#ffed00 153.2px,#fff500 165.8px)"></i>
<i style="background:linear-gradient(90deg,#fff400 0.2px,#ff0 8.2px,#c9ff36 40.8px,#d6ff29 44.2px,#fdff02 47.8px,#ff9b00 54.2px,#ff7a00 57.2px,#ff7800 59.2px,#ff9700 61.8px,#ff9800 62.8px,#ff8000 63.8px,#ff1e00 66.2px,#ff0300 67.2px,#f80000 67.8px,#e30000 69.2px,#df0000 70.2px,#e60000 71.2px,#ff0600 72.2px,#ff6300 73.8px,#ff6d00 74.2px,#ff5e00 74.8px,#ff2400 75.8px,#ff1000 76.2px,#ff0700 76.8px,#ff0700 77.2px,#ff1000 77.8px,#ff2000 78.2px,#ff6400 79.8px,#ff6a00 80.2px,#ff5a00 80.8px,#ff1200 81.8px,#eb0000 82.2px,#b20000 83.2px,#a00000 83.8px,#800 84.8px,#800000 85.8px,#800000 89.8px,#8e0000 91.2px,#af0000 93.2px,#d20000 94.8px,#f00 96.2px,#ff4900 98.8px,#ff6400 100.2px,#ff7f00 106.2px,#ff9000 107.8px,#ffd200 111.8px,#ffdc00 113.2px,#ffdb00 116.2px,#fcff03 118.8px,#edff12 119.8px,#e7ff18 122.2px,#d8ff27 124.2px,#e1ff1e 125.2px,#fffd00 126.8px,#ffda00 129.2px,#fc0 133.2px,#ffea00 152.8px,#fff300 165.8px)"></i>
<i style="background:linear-gradient(90deg,#fff200 0.2px,#ff0 8.8px,#cbff34 40.8px,#d4ff2b 43.8px,#fbff04 47.2px,#fffc00 47.8px,#ff9d00 53.8px,#ff7e00 56.8px,#ff7900 58.8px,#ff9300 61.8px,#ff9100 62.8px,#ff7e00 63.8px,#ff1800 66.8px,#fc0000 67.8px,#d50000 69.8px,#c80000 71.2px,#d10000 72.2px,#e30000 72.8px,#ff0100 73.2px,#ff1d00 73.8px,#ff2300 74.2px,#ff0e00 74.8px,#eb0000 75.2px,#cf0000 75.8px,#bf0000 76.2px,#b80000 76.8px,#c10000 77.8px,#d10000 78.2px,#ea0000 78.8px,#ff0d00 79.2px,#ff2e00 79.8px,#ff3d00 80.2px,#ff2e00 80.8px,#ff0700 81.2px,#b40000 82.2px,#900 82.8px,#800 83.2px,#800000 83.8px,#800000 89.8px,#800 90.8px,#a80000 92.8px,#ff0200 96.2px,#ff4500 98.8px,#ff6700 100.8px,#f80 106.2px,#ffd200 112.2px,#ffd100 115.8px,#ffd700 116.8px,#fcff03 118.8px,#edff12 119.8px,#fcff03 122.2px,#e4ff1b 124.2px,#e6ff19 124.8px,#fbff04 125.8px,#ffe000 127.2px,#ffd200 128.2px,#ffc800 129.8px,#ffc300 132.2px,#ffe600 152.2px,#fff200 165.8px)"></i>
<i style="background:linear-gradient(90deg,#fff100 0.2px,#ff0 9.8px,#e0ff1f 32.8px,#cf3 41.2px,#d9ff26 44.2px,#ff0 47.2px,#ffa700 52.8px,#ff8400 55.8px,#ff7a00 58.2px,#ff8d00 61.8px,#ff8400 63.2px,#ff6f00 64.2px,#ff0700 67.8px,#fa0000 68.2px,#d20000 70.2px,#c60000 71.8px,#cb0000 72.2px,#da0000 72.8px,#f30000 73.2px,#ff0d00 73.8px,#f10 74.2px,#f90000 74.8px,#b80000 75.8px,#a50000 76.2px,#9b0000 76.8px,#950000 77.8px,#9b0000 78.2px,#a00 78.8px,#e70000 79.8px,#fa0000 80.2px,#ed0000 80.8px,#a00000 81.8px,#850000 82.2px,#800000 82.8px,#800000 89.8px,#ae0000 92.8px,#f60000 95.8px,#ff0400 96.2px,#ff4e00 99.2px,#ff6b00 101.2px,#ff9000 106.2px,#ffcd00 111.8px,#ffd200 113.2px,#ffcd00 116.8px,#ffdf00 117.8px,#feff01 118.8px,#f2ff0d 119.2px,#ef1 119.8px,#feff01 120.8px,#ffe500 122.2px,#ffe600 122.8px,#fcff03 124.2px,#fdff02 124.8px,#ffda00 126.2px,#ffc800 127.2px,#ffbc00 128.8px,#ffb900 130.8px,#ffe300 151.8px,#fff000 165.8px)"></i>
<i style="background:linear-gradient(90deg,#fff000 0.2px,#ff0 10.8px,#e6ff19 31.2px,#cdff32 41.2px,#d6ff29 43.8px,#fbff04 46.8px,#ffa900 52.2px,#ff8600 55.2px,#ff7b00 57.8px,#ff8700 61.8px,#ff7f00 63.2px,#ff6300 64.8px,#f00 68.8px,#e40000 70.8px,#ea0000 71.8px,#f70000 72.2px,#ff1000 72.8px,#ff4800 73.8px,#ff4e00 74.2px,#ff3800 74.8px,#ff1400 75.2px,#ef0000 75.8px,#d30000 76.2px,#c00000 76.8px,#ad0000 77.8px,#ad0000 78.2px,#b80000 78.8px,#ef0000 79.8px,#ff0200 80.2px,#f40000 80.8px,#a90000 81.8px,#8f0000 82.2px,#800000 82.8px,#810000 89.2px,#ac0000 92.2px,#fa0000 95.8px,#ff4d00 99.2px,#ff7100 101.8px,#ffce00 111.8px,#ffd200 113.2px,#ffc700 116.2px,#ffca00 117.2px,#ffd300 117.8px,#fff700 118.8px,#f8ff07 119.2px,#f7ff08 119.8px,#fffb00 120.2px,#ffdc00 121.2px,#ffca00 122.2px,#ffca00 122.8px,#ffe300 124.2px,#ffde00 124.8px,#ffb900 126.2px,#ffae00 128.8px,#ffe000 151.2px,#ffef00 165.8px)"></i>
<i style="background:linear-gradient(90deg,#ffef00 0.2px,#ff0 12.2px,#ebff14 31.8px,#ceff31 41.8px,#dbff24 44.2px,#ff0 46.8px,#ffb200 51.2px,#ff8900 54.8px,#ff7b00 57.2px,#ff8200 61.8px,#ff7a00 63.2px,#ff6500 64.8px,#ff1d00 68.2px,#ff0a00 69.8px,#ff0900 70.8px,#ff1a00 71.8px,#ff2c00 72.2px,#ff7400 73.8px,#ff7a00 74.2px,#ff6e00 74.8px,#ff1e00 76.2px,#ff0a00 76.8px,#fc0000 77.2px,#f70000 77.8px,#fc0000 78.2px,#ff0d00 78.8px,#ff4200 79.8px,#ff4f00 80.2px,#ff4100 80.8px,#ff1c00 81.2px,#f00000 81.8px,#c00 82.2px,#b10000 82.8px,#930000 83.8px,#810000 85.2px,#800000 87.2px,#8c0000 89.2px,#a50000 91.2px,#c80000 93.2px,#ff0100 95.8px,#ff4e00 99.2px,#ff7900 102.2px,#ffd200 111.8px,#ffd600 113.8px,#ffcd00 117.2px,#ffd300 117.8px,#fffa00 119.2px,#fff400 119.8px,#ffd600 120.8px,#ffc800 121.8px,#ffce00 122.8px,#ffe100 123.8px,#ffe000 124.2px,#ffb100 125.8px,#ffa500 126.8px,#ffa300 127.8px,#ffdc00 150.2px,#ffed00 165.8px)"></i>
<i style="background:linear-gradient(90deg,#fe0 0.2px,#ff0 13.8px,#efff10 32.2px,#e6ff19 36.2px,#cfff30 41.8px,#d6ff29 43.8px,#faff05 46.2px,#fffb00 46.8px,#ffb500 50.8px,#ff9000 53.8px,#ff7d00 56.8px,#ff7e00 61.8px,#ff7800 63.2px,#ff6700 64.8px,#ff3700 67.8px,#ff2800 69.2px,#ff2700 70.2px,#ff3500 71.2px,#ff5300 72.2px,#ff7a00 73.2px,#ff8a00 73.8px,#ff9000 74.2px,#ff8d00 74.8px,#ff5100 76.8px,#ff4900 77.2px,#ff4f00 78.2px,#ff7d00 79.8px,#ff8100 80.2px,#ff7300 80.8px,#ff5600 81.2px,#ff0c00 82.2px,#ec0000 82.8px,#c00000 83.8px,#a80000 84.8px,#9a0000 85.8px,#940000 87.2px,#900 88.8px,#ab0000 90.8px,#ca0000 92.8px,#fc0000 95.2px,#ff0800 95.8px,#ff5100 99.2px,#ff8300 102.8px,#ffd200 110.8px,#ffde00 112.8px,#ffe700 116.8px,#fdff02 118.2px,#f2ff0d 118.8px,#f3ff0c 119.2px,#fffc00 119.8px,#fd0 120.8px,#ffd900 121.2px,#ffe100 122.2px,#fff800 123.8px,#fff200 124.2px,#fb0 125.8px,#ffaf00 126.2px,#ffa400 127.2px,#ffa100 128.2px,#ffda00 150.8px,#ffed00 165.8px)"></i>
<i style="background:linear-gradient(90deg,#ffed00 0.2px,#ff0 15.2px,#f3ff0c 33.2px,#ebff14 36.8px,#d0ff2f 42.2px,#dbff24 44.2px,#fdff02 46.2px,#ffb700 50.2px,#ff8e00 53.8px,#ff7c00 57.2px,#ff7900 62.8px,#ff4100 68.8px,#ff4000 69.8px,#ff4a00 70.8px,#ff5f00 71.8px,#ff8c00 73.2px,#ff9f00 74.2px,#ff9d00 75.2px,#ff8300 77.2px,#ff8900 78.2px,#ff9e00 79.8px,#ff9b00 80.2px,#ff8e00 80.8px,#f70 81.2px,#ff0500 83.2px,#e00 83.8px,#ce0000 84.8px,#b00 85.8px,#b00000 86.8px,#ac0000 88.2px,#b20000 89.8px,#c10000 91.2px,#fb0000 94.8px,#ff5d00 99.8px,#f80 102.8px,#ffd700 110.2px,#fffe00 115.8px,#f2ff0d 116.8px,#ceff31 118.2px,#c8ff37 118.8px,#cdff32 119.2px,#fcff03 120.8px,#ff0 122.2px,#f7ff08 123.2px,#fffd00 124.2px,#ffca00 125.8px,#ffb300 126.8px,#ffa800 127.8px,#ffa400 129.2px,#ffdb00 151.8px,#ffec00 165.8px)"></i>
<i style="background:linear-gradient(90deg,#ffec00 0.2px,#ff0 17.2px,#f7ff08 34.2px,#ef1 37.8px,#d0ff2f 42.8px,#dbff24 44.2px,#f7ff08 45.8px,#fffc00 46.2px,#ffd200 48.2px,#ffb200 50.2px,#ff8d00 53.8px,#ff7e00 56.8px,#ff7800 62.8px,#ff5400 68.8px,#ff6200 70.8px,#ffac00 74.2px,#ffb100 75.2px,#fa0 77.2px,#ffb200 79.8px,#ff9f00 80.8px,#f70 81.8px,#ff1800 83.8px,#ff0500 84.2px,#f40000 84.8px,#dc0000 85.8px,#cd0000 86.8px,#c30000 88.8px,#d20000 91.2px,#fd0000 94.2px,#ff5a00 99.2px,#ff8700 102.2px,#ffcd00 108.2px,#fffe00 113.2px,#eaff15 115.2px,#b8ff47 117.8px,#aeff51 118.8px,#b3ff4c 119.2px,#e0ff1f 121.2px,#eaff15 123.2px,#fbff04 124.2px,#ffca00 126.2px,#ffb800 127.2px,#ffab00 128.8px,#ffa800 130.2px,#ffae00 134.8px,#ffdc00 152.8px,#ffeb00 165.8px)"></i>
<i style="background:linear-gradient(90deg,#ffec00 0.2px,#ff0 20.2px,#fcff03 35.2px,#f0ff0f 38.8px,#d1ff2e 42.8px,#dbff24 44.2px,#faff05 45.8px,#fb0 49.2px,#ff9000 53.2px,#ff8100 56.2px,#ff7900 62.8px,#ff6300 68.2px,#ff6a00 69.8px,#ff7500 70.8px,#ffaf00 73.8px,#ffbc00 74.8px,#ffc400 79.2px,#ffad00 80.8px,#ff8c00 81.8px,#ff2700 84.2px,#fc0000 85.8px,#e40000 87.2px,#da0000 89.2px,#e40000 91.2px,#ff0300 93.8px,#ff8700 101.8px,#ff0 111.8px,#daff25 114.8px,#a4ff5b 117.8px,#9fff60 118.8px,#e2ff1d 123.2px,#fffc00 124.8px,#ffd600 126.2px,#ffbd00 127.8px,#ffb100 129.2px,#ffac00 131.2px,#ffb200 136.8px,#ffde00 154.2px,#ffea00 165.8px)"></i>
<i style="background:linear-gradient(90deg,#ffeb00 0.2px,#fffd00 20.8px,#ff0 37.2px,#f4ff0b 39.8px,#d2ff2d 43.2px,#daff25 44.2px,#fffe00 45.8px,#ffd800 47.2px,#ffbc00 48.8px,#ff9400 52.8px,#ff8200 56.8px,#ff7000 67.2px,#ff7200 68.8px,#ff7f00 70.2px,#ffb800 73.8px,#ffca00 75.2px,#ffd200 78.8px,#ffcb00 79.8px,#ffb900 80.8px,#ff9d00 81.8px,#ff4500 84.2px,#ff2700 85.2px,#ff0800 86.8px,#fa0000 87.8px,#f10000 89.8px,#ff0500 92.8px,#ff9600 102.2px,#fdff02 110.8px,#d5ff2a 113.8px,#9cff63 117.2px,#95ff6a 118.2px,#a0ff5f 119.8px,#daff25 123.2px,#fbff04 124.8px,#fff700 125.2px,#ffd700 126.8px,#ffc200 128.2px,#ffb400 130.2px,#ffaf00 132.8px,#ffb600 138.2px,#ffde00 154.8px,#ffe900 165.8px)"></i>
<i style="background:linear-gradient(90deg,#ffed00 0.2px,#fffc00 22.8px,#fff700 36.8px,#fffe00 39.8px,#d5ff2a 43.8px,#daff25 44.2px,#f6ff09 45.2px,#fff700 45.8px,#ffd900 46.8px,#ffbd00 48.2px,#f90 52.2px,#ff8500 57.2px,#ff7900 66.2px,#ff8200 69.2px,#ff9200 70.8px,#ffcd00 74.8px,#ffd900 76.2px,#fd0 78.2px,#ffd300 79.8px,#ffc300 80.8px,#ffab00 81.8px,#ff4f00 84.8px,#f20 86.8px,#ff0f00 88.2px,#ff0700 90.2px,#f10 92.2px,#ff2600 94.2px,#ffa500 102.8px,#fcff03 109.8px,#9cff63 116.2px,#8eff71 118.2px,#93ff6c 119.2px,#a8ff57 120.8px,#fffe00 125.2px,#ffd800 127.2px,#ffc600 128.8px,#ffb900 130.8px,#ffb300 133.8px,#ffb800 139.2px,#ffdf00 155.2px,#ffe900 165.2px)"></i>
<i style="background:linear-gradient(90deg,#fe0 0.2px,#ffeb00 2.2px,#fffa00 24.2px,#fff100 38.8px,#fff300 40.2px,#ff0 41.8px,#dfff20 43.8px,#e1ff1e 44.2px,#ff0 45.2px,#ffdb00 46.2px,#ffc500 47.2px,#ffa500 50.8px,#ff8b00 56.8px,#ff8100 65.2px,#ff8300 67.2px,#ff8d00 69.2px,#ffd800 75.2px,#ffe200 76.8px,#ffe400 78.2px,#ffda00 79.8px,#ffc200 81.2px,#ff5900 85.2px,#ff3a00 86.8px,#ff2500 88.2px,#ff1b00 90.2px,#f20 92.2px,#ff3a00 94.8px,#ffb600 103.2px,#fdff02 108.8px,#97ff68 115.8px,#8f7 117.8px,#8bff74 118.8px,#9bff64 120.2px,#bcff43 122.2px,#faff05 125.2px,#fffa00 125.8px,#ffda00 127.8px,#ffc500 129.8px,#fb0 131.8px,#ffb500 134.8px,#ffba00 139.8px,#ffdf00 155.2px,#ffe900 164.8px)"></i>
<i style="background:linear-gradient(90deg,#fe0 0.8px,#fff800 25.8px,#ffe800 40.8px,#fe0 42.2px,#fffc00 43.2px,#f6ff09 44.2px,#feff01 44.8px,#ffdf00 45.8px,#ffc800 46.8px,#ffb300 49.2px,#ff9100 56.8px,#f80 64.2px,#ff9300 68.8px,#ffa500 70.8px,#ffdc00 75.2px,#ffe700 76.8px,#ffe900 78.2px,#ffe000 79.8px,#ffcb00 81.2px,#ff6e00 85.2px,#ff4800 87.2px,#ff3600 88.8px,#ff2f00 90.8px,#ff3600 92.8px,#ff4e00 95.2px,#feff01 107.8px,#9f6 114.8px,#89ff76 116.2px,#84ff7b 117.8px,#8f7 118.8px,#98ff67 120.2px,#fdff02 125.8px,#fff800 126.2px,#ffdb00 128.2px,#ffc900 130.2px,#ffbc00 132.8px,#ffb700 135.8px,#ffbc00 140.2px,#ffe000 155.2px,#ffe900 164.2px)"></i>
<i style="background:linear-gradient(90deg,#fe0 1.2px,#fff600 27.8px,#fff000 34.2px,#ffdf00 42.2px,#ffe500 43.2px,#fffb00 44.8px,#fff600 45.2px,#ffce00 47.2px,#ffb500 50.8px,#ff9800 57.2px,#ff8e00 63.8px,#ff9200 66.8px,#ff9c00 68.8px,#ffe000 75.2px,#ffed00 78.2px,#ffe500 79.8px,#ffd300 81.2px,#ff5b00 87.2px,#ff4a00 88.8px,#ff4100 90.8px,#ff4600 92.8px,#ff5c00 95.2px,#fffe00 106.8px,#f9ff06 107.2px,#96ff69 114.2px,#87ff78 115.8px,#81ff7e 117.2px,#87ff78 118.8px,#97ff68 120.2px,#fffe00 126.2px,#ffe200 128.2px,#ffcb00 130.8px,#ffbf00 133.2px,#ffb900 136.2px,#ffbe00 140.8px,#ffe100 155.2px,#ffe800 164.2px)"></i>
<i style="background:linear-gradient(90deg,#fe0 1.8px,#fff500 28.2px,#ffe100 41.8px,#ffe400 42.8px,#fff500 43.8px,#fbff04 44.2px,#edff12 44.8px,#e8ff17 45.2px,#f9ff06 46.2px,#fff800 46.8px,#ffd600 48.8px,#ffb600 52.8px,#ff9e00 58.2px,#ff9600 63.8px,#f90 66.2px,#ffa400 68.8px,#ffe300 75.2px,#fff000 78.2px,#ffe900 79.8px,#ffd900 81.2px,#ff7d00 86.2px,#ff6700 87.8px,#ff5800 89.2px,#ff5200 91.2px,#ff5900 93.2px,#ff6f00 95.8px,#fcff03 106.2px,#9f6 113.2px,#85ff7a 115.2px,#7fff80 116.8px,#83ff7c 118.2px,#97ff68 120.2px,#f3ff0c 125.8px,#fffc00 126.8px,#ffe300 128.8px,#ffcd00 131.2px,#ffbc00 136.2px,#ffbf00 140.2px,#ffe100 154.8px,#ffe900 163.2px)"></i>
<i style="background:linear-gradient(90deg,#fe0 2.2px,#fff500 27.8px,#ffe900 40.8px,#ffed00 42.2px,#fff900 43.2px,#faff05 43.8px,#d4ff2b 45.2px,#d3ff2c 45.8px,#faff05 47.8px,#ffd700 50.8px,#fb0 54.2px,#ffa600 58.8px,#ff9e00 63.8px,#ffa800 68.2px,#ffe900 75.8px,#fff100 78.8px,#ffe900 80.2px,#ffd900 81.8px,#ff7800 87.8px,#f60 89.8px,#ff6200 91.2px,#ff6b00 93.8px,#ff8200 96.2px,#feff01 105.2px,#96ff69 112.8px,#84ff7b 114.8px,#7dff82 116.8px,#83ff7c 118.2px,#97ff68 120.2px,#feff01 126.8px,#ffce00 131.8px,#ffbe00 136.2px,#ffc100 140.2px,#ffe300 154.8px,#ffe900 162.8px)"></i>
<i style="background:linear-gradient(90deg,#ffed00 3.2px,#fff500 27.2px,#fff000 39.8px,#fff300 41.2px,#ff0 42.8px,#caff35 45.8px,#cfff30 46.8px,#fcff03 49.2px,#ffdb00 52.2px,#ffc000 55.8px,#ffac00 60.2px,#ffa600 64.2px,#ffb200 68.8px,#ffeb00 75.8px,#fff400 78.8px,#ffdf00 81.8px,#ff8100 88.2px,#ff7100 91.2px,#ff7900 93.8px,#ff8f00 96.2px,#fffd00 104.2px,#94ff6b 112.2px,#82ff7d 114.2px,#7cff83 116.2px,#81ff7e 117.8px,#92ff6d 119.8px,#fffe00 127.2px,#ffd100 131.8px,#ffc000 136.2px,#ffc400 140.2px,#ffe500 154.2px,#ffea00 162.2px)"></i>
<i style="background:linear-gradient(90deg,#fe0 3.8px,#fff600 38.2px,#ff0 41.8px,#efff10 43.2px,#cdff32 45.2px,#c5ff3a 46.2px,#ceff31 47.8px,#fcff03 50.8px,#ffda00 54.2px,#ffc500 57.2px,#ffb300 61.2px,#ffaf00 64.8px,#ffb900 68.8px,#ffed00 75.8px,#fff600 78.8px,#ffe400 81.8px,#ff8f00 88.2px,#ff8000 91.2px,#ff8500 93.2px,#ff9800 95.8px,#fcff03 103.8px,#97ff68 111.2px,#82ff7d 113.8px,#7cff83 115.8px,#7fff80 117.2px,#8fff70 119.2px,#f0ff0f 126.2px,#fffb00 127.8px,#ffd000 132.2px,#ffc300 136.2px,#ffe700 154.2px,#ffec00 159.2px,#ffe900 161.8px)"></i>
<i style="background:linear-gradient(90deg,#ffef00 4.8px,#fffe00 39.8px,#f2ff0d 42.2px,#c6ff39 45.8px,#c0ff3f 46.8px,#c7ff38 48.2px,#fffb00 52.8px,#ffde00 55.8px,#ffc900 58.8px,#ffb700 64.8px,#ffc000 68.8px,#ffef00 75.8px,#fff700 78.8px,#ffe900 81.8px,#ff9c00 88.2px,#ff8e00 91.2px,#ff9200 93.2px,#ffa500 95.8px,#ff0 102.8px,#95ff6a 110.8px,#81ff7e 113.2px,#7bff84 115.2px,#81ff7e 117.2px,#91ff6e 119.2px,#fffe00 127.8px,#ffd400 131.8px,#ffc600 135.8px,#ffe800 153.2px,#ffec00 160.8px)"></i>
<i style="background:linear-gradient(90deg,#fff000 5.2px,#fff500 25.8px,#ff0 37.2px,#efff10 41.8px,#c6ff39 45.8px,#bdff42 47.2px,#c7ff38 49.2px,#fffc00 54.2px,#ffd100 59.8px,#ffc000 65.2px,#ffc800 69.2px,#fff300 76.2px,#fff800 79.2px,#ffe900 82.2px,#ffa800 88.2px,#ff9b00 91.2px,#ffa000 93.2px,#ffb300 95.8px,#fffe00 101.8px,#98ff67 109.8px,#83ff7c 112.2px,#7bff84 114.8px,#80ff7f 116.8px,#8fff70 118.8px,#fdff02 127.8px,#fffa00 128.2px,#ffd500 131.8px,#ffca00 135.2px,#ffec00 153.8px,#fff000 158.8px,#ffeb00 160.2px)"></i>
<i style="background:linear-gradient(90deg,#fff100 6.2px,#fff600 24.8px,#feff01 35.2px,#ecff13 41.2px,#c1ff3e 46.2px,#baff45 47.8px,#c6ff39 50.2px,#fffd00 55.8px,#ffd700 60.8px,#ffc900 65.8px,#ffcf00 69.2px,#fff400 76.2px,#fffa00 79.2px,#ffed00 82.2px,#ffb300 88.2px,#ffa800 91.2px,#ffad00 93.2px,#fb0 95.2px,#fffd00 100.8px,#96ff69 109.2px,#83ff7c 111.8px,#7bff84 114.2px,#80ff7f 116.2px,#8eff71 118.2px,#fcff03 127.8px,#fffb00 128.2px,#ffd800 131.2px,#ffce00 134.8px,#ffef00 152.8px,#fe0 159.2px)"></i>
<i style="background:linear-gradient(90deg,#fff300 7.2px,#fff700 24.8px,#feff01 33.2px,#e9ff16 40.8px,#bcff43 46.8px,#b7ff48 48.2px,#c0ff3f 50.8px,#fffd00 57.2px,#ffdc00 62.2px,#ffd200 66.8px,#ffd800 70.2px,#fff900 77.2px,#fffa00 80.2px,#ffed00 82.8px,#ffbc00 88.2px,#ffb300 90.8px,#ffb800 92.8px,#ffc500 94.8px,#fffd00 99.8px,#94ff6b 108.8px,#82ff7d 111.2px,#7cff83 113.8px,#80ff7f 115.8px,#8eff71 117.8px,#fdff02 127.8px,#fff800 128.2px,#ffdc00 130.8px,#ffd400 133.8px,#fff200 152.2px,#fff000 158.2px)"></i>
<i style="background:linear-gradient(90deg,#fff500 8.2px,#fdff02 32.2px,#e6ff19 40.2px,#bf4 46.8px,#b4ff4b 48.8px,#bfff40 51.8px,#fffe00 58.8px,#ffe300 63.2px,#ffda00 67.2px,#ffe000 70.8px,#fffa00 77.2px,#fffc00 80.2px,#fff100 82.8px,#ffc600 88.2px,#ffbf00 90.8px,#ffce00 94.2px,#fffd00 98.8px,#97ff68 107.8px,#81ff7e 110.8px,#7cff83 113.2px,#81ff7e 115.2px,#93ff6c 117.8px,#eaff15 126.2px,#fffd00 127.8px,#ffe400 129.8px,#ffdb00 133.8px,#fff600 152.2px,#fff200 157.2px)"></i>
<i style="background:linear-gradient(90deg,#fff800 9.2px,#fdff02 31.2px,#e5ff1a 39.2px,#b7ff48 47.2px,#b1ff4e 49.2px,#beff41 52.8px,#ff0 60.2px,#ffe900 64.2px,#ffe200 68.2px,#fffd00 77.8px,#fffe00 80.2px,#fff400 82.8px,#ffd000 87.8px,#ffc900 90.2px,#ffd700 93.8px,#ff0 97.8px,#98ff67 106.8px,#83ff7c 109.8px,#7cff83 112.2px,#80ff7f 114.2px,#8fff70 116.8px,#fbff04 127.2px,#fffb00 127.8px,#ffea00 129.8px,#ffe300 134.2px,#fffa00 151.2px,#fff500 156.2px)"></i>
<i style="background:linear-gradient(90deg,#fffa00 10.2px,#ff0 12.2px,#ff0 27.8px,#faff05 31.2px,#e3ff1c 38.8px,#b5ff4a 47.2px,#aeff51 49.8px,#baff45 53.2px,#fffe00 62.2px,#fe0 65.8px,#ffea00 68.8px,#fffe00 77.8px,#ff0 80.8px,#ffd800 87.8px,#ffd300 89.8px,#fd0 92.8px,#fffc00 96.2px,#95ff6a 106.2px,#82ff7d 109.2px,#7cff83 111.8px,#8cff73 115.8px,#e9ff16 124.2px,#fffe00 128.2px,#fff000 131.2px,#ffeb00 134.8px,#ff0 150.8px,#fff800 155.2px)"></i>
<i style="background:linear-gradient(90deg,#feff01 11.8px,#feff01 25.8px,#f7ff08 31.2px,#e1ff1e 38.2px,#b4ff4b 47.2px,#acff53 50.2px,#b6ff49 53.8px,#ef1 61.2px,#fffe00 64.2px,#fff100 69.8px,#ff0 77.2px,#feff01 81.2px,#ffe100 87.2px,#ffdc00 89.2px,#ffe400 91.8px,#fffc00 94.8px,#96ff69 105.2px,#82ff7d 108.2px,#7cff83 110.8px,#81ff7e 113.2px,#92ff6d 115.8px,#e8ff17 123.2px,#f3ff0c 124.8px,#efff10 126.8px,#fffe00 129.8px,#fff200 134.8px,#ff0 145.2px,#faff05 150.2px,#fffb00 153.8px)"></i>
<i style="background:linear-gradient(90deg,#fdff02 12.8px,#f5ff0a 16.2px,#faff05 25.8px,#f3ff0c 31.8px,#dbff24 38.8px,#b2ff4d 47.2px,#af5 50.8px,#b6ff49 54.8px,#eaff15 62.2px,#ff0 66.2px,#fff800 70.8px,#faff05 79.2px,#ff0 82.2px,#ffe500 88.2px,#ffeb00 90.8px,#fffd00 93.2px,#93ff6c 104.8px,#81ff7e 107.8px,#7cff83 110.2px,#80ff7f 112.2px,#90ff6f 114.8px,#dfff20 121.8px,#ef1 123.8px,#ecff13 126.8px,#fffe00 131.2px,#fff900 134.8px,#ff0 140.2px,#f5ff0a 148.8px,#f9ff06 152.2px,#ff0 152.8px)"></i>
<i style="background:linear-gradient(90deg,#f9ff06 14.2px,#efff10 17.8px,#f5ff0a 26.2px,#efff10 31.8px,#b1ff4e 46.8px,#a8ff57 51.2px,#b3ff4c 55.2px,#e9ff16 63.8px,#fdff02 68.8px,#ff0 72.2px,#f7ff08 79.2px,#feff01 82.8px,#ffec00 87.8px,#fff200 89.8px,#ff0 91.8px,#93ff6c 103.8px,#81ff7e 106.8px,#7bff84 109.2px,#7eff81 111.2px,#8dff72 113.8px,#daff25 120.8px,#e8ff17 122.8px,#e9ff16 126.2px,#fdff02 133.2px,#efff10 147.2px,#f3ff0c 150.8px,#faff05 151.2px)"></i>
<i style="background:linear-gradient(90deg,#f4ff0b 15.8px,#edff12 16.2px,#e9ff16 18.8px,#efff10 27.2px,#e8ff17 32.8px,#b2ff4d 45.8px,#a7ff58 51.8px,#b0ff4f 55.8px,#e3ff1c 64.2px,#f4ff0b 68.8px,#f8ff07 72.2px,#f3ff0c 79.8px,#ff0 83.8px,#fff200 87.2px,#fffe00 89.8px,#8fff70 103.2px,#7eff81 106.2px,#7aff85 108.8px,#8bff74 112.8px,#d4ff2b 119.8px,#e4ff1b 122.2px,#f6ff09 132.2px,#e9ff16 145.8px,#ef1 149.2px,#f5ff0a 149.8px)"></i>
<i style="background:linear-gradient(90deg,#ef1 17.2px,#e7ff18 17.8px,#e2ff1d 20.2px,#e8ff17 28.2px,#e1ff1e 33.2px,#afff50 45.8px,#a6ff59 52.2px,#b1ff4e 56.8px,#dfff20 65.2px,#edff12 69.2px,#ef1 80.2px,#fffe00 84.8px,#fff700 86.8px,#ff0 88.2px,#dfff20 91.8px,#8cff73 102.8px,#7eff81 105.2px,#79ff86 107.8px,#89ff76 111.8px,#caff35 118.2px,#deff21 121.2px,#efff10 131.8px,#e2ff1d 144.8px,#e7ff18 147.8px,#f0ff0f 148.2px)"></i>
<i style="background:linear-gradient(90deg,#e8ff17 18.8px,#dfff20 19.2px,#daff25 22.2px,#df2 31.8px,#d1ff2e 36.8px,#adff52 45.8px,#a6ff59 52.8px,#b1ff4e 57.8px,#e5ff1a 69.2px,#eaff15 73.2px,#e8ff17 81.2px,#fffe00 85.8px,#fffe00 86.8px,#d2ff2d 91.2px,#83ff7c 103.2px,#7f8 106.8px,#83ff7c 110.2px,#caff35 117.8px,#dcff23 121.2px,#e9ff16 129.8px,#dbff24 141.8px,#e0ff1f 146.2px)"></i>
<i style="background:linear-gradient(90deg,#d8ff27 20.8px,#d1ff2e 24.8px,#d5ff2a 32.2px,#abff54 45.2px,#a7ff58 53.8px,#afff50 58.2px,#deff21 69.8px,#e2ff1d 73.8px,#deff21 82.2px,#e3ff1c 83.8px,#f6ff09 86.2px,#f4ff0b 86.8px,#d5ff2a 88.8px,#cf3 89.8px,#b0ff4f 95.8px,#7fff80 103.2px,#76ff89 106.2px,#80ff7f 109.2px,#c5ff3a 116.8px,#daff25 121.2px,#e3ff1c 128.2px,#d2ff2d 140.2px,#d8ff27 144.8px)"></i>
<i style="background:linear-gradient(90deg,#cfff30 22.8px,#c7ff38 27.2px,#caff35 33.8px,#a3ff5c 46.2px,#acff53 57.8px,#d9ff26 71.8px,#cfff30 83.8px,#e3ff1c 86.8px,#c6ff39 89.2px,#b1ff4e 94.8px,#7cff83 103.2px,#75ff8a 105.8px,#7fff80 108.2px,#c3ff3c 116.2px,#daff25 121.2px,#df2 127.2px,#caff35 138.8px,#d0ff2f 142.8px)"></i>
<i style="background:linear-gradient(90deg,#c6ff39 24.8px,#bcff43 29.2px,#bfff40 35.2px,#b1ff4e 38.8px,#9fff60 47.2px,#aeff51 59.2px,#d2ff2d 72.2px,#d0ff2f 76.2px,#bfff40 83.8px,#c3ff3c 84.8px,#e4ff1b 86.8px,#e4ff1b 87.2px,#c6ff39 90.2px,#a6ff59 96.8px,#7dff82 102.8px,#74ff8b 104.8px,#7bff84 106.8px,#a3ff5c 111.2px,#c1ff3e 115.8px,#d7ff28 120.2px,#d8ff27 124.8px,#c3ff3c 136.2px,#c7ff38 140.8px)"></i>
<i style="background:linear-gradient(90deg,#bcff43 26.8px,#b2ff4d 31.8px,#b2ff4d 36.8px,#a7ff58 40.2px,#9dff62 48.2px,#aeff51 60.2px,#caff35 72.2px,#c7ff38 76.2px,#b6ff49 82.8px,#bdff42 84.2px,#e3ff1c 86.2px,#ef1 87.2px,#c5ff3a 91.2px,#a0ff5f 98.2px,#75ff8a 104.2px,#7cff83 105.8px,#a0ff5f 109.8px,#d4ff2b 119.2px,#d4ff2b 122.8px,#bf4 133.8px,#beff41 138.2px)"></i>
<i style="background:linear-gradient(90deg,#b3ff4c 29.2px,#9eff61 49.2px,#c3ff3c 72.2px,#c1ff3e 75.8px,#b1ff4e 82.2px,#baff45 83.8px,#e5ff1a 86.2px,#edff12 87.2px,#e8ff17 88.2px,#c4ff3b 91.8px,#a6ff59 98.8px,#97ff68 100.8px,#7fff80 102.8px,#7bff84 103.8px,#9dff62 107.2px,#af5 112.2px,#d0ff2f 117.8px,#d0ff2f 120.2px,#b5ff4a 130.8px,#b7ff48 136.2px)"></i>
<i style="background:linear-gradient(90deg,#acff53 31.8px,#a8ff57 36.2px,#aeff51 40.2px,#a0ff5f 51.2px,#bdff42 72.8px,#adff52 81.8px,#b5ff4a 83.2px,#e1ff1e 86.2px,#e6ff19 87.2px,#c2ff3d 91.8px,#afff50 99.8px,#92ff6d 102.2px,#8cff73 103.2px,#a8ff57 106.2px,#a2ff5d 111.2px,#c0ff3f 114.2px,#caff35 116.2px,#b0ff4f 127.2px,#b0ff4f 133.8px)"></i>
<i style="background:linear-gradient(90deg,#a7ff58 34.8px,#acff53 42.2px,#a2ff5d 53.2px,#b7ff48 72.8px,#af5 81.2px,#b3ff4c 83.2px,#d6ff29 85.8px,#df2 86.8px,#c1ff3e 90.8px,#c0ff3f 98.8px,#b5ff4a 100.2px,#9bff64 102.2px,#b0ff4f 105.8px,#9aff65 109.8px,#bcff43 113.2px,#c0ff3f 114.8px,#abff54 123.8px,#af5 130.8px)"></i>
<i style="background:linear-gradient(90deg,#a5ff5a 37.8px,#a9ff56 45.2px,#a3ff5c 55.2px,#b2ff4d 72.8px,#a7ff58 81.8px,#b1ff4e 83.8px,#cbff34 85.8px,#d0ff2f 86.8px,#bdff42 89.8px,#c7ff38 94.2px,#c4ff3b 96.8px,#b7ff48 98.8px,#94ff6b 101.8px,#af5 104.2px,#afff50 105.8px,#af5 107.2px,#96ff69 109.8px,#af5 111.8px,#adff52 112.8px,#a4ff5b 120.8px,#a5ff5a 127.8px)"></i>
<i style="background:linear-gradient(90deg,#a3ff5c 40.8px,#a4ff5b 57.2px,#aeff51 72.8px,#a6ff59 82.2px,#acff53 84.2px,#c4ff3b 86.8px,#bdff42 88.8px,#c4ff3b 93.2px,#b9ff46 96.2px,#92ff6d 100.8px,#a4ff5b 104.8px,#a0ff5f 106.2px,#8bff74 109.2px,#98ff67 112.8px,#a1ff5e 124.2px)"></i>
<i style="background:linear-gradient(90deg,#a0ff5f 44.8px,#abff54 72.2px,#a6ff59 82.8px,#bfff40 87.8px,#bcff43 92.2px,#94ff6b 98.8px,#92ff6d 103.8px,#83ff7c 107.8px,#9cff63 120.8px)"></i>
<i style="background:linear-gradient(90deg,#9dff62 49.2px,#a7ff58 72.2px,#a5ff5a 82.2px,#b5ff4a 88.2px,#acff53 91.8px,#8fff70 97.8px,#81ff7e 104.8px,#95ff6a 116.2px)"></i>
<i style="background:linear-gradient(90deg,#98ff67 54.2px,#a5ff5a 86.8px,#82ff7d 100.2px,#81ff7e 104.2px,#8dff72 111.2px)"></i>
<i style="background:linear-gradient(90deg,#96ff69 60.8px,#9cff63 81.8px,#98ff67 87.2px,#86ff79 95.8px,#84ff7b 104.2px)"></i>
<i style="background:linear-gradient(90deg,#9f6 71.8px,#98ff67 82.2px,#87ff78 93.8px)"></i>
</div>
<div class="m" style="left:381px;top:142px;width:166px;height:83px;clip-path:ellipse(82.50px 41.25px at 83.40px 41.30px)">
<i style="background:linear-gradient(90deg,#90ff6f 67.2px,#8bff74 79.8px,#97ff68 99.8px)"></i>
<i style="background:linear-gradient(90deg,#95ff6a 58.8px,#87ff78 75.2px,#97ff68 92.8px,#98ff67 108.2px)"></i>
<i style="background:linear-gradient(90deg,#9f6 52.8px,#82ff7d 75.2px,#9bff64 94.2px,#9bff64 114.2px)"></i>
<i style="background:linear-gradient(90deg,#9dff62 47.8px,#7eff81 74.8px,#9eff61 95.2px,#9dff62 118.8px)"></i>
<i style="background:linear-gradient(90deg,#a0ff5f 43.8px,#9aff65 53.2px,#79ff86 73.8px,#7eff81 78.8px,#a1ff5e 96.8px,#9fff60 122.8px)"></i>
<i style="background:linear-gradient(90deg,#a3ff5c 40.2px,#9cff63 51.8px,#75ff8a 73.2px,#7aff85 78.2px,#9aff65 90.8px,#a4ff5b 97.2px,#a2ff5d 126.2px)"></i>
<i style="background:linear-gradient(90deg,#a7ff58 37.2px,#9fff60 50.2px,#74ff8b 68.8px,#71ff8e 72.8px,#7f8 78.2px,#9cff63 91.2px,#a7ff58 98.2px,#a6ff59 129.8px)"></i>
<i style="background:linear-gradient(90deg,#af5 34.2px,#a1ff5e 48.8px,#86ff79 61.8px,#72ff8d 67.8px,#6dff92 72.2px,#73ff8c 77.8px,#9cff63 91.2px,#a9ff56 98.2px,#acff53 106.8px,#a4ff5b 115.8px,#a9ff56 132.8px)"></i>
<i style="background:linear-gradient(90deg,#adff52 31.2px,#a5ff5a 45.8px,#85ff7a 61.8px,#71ff8e 66.8px,#6bff94 72.8px,#72ff8d 78.2px,#9eff61 91.8px,#af5 98.2px,#afff50 108.8px,#a5ff5a 117.8px,#adff52 135.2px)"></i>
<i style="background:linear-gradient(90deg,#afff50 29.2px,#a8ff57 43.2px,#93ff6c 50.8px,#81ff7e 62.2px,#6fff90 67.2px,#69ff96 73.2px,#72ff8d 78.8px,#9eff61 91.8px,#abff54 98.2px,#b1ff4e 110.8px,#a6ff59 119.2px,#b0ff4f 137.8px)"></i>
<i style="background:linear-gradient(90deg,#b3ff4c 26.8px,#af5 41.2px,#95ff6a 49.2px,#7fff80 63.2px,#6dff92 68.2px,#67ff98 73.8px,#78ff87 81.2px,#a2ff5d 92.8px,#acff53 98.2px,#b2ff4d 113.2px,#a9ff56 120.2px,#b3ff4c 140.2px)"></i>
<i style="background:linear-gradient(90deg,#b6ff49 24.8px,#abff54 40.2px,#84ff7b 56.8px,#81ff7e 63.2px,#6cff93 67.8px,#6f9 73.2px,#79ff86 81.8px,#a1ff5e 92.2px,#adff52 97.8px,#b3ff4c 114.2px,#acff53 120.8px,#b6ff49 142.2px)"></i>
<i style="background:linear-gradient(90deg,#baff45 22.8px,#abff54 39.8px,#9f6 46.8px,#95ff6a 51.8px,#87ff78 55.2px,#83ff7c 62.8px,#6aff95 67.2px,#68ff97 73.2px,#7bff84 82.8px,#a4ff5b 92.8px,#aeff51 97.8px,#b3ff4c 114.8px,#abff54 121.8px,#b1ff4e 125.2px,#b9ff46 144.2px)"></i>
<i style="background:linear-gradient(90deg,#bcff43 20.8px,#aeff51 38.2px,#9cff63 45.8px,#98ff67 51.2px,#8bff74 54.2px,#87ff78 61.8px,#6dff92 65.8px,#67ff98 68.2px,#7bff84 82.8px,#a5ff5a 92.8px,#aeff51 97.2px,#b2ff4d 114.8px,#a9ff56 122.2px,#b2ff4d 127.2px,#bcff43 146.2px)"></i>
<i style="background:linear-gradient(90deg,#beff41 19.2px,#afff50 38.8px,#9eff61 44.8px,#9aff65 49.8px,#8dff72 53.2px,#8aff75 61.2px,#83ff7c 62.8px,#6cff93 65.2px,#6f9 67.8px,#68ff97 70.8px,#75ff8a 73.8px,#7eff81 83.8px,#a6ff59 92.8px,#afff50 97.2px,#b2ff4d 114.8px,#a9ff56 123.2px,#b3ff4c 129.8px,#bdff42 147.8px)"></i>
<i style="background:linear-gradient(90deg,#c3ff3c 17.2px,#b1ff4e 39.2px,#a1ff5e 43.8px,#9dff62 48.2px,#8bff74 52.2px,#8cff73 61.2px,#87ff78 62.2px,#6cff93 64.8px,#68ff97 66.8px,#6aff95 70.2px,#7cff83 74.2px,#81ff7e 84.8px,#a7ff58 92.8px,#b0ff4f 96.8px,#b1ff4e 114.8px,#af5 124.2px,#b6ff49 132.2px,#bfff40 149.2px)"></i>
<i style="background:linear-gradient(90deg,#c4ff3b 15.8px,#b6ff49 38.8px,#a5ff5a 43.2px,#a1ff5e 46.8px,#8aff75 51.8px,#8bff74 61.2px,#86ff79 62.2px,#73ff8c 63.8px,#6dff92 65.2px,#70ff8f 69.8px,#82ff7d 74.2px,#83ff7c 85.2px,#8cff73 87.8px,#a9ff56 92.8px,#b1ff4e 97.2px,#b1ff4e 115.2px,#abff54 124.8px,#b8ff47 135.2px,#c0ff3f 150.8px)"></i>
<i style="background:linear-gradient(90deg,#c5ff3a 14.2px,#bf4 37.8px,#a8ff57 42.8px,#a5ff5a 45.2px,#89ff76 51.2px,#84ff7b 61.8px,#79ff86 64.2px,#7f8 67.2px,#89ff76 74.8px,#87ff78 86.2px,#8eff71 88.2px,#abff54 92.8px,#b3ff4c 99.2px,#acff53 125.2px,#baff45 137.2px,#c2ff3d 152.2px)"></i>
<i style="background:linear-gradient(90deg,#c4ff3b 13.2px,#c7ff38 21.2px,#bcff43 31.2px,#beff41 36.8px,#8aff75 50.8px,#7bff84 60.2px,#8bff74 63.2px,#83ff7c 67.8px,#90ff6f 75.2px,#89ff76 86.8px,#90ff6f 88.8px,#adff52 92.8px,#b5ff4a 100.8px,#adff52 125.8px,#bf4 138.2px,#c4ff3b 153.8px)"></i>
<i style="background:linear-gradient(90deg,#c8ff37 11.8px,#c4ff3b 14.2px,#c9ff36 21.2px,#beff41 30.8px,#c2ff3d 35.2px,#b9ff46 38.2px,#a5ff5a 41.8px,#8aff75 50.2px,#7aff85 59.2px,#7dff82 60.2px,#98ff67 63.2px,#8eff71 67.8px,#98ff67 76.2px,#8dff72 87.2px,#92ff6d 89.2px,#adff52 92.2px,#b7ff48 101.2px,#aeff51 125.8px,#c5ff3a 154.8px)"></i>
<i style="background:linear-gradient(90deg,#c9ff36 10.8px,#c5ff3a 13.8px,#cbff34 19.2px,#c3ff3c 33.8px,#baff45 37.2px,#a5ff5a 41.2px,#8f7 50.8px,#7dff82 57.2px,#83ff7c 59.8px,#a0ff5f 63.2px,#98ff67 68.8px,#a1ff5e 77.8px,#91ff6e 88.2px,#98ff67 90.2px,#adff52 92.2px,#af5 95.8px,#baff45 101.8px,#b0ff4f 110.8px,#b0ff4f 125.8px,#c7ff38 156.2px)"></i>
<i style="background:linear-gradient(90deg,#c8ff37 9.8px,#cbff34 25.8px,#c2ff3d 33.2px,#87ff78 51.2px,#81ff7e 55.2px,#87ff78 58.8px,#a4ff5b 62.2px,#a8ff57 63.8px,#a2ff5d 68.8px,#af5 78.8px,#98ff67 89.2px,#a9ff56 92.2px,#a5ff5a 95.2px,#beff41 102.2px,#afff50 111.2px,#b1ff4e 125.2px,#c9ff36 157.2px)"></i>
<i style="background:linear-gradient(90deg,#cdff32 8.2px,#cf3 27.2px,#c2ff3d 30.2px,#bdff42 34.8px,#84ff7b 53.8px,#8dff72 57.8px,#a9ff56 61.8px,#b0ff4f 63.8px,#abff54 69.2px,#b5ff4a 79.2px,#a4ff5b 88.8px,#aeff51 91.8px,#a0ff5f 94.2px,#c3ff3c 102.8px,#afff50 112.2px,#b3ff4c 127.2px,#cbff34 158.2px)"></i>
<i style="background:linear-gradient(90deg,#d1ff2e 7.2px,#cbff34 9.2px,#ceff31 26.2px,#bf4 34.8px,#8f7 52.8px,#92ff6d 56.8px,#b6ff49 62.8px,#b3ff4c 69.2px,#c1ff3e 77.8px,#b4ff4b 88.2px,#bcff43 91.8px,#a8ff57 93.8px,#a5ff5a 94.8px,#caff35 102.8px,#b0ff4f 112.2px,#b4ff4b 127.2px,#cf3 159.2px)"></i>
<i style="background:linear-gradient(90deg,#d1ff2e 6.8px,#cfff30 25.2px,#bf4 34.8px,#8cff73 51.8px,#93ff6c 54.8px,#bdff42 62.2px,#bf4 69.2px,#cfff30 79.2px,#c5ff3a 88.2px,#c9ff36 91.2px,#b1ff4e 94.2px,#aeff51 95.8px,#b2ff4d 97.2px,#ceff31 101.2px,#d4ff2b 103.2px,#d0ff2f 105.2px,#b5ff4a 110.2px,#b0ff4f 112.2px,#ceff31 160.2px)"></i>
<i style="background:linear-gradient(90deg,#d2ff2d 5.8px,#d0ff2f 24.2px,#a6ff59 43.8px,#90ff6f 51.2px,#96ff69 53.2px,#c5ff3a 61.8px,#c2ff3d 68.8px,#deff21 80.8px,#d5ff2a 91.2px,#bcff43 94.8px,#b8ff47 96.2px,#bcff43 97.8px,#dbff24 101.8px,#deff21 103.8px,#d5ff2a 106.2px,#b6ff49 110.8px,#b1ff4e 112.8px,#d0ff2f 161.2px)"></i>
<i style="background:linear-gradient(90deg,#d5ff2a 4.8px,#d1ff2e 23.2px,#abff54 42.8px,#95ff6a 50.8px,#9aff65 52.2px,#cdff32 60.8px,#c9ff36 68.2px,#e8ff17 77.8px,#f1ff0e 82.2px,#e4ff1b 90.8px,#c3ff3c 96.8px,#c8ff37 98.2px,#e8ff17 101.8px,#eaff15 104.2px,#df2 106.8px,#b7ff48 111.2px,#b2ff4d 112.8px,#d1ff2e 161.8px)"></i>
<i style="background:linear-gradient(90deg,#d5ff2a 4.2px,#d2ff2d 22.8px,#9cff63 50.8px,#d6ff29 59.8px,#daff25 61.8px,#cfff30 67.8px,#fffe00 80.2px,#fff800 84.8px,#ff0 88.2px,#cfff30 97.2px,#d6ff29 98.8px,#f3ff0c 101.2px,#f8ff07 103.8px,#e6ff19 107.2px,#bcff43 111.2px,#b4ff4b 112.8px,#bcff43 116.2px,#b7ff48 123.8px,#d2ff2d 162.8px)"></i>
<i style="background:linear-gradient(90deg,#d6ff29 3.8px,#d4ff2b 21.8px,#a5ff5a 50.2px,#cf3 55.2px,#e3ff1c 59.2px,#e5ff1a 61.8px,#d6ff29 65.2px,#d6ff29 67.2px,#fffe00 76.2px,#ffe700 81.8px,#ffe000 85.2px,#ffe700 88.2px,#fffd00 91.2px,#df2 97.8px,#e1ff1e 98.8px,#fffe00 100.8px,#fff600 102.8px,#fffe00 105.2px,#ebff14 108.2px,#b8ff47 112.8px,#c1ff3e 115.8px,#b8ff47 123.8px,#d4ff2b 163.2px)"></i>
<i style="background:linear-gradient(90deg,#d9ff26 2.8px,#d4ff2b 21.2px,#acff53 49.8px,#dbff24 55.2px,#f3ff0c 59.8px,#f1ff0e 61.8px,#dfff20 64.8px,#dbff24 66.2px,#feff01 73.2px,#ffd200 81.8px,#ffc600 85.8px,#ffd000 88.8px,#fff900 93.2px,#ff0 95.8px,#efff10 98.2px,#f8ff07 99.2px,#fffb00 99.8px,#ffeb00 100.8px,#ffe700 101.8px,#ff0 107.2px,#eaff15 109.8px,#bfff40 112.8px,#c8ff37 115.8px,#b9ff46 122.2px,#c5ff3a 134.2px,#d5ff2a 163.8px)"></i>
<i style="background:linear-gradient(90deg,#daff25 2.2px,#d5ff2a 21.2px,#c1ff3e 37.8px,#acff53 49.2px,#b2ff4d 50.2px,#cdff32 52.2px,#e0ff1f 54.2px,#ff0 58.8px,#feff01 61.8px,#e9ff16 64.2px,#e2ff1d 65.8px,#ff0 71.2px,#ffb600 82.8px,#ffa900 86.2px,#ffb600 89.2px,#ffe500 92.8px,#ffe400 96.2px,#fff500 98.8px,#fd0 100.8px,#ffdb00 101.8px,#ff0 108.8px,#ef1 110.8px,#cbff34 113.2px,#d1ff2e 115.2px,#b9ff46 122.2px,#c7ff38 133.8px,#d6ff29 164.2px)"></i>
<i style="background:linear-gradient(90deg,#daff25 1.8px,#d5ff2a 22.2px,#c2ff3d 38.8px,#acff53 48.2px,#b1ff4e 49.8px,#e1ff1e 53.2px,#fdff02 56.2px,#ffed00 60.2px,#fff100 61.8px,#fffb00 62.8px,#ebff14 65.2px,#fdff02 68.8px,#ff9400 84.2px,#ff8a00 86.8px,#ff9500 89.2px,#fa0 90.8px,#ffc800 92.2px,#ffd300 93.2px,#ffc900 95.2px,#ffcb00 96.8px,#ffd000 97.8px,#ffe700 99.2px,#ffe700 99.8px,#ffdb00 101.2px,#ffdb00 103.2px,#fffe00 109.8px,#f2ff0d 111.2px,#d3ff2c 113.2px,#d6ff29 115.2px,#c1ff3e 119.2px,#baff45 122.2px,#caff35 133.8px,#cf3 148.8px,#d7ff28 164.8px)"></i>
<i style="background:linear-gradient(90deg,#dbff24 1.2px,#d8ff27 18.8px,#c9ff36 35.8px,#c1ff3e 41.2px,#acff53 47.8px,#b7ff48 49.8px,#eaff15 53.2px,#fffe00 55.2px,#ffe600 58.2px,#ffde00 60.8px,#ffe500 62.2px,#fffe00 63.8px,#f5ff0a 64.8px,#ff0 66.8px,#ffc800 74.8px,#ff7400 84.8px,#ff6900 87.2px,#ff6d00 88.8px,#ff7c00 90.2px,#ffb900 93.2px,#ffb500 95.2px,#ffc100 97.2px,#ffeb00 99.8px,#ffdc00 102.2px,#ffdc00 103.8px,#fffc00 109.8px,#f1ff0e 111.2px,#cdff32 113.2px,#d2ff2d 115.8px,#beff41 120.2px,#b9ff46 122.8px,#cdff32 133.8px,#cdff32 148.8px,#d8ff27 165.2px)"></i>
<i style="background:linear-gradient(90deg,#dbff24 1.2px,#dcff23 10.2px,#cbff34 36.8px,#c3ff3c 41.8px,#adff52 46.8px,#baff45 49.2px,#fffe00 54.2px,#ffde00 57.8px,#ffd000 60.8px,#ffd400 62.2px,#fff600 64.2px,#fff800 64.8px,#ffba00 74.2px,#ff7c00 81.2px,#ff5200 85.2px,#ff4700 87.8px,#ff4b00 89.2px,#ff5b00 90.8px,#ff6d00 91.8px,#ffa100 93.8px,#ffc700 97.8px,#ffe200 99.2px,#ffea00 100.2px,#ffde00 102.8px,#ffde00 104.2px,#ffea00 107.2px,#fffe00 109.8px,#ecff13 111.2px,#d0ff2f 112.8px,#c7ff38 113.8px,#cdff32 116.2px,#baff45 122.2px,#cfff30 133.2px,#ceff31 148.2px,#d8ff27 165.8px)"></i>
<i style="background:linear-gradient(90deg,#dcff23 0.8px,#deff21 8.2px,#cdff32 37.2px,#c5ff3a 42.2px,#afff50 46.8px,#c4ff3b 49.2px,#fcff03 53.2px,#ffd800 57.2px,#ffc800 60.2px,#ffca00 62.2px,#ffdf00 64.2px,#ffd100 68.8px,#ffa300 74.8px,#ff8200 77.8px,#f60 81.2px,#ff3000 85.8px,#ff2600 88.2px,#ff3100 90.2px,#ff4800 91.8px,#ff5600 92.2px,#ffa600 94.2px,#ffbf00 95.8px,#ffca00 97.8px,#ffe300 100.2px,#ffe100 104.8px,#ffec00 107.2px,#feff01 109.8px,#d2ff2d 112.8px,#c8ff37 113.8px,#caff35 116.8px,#b9ff46 122.2px,#d2ff2d 133.2px,#cfff30 148.8px,#dbff24 165.8px)"></i>
<i style="background:linear-gradient(90deg,#df2 0.2px,#deff21 7.8px,#d0ff2f 37.8px,#c7ff38 42.8px,#b3ff4c 46.2px,#bdff42 47.8px,#fdff02 52.8px,#ffd900 56.2px,#ffc500 59.2px,#ffc600 61.2px,#ffd800 63.2px,#ffc700 65.2px,#ffc200 68.8px,#ffa000 72.2px,#ff8e00 74.8px,#ff6700 77.8px,#ff5100 81.2px,#ff1200 85.8px,#ff0800 87.8px,#ff0f00 89.8px,#ff2400 91.2px,#ff4200 92.2px,#ff9f00 94.2px,#ffc500 95.8px,#ffc800 98.2px,#ffdc00 100.8px,#ffe700 105.8px,#fcff03 109.8px,#cf3 113.8px,#b9ff46 122.2px,#d5ff2a 132.8px,#d0ff2f 148.8px,#dbff24 165.8px)"></i>
<i style="background:linear-gradient(90deg,#df2 0.2px,#d3ff2c 36.8px,#caff35 43.2px,#b9ff46 46.2px,#feff01 52.2px,#ffd700 55.8px,#ffc500 58.2px,#ffc400 60.8px,#ffda00 63.2px,#ffc200 65.2px,#ffb700 68.8px,#f80 72.2px,#ff7800 74.8px,#ff4700 77.8px,#ff3c00 81.2px,#ff0900 84.2px,#fa0000 85.2px,#e00 87.8px,#f40000 89.2px,#f00 90.2px,#ff0800 90.8px,#ff3200 92.2px,#ffaf00 95.2px,#ffc500 96.2px,#ffbd00 98.2px,#ffdc00 101.8px,#ffef00 106.8px,#ff0 109.2px,#d2ff2d 113.8px,#baff45 121.8px,#bdff42 124.8px,#d2ff2d 129.2px,#d8ff27 132.2px,#d1ff2e 148.8px,#dcff23 165.8px)"></i>
<i style="background:linear-gradient(90deg,#df2 0.2px,#d6ff29 34.8px,#ceff31 43.8px,#c3ff3c 46.2px,#feff01 51.8px,#ffd300 55.8px,#ffc100 58.2px,#ffc000 60.2px,#ffd400 63.2px,#ffbc00 65.8px,#ffb400 68.2px,#ffa700 69.2px,#ff6b00 72.2px,#ff5f00 74.8px,#ff3100 76.8px,#f20 77.8px,#ff2000 78.8px,#ff2a00 80.2px,#ff2900 81.2px,#ff0100 83.2px,#f50000 83.8px,#e00000 85.2px,#d90000 87.2px,#e30000 89.2px,#fa0000 90.8px,#ff0600 91.2px,#ff2400 92.2px,#ffa600 95.8px,#ffb100 96.2px,#ffaf00 98.2px,#fd0 102.2px,#feff01 109.2px,#d8ff27 113.8px,#bcff43 120.8px,#bfff40 124.8px,#d5ff2a 128.8px,#dcff23 131.8px,#d1ff2e 148.8px,#dcff23 165.8px)"></i>
<i style="background:linear-gradient(90deg,#df2 0.2px,#d9ff26 34.2px,#d0ff2f 43.8px,#c4ff3b 46.2px,#fcff03 51.2px,#ffcf00 55.8px,#ffbd00 58.2px,#fb0 59.8px,#ffc800 63.2px,#ffb000 68.2px,#ff9300 69.8px,#ff4a00 72.2px,#ff3f00 73.2px,#ff3f00 74.8px,#ff0600 76.8px,#fc0000 77.2px,#f60000 78.2px,#f00 79.2px,#ff1700 80.8px,#ff1600 81.2px,#f00 82.2px,#e40000 83.2px,#d20000 84.2px,#c70000 86.2px,#d30000 88.8px,#e80000 90.2px,#fe0000 91.2px,#ff4b00 93.8px,#ffa600 96.2px,#ffac00 98.2px,#ffd800 101.8px,#ffe900 103.8px,#feff01 109.2px,#e2ff1d 113.2px,#bdff42 120.2px,#c2ff3d 124.8px,#d8ff27 128.2px,#e0ff1f 131.2px,#d2ff2d 148.8px,#df2 165.8px)"></i>
<i style="background:linear-gradient(90deg,#deff21 0.2px,#daff25 34.8px,#cfff30 43.2px,#beff41 46.2px,#fdff02 51.2px,#fc0 55.8px,#ffba00 58.2px,#ffb600 59.8px,#fb0 62.8px,#ffb400 67.2px,#ffae00 68.2px,#f90 69.2px,#ff3900 71.8px,#ff1d00 72.8px,#ff1600 73.2px,#ff1800 74.8px,#f90000 75.8px,#dc0000 76.8px,#d10000 78.2px,#da0000 79.2px,#fc0000 80.8px,#fd0000 81.2px,#c80000 83.2px,#bc0000 84.2px,#b80000 85.2px,#bc0000 86.8px,#c80000 88.2px,#d00 89.8px,#fd0000 91.2px,#ff1a00 92.2px,#ff4b00 93.8px,#ffb200 96.2px,#ffba00 96.8px,#ffb600 98.2px,#fb0 99.2px,#ffe900 103.2px,#fff700 105.8px,#fdff02 109.8px,#daff25 116.2px,#bdff42 120.2px,#c7ff38 122.8px,#c8ff37 125.2px,#df2 127.8px,#e4ff1b 130.2px,#d3ff2c 148.8px,#df2 165.8px)"></i>
<i style="background:linear-gradient(90deg,#deff21 0.2px,#dbff24 34.8px,#d0ff2f 41.8px,#bcff43 46.2px,#c4ff3b 47.2px,#fdff02 51.2px,#ffcb00 55.8px,#ffb700 58.2px,#ffa800 64.8px,#ffaf00 67.2px,#fa0 68.2px,#ff9200 69.2px,#ff2100 71.8px,#ff0500 72.8px,#fe0000 73.2px,#ff0600 74.8px,#f90000 75.2px,#d60000 76.2px,#be0000 77.8px,#be0000 79.2px,#d00 80.8px,#df0000 81.2px,#b90000 82.8px,#ae0000 84.2px,#b10000 85.8px,#c10000 87.8px,#d60000 89.2px,#ff0200 91.2px,#ff4100 93.2px,#fa0 95.8px,#ffba00 96.2px,#ffc500 97.2px,#ffc100 98.8px,#ffc500 99.8px,#fff100 103.8px,#fffa00 105.2px,#fcff03 110.8px,#e1ff1e 116.2px,#bfff40 120.2px,#d2ff2d 122.8px,#d1ff2e 125.2px,#e2ff1d 127.2px,#e8ff17 129.2px,#d3ff2c 148.8px,#df2 165.8px)"></i>
<i style="background:linear-gradient(90deg,#deff21 0.2px,#df2 34.2px,#d4ff2b 39.8px,#bcff43 45.8px,#c3ff3c 47.2px,#fcff03 51.2px,#ffca00 55.8px,#ffae00 59.2px,#ff9700 64.8px,#ffa500 67.2px,#ff9f00 68.2px,#ff8600 69.2px,#ff3900 70.8px,#ff1200 71.8px,#ff0200 72.8px,#ff1300 74.8px,#f80000 75.8px,#d70000 76.8px,#c10000 78.2px,#c20000 79.2px,#df0000 80.8px,#e00000 81.2px,#b90000 82.8px,#af0000 84.2px,#b40000 85.8px,#c60000 87.8px,#d00 89.2px,#fe0000 90.8px,#ff3a00 92.8px,#ff9b00 95.2px,#fb0 96.2px,#ffc700 97.2px,#ffcd00 100.2px,#fffe00 104.8px,#fffa00 108.8px,#feff01 111.2px,#e8ff17 116.2px,#c4ff3b 120.2px,#df2 122.8px,#df2 125.2px,#e9ff16 126.8px,#ecff13 128.2px,#d4ff2b 148.8px,#deff21 165.8px)"></i>
<i style="background:linear-gradient(90deg,#deff21 0.2px,#deff21 34.2px,#d6ff29 38.8px,#bdff42 45.8px,#c9ff36 47.8px,#fbff04 51.2px,#fb0 57.2px,#ff8600 64.2px,#ff8200 65.2px,#ff9100 67.2px,#ff8e00 67.8px,#ff6c00 69.2px,#ff2900 70.8px,#f10 71.8px,#ff0f00 72.8px,#ff2300 74.8px,#ff1d00 75.2px,#ff0200 76.2px,#f30000 76.8px,#e20000 77.8px,#de0000 78.8px,#ff0100 80.8px,#f00 81.2px,#c90000 83.2px,#be0000 84.8px,#c00 87.2px,#e00000 88.8px,#fe0000 90.2px,#ff3600 92.2px,#ff9f00 95.2px,#ffb900 96.2px,#ffc600 97.2px,#ffd200 100.8px,#feff01 104.2px,#faff05 105.2px,#fff700 109.2px,#ff0 112.2px,#ecff13 116.2px,#caff35 119.8px,#e2ff1d 122.8px,#deff21 124.8px,#edff12 126.8px,#efff10 128.2px,#d5ff2a 148.8px,#deff21 165.8px)"></i>
<i style="background:linear-gradient(90deg,#deff21 0.2px,#e0ff1f 33.8px,#d8ff27 38.2px,#bdff42 45.2px,#caff35 47.8px,#faff05 51.2px,#fffd00 51.8px,#ffc000 56.8px,#ff6f00 65.2px,#ff7400 67.8px,#ff5300 69.8px,#ff3700 70.8px,#ff2700 71.8px,#ff3400 74.8px,#ff0600 77.8px,#ff0400 78.8px,#ff1b00 80.8px,#ff1900 81.2px,#ff0100 82.2px,#f20000 82.8px,#d70000 84.2px,#d20000 85.8px,#e10000 87.8px,#ff0300 89.8px,#ff3400 91.8px,#ff9300 94.8px,#ffb800 96.2px,#ffc800 97.8px,#ffd600 101.2px,#ff0 103.8px,#f6ff09 104.8px,#fffc00 106.8px,#fff400 108.8px,#feff01 113.2px,#edff12 116.2px,#c5ff3a 119.8px,#deff21 122.2px,#d8ff27 124.8px,#eaff15 126.8px,#efff10 128.8px,#d5ff2a 148.8px,#deff21 165.8px)"></i>
<i style="background:linear-gradient(90deg,#deff21 0.2px,#e1ff1e 33.8px,#d9ff26 38.2px,#c1ff3e 43.2px,#beff41 45.2px,#cf3 47.8px,#fffe00 51.8px,#fc0 55.8px,#ff6800 65.2px,#ff6400 66.2px,#ff7c00 67.8px,#ff7d00 69.8px,#ff5c00 71.2px,#ff4f00 72.2px,#ff4a00 74.8px,#ff2b00 77.2px,#ff2500 78.2px,#ff2e00 80.8px,#ff2300 81.8px,#ff0200 83.2px,#f80000 83.8px,#ed0000 84.8px,#e90000 86.2px,#ff0200 88.8px,#ff2900 90.8px,#ff9800 94.8px,#ffb800 96.2px,#ffc800 97.8px,#ffd400 101.2px,#ffe000 102.2px,#ff0 103.8px,#f4ff0b 104.8px,#fffc00 106.2px,#fff100 108.2px,#feff01 113.2px,#ebff14 116.2px,#c2ff3d 118.8px,#bf4 119.8px,#d8ff27 122.2px,#d5ff2a 124.8px,#e9ff16 127.2px,#ef1 129.2px,#d6ff29 148.8px,#df2 165.8px)"></i>
<i style="background:linear-gradient(90deg,#deff21 0.2px,#e1ff1e 34.2px,#daff25 38.2px,#bdff42 44.8px,#ceff31 47.8px,#ff0 51.8px,#ffbf00 57.2px,#ff7100 65.2px,#ff7600 66.2px,#fa0 68.2px,#ffae00 69.8px,#ff8300 71.8px,#ff7400 72.8px,#ff4500 77.8px,#ff3f00 80.8px,#ff0b00 84.2px,#ff0100 86.2px,#ff0a00 87.8px,#ff2600 89.8px,#ff4500 91.2px,#ff9d00 94.8px,#ffba00 96.2px,#fc0 98.2px,#ffd600 101.8px,#fbff04 104.2px,#ff0 105.2px,#fff200 106.2px,#ffed00 107.8px,#feff01 112.8px,#e7ff18 116.2px,#b8ff47 119.2px,#d2ff2d 122.2px,#d4ff2b 124.8px,#e7ff18 127.8px,#ecff13 129.8px,#d7ff28 148.8px,#df2 165.8px)"></i>
<i style="background:linear-gradient(90deg,#dfff20 0.2px,#e1ff1e 34.8px,#d9ff26 38.8px,#bdff42 44.8px,#cf3 47.2px,#feff01 51.8px,#ffa500 60.2px,#ff8b00 63.2px,#ff8400 64.8px,#ff9100 66.2px,#ffc700 68.2px,#ffd100 69.2px,#ffc800 70.2px,#ff9000 73.2px,#ff6d00 76.2px,#ff5000 80.8px,#ff2300 84.2px,#ff1800 86.2px,#ff1f00 87.8px,#ff3800 89.8px,#ffa400 94.8px,#ffbe00 96.2px,#ffd000 98.2px,#ffde00 102.2px,#fffb00 104.2px,#ffeb00 106.8px,#feff01 111.8px,#e4ff1b 115.8px,#baff45 119.2px,#cbff34 121.8px,#e9ff16 129.8px,#d6ff29 148.8px,#df2 165.8px)"></i>
<i style="background:linear-gradient(90deg,#deff21 0.8px,#e2ff1d 34.8px,#d9ff26 39.2px,#bdff42 44.8px,#caff35 46.8px,#fcff03 51.8px,#ffac00 60.2px,#ff9a00 62.8px,#ff9600 64.2px,#ffa000 65.8px,#ffdf00 68.8px,#ffe200 69.8px,#ffd800 70.8px,#ffa500 73.8px,#ff8500 76.2px,#ff6100 80.8px,#ff3900 84.2px,#ff2f00 86.2px,#ff3400 87.8px,#ff4b00 89.8px,#ffac00 94.8px,#ffca00 96.8px,#ffeb00 101.8px,#fdff02 103.2px,#f5ff0a 104.2px,#fffa00 105.2px,#fff000 106.8px,#ff0 110.2px,#dcff23 115.2px,#b2ff4d 118.8px,#c6ff39 121.8px,#e6ff19 130.2px,#d5ff2a 148.8px,#df2 165.8px)"></i>
<i style="background:linear-gradient(90deg,#deff21 0.8px,#e2ff1d 35.2px,#d8ff27 40.2px,#beff41 44.8px,#fffe00 52.2px,#ffb900 59.8px,#ffa900 62.2px,#ffa600 63.8px,#ffad00 65.2px,#ffe200 68.2px,#ffed00 69.8px,#ffe200 71.2px,#ffae00 74.8px,#ff9000 77.2px,#ff4d00 84.2px,#f40 86.2px,#ff4900 87.8px,#ff5700 89.2px,#fc0 96.2px,#fdff02 101.8px,#dfff20 103.8px,#ff0 106.8px,#f8ff07 109.8px,#d8ff27 114.2px,#aeff51 117.8px,#a8ff57 118.8px,#c2ff3d 122.2px,#df2 127.8px,#e3ff1c 130.2px,#d4ff2b 148.8px,#dbff24 165.8px)"></i>
<i style="background:linear-gradient(90deg,#deff21 1.2px,#e2ff1d 35.8px,#d9ff26 40.8px,#c1ff3e 44.8px,#fdff02 52.2px,#ffc200 59.8px,#ffb400 63.2px,#ffbe00 65.2px,#fff000 68.8px,#fff500 70.2px,#ffe900 71.8px,#f90 78.2px,#ff6400 83.8px,#ff5900 86.2px,#ff5d00 87.8px,#ff6f00 89.8px,#ffcf00 95.8px,#fdff02 100.2px,#daff25 102.8px,#d2ff2d 103.8px,#f0ff0f 107.2px,#e9ff16 110.2px,#d4ff2b 113.2px,#a2ff5d 118.2px,#d3ff2c 126.2px,#e0ff1f 130.8px,#d4ff2b 148.2px,#daff25 165.8px)"></i>
<i style="background:linear-gradient(90deg,#df2 1.8px,#e2ff1d 35.2px,#dbff24 41.2px,#c9ff36 45.2px,#daff25 47.2px,#fdff02 52.8px,#ffcf00 59.2px,#ffc200 62.8px,#ffc800 64.8px,#fff500 68.8px,#fffb00 70.2px,#ffef00 72.2px,#ffb300 77.2px,#ff8200 82.2px,#ff7300 84.2px,#ff6c00 86.2px,#ff7000 87.8px,#ff8100 89.8px,#ffda00 95.8px,#ff0 98.8px,#caff35 103.2px,#cbff34 104.2px,#e1ff1e 107.2px,#e0ff1f 109.2px,#cfff30 112.2px,#a5ff5a 116.8px,#9eff61 118.2px,#cdff32 125.8px,#dcff23 130.8px,#df2 137.2px,#d3ff2c 148.2px,#daff25 165.2px)"></i>
<i style="background:linear-gradient(90deg,#dcff23 2.2px,#e3ff1c 16.8px,#e1ff1e 35.2px,#d9ff26 42.8px,#cf3 45.8px,#ff0 53.8px,#ffd900 59.2px,#ffcf00 62.8px,#ffd900 65.2px,#fffd00 69.2px,#ff0 70.8px,#fff300 72.8px,#ff9200 82.2px,#ff8400 84.2px,#ff7e00 86.2px,#ff8500 88.2px,#ff9700 90.2px,#ff0 97.8px,#c5ff3a 102.8px,#c3ff3c 103.8px,#d3ff2c 107.2px,#d2ff2d 109.2px,#9cff63 117.8px,#a0ff5f 119.2px,#cf3 126.2px,#d9ff26 131.2px,#dbff24 137.8px,#d2ff2d 148.2px,#d9ff26 164.8px)"></i>
<i style="background:linear-gradient(90deg,#dbff24 2.8px,#e3ff1c 17.2px,#e0ff1f 36.2px,#d8ff27 42.8px,#c3ff3c 45.8px,#ff0 54.8px,#ffe400 59.2px,#ffdb00 62.2px,#ffe100 64.8px,#fffe00 68.8px,#feff01 71.8px,#fff200 73.8px,#ffa100 82.2px,#ff8f00 86.2px,#ff9500 88.2px,#ffa600 90.2px,#fffe00 96.8px,#cfff30 100.8px,#bfff40 102.8px,#c6ff39 109.2px,#9f6 117.2px,#9eff61 119.2px,#c9ff36 126.2px,#d6ff29 131.2px,#d9ff26 137.2px,#d2ff2d 148.2px,#d8ff27 164.2px)"></i>
<i style="background:linear-gradient(90deg,#dbff24 3.2px,#e3ff1c 18.2px,#dfff20 36.2px,#d6ff29 42.2px,#bcff43 46.2px,#fffd00 56.2px,#ffec00 59.8px,#ffe700 62.8px,#ffeb00 64.8px,#feff01 68.2px,#f7ff08 70.8px,#feff01 72.8px,#ffaf00 82.2px,#ff9f00 86.2px,#ffb000 89.8px,#fffd00 95.8px,#fbff04 96.2px,#d0ff2f 99.8px,#bf4 102.2px,#baff45 109.2px,#97ff68 116.8px,#9dff62 119.2px,#c5ff3a 126.2px,#d4ff2b 131.8px,#d7ff28 137.2px,#d1ff2e 148.2px,#d8ff27 163.8px)"></i>
<i style="background:linear-gradient(90deg,#daff25 3.8px,#e2ff1d 18.8px,#df2 36.2px,#d4ff2b 41.8px,#b9ff46 46.8px,#fffe00 57.8px,#fff200 62.8px,#feff01 67.2px,#f4ff0b 70.8px,#ff0 73.8px,#ffbc00 82.2px,#ffae00 86.2px,#ffbf00 89.8px,#fcff03 95.2px,#cf3 99.2px,#b4ff4b 102.2px,#b1ff4e 108.8px,#95ff6a 116.2px,#9aff65 118.8px,#c4ff3b 126.8px,#d1ff2e 132.2px,#d0ff2f 148.8px,#d7ff28 162.8px)"></i>
<i style="background:linear-gradient(90deg,#d9ff26 4.8px,#e2ff1d 19.8px,#dcff23 35.8px,#d3ff2c 41.2px,#b7ff48 47.2px,#edff12 55.8px,#feff01 59.8px,#ff0 65.2px,#f2ff0d 70.8px,#fdff02 74.2px,#ffc800 82.2px,#ffbc00 85.8px,#ffc800 89.2px,#fff900 93.8px,#feff01 94.2px,#c3ff3c 99.2px,#b1ff4e 101.8px,#a8ff57 108.8px,#93ff6c 115.8px,#9aff65 118.8px,#c1ff3e 126.8px,#d0ff2f 133.2px,#ceff31 148.2px,#d6ff29 162.2px)"></i>
<i style="background:linear-gradient(90deg,#d8ff27 5.2px,#e1ff1e 20.8px,#dbff24 35.2px,#d2ff2d 40.8px,#b6ff49 47.8px,#bdff42 49.8px,#e7ff18 56.2px,#f5ff0a 60.2px,#f8ff07 63.8px,#efff10 70.8px,#feff01 75.2px,#ffd400 82.2px,#ffc900 85.8px,#ffd500 89.2px,#ff0 93.2px,#caff35 97.8px,#aeff51 101.2px,#92ff6d 115.2px,#98ff67 118.2px,#bdff42 126.2px,#ceff31 133.2px,#cdff32 148.2px,#d5ff2a 161.8px)"></i>
<i style="background:linear-gradient(90deg,#d7ff28 6.2px,#d4ff2b 8.8px,#e1ff1e 21.8px,#daff25 34.8px,#d0ff2f 40.8px,#b4ff4b 48.2px,#e0ff1f 56.2px,#ebff14 59.8px,#edff12 71.2px,#feff01 76.2px,#fd0 82.8px,#ffd600 85.8px,#ffde00 88.8px,#fffe00 92.2px,#c1ff3e 97.8px,#a8ff57 101.2px,#90ff6f 114.8px,#95ff6a 117.8px,#b9ff46 125.8px,#cf3 133.2px,#cf3 147.8px,#d4ff2b 160.8px)"></i>
<i style="background:linear-gradient(90deg,#d6ff29 6.8px,#d3ff2c 9.8px,#dfff20 22.8px,#d9ff26 34.2px,#cfff30 40.8px,#b6ff49 46.8px,#b3ff4c 48.8px,#d7ff28 55.8px,#e2ff1d 59.2px,#edff12 72.2px,#ff0 77.8px,#ffe800 82.8px,#ffe200 85.8px,#ffe900 88.8px,#fffe00 91.2px,#c2ff3d 96.8px,#a5ff5a 100.8px,#9bff64 103.8px,#8eff71 113.8px,#94ff6b 117.2px,#b4ff4b 124.8px,#c9ff36 132.8px,#caff35 147.8px,#d2ff2d 159.8px)"></i>
<i style="background:linear-gradient(90deg,#d4ff2b 7.8px,#d1ff2e 10.8px,#deff21 23.8px,#d9ff26 33.8px,#ceff31 40.8px,#b2ff4d 48.8px,#dbff24 58.8px,#ecff13 73.2px,#feff01 79.2px,#ffed00 85.8px,#fff200 88.2px,#fffe00 90.2px,#beff41 96.2px,#a2ff5d 100.2px,#96ff69 104.2px,#8cff73 112.8px,#92ff6d 116.8px,#b0ff4f 124.2px,#c7ff38 132.2px,#d1ff2e 158.8px)"></i>
<i style="background:linear-gradient(90deg,#d3ff2c 8.8px,#cfff30 11.2px,#daff25 23.8px,#d9ff26 32.8px,#cf3 41.2px,#b1ff4e 49.2px,#d4ff2b 57.8px,#d7ff28 64.8px,#ff0 82.2px,#fff900 85.8px,#fffe00 88.8px,#f1ff0e 90.8px,#baff45 95.8px,#a1ff5e 99.2px,#92ff6d 103.8px,#8aff75 111.8px,#90ff6f 116.2px,#aeff51 123.8px,#c3ff3c 131.2px,#cfff30 157.8px)"></i>
<i style="background:linear-gradient(90deg,#d1ff2e 9.8px,#cdff32 13.2px,#d9ff26 31.8px,#c7ff38 42.8px,#b1ff4e 49.8px,#cfff30 57.2px,#cfff30 64.2px,#e2ff1d 69.8px,#faff05 86.8px,#f0ff0f 89.8px,#b6ff49 95.2px,#9cff63 99.2px,#8eff71 103.8px,#8f7 110.8px,#8eff71 115.2px,#bfff40 130.2px,#cdff32 156.8px)"></i>
<i style="background:linear-gradient(90deg,#cfff30 11.2px,#cbff34 14.2px,#d7ff28 32.2px,#c2ff3d 45.2px,#b1ff4e 50.2px,#cdff32 57.2px,#c8ff37 64.8px,#e0ff1f 70.2px,#ef1 87.2px,#e3ff1c 90.2px,#b6ff49 94.2px,#9cff63 98.2px,#8cff73 103.2px,#86ff79 109.8px,#8cff73 114.8px,#afff50 124.2px,#bf4 130.2px,#cbff34 155.8px)"></i>
<i style="background:linear-gradient(90deg,#cdff32 12.2px,#c8ff37 15.8px,#d5ff2a 32.8px,#c0ff3f 47.2px,#b4ff4b 50.8px,#c4ff3b 53.8px,#cf3 57.8px,#c2ff3d 65.2px,#d6ff29 68.2px,#df2 70.2px,#e1ff1e 87.8px,#d9ff26 90.2px,#b0ff4f 93.8px,#9f6 97.8px,#8aff75 102.8px,#84ff7b 108.8px,#8bff74 114.2px,#afff50 124.8px,#bf4 133.2px,#c9ff36 154.8px)"></i>
<i style="background:linear-gradient(90deg,#c6ff39 13.8px,#d1ff2e 33.8px,#b9ff46 51.2px,#c6ff39 54.2px,#cbff34 58.2px,#bdff42 65.8px,#d3ff2c 68.2px,#d9ff26 70.2px,#d5ff2a 85.8px,#ceff31 90.2px,#acff53 93.2px,#93ff6c 98.2px,#86ff79 103.2px,#82ff7d 108.2px,#8aff75 113.8px,#abff54 124.2px,#c6ff39 153.2px)"></i>
<i style="background:linear-gradient(90deg,#c8ff37 14.8px,#c3ff3c 15.2px,#c2ff3d 18.2px,#cdff32 34.8px,#beff41 44.2px,#bfff40 49.2px,#b6ff49 51.8px,#c3ff3c 54.8px,#c8ff37 58.2px,#beff41 66.2px,#cdff32 68.2px,#d1ff2e 69.8px,#cbff34 83.2px,#c0ff3f 90.2px,#a6ff59 93.2px,#8dff72 99.2px,#80ff7f 107.2px,#87ff78 112.8px,#a7ff58 123.2px,#b5ff4a 133.8px,#c3ff3c 151.8px)"></i>
<i style="background:linear-gradient(90deg,#c5ff3a 16.2px,#c0ff3f 16.8px,#bfff40 19.8px,#c8ff37 35.8px,#baff45 44.8px,#bcff43 49.2px,#b1ff4e 52.2px,#c5ff3a 58.2px,#beff41 67.2px,#c8ff37 71.8px,#c7ff38 76.2px,#b5ff4a 88.8px,#b7ff48 90.8px,#a1ff5e 93.8px,#90ff6f 97.8px,#7fff80 106.8px,#83ff7c 111.2px,#a0ff5f 120.8px,#afff50 130.2px,#bfff40 150.2px)"></i>
<i style="background:linear-gradient(90deg,#bdff42 18.2px,#c4ff3b 36.2px,#b7ff48 45.2px,#baff45 49.2px,#afff50 53.2px,#bfff40 57.8px,#c2ff3d 60.8px,#bdff42 65.8px,#afff50 68.2px,#bdff42 72.2px,#bfff40 76.2px,#b0ff4f 86.8px,#b1ff4e 90.8px,#8cff73 98.2px,#7eff81 106.8px,#83ff7c 111.2px,#9dff62 120.2px,#acff53 129.8px,#bcff43 148.8px)"></i>
<i style="background:linear-gradient(90deg,#b9ff46 19.8px,#beff41 36.8px,#b6ff49 45.8px,#b9ff46 49.2px,#aeff51 53.8px,#bdff42 61.2px,#b4ff4b 65.8px,#a6ff59 68.8px,#b4ff4b 73.2px,#b6ff49 76.8px,#af5 84.8px,#af5 90.2px,#89ff76 98.8px,#7dff82 106.2px,#a8ff57 128.8px,#bf4 147.2px)"></i>
<i style="background:linear-gradient(90deg,#bf4 21.2px,#b4ff4b 21.8px,#b2ff4d 24.2px,#b7ff48 49.2px,#adff52 54.8px,#b8ff47 61.2px,#a1ff5e 69.2px,#aeff51 75.2px,#a1ff5e 84.8px,#a6ff59 88.2px,#83ff7c 100.8px,#7cff83 106.2px,#a6ff59 128.8px,#b4ff4b 145.2px)"></i>
<i style="background:linear-gradient(90deg,#b0ff4f 23.2px,#acff53 46.8px,#b2ff4d 50.8px,#acff53 55.8px,#b3ff4c 62.2px,#9fff60 67.8px,#a5ff5a 75.8px,#9f6 84.8px,#9fff60 87.8px,#7bff84 106.2px,#a4ff5b 128.2px,#b0ff4f 143.2px)"></i>
<i style="background:linear-gradient(90deg,#abff54 25.2px,#a7ff58 47.8px,#afff50 62.8px,#9cff63 68.2px,#9eff61 76.2px,#94ff6b 84.2px,#9dff62 87.8px,#7aff85 105.8px,#a1ff5e 127.8px,#abff54 141.2px)"></i>
<i style="background:linear-gradient(90deg,#a6ff59 27.8px,#a0ff5f 41.8px,#a9ff56 63.2px,#a5ff5a 65.8px,#97ff68 68.8px,#8fff70 83.2px,#9dff62 88.2px,#7aff85 105.2px,#9fff60 127.2px,#a6ff59 139.2px)"></i>
<i style="background:linear-gradient(90deg,#a1ff5e 29.8px,#9bff64 37.2px,#a2ff5d 63.2px,#9eff61 66.2px,#8eff71 69.2px,#8aff75 82.2px,#9aff65 88.2px,#7bff84 104.8px,#9bff64 125.8px,#a0ff5f 136.8px)"></i>
<i style="background:linear-gradient(90deg,#9bff64 32.8px,#96ff69 37.8px,#9cff63 62.2px,#98ff67 65.8px,#86ff79 70.2px,#85ff7a 81.8px,#95ff6a 88.2px,#89ff76 100.2px,#80ff7f 103.8px,#84ff7b 111.8px,#97ff68 124.2px,#9bff64 134.2px)"></i>
<i style="background:linear-gradient(90deg,#95ff6a 35.2px,#96ff69 61.2px,#91ff6e 65.8px,#81ff7e 71.2px,#80ff7f 81.8px,#90ff6f 87.8px,#8bff74 99.2px,#83ff7c 103.2px,#8f7 106.2px,#83ff7c 110.8px,#8bff74 114.8px,#96ff69 131.8px)"></i>
<i style="background:linear-gradient(90deg,#90ff6f 38.2px,#91ff6e 61.2px,#7dff82 72.2px,#7bff84 81.2px,#89ff76 87.2px,#89ff76 97.2px,#81ff7e 102.2px,#8f7 105.8px,#83ff7c 110.2px,#90ff6f 128.2px)"></i>
<i style="background:linear-gradient(90deg,#8bff74 41.8px,#8bff74 62.2px,#78ff87 76.8px,#79ff86 83.2px,#83ff7c 87.2px,#86ff79 93.8px,#80ff7f 101.2px,#86ff79 105.2px,#83ff7c 118.2px,#8bff74 125.2px)"></i>
<i style="background:linear-gradient(90deg,#87ff78 45.2px,#86ff79 63.2px,#75ff8a 78.2px,#83ff7c 91.8px,#7fff80 108.8px,#84ff7b 121.2px)"></i>
<i style="background:linear-gradient(90deg,#82ff7d 49.8px,#81ff7e 65.2px,#73ff8c 78.8px,#7fff80 90.2px,#7fff80 116.8px)"></i>
<i style="background:linear-gradient(90deg,#7eff81 54.8px,#72ff8d 79.8px,#7bff84 90.2px,#7bff84 111.8px)"></i>
<i style="background:linear-gradient(90deg,#7bff84 61.8px,#73ff8c 80.2px,#78ff87 105.2px)"></i>
<i style="background:linear-gradient(90deg,#76ff89 72.2px,#76ff89 94.8px)"></i>
</div>
<svg width="553" height="244" viewBox="0 0 553 244">
<defs><linearGradient id="jet" x1="0" x2="1" y1="0" y2="0"><stop offset="0.0000" stop-color="#000080"/><stop offset="0.0156" stop-color="#00008f"/><stop offset="0.0312" stop-color="#00009f"/><stop offset="0.0469" stop-color="#0000af"/><stop offset="0.0625" stop-color="#0000bf"/><stop offset="0.0781" stop-color="#0000cf"/><stop offset="0.0938" stop-color="#0000df"/><stop offset="0.1094" stop-color="#0000ef"/><stop offset="0.1250" stop-color="#00f"/><stop offset="0.1406" stop-color="#0010ff"/><stop offset="0.1562" stop-color="#0020ff"/><stop offset="0.1719" stop-color="#0030ff"/><stop offset="0.1875" stop-color="#0040ff"/><stop offset="0.2031" stop-color="#0050ff"/><stop offset="0.2188" stop-color="#0060ff"/><stop offset="0.2344" stop-color="#0070ff"/><stop offset="0.2500" stop-color="#0080ff"/><stop offset="0.2656" stop-color="#008fff"/><stop offset="0.2812" stop-color="#009fff"/><stop offset="0.2969" stop-color="#00afff"/><stop offset="0.3125" stop-color="#00bfff"/><stop offset="0.3281" stop-color="#00cfff"/><stop offset="0.3438" stop-color="#00dfff"/><stop offset="0.3594" stop-color="#00efff"/><stop offset="0.3750" stop-color="#0ff"/><stop offset="0.3906" stop-color="#10ffef"/><stop offset="0.4062" stop-color="#20ffdf"/><stop offset="0.4219" stop-color="#30ffcf"/><stop offset="0.4375" stop-color="#40ffbf"/><stop offset="0.4531" stop-color="#50ffaf"/><stop offset="0.4688" stop-color="#60ff9f"/><stop offset="0.4844" stop-color="#70ff8f"/><stop offset="0.5000" stop-color="#80ff80"/><stop offset="0.5156" stop-color="#8fff70"/><stop offset="0.5312" stop-color="#9fff60"/><stop offset="0.5469" stop-color="#afff50"/><stop offset="0.5625" stop-color="#bfff40"/><stop offset="0.5781" stop-color="#cfff30"/><stop offset="0.5938" stop-color="#dfff20"/><stop offset="0.6094" stop-color="#efff10"/><stop offset="0.6250" stop-color="#ff0"/><stop offset="0.6406" stop-color="#ffef00"/><stop offset="0.6562" stop-color="#ffdf00"/><stop offset="0.6719" stop-color="#ffcf00"/><stop offset="0.6875" stop-color="#ffbf00"/><stop offset="0.7031" stop-color="#ffaf00"/><stop offset="0.7188" stop-color="#ff9f00"/><stop offset="0.7344" stop-color="#ff8f00"/><stop offset="0.7500" stop-color="#ff8000"/><stop offset="0.7656" stop-color="#ff7000"/><stop offset="0.7812" stop-color="#ff6000"/><stop offset="0.7969" stop-color="#ff5000"/><stop offset="0.8125" stop-color="#ff4000"/><stop offset="0.8281" stop-color="#ff3000"/><stop offset="0.8438" stop-color="#ff2000"/><stop offset="0.8594" stop-color="#ff1000"/><stop offset="0.8750" stop-color="#f00"/><stop offset="0.8906" stop-color="#ef0000"/><stop offset="0.9062" stop-color="#df0000"/><stop offset="0.9219" stop-color="#cf0000"/><stop offset="0.9375" stop-color="#bf0000"/><stop offset="0.9531" stop-color="#af0000"/><stop offset="0.9688" stop-color="#9f0000"/><stop offset="0.9844" stop-color="#8f0000"/><stop offset="1.0000" stop-color="#800000"/></linearGradient></defs>
<path d="M90.8,94.8L87.9,94.7L85.0,94.5L82.1,94.2L79.2,93.8L76.3,93.3L73.5,92.7L70.8,91.9L68.1,91.1L65.4,90.1L62.9,89.0L60.4,87.9L58.0,86.6L55.7,85.3L53.5,83.8L51.4,82.3L49.4,80.7L47.5,79.0L45.8,77.2L44.2,75.4L42.7,73.5L41.3,71.5L40.1,69.5L39.1,67.5L38.1,65.4L37.4,63.3L36.8,61.1L36.3,59.0L36.0,56.8L35.8,54.6L35.8,52.4L36.0,50.2L36.3,48.0L36.8,45.9L37.4,43.7L38.1,41.6L39.1,39.5L40.1,37.5L41.3,35.5L42.7,33.5L44.2,31.6L45.8,29.8L47.5,28.0L49.4,26.3L51.4,24.7L53.5,23.2L55.7,21.7L58.0,20.4L60.4,19.1L62.9,18.0L65.4,16.9L68.1,15.9L70.8,15.1L73.5,14.3L76.3,13.7L79.2,13.2L82.1,12.8L85.0,12.5L87.9,12.3L90.8,12.2 M90.8,94.8L89.3,94.7L87.9,94.5L86.4,94.2L85.0,93.8L83.6,93.3L82.2,92.7L80.8,91.9L79.4,91.1L78.1,90.1L76.8,89.0L75.6,87.9L74.4,86.6L73.2,85.3L72.1,83.8L71.1,82.3L70.1,80.7L69.2,79.0L68.3,77.2L67.5,75.4L66.7,73.5L66.1,71.5L65.5,69.5L64.9,67.5L64.5,65.4L64.1,63.3L63.8,61.1L63.5,59.0L63.4,56.8L63.3,54.6L63.3,52.4L63.4,50.2L63.5,48.0L63.8,45.9L64.1,43.7L64.5,41.6L64.9,39.5L65.5,37.5L66.1,35.5L66.7,33.5L67.5,31.6L68.3,29.8L69.2,28.0L70.1,26.3L71.1,24.7L72.1,23.2L73.2,21.7L74.4,20.4L75.6,19.1L76.8,18.0L78.1,16.9L79.4,15.9L80.8,15.1L82.2,14.3L83.6,13.7L85.0,13.2L86.4,12.8L87.9,12.5L89.3,12.3L90.8,12.2 M90.8,94.8L90.8,94.7L90.8,94.5L90.8,94.2L90.8,93.8L90.8,93.3L90.8,92.7L90.8,91.9L90.8,91.1L90.8,90.1L90.8,89.0L90.8,87.9L90.8,86.6L90.8,85.3L90.8,83.8L90.8,82.3L90.8,80.7L90.8,79.0L90.8,77.2L90.8,75.4L90.8,73.5L90.8,71.5L90.8,69.5L90.8,67.5L90.8,65.4L90.8,63.3L90.8,61.1L90.8,59.0L90.8,56.8L90.8,54.6L90.8,52.4L90.8,50.2L90.8,48.0L90.8,45.9L90.8,43.7L90.8,41.6L90.8,39.5L90.8,37.5L90.8,35.5L90.8,33.5L90.8,31.6L90.8,29.8L90.8,28.0L90.8,26.3L90.8,24.7L90.8,23.2L90.8,21.7L90.8,20.4L90.8,19.1L90.8,18.0L90.8,16.9L90.8,15.9L90.8,15.1L90.8,14.3L90.8,13.7L90.8,13.2L90.8,12.8L90.8,12.5L90.8,12.3L90.8,12.2 M90.8,94.8L92.3,94.7L93.7,94.5L95.2,94.2L96.6,93.8L98.0,93.3L99.4,92.7L100.8,91.9L102.2,91.1L103.5,90.1L104.8,89.0L106.0,87.9L107.2,86.6L108.4,85.3L109.5,83.8L110.5,82.3L111.5,80.7L112.4,79.0L113.3,77.2L114.1,75.4L114.9,73.5L115.5,71.5L116.1,69.5L116.7,67.5L117.1,65.4L117.5,63.3L117.8,61.1L118.1,59.0L118.2,56.8L118.3,54.6L118.3,52.4L118.2,50.2L118.1,48.0L117.8,45.9L117.5,43.7L117.1,41.6L116.7,39.5L116.1,37.5L115.5,35.5L114.9,33.5L114.1,31.6L113.3,29.8L112.4,28.0L111.5,26.3L110.5,24.7L109.5,23.2L108.4,21.7L107.2,20.4L106.0,19.1L104.8,18.0L103.5,16.9L102.2,15.9L100.8,15.1L99.4,14.3L98.0,13.7L96.6,13.2L95.2,12.8L93.7,12.5L92.3,12.3L90.8,12.2 M90.8,94.8L93.7,94.7L96.6,94.5L99.5,94.2L102.4,93.8L105.3,93.3L108.1,92.7L110.8,91.9L113.5,91.1L116.2,90.1L118.7,89.0L121.2,87.9L123.6,86.6L125.9,85.3L128.1,83.8L130.2,82.3L132.2,80.7L134.1,79.0L135.8,77.2L137.4,75.4L138.9,73.5L140.3,71.5L141.5,69.5L142.5,67.5L143.5,65.4L144.2,63.3L144.8,61.1L145.3,59.0L145.6,56.8L145.8,54.6L145.8,52.4L145.6,50.2L145.3,48.0L144.8,45.9L144.2,43.7L143.5,41.6L142.5,39.5L141.5,37.5L140.3,35.5L138.9,33.5L137.4,31.6L135.8,29.8L134.1,28.0L132.2,26.3L130.2,24.7L128.1,23.2L125.9,21.7L123.6,20.4L121.2,19.1L118.7,18.0L116.2,16.9L113.5,15.9L110.8,15.1L108.1,14.3L105.3,13.7L102.4,13.2L99.5,12.8L96.6,12.5L93.7,12.3L90.8,12.2 M63.9,92.5 L117.7,92.5 M20.9,75.4 L160.7,75.4 M8.3,53.5 L173.3,53.5 M20.9,31.6 L160.7,31.6 M63.9,14.5 L117.7,14.5" fill="none" stroke="#000" stroke-opacity="0.22" stroke-width="0.35" stroke-dasharray="0.5,1.2"/>
<ellipse cx="90.80" cy="53.50" rx="82.50" ry="41.25" fill="none" stroke="#000" stroke-opacity="0.45" stroke-width="0.4"/>
<text class="g" x="7.3" y="55.7" text-anchor="middle">180°W</text>
<text class="g" x="35.1" y="55.7" text-anchor="middle">120°W</text>
<text class="g" x="62.6" y="55.7" text-anchor="middle">60°W</text>
<text class="g" x="117.6" y="55.7" text-anchor="middle">60°E</text>
<text class="g" x="145.1" y="55.7" text-anchor="middle">120°E</text>
<text class="g" x="172.9" y="55.7" text-anchor="middle">180°E</text>
<text class="g" x="61.5" y="16.1" text-anchor="end">80°N</text>
<text class="g" x="18.5" y="33.2" text-anchor="end">40°N</text>
<text class="g" x="18.5" y="77.4" text-anchor="end">40°S</text>
<text class="g" x="61.5" y="94.5" text-anchor="end">80°S</text>
<path d="M71.20,45.10L71.66,46.37L73.01,46.41L71.94,47.24L72.32,48.54L71.20,47.78L70.08,48.54L70.46,47.24L69.39,46.41L70.74,46.37Z M94.70,88.60L95.16,89.87L96.51,89.91L95.44,90.74L95.82,92.04L94.70,91.28L93.58,92.04L93.96,90.74L92.89,89.91L94.24,89.87Z" fill="#f4f4ff" stroke="#101028" stroke-width="0.5" stroke-linejoin="miter"/>
<circle cx="91.00" cy="54.05" r="1.75" fill="#000"/>
<text class="t" x="90.7" y="8.7">N = 2</text>
<rect x="8.30" y="101.00" width="165.00" height="7.80" fill="url(#jet)" stroke="#000" stroke-opacity="0.5" stroke-width="0.3"/>
<text class="k" x="11.60" y="114.00">-0.06</text>
<text class="k" x="38.00" y="114.00">-0.04</text>
<text class="k" x="64.40" y="114.00">-0.02</text>
<text class="k" x="90.80" y="114.00">0</text>
<text class="k" x="117.20" y="114.00">0.02</text>
<text class="k" x="143.60" y="114.00">0.04</text>
<text class="k" x="170.00" y="114.00">0.06</text>
<path d="M11.60,101.00 v1 M11.60,108.80 v-1 M38.00,101.00 v1 M38.00,108.80 v-1 M64.40,101.00 v1 M64.40,108.80 v-1 M90.80,101.00 v1 M90.80,108.80 v-1 M117.20,101.00 v1 M117.20,108.80 v-1 M143.60,101.00 v1 M143.60,108.80 v-1 M170.00,101.00 v1 M170.00,108.80 v-1" stroke="#000" stroke-opacity="0.6" stroke-width="0.3" fill="none"/>
<path d="M277.7,94.8L274.8,94.7L271.9,94.5L269.0,94.2L266.1,93.8L263.2,93.3L260.4,92.7L257.7,91.9L255.0,91.1L252.3,90.1L249.8,89.0L247.3,87.9L244.9,86.6L242.6,85.3L240.4,83.8L238.3,82.3L236.3,80.7L234.4,79.0L232.7,77.2L231.1,75.4L229.6,73.5L228.2,71.5L227.0,69.5L226.0,67.5L225.0,65.4L224.3,63.3L223.7,61.1L223.2,59.0L222.9,56.8L222.7,54.6L222.7,52.4L222.9,50.2L223.2,48.0L223.7,45.9L224.3,43.7L225.0,41.6L226.0,39.5L227.0,37.5L228.2,35.5L229.6,33.5L231.1,31.6L232.7,29.8L234.4,28.0L236.3,26.3L238.3,24.7L240.4,23.2L242.6,21.7L244.9,20.4L247.3,19.1L249.8,18.0L252.3,16.9L255.0,15.9L257.7,15.1L260.4,14.3L263.2,13.7L266.1,13.2L269.0,12.8L271.9,12.5L274.8,12.3L277.7,12.2 M277.7,94.8L276.2,94.7L274.8,94.5L273.3,94.2L271.9,93.8L270.5,93.3L269.1,92.7L267.7,91.9L266.3,91.1L265.0,90.1L263.7,89.0L262.5,87.9L261.3,86.6L260.1,85.3L259.0,83.8L258.0,82.3L257.0,80.7L256.1,79.0L255.2,77.2L254.4,75.4L253.6,73.5L253.0,71.5L252.4,69.5L251.8,67.5L251.4,65.4L251.0,63.3L250.7,61.1L250.4,59.0L250.3,56.8L250.2,54.6L250.2,52.4L250.3,50.2L250.4,48.0L250.7,45.9L251.0,43.7L251.4,41.6L251.8,39.5L252.4,37.5L253.0,35.5L253.6,33.5L254.4,31.6L255.2,29.8L256.1,28.0L257.0,26.3L258.0,24.7L259.0,23.2L260.1,21.7L261.3,20.4L262.5,19.1L263.7,18.0L265.0,16.9L266.3,15.9L267.7,15.1L269.1,14.3L270.5,13.7L271.9,13.2L273.3,12.8L274.8,12.5L276.2,12.3L277.7,12.2 M277.7,94.8L277.7,94.7L277.7,94.5L277.7,94.2L277.7,93.8L277.7,93.3L277.7,92.7L277.7,91.9L277.7,91.1L277.7,90.1L277.7,89.0L277.7,87.9L277.7,86.6L277.7,85.3L277.7,83.8L277.7,82.3L277.7,80.7L277.7,79.0L277.7,77.2L277.7,75.4L277.7,73.5L277.7,71.5L277.7,69.5L277.7,67.5L277.7,65.4L277.7,63.3L277.7,61.1L277.7,59.0L277.7,56.8L277.7,54.6L277.7,52.4L277.7,50.2L277.7,48.0L277.7,45.9L277.7,43.7L277.7,41.6L277.7,39.5L277.7,37.5L277.7,35.5L277.7,33.5L277.7,31.6L277.7,29.8L277.7,28.0L277.7,26.3L277.7,24.7L277.7,23.2L277.7,21.7L277.7,20.4L277.7,19.1L277.7,18.0L277.7,16.9L277.7,15.9L277.7,15.1L277.7,14.3L277.7,13.7L277.7,13.2L277.7,12.8L277.7,12.5L277.7,12.3L277.7,12.2 M277.7,94.8L279.2,94.7L280.6,94.5L282.1,94.2L283.5,93.8L284.9,93.3L286.3,92.7L287.7,91.9L289.1,91.1L290.4,90.1L291.7,89.0L292.9,87.9L294.1,86.6L295.3,85.3L296.4,83.8L297.4,82.3L298.4,80.7L299.3,79.0L300.2,77.2L301.0,75.4L301.8,73.5L302.4,71.5L303.0,69.5L303.6,67.5L304.0,65.4L304.4,63.3L304.7,61.1L305.0,59.0L305.1,56.8L305.2,54.6L305.2,52.4L305.1,50.2L305.0,48.0L304.7,45.9L304.4,43.7L304.0,41.6L303.6,39.5L303.0,37.5L302.4,35.5L301.8,33.5L301.0,31.6L300.2,29.8L299.3,28.0L298.4,26.3L297.4,24.7L296.4,23.2L295.3,21.7L294.1,20.4L292.9,19.1L291.7,18.0L290.4,16.9L289.1,15.9L287.7,15.1L286.3,14.3L284.9,13.7L283.5,13.2L282.1,12.8L280.6,12.5L279.2,12.3L277.7,12.2 M277.7,94.8L280.6,94.7L283.5,94.5L286.4,94.2L289.3,93.8L292.2,93.3L295.0,92.7L297.7,91.9L300.4,91.1L303.1,90.1L305.6,89.0L308.1,87.9L310.5,86.6L312.8,85.3L315.0,83.8L317.1,82.3L319.1,80.7L321.0,79.0L322.7,77.2L324.3,75.4L325.8,73.5L327.2,71.5L328.4,69.5L329.4,67.5L330.4,65.4L331.1,63.3L331.7,61.1L332.2,59.0L332.5,56.8L332.7,54.6L332.7,52.4L332.5,50.2L332.2,48.0L331.7,45.9L331.1,43.7L330.4,41.6L329.4,39.5L328.4,37.5L327.2,35.5L325.8,33.5L324.3,31.6L322.7,29.8L321.0,28.0L319.1,26.3L317.1,24.7L315.0,23.2L312.8,21.7L310.5,20.4L308.1,19.1L305.6,18.0L303.1,16.9L300.4,15.9L297.7,15.1L295.0,14.3L292.2,13.7L289.3,13.2L286.4,12.8L283.5,12.5L280.6,12.3L277.7,12.2 M250.8,92.5 L304.6,92.5 M207.8,75.4 L347.6,75.4 M195.2,53.5 L360.2,53.5 M207.8,31.6 L347.6,31.6 M250.8,14.5 L304.6,14.5" fill="none" stroke="#000" stroke-opacity="0.22" stroke-width="0.35" stroke-dasharray="0.5,1.2"/>
<ellipse cx="277.70" cy="53.50" rx="82.50" ry="41.25" fill="none" stroke="#000" stroke-opacity="0.45" stroke-width="0.4"/>
<text class="g" x="194.2" y="55.7" text-anchor="middle">180°W</text>
<text class="g" x="222.0" y="55.7" text-anchor="middle">120°W</text>
<text class="g" x="249.5" y="55.7" text-anchor="middle">60°W</text>
<text class="g" x="304.5" y="55.7" text-anchor="middle">60°E</text>
<text class="g" x="332.0" y="55.7" text-anchor="middle">120°E</text>
<text class="g" x="359.8" y="55.7" text-anchor="middle">180°E</text>
<text class="g" x="248.4" y="16.1" text-anchor="end">80°N</text>
<text class="g" x="205.4" y="33.2" text-anchor="end">40°N</text>
<text class="g" x="205.4" y="77.4" text-anchor="end">40°S</text>
<text class="g" x="248.4" y="94.5" text-anchor="end">80°S</text>
<path d="M258.10,45.10L258.56,46.37L259.91,46.41L258.84,47.24L259.22,48.54L258.10,47.78L256.98,48.54L257.36,47.24L256.29,46.41L257.64,46.37Z M281.60,88.60L282.06,89.87L283.41,89.91L282.34,90.74L282.72,92.04L281.60,91.28L280.48,92.04L280.86,90.74L279.79,89.91L281.14,89.87Z M210.00,32.30L210.46,33.57L211.81,33.61L210.74,34.44L211.12,35.74L210.00,34.98L208.88,35.74L209.26,34.44L208.19,33.61L209.54,33.57Z M314.20,53.20L314.66,54.47L316.01,54.51L314.94,55.34L315.32,56.64L314.20,55.88L313.08,56.64L313.46,55.34L312.39,54.51L313.74,54.47Z M304.50,87.60L304.96,88.87L306.31,88.91L305.24,89.74L305.62,91.04L304.50,90.28L303.38,91.04L303.76,89.74L302.69,88.91L304.04,88.87Z" fill="#f4f4ff" stroke="#101028" stroke-width="0.5" stroke-linejoin="miter"/>
<circle cx="277.90" cy="54.05" r="1.75" fill="#000"/>
<text class="t" x="277.6" y="8.7">N = 5</text>
<rect x="195.20" y="101.00" width="165.00" height="7.80" fill="url(#jet)" stroke="#000" stroke-opacity="0.5" stroke-width="0.3"/>
<text class="k" x="202.70" y="114.00">-0.15</text>
<text class="k" x="227.70" y="114.00">-0.1</text>
<text class="k" x="252.70" y="114.00">-0.05</text>
<text class="k" x="277.70" y="114.00">0</text>
<text class="k" x="302.70" y="114.00">0.05</text>
<text class="k" x="327.70" y="114.00">0.1</text>
<text class="k" x="352.70" y="114.00">0.15</text>
<path d="M202.70,101.00 v1 M202.70,108.80 v-1 M227.70,101.00 v1 M227.70,108.80 v-1 M252.70,101.00 v1 M252.70,108.80 v-1 M277.70,101.00 v1 M277.70,108.80 v-1 M302.70,101.00 v1 M302.70,108.80 v-1 M327.70,101.00 v1 M327.70,108.80 v-1 M352.70,101.00 v1 M352.70,108.80 v-1" stroke="#000" stroke-opacity="0.6" stroke-width="0.3" fill="none"/>
<path d="M464.4,94.8L461.5,94.7L458.6,94.5L455.7,94.2L452.8,93.8L449.9,93.3L447.1,92.7L444.4,91.9L441.7,91.1L439.0,90.1L436.5,89.0L434.0,87.9L431.6,86.6L429.3,85.3L427.1,83.8L425.0,82.3L423.0,80.7L421.1,79.0L419.4,77.2L417.8,75.4L416.3,73.5L414.9,71.5L413.7,69.5L412.7,67.5L411.7,65.4L411.0,63.3L410.4,61.1L409.9,59.0L409.6,56.8L409.4,54.6L409.4,52.4L409.6,50.2L409.9,48.0L410.4,45.9L411.0,43.7L411.7,41.6L412.7,39.5L413.7,37.5L414.9,35.5L416.3,33.5L417.8,31.6L419.4,29.8L421.1,28.0L423.0,26.3L425.0,24.7L427.1,23.2L429.3,21.7L431.6,20.4L434.0,19.1L436.5,18.0L439.0,16.9L441.7,15.9L444.4,15.1L447.1,14.3L449.9,13.7L452.8,13.2L455.7,12.8L458.6,12.5L461.5,12.3L464.4,12.2 M464.4,94.8L462.9,94.7L461.5,94.5L460.0,94.2L458.6,93.8L457.2,93.3L455.8,92.7L454.4,91.9L453.0,91.1L451.7,90.1L450.4,89.0L449.2,87.9L448.0,86.6L446.8,85.3L445.7,83.8L444.7,82.3L443.7,80.7L442.8,79.0L441.9,77.2L441.1,75.4L440.3,73.5L439.7,71.5L439.1,69.5L438.5,67.5L438.1,65.4L437.7,63.3L437.4,61.1L437.1,59.0L437.0,56.8L436.9,54.6L436.9,52.4L437.0,50.2L437.1,48.0L437.4,45.9L437.7,43.7L438.1,41.6L438.5,39.5L439.1,37.5L439.7,35.5L440.3,33.5L441.1,31.6L441.9,29.8L442.8,28.0L443.7,26.3L444.7,24.7L445.7,23.2L446.8,21.7L448.0,20.4L449.2,19.1L450.4,18.0L451.7,16.9L453.0,15.9L454.4,15.1L455.8,14.3L457.2,13.7L458.6,13.2L460.0,12.8L461.5,12.5L462.9,12.3L464.4,12.2 M464.4,94.8L464.4,94.7L464.4,94.5L464.4,94.2L464.4,93.8L464.4,93.3L464.4,92.7L464.4,91.9L464.4,91.1L464.4,90.1L464.4,89.0L464.4,87.9L464.4,86.6L464.4,85.3L464.4,83.8L464.4,82.3L464.4,80.7L464.4,79.0L464.4,77.2L464.4,75.4L464.4,73.5L464.4,71.5L464.4,69.5L464.4,67.5L464.4,65.4L464.4,63.3L464.4,61.1L464.4,59.0L464.4,56.8L464.4,54.6L464.4,52.4L464.4,50.2L464.4,48.0L464.4,45.9L464.4,43.7L464.4,41.6L464.4,39.5L464.4,37.5L464.4,35.5L464.4,33.5L464.4,31.6L464.4,29.8L464.4,28.0L464.4,26.3L464.4,24.7L464.4,23.2L464.4,21.7L464.4,20.4L464.4,19.1L464.4,18.0L464.4,16.9L464.4,15.9L464.4,15.1L464.4,14.3L464.4,13.7L464.4,13.2L464.4,12.8L464.4,12.5L464.4,12.3L464.4,12.2 M464.4,94.8L465.9,94.7L467.3,94.5L468.8,94.2L470.2,93.8L471.6,93.3L473.0,92.7L474.4,91.9L475.8,91.1L477.1,90.1L478.4,89.0L479.6,87.9L480.8,86.6L482.0,85.3L483.1,83.8L484.1,82.3L485.1,80.7L486.0,79.0L486.9,77.2L487.7,75.4L488.5,73.5L489.1,71.5L489.7,69.5L490.3,67.5L490.7,65.4L491.1,63.3L491.4,61.1L491.7,59.0L491.8,56.8L491.9,54.6L491.9,52.4L491.8,50.2L491.7,48.0L491.4,45.9L491.1,43.7L490.7,41.6L490.3,39.5L489.7,37.5L489.1,35.5L488.5,33.5L487.7,31.6L486.9,29.8L486.0,28.0L485.1,26.3L484.1,24.7L483.1,23.2L482.0,21.7L480.8,20.4L479.6,19.1L478.4,18.0L477.1,16.9L475.8,15.9L474.4,15.1L473.0,14.3L471.6,13.7L470.2,13.2L468.8,12.8L467.3,12.5L465.9,12.3L464.4,12.2 M464.4,94.8L467.3,94.7L470.2,94.5L473.1,94.2L476.0,93.8L478.9,93.3L481.7,92.7L484.4,91.9L487.1,91.1L489.8,90.1L492.3,89.0L494.8,87.9L497.2,86.6L499.5,85.3L501.7,83.8L503.8,82.3L505.8,80.7L507.7,79.0L509.4,77.2L511.0,75.4L512.5,73.5L513.9,71.5L515.1,69.5L516.1,67.5L517.1,65.4L517.8,63.3L518.4,61.1L518.9,59.0L519.2,56.8L519.4,54.6L519.4,52.4L519.2,50.2L518.9,48.0L518.4,45.9L517.8,43.7L517.1,41.6L516.1,39.5L515.1,37.5L513.9,35.5L512.5,33.5L511.0,31.6L509.4,29.8L507.7,28.0L505.8,26.3L503.8,24.7L501.7,23.2L499.5,21.7L497.2,20.4L494.8,19.1L492.3,18.0L489.8,16.9L487.1,15.9L484.4,15.1L481.7,14.3L478.9,13.7L476.0,13.2L473.1,12.8L470.2,12.5L467.3,12.3L464.4,12.2 M437.5,92.5 L491.3,92.5 M394.5,75.4 L534.3,75.4 M381.9,53.5 L546.9,53.5 M394.5,31.6 L534.3,31.6 M437.5,14.5 L491.3,14.5" fill="none" stroke="#000" stroke-opacity="0.22" stroke-width="0.35" stroke-dasharray="0.5,1.2"/>
<ellipse cx="464.40" cy="53.50" rx="82.50" ry="41.25" fill="none" stroke="#000" stroke-opacity="0.45" stroke-width="0.4"/>
<text class="g" x="380.9" y="55.7" text-anchor="middle">180°W</text>
<text class="g" x="408.7" y="55.7" text-anchor="middle">120°W</text>
<text class="g" x="436.2" y="55.7" text-anchor="middle">60°W</text>
<text class="g" x="491.2" y="55.7" text-anchor="middle">60°E</text>
<text class="g" x="518.7" y="55.7" text-anchor="middle">120°E</text>
<text class="g" x="546.5" y="55.7" text-anchor="middle">180°E</text>
<text class="g" x="435.1" y="16.1" text-anchor="end">80°N</text>
<text class="g" x="392.1" y="33.2" text-anchor="end">40°N</text>
<text class="g" x="392.1" y="77.4" text-anchor="end">40°S</text>
<text class="g" x="435.1" y="94.5" text-anchor="end">80°S</text>
<path d="M444.80,45.10L445.26,46.37L446.61,46.41L445.54,47.24L445.92,48.54L444.80,47.78L443.68,48.54L444.06,47.24L442.99,46.41L444.34,46.37Z M468.30,88.60L468.76,89.87L470.11,89.91L469.04,90.74L469.42,92.04L468.30,91.28L467.18,92.04L467.56,90.74L466.49,89.91L467.84,89.87Z M396.70,32.30L397.16,33.57L398.51,33.61L397.44,34.44L397.82,35.74L396.70,34.98L395.58,35.74L395.96,34.44L394.89,33.61L396.24,33.57Z M500.90,53.20L501.36,54.47L502.71,54.51L501.64,55.34L502.02,56.64L500.90,55.88L499.78,56.64L500.16,55.34L499.09,54.51L500.44,54.47Z M491.20,87.60L491.66,88.87L493.01,88.91L491.94,89.74L492.32,91.04L491.20,90.28L490.08,91.04L490.46,89.74L489.39,88.91L490.74,88.87Z M443.80,20.30L444.26,21.57L445.61,21.61L444.54,22.44L444.92,23.74L443.80,22.98L442.68,23.74L443.06,22.44L441.99,21.61L443.34,21.57Z M390.10,44.40L390.56,45.67L391.91,45.71L390.84,46.54L391.22,47.84L390.10,47.08L388.98,47.84L389.36,46.54L388.29,45.71L389.64,45.67Z M385.20,53.50L385.66,54.77L387.01,54.81L385.94,55.64L386.32,56.94L385.20,56.18L384.08,56.94L384.46,55.64L383.39,54.81L384.74,54.77Z M501.90,21.90L502.36,23.17L503.71,23.21L502.64,24.04L503.02,25.34L501.90,24.58L500.78,25.34L501.16,24.04L500.09,23.21L501.44,23.17Z M422.80,81.40L423.26,82.67L424.61,82.71L423.54,83.54L423.92,84.84L422.80,84.08L421.68,84.84L422.06,83.54L420.99,82.71L422.34,82.67Z" fill="#f4f4ff" stroke="#101028" stroke-width="0.5" stroke-linejoin="miter"/>
<circle cx="464.60" cy="54.05" r="1.75" fill="#000"/>
<text class="t" x="464.3" y="8.7">N = 10</text>
<rect x="381.90" y="101.00" width="165.00" height="7.80" fill="url(#jet)" stroke="#000" stroke-opacity="0.5" stroke-width="0.3"/>
<text class="k" x="397.00" y="114.00">-0.2</text>
<text class="k" x="413.85" y="114.00">-0.15</text>
<text class="k" x="430.70" y="114.00">-0.1</text>
<text class="k" x="447.55" y="114.00">-0.05</text>
<text class="k" x="464.40" y="114.00">0</text>
<text class="k" x="481.25" y="114.00">0.05</text>
<text class="k" x="498.10" y="114.00">0.1</text>
<text class="k" x="514.95" y="114.00">0.15</text>
<text class="k" x="531.80" y="114.00">0.2</text>
<path d="M397.00,101.00 v1 M397.00,108.80 v-1 M413.85,101.00 v1 M413.85,108.80 v-1 M430.70,101.00 v1 M430.70,108.80 v-1 M447.55,101.00 v1 M447.55,108.80 v-1 M464.40,101.00 v1 M464.40,108.80 v-1 M481.25,101.00 v1 M481.25,108.80 v-1 M498.10,101.00 v1 M498.10,108.80 v-1 M514.95,101.00 v1 M514.95,108.80 v-1 M531.80,101.00 v1 M531.80,108.80 v-1" stroke="#000" stroke-opacity="0.6" stroke-width="0.3" fill="none"/>
<path d="M90.8,224.6L87.9,224.5L85.0,224.3L82.1,224.0L79.2,223.6L76.3,223.1L73.5,222.5L70.8,221.7L68.1,220.9L65.4,219.9L62.9,218.8L60.4,217.7L58.0,216.4L55.7,215.1L53.5,213.6L51.4,212.1L49.4,210.5L47.5,208.8L45.8,207.0L44.2,205.2L42.7,203.3L41.3,201.3L40.1,199.3L39.1,197.3L38.1,195.2L37.4,193.1L36.8,190.9L36.3,188.8L36.0,186.6L35.8,184.4L35.8,182.2L36.0,180.0L36.3,177.8L36.8,175.7L37.4,173.5L38.1,171.4L39.1,169.3L40.1,167.3L41.3,165.3L42.7,163.3L44.2,161.4L45.8,159.6L47.5,157.8L49.4,156.1L51.4,154.5L53.5,153.0L55.7,151.5L58.0,150.2L60.4,148.9L62.9,147.8L65.4,146.7L68.1,145.7L70.8,144.9L73.5,144.1L76.3,143.5L79.2,143.0L82.1,142.6L85.0,142.3L87.9,142.1L90.8,142.1 M90.8,224.6L89.3,224.5L87.9,224.3L86.4,224.0L85.0,223.6L83.6,223.1L82.2,222.5L80.8,221.7L79.4,220.9L78.1,219.9L76.8,218.8L75.6,217.7L74.4,216.4L73.2,215.1L72.1,213.6L71.1,212.1L70.1,210.5L69.2,208.8L68.3,207.0L67.5,205.2L66.7,203.3L66.1,201.3L65.5,199.3L64.9,197.3L64.5,195.2L64.1,193.1L63.8,190.9L63.5,188.8L63.4,186.6L63.3,184.4L63.3,182.2L63.4,180.0L63.5,177.8L63.8,175.7L64.1,173.5L64.5,171.4L64.9,169.3L65.5,167.3L66.1,165.3L66.7,163.3L67.5,161.4L68.3,159.6L69.2,157.8L70.1,156.1L71.1,154.5L72.1,153.0L73.2,151.5L74.4,150.2L75.6,148.9L76.8,147.8L78.1,146.7L79.4,145.7L80.8,144.9L82.2,144.1L83.6,143.5L85.0,143.0L86.4,142.6L87.9,142.3L89.3,142.1L90.8,142.1 M90.8,224.6L90.8,224.5L90.8,224.3L90.8,224.0L90.8,223.6L90.8,223.1L90.8,222.5L90.8,221.7L90.8,220.9L90.8,219.9L90.8,218.8L90.8,217.7L90.8,216.4L90.8,215.1L90.8,213.6L90.8,212.1L90.8,210.5L90.8,208.8L90.8,207.0L90.8,205.2L90.8,203.3L90.8,201.3L90.8,199.3L90.8,197.3L90.8,195.2L90.8,193.1L90.8,190.9L90.8,188.8L90.8,186.6L90.8,184.4L90.8,182.2L90.8,180.0L90.8,177.8L90.8,175.7L90.8,173.5L90.8,171.4L90.8,169.3L90.8,167.3L90.8,165.3L90.8,163.3L90.8,161.4L90.8,159.6L90.8,157.8L90.8,156.1L90.8,154.5L90.8,153.0L90.8,151.5L90.8,150.2L90.8,148.9L90.8,147.8L90.8,146.7L90.8,145.7L90.8,144.9L90.8,144.1L90.8,143.5L90.8,143.0L90.8,142.6L90.8,142.3L90.8,142.1L90.8,142.1 M90.8,224.6L92.3,224.5L93.7,224.3L95.2,224.0L96.6,223.6L98.0,223.1L99.4,222.5L100.8,221.7L102.2,220.9L103.5,219.9L104.8,218.8L106.0,217.7L107.2,216.4L108.4,215.1L109.5,213.6L110.5,212.1L111.5,210.5L112.4,208.8L113.3,207.0L114.1,205.2L114.9,203.3L115.5,201.3L116.1,199.3L116.7,197.3L117.1,195.2L117.5,193.1L117.8,190.9L118.1,188.8L118.2,186.6L118.3,184.4L118.3,182.2L118.2,180.0L118.1,177.8L117.8,175.7L117.5,173.5L117.1,171.4L116.7,169.3L116.1,167.3L115.5,165.3L114.9,163.3L114.1,161.4L113.3,159.6L112.4,157.8L111.5,156.1L110.5,154.5L109.5,153.0L108.4,151.5L107.2,150.2L106.0,148.9L104.8,147.8L103.5,146.7L102.2,145.7L100.8,144.9L99.4,144.1L98.0,143.5L96.6,143.0L95.2,142.6L93.7,142.3L92.3,142.1L90.8,142.1 M90.8,224.6L93.7,224.5L96.6,224.3L99.5,224.0L102.4,223.6L105.3,223.1L108.1,222.5L110.8,221.7L113.5,220.9L116.2,219.9L118.7,218.8L121.2,217.7L123.6,216.4L125.9,215.1L128.1,213.6L130.2,212.1L132.2,210.5L134.1,208.8L135.8,207.0L137.4,205.2L138.9,203.3L140.3,201.3L141.5,199.3L142.5,197.3L143.5,195.2L144.2,193.1L144.8,190.9L145.3,188.8L145.6,186.6L145.8,184.4L145.8,182.2L145.6,180.0L145.3,177.8L144.8,175.7L144.2,173.5L143.5,171.4L142.5,169.3L141.5,167.3L140.3,165.3L138.9,163.3L137.4,161.4L135.8,159.6L134.1,157.8L132.2,156.1L130.2,154.5L128.1,153.0L125.9,151.5L123.6,150.2L121.2,148.9L118.7,147.8L116.2,146.7L113.5,145.7L110.8,144.9L108.1,144.1L105.3,143.5L102.4,143.0L99.5,142.6L96.6,142.3L93.7,142.1L90.8,142.1 M63.9,222.3 L117.7,222.3 M20.9,205.2 L160.7,205.2 M8.3,183.3 L173.3,183.3 M20.9,161.4 L160.7,161.4 M63.9,144.3 L117.7,144.3" fill="none" stroke="#000" stroke-opacity="0.22" stroke-width="0.35" stroke-dasharray="0.5,1.2"/>
<ellipse cx="90.80" cy="183.30" rx="82.50" ry="41.25" fill="none" stroke="#000" stroke-opacity="0.45" stroke-width="0.4"/>
<text class="g" x="7.3" y="185.5" text-anchor="middle">180°W</text>
<text class="g" x="35.1" y="185.5" text-anchor="middle">120°W</text>
<text class="g" x="62.6" y="185.5" text-anchor="middle">60°W</text>
<text class="g" x="117.6" y="185.5" text-anchor="middle">60°E</text>
<text class="g" x="145.1" y="185.5" text-anchor="middle">120°E</text>
<text class="g" x="172.9" y="185.5" text-anchor="middle">180°E</text>
<text class="g" x="61.5" y="145.9" text-anchor="end">80°N</text>
<text class="g" x="18.5" y="163.0" text-anchor="end">40°N</text>
<text class="g" x="18.5" y="207.2" text-anchor="end">40°S</text>
<text class="g" x="61.5" y="224.3" text-anchor="end">80°S</text>
<path d="M71.20,174.90L71.66,176.17L73.01,176.21L71.94,177.04L72.32,178.34L71.20,177.58L70.08,178.34L70.46,177.04L69.39,176.21L70.74,176.17Z M94.70,218.40L95.16,219.67L96.51,219.71L95.44,220.54L95.82,221.84L94.70,221.08L93.58,221.84L93.96,220.54L92.89,219.71L94.24,219.67Z M23.10,162.10L23.56,163.37L24.91,163.41L23.84,164.24L24.22,165.54L23.10,164.78L21.98,165.54L22.36,164.24L21.29,163.41L22.64,163.37Z M127.30,183.00L127.76,184.27L129.11,184.31L128.04,185.14L128.42,186.44L127.30,185.68L126.18,186.44L126.56,185.14L125.49,184.31L126.84,184.27Z M117.60,217.40L118.06,218.67L119.41,218.71L118.34,219.54L118.72,220.84L117.60,220.08L116.48,220.84L116.86,219.54L115.79,218.71L117.14,218.67Z M70.20,150.10L70.66,151.37L72.01,151.41L70.94,152.24L71.32,153.54L70.20,152.78L69.08,153.54L69.46,152.24L68.39,151.41L69.74,151.37Z M16.50,174.20L16.96,175.47L18.31,175.51L17.24,176.34L17.62,177.64L16.50,176.88L15.38,177.64L15.76,176.34L14.69,175.51L16.04,175.47Z M11.60,183.30L12.06,184.57L13.41,184.61L12.34,185.44L12.72,186.74L11.60,185.98L10.48,186.74L10.86,185.44L9.79,184.61L11.14,184.57Z M128.30,151.70L128.76,152.97L130.11,153.01L129.04,153.84L129.42,155.14L128.30,154.38L127.18,155.14L127.56,153.84L126.49,153.01L127.84,152.97Z M49.20,211.20L49.66,212.47L51.01,212.51L49.94,213.34L50.32,214.64L49.20,213.88L48.08,214.64L48.46,213.34L47.39,212.51L48.74,212.47Z M70.00,157.60L70.46,158.87L71.81,158.91L70.74,159.74L71.12,161.04L70.00,160.28L68.88,161.04L69.26,159.74L68.19,158.91L69.54,158.87Z M37.80,161.10L38.26,162.37L39.61,162.41L38.54,163.24L38.92,164.54L37.80,163.78L36.68,164.54L37.06,163.24L35.99,162.41L37.34,162.37Z M82.20,180.20L82.66,181.47L84.01,181.51L82.94,182.34L83.32,183.64L82.20,182.88L81.08,183.64L81.46,182.34L80.39,181.51L81.74,181.47Z M88.50,181.10L88.96,182.37L90.31,182.41L89.24,183.24L89.62,184.54L88.50,183.78L87.38,184.54L87.76,183.24L86.69,182.41L88.04,182.37Z M106.60,171.20L107.06,172.47L108.41,172.51L107.34,173.34L107.72,174.64L106.60,173.88L105.48,174.64L105.86,173.34L104.79,172.51L106.14,172.47Z M120.60,171.40L121.06,172.67L122.41,172.71L121.34,173.54L121.72,174.84L120.60,174.08L119.48,174.84L119.86,173.54L118.79,172.71L120.14,172.67Z M52.80,191.40L53.26,192.67L54.61,192.71L53.54,193.54L53.92,194.84L52.80,194.08L51.68,194.84L52.06,193.54L50.99,192.71L52.34,192.67Z M94.80,210.90L95.26,212.17L96.61,212.21L95.54,213.04L95.92,214.34L94.80,213.58L93.68,214.34L94.06,213.04L92.99,212.21L94.34,212.17Z M134.80,202.30L135.26,203.57L136.61,203.61L135.54,204.44L135.92,205.74L134.80,204.98L133.68,205.74L134.06,204.44L132.99,203.61L134.34,203.57Z" fill="#f4f4ff" stroke="#101028" stroke-width="0.5" stroke-linejoin="miter"/>
<circle cx="91.00" cy="183.30" r="1.75" fill="#000"/>
<text class="t" x="90.7" y="138.2">N = 20</text>
<rect x="8.30" y="230.80" width="165.00" height="7.80" fill="url(#jet)" stroke="#000" stroke-opacity="0.5" stroke-width="0.3"/>
<text class="k" x="20.30" y="243.80">-2.5</text>
<text class="k" x="34.40" y="243.80">-2</text>
<text class="k" x="48.50" y="243.80">-1.5</text>
<text class="k" x="62.60" y="243.80">-1</text>
<text class="k" x="76.70" y="243.80">-0.5</text>
<text class="k" x="90.80" y="243.80">0</text>
<text class="k" x="104.90" y="243.80">0.5</text>
<text class="k" x="119.00" y="243.80">1</text>
<text class="k" x="133.10" y="243.80">1.5</text>
<text class="k" x="147.20" y="243.80">2</text>
<text class="k" x="161.30" y="243.80">2.5</text>
<path d="M20.30,230.80 v1 M20.30,238.60 v-1 M34.40,230.80 v1 M34.40,238.60 v-1 M48.50,230.80 v1 M48.50,238.60 v-1 M62.60,230.80 v1 M62.60,238.60 v-1 M76.70,230.80 v1 M76.70,238.60 v-1 M90.80,230.80 v1 M90.80,238.60 v-1 M104.90,230.80 v1 M104.90,238.60 v-1 M119.00,230.80 v1 M119.00,238.60 v-1 M133.10,230.80 v1 M133.10,238.60 v-1 M147.20,230.80 v1 M147.20,238.60 v-1 M161.30,230.80 v1 M161.30,238.60 v-1" stroke="#000" stroke-opacity="0.6" stroke-width="0.3" fill="none"/>
<path d="M277.7,224.6L274.8,224.5L271.9,224.3L269.0,224.0L266.1,223.6L263.2,223.1L260.4,222.5L257.7,221.7L255.0,220.9L252.3,219.9L249.8,218.8L247.3,217.7L244.9,216.4L242.6,215.1L240.4,213.6L238.3,212.1L236.3,210.5L234.4,208.8L232.7,207.0L231.1,205.2L229.6,203.3L228.2,201.3L227.0,199.3L226.0,197.3L225.0,195.2L224.3,193.1L223.7,190.9L223.2,188.8L222.9,186.6L222.7,184.4L222.7,182.2L222.9,180.0L223.2,177.8L223.7,175.7L224.3,173.5L225.0,171.4L226.0,169.3L227.0,167.3L228.2,165.3L229.6,163.3L231.1,161.4L232.7,159.6L234.4,157.8L236.3,156.1L238.3,154.5L240.4,153.0L242.6,151.5L244.9,150.2L247.3,148.9L249.8,147.8L252.3,146.7L255.0,145.7L257.7,144.9L260.4,144.1L263.2,143.5L266.1,143.0L269.0,142.6L271.9,142.3L274.8,142.1L277.7,142.1 M277.7,224.6L276.2,224.5L274.8,224.3L273.3,224.0L271.9,223.6L270.5,223.1L269.1,222.5L267.7,221.7L266.3,220.9L265.0,219.9L263.7,218.8L262.5,217.7L261.3,216.4L260.1,215.1L259.0,213.6L258.0,212.1L257.0,210.5L256.1,208.8L255.2,207.0L254.4,205.2L253.6,203.3L253.0,201.3L252.4,199.3L251.8,197.3L251.4,195.2L251.0,193.1L250.7,190.9L250.4,188.8L250.3,186.6L250.2,184.4L250.2,182.2L250.3,180.0L250.4,177.8L250.7,175.7L251.0,173.5L251.4,171.4L251.8,169.3L252.4,167.3L253.0,165.3L253.6,163.3L254.4,161.4L255.2,159.6L256.1,157.8L257.0,156.1L258.0,154.5L259.0,153.0L260.1,151.5L261.3,150.2L262.5,148.9L263.7,147.8L265.0,146.7L266.3,145.7L267.7,144.9L269.1,144.1L270.5,143.5L271.9,143.0L273.3,142.6L274.8,142.3L276.2,142.1L277.7,142.1 M277.7,224.6L277.7,224.5L277.7,224.3L277.7,224.0L277.7,223.6L277.7,223.1L277.7,222.5L277.7,221.7L277.7,220.9L277.7,219.9L277.7,218.8L277.7,217.7L277.7,216.4L277.7,215.1L277.7,213.6L277.7,212.1L277.7,210.5L277.7,208.8L277.7,207.0L277.7,205.2L277.7,203.3L277.7,201.3L277.7,199.3L277.7,197.3L277.7,195.2L277.7,193.1L277.7,190.9L277.7,188.8L277.7,186.6L277.7,184.4L277.7,182.2L277.7,180.0L277.7,177.8L277.7,175.7L277.7,173.5L277.7,171.4L277.7,169.3L277.7,167.3L277.7,165.3L277.7,163.3L277.7,161.4L277.7,159.6L277.7,157.8L277.7,156.1L277.7,154.5L277.7,153.0L277.7,151.5L277.7,150.2L277.7,148.9L277.7,147.8L277.7,146.7L277.7,145.7L277.7,144.9L277.7,144.1L277.7,143.5L277.7,143.0L277.7,142.6L277.7,142.3L277.7,142.1L277.7,142.1 M277.7,224.6L279.2,224.5L280.6,224.3L282.1,224.0L283.5,223.6L284.9,223.1L286.3,222.5L287.7,221.7L289.1,220.9L290.4,219.9L291.7,218.8L292.9,217.7L294.1,216.4L295.3,215.1L296.4,213.6L297.4,212.1L298.4,210.5L299.3,208.8L300.2,207.0L301.0,205.2L301.8,203.3L302.4,201.3L303.0,199.3L303.6,197.3L304.0,195.2L304.4,193.1L304.7,190.9L305.0,188.8L305.1,186.6L305.2,184.4L305.2,182.2L305.1,180.0L305.0,177.8L304.7,175.7L304.4,173.5L304.0,171.4L303.6,169.3L303.0,167.3L302.4,165.3L301.8,163.3L301.0,161.4L300.2,159.6L299.3,157.8L298.4,156.1L297.4,154.5L296.4,153.0L295.3,151.5L294.1,150.2L292.9,148.9L291.7,147.8L290.4,146.7L289.1,145.7L287.7,144.9L286.3,144.1L284.9,143.5L283.5,143.0L282.1,142.6L280.6,142.3L279.2,142.1L277.7,142.1 M277.7,224.6L280.6,224.5L283.5,224.3L286.4,224.0L289.3,223.6L292.2,223.1L295.0,222.5L297.7,221.7L300.4,220.9L303.1,219.9L305.6,218.8L308.1,217.7L310.5,216.4L312.8,215.1L315.0,213.6L317.1,212.1L319.1,210.5L321.0,208.8L322.7,207.0L324.3,205.2L325.8,203.3L327.2,201.3L328.4,199.3L329.4,197.3L330.4,195.2L331.1,193.1L331.7,190.9L332.2,188.8L332.5,186.6L332.7,184.4L332.7,182.2L332.5,180.0L332.2,177.8L331.7,175.7L331.1,173.5L330.4,171.4L329.4,169.3L328.4,167.3L327.2,165.3L325.8,163.3L324.3,161.4L322.7,159.6L321.0,157.8L319.1,156.1L317.1,154.5L315.0,153.0L312.8,151.5L310.5,150.2L308.1,148.9L305.6,147.8L303.1,146.7L300.4,145.7L297.7,144.9L295.0,144.1L292.2,143.5L289.3,143.0L286.4,142.6L283.5,142.3L280.6,142.1L277.7,142.1 M250.8,222.3 L304.6,222.3 M207.8,205.2 L347.6,205.2 M195.2,183.3 L360.2,183.3 M207.8,161.4 L347.6,161.4 M250.8,144.3 L304.6,144.3" fill="none" stroke="#000" stroke-opacity="0.22" stroke-width="0.35" stroke-dasharray="0.5,1.2"/>
<ellipse cx="277.70" cy="183.30" rx="82.50" ry="41.25" fill="none" stroke="#000" stroke-opacity="0.45" stroke-width="0.4"/>
<text class="g" x="194.2" y="185.5" text-anchor="middle">180°W</text>
<text class="g" x="222.0" y="185.5" text-anchor="middle">120°W</text>
<text class="g" x="249.5" y="185.5" text-anchor="middle">60°W</text>
<text class="g" x="304.5" y="185.5" text-anchor="middle">60°E</text>
<text class="g" x="332.0" y="185.5" text-anchor="middle">120°E</text>
<text class="g" x="359.8" y="185.5" text-anchor="middle">180°E</text>
<text class="g" x="248.4" y="145.9" text-anchor="end">80°N</text>
<text class="g" x="205.4" y="163.0" text-anchor="end">40°N</text>
<text class="g" x="205.4" y="207.2" text-anchor="end">40°S</text>
<text class="g" x="248.4" y="224.3" text-anchor="end">80°S</text>
<path d="M258.10,174.90L258.56,176.17L259.91,176.21L258.84,177.04L259.22,178.34L258.10,177.58L256.98,178.34L257.36,177.04L256.29,176.21L257.64,176.17Z M281.60,218.40L282.06,219.67L283.41,219.71L282.34,220.54L282.72,221.84L281.60,221.08L280.48,221.84L280.86,220.54L279.79,219.71L281.14,219.67Z M210.00,162.10L210.46,163.37L211.81,163.41L210.74,164.24L211.12,165.54L210.00,164.78L208.88,165.54L209.26,164.24L208.19,163.41L209.54,163.37Z M314.20,183.00L314.66,184.27L316.01,184.31L314.94,185.14L315.32,186.44L314.20,185.68L313.08,186.44L313.46,185.14L312.39,184.31L313.74,184.27Z M304.50,217.40L304.96,218.67L306.31,218.71L305.24,219.54L305.62,220.84L304.50,220.08L303.38,220.84L303.76,219.54L302.69,218.71L304.04,218.67Z M257.10,150.10L257.56,151.37L258.91,151.41L257.84,152.24L258.22,153.54L257.10,152.78L255.98,153.54L256.36,152.24L255.29,151.41L256.64,151.37Z M203.40,174.20L203.86,175.47L205.21,175.51L204.14,176.34L204.52,177.64L203.40,176.88L202.28,177.64L202.66,176.34L201.59,175.51L202.94,175.47Z M198.50,183.30L198.96,184.57L200.31,184.61L199.24,185.44L199.62,186.74L198.50,185.98L197.38,186.74L197.76,185.44L196.69,184.61L198.04,184.57Z M315.20,151.70L315.66,152.97L317.01,153.01L315.94,153.84L316.32,155.14L315.20,154.38L314.08,155.14L314.46,153.84L313.39,153.01L314.74,152.97Z M236.10,211.20L236.56,212.47L237.91,212.51L236.84,213.34L237.22,214.64L236.10,213.88L234.98,214.64L235.36,213.34L234.29,212.51L235.64,212.47Z M256.90,157.60L257.36,158.87L258.71,158.91L257.64,159.74L258.02,161.04L256.90,160.28L255.78,161.04L256.16,159.74L255.09,158.91L256.44,158.87Z M224.70,161.10L225.16,162.37L226.51,162.41L225.44,163.24L225.82,164.54L224.70,163.78L223.58,164.54L223.96,163.24L222.89,162.41L224.24,162.37Z M269.10,180.20L269.56,181.47L270.91,181.51L269.84,182.34L270.22,183.64L269.10,182.88L267.98,183.64L268.36,182.34L267.29,181.51L268.64,181.47Z M275.40,181.10L275.86,182.37L277.21,182.41L276.14,183.24L276.52,184.54L275.40,183.78L274.28,184.54L274.66,183.24L273.59,182.41L274.94,182.37Z M293.50,171.20L293.96,172.47L295.31,172.51L294.24,173.34L294.62,174.64L293.50,173.88L292.38,174.64L292.76,173.34L291.69,172.51L293.04,172.47Z M307.50,171.40L307.96,172.67L309.31,172.71L308.24,173.54L308.62,174.84L307.50,174.08L306.38,174.84L306.76,173.54L305.69,172.71L307.04,172.67Z M239.70,191.40L240.16,192.67L241.51,192.71L240.44,193.54L240.82,194.84L239.70,194.08L238.58,194.84L238.96,193.54L237.89,192.71L239.24,192.67Z M281.70,210.90L282.16,212.17L283.51,212.21L282.44,213.04L282.82,214.34L281.70,213.58L280.58,214.34L280.96,213.04L279.89,212.21L281.24,212.17Z M321.70,202.30L322.16,203.57L323.51,203.61L322.44,204.44L322.82,205.74L321.70,204.98L320.58,205.74L320.96,204.44L319.89,203.61L321.24,203.57Z M223.40,152.10L223.86,153.37L225.21,153.41L224.14,154.24L224.52,155.54L223.40,154.78L222.28,155.54L222.66,154.24L221.59,153.41L222.94,153.37Z M319.30,182.00L319.76,183.27L321.11,183.31L320.04,184.14L320.42,185.44L319.30,184.68L318.18,185.44L318.56,184.14L317.49,183.31L318.84,183.27Z M232.60,213.00L233.06,214.27L234.41,214.31L233.34,215.14L233.72,216.44L232.60,215.68L231.48,216.44L231.86,215.14L230.79,214.31L232.14,214.27Z M240.60,209.30L241.06,210.57L242.41,210.61L241.34,211.44L241.72,212.74L240.60,211.98L239.48,212.74L239.86,211.44L238.79,210.61L240.14,210.57Z M297.60,215.40L298.06,216.67L299.41,216.71L298.34,217.54L298.72,218.84L297.60,218.08L296.48,218.84L296.86,217.54L295.79,216.71L297.14,216.67Z" fill="#f4f4ff" stroke="#101028" stroke-width="0.5" stroke-linejoin="miter"/>
<circle cx="277.90" cy="183.30" r="1.75" fill="#000"/>
<text class="t" x="277.6" y="138.2">N = 25</text>
<rect x="195.20" y="230.80" width="165.00" height="7.80" fill="url(#jet)" stroke="#000" stroke-opacity="0.5" stroke-width="0.3"/>
<text class="k" x="212.00" y="243.80">-3</text>
<text class="k" x="233.90" y="243.80">-2</text>
<text class="k" x="255.80" y="243.80">-1</text>
<text class="k" x="277.70" y="243.80">0</text>
<text class="k" x="299.60" y="243.80">1</text>
<text class="k" x="321.50" y="243.80">2</text>
<text class="k" x="343.40" y="243.80">3</text>
<path d="M212.00,230.80 v1 M212.00,238.60 v-1 M233.90,230.80 v1 M233.90,238.60 v-1 M255.80,230.80 v1 M255.80,238.60 v-1 M277.70,230.80 v1 M277.70,238.60 v-1 M299.60,230.80 v1 M299.60,238.60 v-1 M321.50,230.80 v1 M321.50,238.60 v-1 M343.40,230.80 v1 M343.40,238.60 v-1" stroke="#000" stroke-opacity="0.6" stroke-width="0.3" fill="none"/>
<path d="M464.4,224.6L461.5,224.5L458.6,224.3L455.7,224.0L452.8,223.6L449.9,223.1L447.1,222.5L444.4,221.7L441.7,220.9L439.0,219.9L436.5,218.8L434.0,217.7L431.6,216.4L429.3,215.1L427.1,213.6L425.0,212.1L423.0,210.5L421.1,208.8L419.4,207.0L417.8,205.2L416.3,203.3L414.9,201.3L413.7,199.3L412.7,197.3L411.7,195.2L411.0,193.1L410.4,190.9L409.9,188.8L409.6,186.6L409.4,184.4L409.4,182.2L409.6,180.0L409.9,177.8L410.4,175.7L411.0,173.5L411.7,171.4L412.7,169.3L413.7,167.3L414.9,165.3L416.3,163.3L417.8,161.4L419.4,159.6L421.1,157.8L423.0,156.1L425.0,154.5L427.1,153.0L429.3,151.5L431.6,150.2L434.0,148.9L436.5,147.8L439.0,146.7L441.7,145.7L444.4,144.9L447.1,144.1L449.9,143.5L452.8,143.0L455.7,142.6L458.6,142.3L461.5,142.1L464.4,142.1 M464.4,224.6L462.9,224.5L461.5,224.3L460.0,224.0L458.6,223.6L457.2,223.1L455.8,222.5L454.4,221.7L453.0,220.9L451.7,219.9L450.4,218.8L449.2,217.7L448.0,216.4L446.8,215.1L445.7,213.6L444.7,212.1L443.7,210.5L442.8,208.8L441.9,207.0L441.1,205.2L440.3,203.3L439.7,201.3L439.1,199.3L438.5,197.3L438.1,195.2L437.7,193.1L437.4,190.9L437.1,188.8L437.0,186.6L436.9,184.4L436.9,182.2L437.0,180.0L437.1,177.8L437.4,175.7L437.7,173.5L438.1,171.4L438.5,169.3L439.1,167.3L439.7,165.3L440.3,163.3L441.1,161.4L441.9,159.6L442.8,157.8L443.7,156.1L444.7,154.5L445.7,153.0L446.8,151.5L448.0,150.2L449.2,148.9L450.4,147.8L451.7,146.7L453.0,145.7L454.4,144.9L455.8,144.1L457.2,143.5L458.6,143.0L460.0,142.6L461.5,142.3L462.9,142.1L464.4,142.1 M464.4,224.6L464.4,224.5L464.4,224.3L464.4,224.0L464.4,223.6L464.4,223.1L464.4,222.5L464.4,221.7L464.4,220.9L464.4,219.9L464.4,218.8L464.4,217.7L464.4,216.4L464.4,215.1L464.4,213.6L464.4,212.1L464.4,210.5L464.4,208.8L464.4,207.0L464.4,205.2L464.4,203.3L464.4,201.3L464.4,199.3L464.4,197.3L464.4,195.2L464.4,193.1L464.4,190.9L464.4,188.8L464.4,186.6L464.4,184.4L464.4,182.2L464.4,180.0L464.4,177.8L464.4,175.7L464.4,173.5L464.4,171.4L464.4,169.3L464.4,167.3L464.4,165.3L464.4,163.3L464.4,161.4L464.4,159.6L464.4,157.8L464.4,156.1L464.4,154.5L464.4,153.0L464.4,151.5L464.4,150.2L464.4,148.9L464.4,147.8L464.4,146.7L464.4,145.7L464.4,144.9L464.4,144.1L464.4,143.5L464.4,143.0L464.4,142.6L464.4,142.3L464.4,142.1L464.4,142.1 M464.4,224.6L465.9,224.5L467.3,224.3L468.8,224.0L470.2,223.6L471.6,223.1L473.0,222.5L474.4,221.7L475.8,220.9L477.1,219.9L478.4,218.8L479.6,217.7L480.8,216.4L482.0,215.1L483.1,213.6L484.1,212.1L485.1,210.5L486.0,208.8L486.9,207.0L487.7,205.2L488.5,203.3L489.1,201.3L489.7,199.3L490.3,197.3L490.7,195.2L491.1,193.1L491.4,190.9L491.7,188.8L491.8,186.6L491.9,184.4L491.9,182.2L491.8,180.0L491.7,177.8L491.4,175.7L491.1,173.5L490.7,171.4L490.3,169.3L489.7,167.3L489.1,165.3L488.5,163.3L487.7,161.4L486.9,159.6L486.0,157.8L485.1,156.1L484.1,154.5L483.1,153.0L482.0,151.5L480.8,150.2L479.6,148.9L478.4,147.8L477.1,146.7L475.8,145.7L474.4,144.9L473.0,144.1L471.6,143.5L470.2,143.0L468.8,142.6L467.3,142.3L465.9,142.1L464.4,142.1 M464.4,224.6L467.3,224.5L470.2,224.3L473.1,224.0L476.0,223.6L478.9,223.1L481.7,222.5L484.4,221.7L487.1,220.9L489.8,219.9L492.3,218.8L494.8,217.7L497.2,216.4L499.5,215.1L501.7,213.6L503.8,212.1L505.8,210.5L507.7,208.8L509.4,207.0L511.0,205.2L512.5,203.3L513.9,201.3L515.1,199.3L516.1,197.3L517.1,195.2L517.8,193.1L518.4,190.9L518.9,188.8L519.2,186.6L519.4,184.4L519.4,182.2L519.2,180.0L518.9,177.8L518.4,175.7L517.8,173.5L517.1,171.4L516.1,169.3L515.1,167.3L513.9,165.3L512.5,163.3L511.0,161.4L509.4,159.6L507.7,157.8L505.8,156.1L503.8,154.5L501.7,153.0L499.5,151.5L497.2,150.2L494.8,148.9L492.3,147.8L489.8,146.7L487.1,145.7L484.4,144.9L481.7,144.1L478.9,143.5L476.0,143.0L473.1,142.6L470.2,142.3L467.3,142.1L464.4,142.1 M437.5,222.3 L491.3,222.3 M394.5,205.2 L534.3,205.2 M381.9,183.3 L546.9,183.3 M394.5,161.4 L534.3,161.4 M437.5,144.3 L491.3,144.3" fill="none" stroke="#000" stroke-opacity="0.22" stroke-width="0.35" stroke-dasharray="0.5,1.2"/>
<ellipse cx="464.40" cy="183.30" rx="82.50" ry="41.25" fill="none" stroke="#000" stroke-opacity="0.45" stroke-width="0.4"/>
<text class="g" x="380.9" y="185.5" text-anchor="middle">180°W</text>
<text class="g" x="408.7" y="185.5" text-anchor="middle">120°W</text>
<text class="g" x="436.2" y="185.5" text-anchor="middle">60°W</text>
<text class="g" x="491.2" y="185.5" text-anchor="middle">60°E</text>
<text class="g" x="518.7" y="185.5" text-anchor="middle">120°E</text>
<text class="g" x="546.5" y="185.5" text-anchor="middle">180°E</text>
<text class="g" x="435.1" y="145.9" text-anchor="end">80°N</text>
<text class="g" x="392.1" y="163.0" text-anchor="end">40°N</text>
<text class="g" x="392.1" y="207.2" text-anchor="end">40°S</text>
<text class="g" x="435.1" y="224.3" text-anchor="end">80°S</text>
<path d="M444.80,174.90L445.26,176.17L446.61,176.21L445.54,177.04L445.92,178.34L444.80,177.58L443.68,178.34L444.06,177.04L442.99,176.21L444.34,176.17Z M468.30,218.40L468.76,219.67L470.11,219.71L469.04,220.54L469.42,221.84L468.30,221.08L467.18,221.84L467.56,220.54L466.49,219.71L467.84,219.67Z M396.70,162.10L397.16,163.37L398.51,163.41L397.44,164.24L397.82,165.54L396.70,164.78L395.58,165.54L395.96,164.24L394.89,163.41L396.24,163.37Z M500.90,183.00L501.36,184.27L502.71,184.31L501.64,185.14L502.02,186.44L500.90,185.68L499.78,186.44L500.16,185.14L499.09,184.31L500.44,184.27Z M491.20,217.40L491.66,218.67L493.01,218.71L491.94,219.54L492.32,220.84L491.20,220.08L490.08,220.84L490.46,219.54L489.39,218.71L490.74,218.67Z M443.80,150.10L444.26,151.37L445.61,151.41L444.54,152.24L444.92,153.54L443.80,152.78L442.68,153.54L443.06,152.24L441.99,151.41L443.34,151.37Z M390.10,174.20L390.56,175.47L391.91,175.51L390.84,176.34L391.22,177.64L390.10,176.88L388.98,177.64L389.36,176.34L388.29,175.51L389.64,175.47Z M385.20,183.30L385.66,184.57L387.01,184.61L385.94,185.44L386.32,186.74L385.20,185.98L384.08,186.74L384.46,185.44L383.39,184.61L384.74,184.57Z M501.90,151.70L502.36,152.97L503.71,153.01L502.64,153.84L503.02,155.14L501.90,154.38L500.78,155.14L501.16,153.84L500.09,153.01L501.44,152.97Z M422.80,211.20L423.26,212.47L424.61,212.51L423.54,213.34L423.92,214.64L422.80,213.88L421.68,214.64L422.06,213.34L420.99,212.51L422.34,212.47Z M443.60,157.60L444.06,158.87L445.41,158.91L444.34,159.74L444.72,161.04L443.60,160.28L442.48,161.04L442.86,159.74L441.79,158.91L443.14,158.87Z M411.40,161.10L411.86,162.37L413.21,162.41L412.14,163.24L412.52,164.54L411.40,163.78L410.28,164.54L410.66,163.24L409.59,162.41L410.94,162.37Z M455.80,180.20L456.26,181.47L457.61,181.51L456.54,182.34L456.92,183.64L455.80,182.88L454.68,183.64L455.06,182.34L453.99,181.51L455.34,181.47Z M462.10,181.10L462.56,182.37L463.91,182.41L462.84,183.24L463.22,184.54L462.10,183.78L460.98,184.54L461.36,183.24L460.29,182.41L461.64,182.37Z M480.20,171.20L480.66,172.47L482.01,172.51L480.94,173.34L481.32,174.64L480.20,173.88L479.08,174.64L479.46,173.34L478.39,172.51L479.74,172.47Z M494.20,171.40L494.66,172.67L496.01,172.71L494.94,173.54L495.32,174.84L494.20,174.08L493.08,174.84L493.46,173.54L492.39,172.71L493.74,172.67Z M426.40,191.40L426.86,192.67L428.21,192.71L427.14,193.54L427.52,194.84L426.40,194.08L425.28,194.84L425.66,193.54L424.59,192.71L425.94,192.67Z M468.40,210.90L468.86,212.17L470.21,212.21L469.14,213.04L469.52,214.34L468.40,213.58L467.28,214.34L467.66,213.04L466.59,212.21L467.94,212.17Z M508.40,202.30L508.86,203.57L510.21,203.61L509.14,204.44L509.52,205.74L508.40,204.98L507.28,205.74L507.66,204.44L506.59,203.61L507.94,203.57Z M410.10,152.10L410.56,153.37L411.91,153.41L410.84,154.24L411.22,155.54L410.10,154.78L408.98,155.54L409.36,154.24L408.29,153.41L409.64,153.37Z M506.00,182.00L506.46,183.27L507.81,183.31L506.74,184.14L507.12,185.44L506.00,184.68L504.88,185.44L505.26,184.14L504.19,183.31L505.54,183.27Z M419.30,213.00L419.76,214.27L421.11,214.31L420.04,215.14L420.42,216.44L419.30,215.68L418.18,216.44L418.56,215.14L417.49,214.31L418.84,214.27Z M427.30,209.30L427.76,210.57L429.11,210.61L428.04,211.44L428.42,212.74L427.30,211.98L426.18,212.74L426.56,211.44L425.49,210.61L426.84,210.57Z M484.30,215.40L484.76,216.67L486.11,216.71L485.04,217.54L485.42,218.84L484.30,218.08L483.18,218.84L483.56,217.54L482.49,216.71L483.84,216.67Z M434.40,147.70L434.86,148.97L436.21,149.01L435.14,149.84L435.52,151.14L434.40,150.38L433.28,151.14L433.66,149.84L432.59,149.01L433.94,148.97Z M434.40,154.10L434.86,155.37L436.21,155.41L435.14,156.24L435.52,157.54L434.40,156.78L433.28,157.54L433.66,156.24L432.59,155.41L433.94,155.37Z M453.20,153.50L453.66,154.77L455.01,154.81L453.94,155.64L454.32,156.94L453.20,156.18L452.08,156.94L452.46,155.64L451.39,154.81L452.74,154.77Z M423.50,157.70L423.96,158.97L425.31,159.01L424.24,159.84L424.62,161.14L423.50,160.38L422.38,161.14L422.76,159.84L421.69,159.01L423.04,158.97Z M394.60,164.10L395.06,165.37L396.41,165.41L395.34,166.24L395.72,167.54L394.60,166.78L393.48,167.54L393.86,166.24L392.79,165.41L394.14,165.37Z M393.40,171.40L393.86,172.67L395.21,172.71L394.14,173.54L394.52,174.84L393.40,174.08L392.28,174.84L392.66,173.54L391.59,172.71L392.94,172.67Z M431.20,169.50L431.66,170.77L433.01,170.81L431.94,171.64L432.32,172.94L431.20,172.18L430.08,172.94L430.46,171.64L429.39,170.81L430.74,170.77Z M427.30,178.00L427.76,179.27L429.11,179.31L428.04,180.14L428.42,181.44L427.30,180.68L426.18,181.44L426.56,180.14L425.49,179.31L426.84,179.27Z M448.70,184.20L449.16,185.47L450.51,185.51L449.44,186.34L449.82,187.64L448.70,186.88L447.58,187.64L447.96,186.34L446.89,185.51L448.24,185.47Z M450.60,183.50L451.06,184.77L452.41,184.81L451.34,185.64L451.72,186.94L450.60,186.18L449.48,186.94L449.86,185.64L448.79,184.81L450.14,184.77Z M474.60,173.80L475.06,175.07L476.41,175.11L475.34,175.94L475.72,177.24L474.60,176.48L473.48,177.24L473.86,175.94L472.79,175.11L474.14,175.07Z M477.30,178.30L477.76,179.57L479.11,179.61L478.04,180.44L478.42,181.74L477.30,180.98L476.18,181.74L476.56,180.44L475.49,179.61L476.84,179.57Z M485.20,186.80L485.66,188.07L487.01,188.11L485.94,188.94L486.32,190.24L485.20,189.48L484.08,190.24L484.46,188.94L483.39,188.11L484.74,188.07Z M507.10,149.00L507.56,150.27L508.91,150.31L507.84,151.14L508.22,152.44L507.10,151.68L505.98,152.44L506.36,151.14L505.29,150.31L506.64,150.27Z M472.90,162.10L473.36,163.37L474.71,163.41L473.64,164.24L474.02,165.54L472.90,164.78L471.78,165.54L472.16,164.24L471.09,163.41L472.44,163.37Z M529.90,185.60L530.36,186.87L531.71,186.91L530.64,187.74L531.02,189.04L529.90,188.28L528.78,189.04L529.16,187.74L528.09,186.91L529.44,186.87Z M407.70,200.70L408.16,201.97L409.51,202.01L408.44,202.84L408.82,204.14L407.70,203.38L406.58,204.14L406.96,202.84L405.89,202.01L407.24,201.97Z M432.30,204.80L432.76,206.07L434.11,206.11L433.04,206.94L433.42,208.24L432.30,207.48L431.18,208.24L431.56,206.94L430.49,206.11L431.84,206.07Z M448.10,206.40L448.56,207.67L449.91,207.71L448.84,208.54L449.22,209.84L448.10,209.08L446.98,209.84L447.36,208.54L446.29,207.71L447.64,207.67Z M449.30,212.50L449.76,213.77L451.11,213.81L450.04,214.64L450.42,215.94L449.30,215.18L448.18,215.94L448.56,214.64L447.49,213.81L448.84,213.77Z M500.00,186.70L500.46,187.97L501.81,188.01L500.74,188.84L501.12,190.14L500.00,189.38L498.88,190.14L499.26,188.84L498.19,188.01L499.54,187.97Z M471.70,205.80L472.16,207.07L473.51,207.11L472.44,207.94L472.82,209.24L471.70,208.48L470.58,209.24L470.96,207.94L469.89,207.11L471.24,207.07Z M499.40,216.60L499.86,217.87L501.21,217.91L500.14,218.74L500.52,220.04L499.40,219.28L498.28,220.04L498.66,218.74L497.59,217.91L498.94,217.87Z M443.10,158.20L443.56,159.47L444.91,159.51L443.84,160.34L444.22,161.64L443.10,160.88L441.98,161.64L442.36,160.34L441.29,159.51L442.64,159.47Z" fill="#f4f4ff" stroke="#101028" stroke-width="0.5" stroke-linejoin="miter"/>
<circle cx="464.60" cy="183.30" r="1.75" fill="#000"/>
<text class="t" x="464.3" y="138.2">N = 50</text>
<rect x="381.90" y="230.80" width="165.00" height="7.80" fill="url(#jet)" stroke="#000" stroke-opacity="0.5" stroke-width="0.3"/>
<text class="k" x="384.20" y="243.80">-20</text>
<text class="k" x="404.25" y="243.80">-15</text>
<text class="k" x="424.30" y="243.80">-10</text>
<text class="k" x="444.35" y="243.80">-5</text>
<text class="k" x="464.40" y="243.80">0</text>
<text class="k" x="484.45" y="243.80">5</text>
<text class="k" x="504.50" y="243.80">10</text>
<text class="k" x="524.55" y="243.80">15</text>
<text class="k" x="544.60" y="243.80">20</text>
<path d="M384.20,230.80 v1 M384.20,238.60 v-1 M404.25,230.80 v1 M404.25,238.60 v-1 M424.30,230.80 v1 M424.30,238.60 v-1 M444.35,230.80 v1 M444.35,238.60 v-1 M464.40,230.80 v1 M464.40,238.60 v-1 M484.45,230.80 v1 M484.45,238.60 v-1 M504.50,230.80 v1 M504.50,238.60 v-1 M524.55,230.80 v1 M524.55,238.60 v-1 M544.60,230.80 v1 M544.60,238.60 v-1" stroke="#000" stroke-opacity="0.6" stroke-width="0.3" fill="none"/>
</svg>
</body></html>
